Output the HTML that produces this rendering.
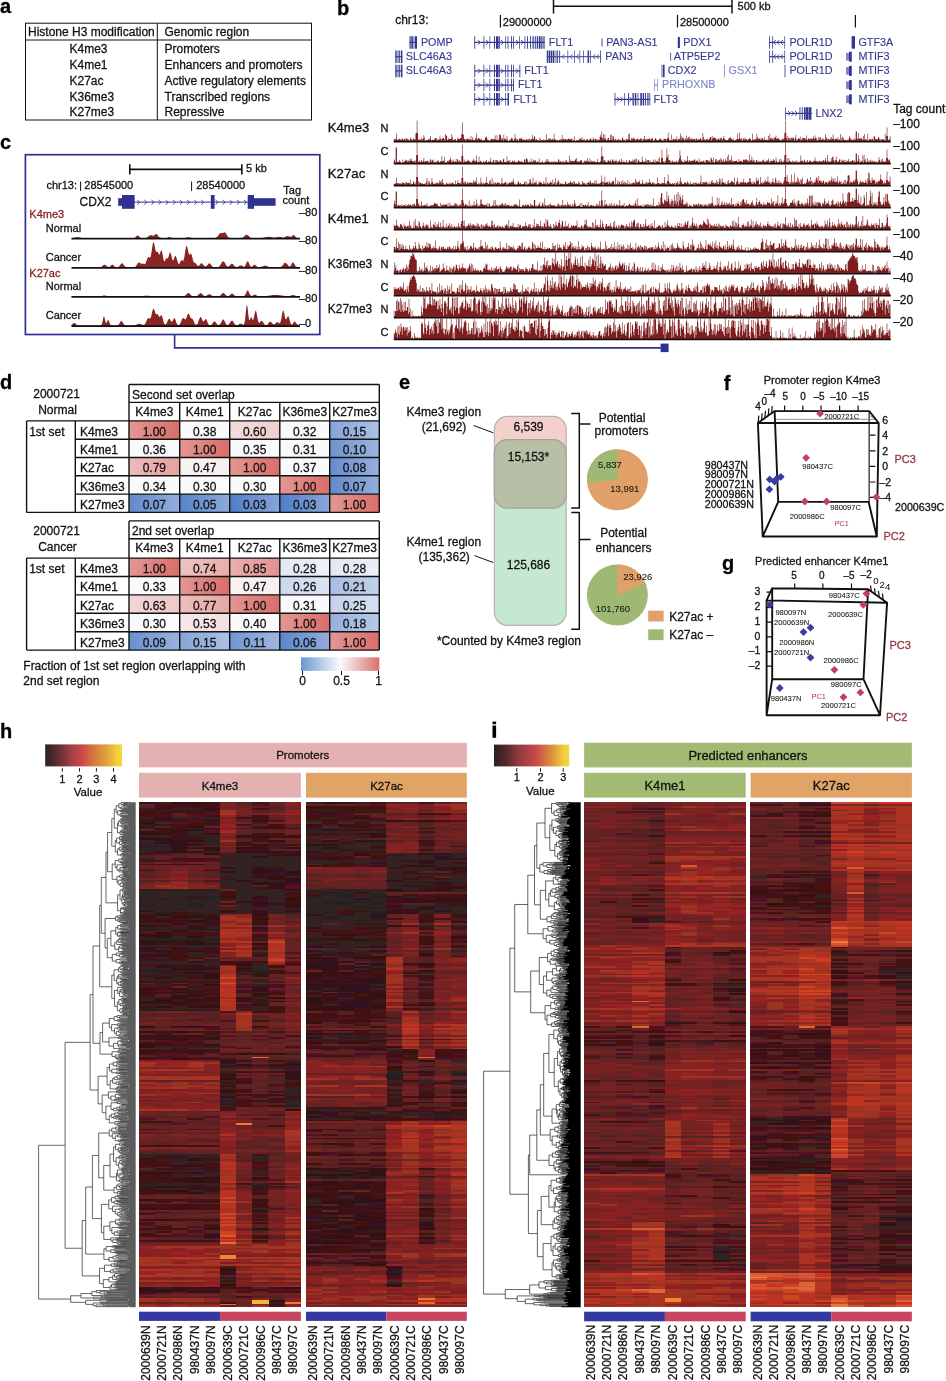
<!DOCTYPE html>
<html><head><meta charset="utf-8"><title>Figure</title>
<style>
html,body{margin:0;padding:0;background:#fff;}
body{width:946px;height:1381px;overflow:hidden;font-family:"Liberation Sans", sans-serif;}
svg{display:block;font-family:"Liberation Sans", sans-serif;}
svg text{font-family:"Liberation Sans", sans-serif;stroke-width:.28px;paint-order:stroke;}
svg{will-change:transform;}
</style></head><body>
<svg width="946" height="1381" viewBox="0 0 946 1381">
<rect width="946" height="1381" fill="#fff"/>
<text x="0" y="12.5" font-size="20" fill="#000" stroke="#000" font-weight="bold">a</text>
<rect x="25.5" y="23.2" width="286" height="96.8" fill="none" stroke="#111" stroke-width="1"/>
<line x1="25.5" y1="40" x2="311.5" y2="40" stroke="#111" stroke-width="1"/>
<line x1="157.3" y1="23.2" x2="157.3" y2="120" stroke="#111" stroke-width="1"/>
<text x="28" y="35.6" font-size="12" fill="#111" stroke="#111">Histone H3 modification</text>
<text x="164.5" y="35.6" font-size="12" fill="#111" stroke="#111">Genomic region</text>
<text x="69.5" y="53.1" font-size="12" fill="#111" stroke="#111">K4me3</text>
<text x="164.5" y="53.1" font-size="12" fill="#111" stroke="#111">Promoters</text>
<text x="69.5" y="68.9" font-size="12" fill="#111" stroke="#111">K4me1</text>
<text x="164.5" y="68.9" font-size="12" fill="#111" stroke="#111">Enhancers and promoters</text>
<text x="69.5" y="84.7" font-size="12" fill="#111" stroke="#111">K27ac</text>
<text x="164.5" y="84.7" font-size="12" fill="#111" stroke="#111">Active regulatory elements</text>
<text x="69.5" y="100.5" font-size="12" fill="#111" stroke="#111">K36me3</text>
<text x="164.5" y="100.5" font-size="12" fill="#111" stroke="#111">Transcribed regions</text>
<text x="69.5" y="116.3" font-size="12" fill="#111" stroke="#111">K27me3</text>
<text x="164.5" y="116.3" font-size="12" fill="#111" stroke="#111">Repressive</text>
<text x="337" y="15.3" font-size="20" fill="#000" stroke="#000" font-weight="bold">b</text>
<text x="395.2" y="23.6" font-size="12" fill="#111" stroke="#111">chr13:</text>
<line x1="553.5" y1="6.3" x2="732" y2="6.3" stroke="#111" stroke-width="1.6"/>
<line x1="553.5" y1="0" x2="553.5" y2="13.5" stroke="#111" stroke-width="1.5"/>
<line x1="732" y1="0" x2="732" y2="13.5" stroke="#111" stroke-width="1.5"/>
<text x="737.6" y="10.2" font-size="11" fill="#111" stroke="#111">500 kb</text>
<line x1="500.4" y1="14.9" x2="500.4" y2="27.4" stroke="#111" stroke-width="1.2"/>
<text x="502.8" y="25.5" font-size="11" fill="#111" stroke="#111">29000000</text>
<line x1="677.5" y1="14.9" x2="677.5" y2="27.4" stroke="#111" stroke-width="1.2"/>
<text x="679.9" y="25.5" font-size="11" fill="#111" stroke="#111">28500000</text>
<line x1="855.4" y1="14.9" x2="855.4" y2="27.4" stroke="#111" stroke-width="1.2"/>
<line x1="409.5" y1="42.4" x2="417" y2="42.4" stroke="#33388e" stroke-width="1.15"/>
<path d="M409.5 36.15h1.2v12.5h-1.2zM411.3 36.15h1.6v12.5h-1.6zM413.6 36.15h.8v12.5h-.8zM415 36.15h2v12.5h-2z" fill="#33388e"/>
<text x="420.9" y="45.7" font-size="10.8" fill="#33388e" stroke="#33388e" style="stroke-width:.12px">POMP</text>
<line x1="395.3" y1="56.7" x2="402.4" y2="56.7" stroke="#33388e" stroke-width="1.15"/>
<path d="M395.3 50.45h1.4v12.5h-1.4zM397.6 50.45h.9v12.5h-.9zM399.2 50.45h.9v12.5h-.9zM400.9 50.45h1.5v12.5h-1.5z" fill="#33388e"/>
<text x="405.8" y="60" font-size="10.8" fill="#33388e" stroke="#33388e" style="stroke-width:.12px">SLC46A3</text>
<line x1="395.3" y1="70.9" x2="402.4" y2="70.9" stroke="#33388e" stroke-width="1.15"/>
<path d="M395.3 64.65h1.4v12.5h-1.4zM397.6 64.65h.9v12.5h-.9zM399.2 64.65h.9v12.5h-.9zM400.9 64.65h1.5v12.5h-1.5z" fill="#33388e"/>
<text x="405.8" y="74.2" font-size="10.8" fill="#33388e" stroke="#33388e" style="stroke-width:.12px">SLC46A3</text>
<line x1="474.5" y1="42.4" x2="544.5" y2="42.4" stroke="#33388e" stroke-width="1.15"/>
<path d="M474.3 36.15h.9v12.5h-.9zM483.5 36.15h.8v12.5h-.8zM489.5 36.15h.7v12.5h-.7zM494 36.15h1v12.5h-1zM496 36.15h2.6v12.5h-2.6zM499.2 36.15h.8v12.5h-.8zM505 36.15h.7v12.5h-.7zM507.5 36.15h.9v12.5h-.9zM511 36.15h.9v12.5h-.9zM513.2 36.15h.8v12.5h-.8zM519 36.15h.7v12.5h-.7zM524.5 36.15h.8v12.5h-.8zM527 36.15h.9v12.5h-.9zM530 36.15h.9v12.5h-.9zM532.5 36.15h1.2v12.5h-1.2zM534.8 36.15h1v12.5h-1zM536.8 36.15h1.4v12.5h-1.4zM539 36.15h1.6v12.5h-1.6zM541.3 36.15h1.2v12.5h-1.2zM543.4 36.15h1.2v12.5h-1.2zM543.6 36.15h.9v12.5h-.9z" fill="#33388e"/>
<path d="M478 40l2.4 2.4l-2.4 2.4M486 40l2.4 2.4l-2.4 2.4M501 40l2.4 2.4l-2.4 2.4M516 40l2.4 2.4l-2.4 2.4M521 40l2.4 2.4l-2.4 2.4" fill="none" stroke="#33388e" stroke-width="0.9"/>
<text x="548.8" y="45.7" font-size="10.8" fill="#33388e" stroke="#33388e" style="stroke-width:.12px">FLT1</text>
<line x1="474.5" y1="70.9" x2="520.3" y2="70.9" stroke="#33388e" stroke-width="1.15"/>
<path d="M474.3 64.65h.9v12.5h-.9zM483.5 64.65h.8v12.5h-.8zM489.5 64.65h.7v12.5h-.7zM494 64.65h1v12.5h-1zM496 64.65h2.6v12.5h-2.6zM499.2 64.65h.8v12.5h-.8zM505 64.65h.7v12.5h-.7zM507.5 64.65h.9v12.5h-.9zM511 64.65h.9v12.5h-.9zM513.2 64.65h.8v12.5h-.8zM519.4 64.65h.9v12.5h-.9z" fill="#33388e"/>
<path d="M478 68.5l2.4 2.4l-2.4 2.4M486 68.5l2.4 2.4l-2.4 2.4M501 68.5l2.4 2.4l-2.4 2.4M516 68.5l2.4 2.4l-2.4 2.4" fill="none" stroke="#33388e" stroke-width="0.9"/>
<text x="524.3" y="74.2" font-size="10.8" fill="#33388e" stroke="#33388e" style="stroke-width:.12px">FLT1</text>
<line x1="474.5" y1="85.1" x2="514" y2="85.1" stroke="#33388e" stroke-width="1.15"/>
<path d="M474.3 78.85h.9v12.5h-.9zM483.5 78.85h.8v12.5h-.8zM489.5 78.85h.7v12.5h-.7zM494 78.85h1v12.5h-1zM496 78.85h2.6v12.5h-2.6zM499.2 78.85h.8v12.5h-.8zM505 78.85h.7v12.5h-.7zM507.5 78.85h.9v12.5h-.9zM511 78.85h.9v12.5h-.9zM513.2 78.85h.8v12.5h-.8zM513.1 78.85h.9v12.5h-.9z" fill="#33388e"/>
<path d="M478 82.7l2.4 2.4l-2.4 2.4M486 82.7l2.4 2.4l-2.4 2.4M501 82.7l2.4 2.4l-2.4 2.4" fill="none" stroke="#33388e" stroke-width="0.9"/>
<text x="518" y="88.4" font-size="10.8" fill="#33388e" stroke="#33388e" style="stroke-width:.12px">FLT1</text>
<line x1="474.5" y1="99.3" x2="509" y2="99.3" stroke="#33388e" stroke-width="1.15"/>
<path d="M474.3 93.05h.9v12.5h-.9zM483.5 93.05h.8v12.5h-.8zM489.5 93.05h.7v12.5h-.7zM494 93.05h1v12.5h-1zM496 93.05h2.6v12.5h-2.6zM499.2 93.05h.8v12.5h-.8zM505 93.05h.7v12.5h-.7zM507.5 93.05h.9v12.5h-.9zM508.1 93.05h.9v12.5h-.9z" fill="#33388e"/>
<path d="M478 96.9l2.4 2.4l-2.4 2.4M486 96.9l2.4 2.4l-2.4 2.4M501 96.9l2.4 2.4l-2.4 2.4" fill="none" stroke="#33388e" stroke-width="0.9"/>
<text x="513.2" y="102.6" font-size="10.8" fill="#33388e" stroke="#33388e" style="stroke-width:.12px">FLT1</text>
<path d="M601.6 38.4h.9v8h-.9z" fill="#33388e"/>
<text x="606.2" y="45.7" font-size="10.8" fill="#33388e" stroke="#33388e" style="stroke-width:.12px">PAN3-AS1</text>
<line x1="546.8" y1="56.7" x2="601" y2="56.7" stroke="#33388e" stroke-width="1.15"/>
<path d="M546.8 50.45h1.4v12.5h-1.4zM548.8 50.45h1.6v12.5h-1.6zM551 50.45h1v12.5h-1zM552.6 50.45h1.4v12.5h-1.4zM554.6 50.45h.8v12.5h-.8zM556.6 50.45h1.2v12.5h-1.2zM559.2 50.45h.9v12.5h-.9zM567.5 50.45h.7v12.5h-.7zM574 50.45h.7v12.5h-.7zM579.5 50.45h.7v12.5h-.7zM583 50.45h.7v12.5h-.7zM587.6 50.45h1.5v12.5h-1.5zM590 50.45h.7v12.5h-.7zM600.2 50.45h.8v12.5h-.8z" fill="#33388e"/>
<path d="M564.4 54.3l-2.4 2.4l2.4 2.4M572.4 54.3l-2.4 2.4l2.4 2.4M578.9 54.3l-2.4 2.4l2.4 2.4M595.4 54.3l-2.4 2.4l2.4 2.4M598.9 54.3l-2.4 2.4l2.4 2.4" fill="none" stroke="#33388e" stroke-width="0.9"/>
<text x="605.3" y="60" font-size="10.8" fill="#33388e" stroke="#33388e" style="stroke-width:.12px">PAN3</text>
<line x1="677.8" y1="42.4" x2="680" y2="42.4" stroke="#33388e" stroke-width="1.15"/>
<path d="M677.8 36.9h.8v11h-.8zM678.6 36.9h1.3v11h-1.3z" fill="#33388e"/>
<text x="683.2" y="45.7" font-size="10.8" fill="#33388e" stroke="#33388e" style="stroke-width:.12px">PDX1</text>
<path d="M670.3 52.7h.8v8h-.8z" fill="#33388e"/>
<text x="673.8" y="60" font-size="10.8" fill="#33388e" stroke="#33388e" style="stroke-width:.12px">ATP5EP2</text>
<path d="M661.6 64.65h.8v12.5h-.8zM663 64.65h1.6v12.5h-1.6z" fill="#33388e"/>
<text x="667.8" y="74.2" font-size="10.8" fill="#33388e" stroke="#33388e" style="stroke-width:.12px">CDX2</text>
<path d="M724 64.65h.8v12.5h-.8z" fill="#7f86c6"/>
<text x="728.6" y="74.2" font-size="10.8" fill="#7f86c6" stroke="#7f86c6" style="stroke-width:.12px">GSX1</text>
<line x1="654.2" y1="85.1" x2="657.8" y2="85.1" stroke="#7f86c6" stroke-width="1.15"/>
<path d="M654.2 78.85h.7v12.5h-.7zM657.2 78.85h.7v12.5h-.7z" fill="#7f86c6"/>
<text x="662" y="88.4" font-size="10.8" fill="#7f86c6" stroke="#7f86c6" style="stroke-width:.12px">PRHOXNB</text>
<line x1="614.6" y1="99.3" x2="650.2" y2="99.3" stroke="#33388e" stroke-width="1.15"/>
<path d="M614.6 93.05h.8v12.5h-.8zM624 93.05h.7v12.5h-.7zM628 93.05h.9v12.5h-.9zM632.5 93.05h1.3v12.5h-1.3zM634.8 93.05h1.5v12.5h-1.5zM637.6 93.05h.8v12.5h-.8zM640.3 93.05h1.6v12.5h-1.6zM642.7 93.05h1.4v12.5h-1.4zM645 93.05h.9v12.5h-.9zM647.3 93.05h1.2v12.5h-1.2zM649.4 93.05h.8v12.5h-.8z" fill="#33388e"/>
<path d="M617 96.9l2.4 2.4l-2.4 2.4M620.5 96.9l2.4 2.4l-2.4 2.4M629.5 96.9l2.4 2.4l-2.4 2.4" fill="none" stroke="#33388e" stroke-width="0.9"/>
<text x="653.6" y="102.6" font-size="10.8" fill="#33388e" stroke="#33388e" style="stroke-width:.12px">FLT3</text>
<line x1="769.2" y1="42.4" x2="785" y2="42.4" stroke="#33388e" stroke-width="1.15"/>
<path d="M769.2 36.15h.8v12.5h-.8zM772.3 36.15h.8v12.5h-.8zM784.4 36.15h.7v12.5h-.7z" fill="#33388e"/>
<path d="M775.9 40l-2.4 2.4l2.4 2.4M779.4 40l-2.4 2.4l2.4 2.4M782.9 40l-2.4 2.4l2.4 2.4" fill="none" stroke="#33388e" stroke-width="0.9"/>
<text x="789.4" y="45.7" font-size="10.8" fill="#33388e" stroke="#33388e" style="stroke-width:.12px">POLR1D</text>
<line x1="769.2" y1="56.7" x2="785" y2="56.7" stroke="#33388e" stroke-width="1.15"/>
<path d="M769.2 50.45h.8v12.5h-.8zM772.3 50.45h.8v12.5h-.8zM784.4 50.45h.7v12.5h-.7z" fill="#33388e"/>
<path d="M775.9 54.3l-2.4 2.4l2.4 2.4M779.4 54.3l-2.4 2.4l2.4 2.4M782.9 54.3l-2.4 2.4l2.4 2.4" fill="none" stroke="#33388e" stroke-width="0.9"/>
<text x="789.4" y="60" font-size="10.8" fill="#33388e" stroke="#33388e" style="stroke-width:.12px">POLR1D</text>
<path d="M784.6 64.65h.8v12.5h-.8z" fill="#33388e"/>
<text x="789.4" y="74.2" font-size="10.8" fill="#33388e" stroke="#33388e" style="stroke-width:.12px">POLR1D</text>
<path d="M851.6 36.15h3.4v12.5h-3.4z" fill="#33388e"/>
<text x="858.4" y="45.7" font-size="10.8" fill="#33388e" stroke="#33388e" style="stroke-width:.12px">GTF3A</text>
<rect x="846" y="52.9" width="3" height="7.6" fill="#7f86c6"/>
<path d="M849 51.7h2.8v10h-2.8z" fill="#33388e"/>
<text x="858.4" y="60" font-size="10.8" fill="#33388e" stroke="#33388e" style="stroke-width:.12px">MTIF3</text>
<rect x="846" y="67.1" width="3" height="7.6" fill="#7f86c6"/>
<path d="M849 65.9h2.8v10h-2.8z" fill="#33388e"/>
<text x="858.4" y="74.2" font-size="10.8" fill="#33388e" stroke="#33388e" style="stroke-width:.12px">MTIF3</text>
<rect x="846" y="81.3" width="3" height="7.6" fill="#7f86c6"/>
<path d="M849 80.1h2.8v10h-2.8z" fill="#33388e"/>
<text x="858.4" y="88.4" font-size="10.8" fill="#33388e" stroke="#33388e" style="stroke-width:.12px">MTIF3</text>
<rect x="846" y="95.5" width="3" height="7.6" fill="#7f86c6"/>
<path d="M849 94.3h2.8v10h-2.8z" fill="#33388e"/>
<text x="858.4" y="102.6" font-size="10.8" fill="#33388e" stroke="#33388e" style="stroke-width:.12px">MTIF3</text>
<line x1="785" y1="113.4" x2="812" y2="113.4" stroke="#33388e" stroke-width="1.15"/>
<path d="M785 107.15h.7v12.5h-.7zM799.5 107.15h.9v12.5h-.9zM801.8 107.15h.9v12.5h-.9zM804 107.15h1.6v12.5h-1.6zM806 107.15h2.4v12.5h-2.4zM808.8 107.15h2.6v12.5h-2.6z" fill="#33388e"/>
<path d="M788 111l2.4 2.4l-2.4 2.4M791.5 111l2.4 2.4l-2.4 2.4M795 111l2.4 2.4l-2.4 2.4" fill="none" stroke="#33388e" stroke-width="0.9"/>
<text x="815.5" y="116.7" font-size="10.8" fill="#33388e" stroke="#33388e" style="stroke-width:.12px">LNX2</text>
<text x="893.2" y="113.3" font-size="12" fill="#111" stroke="#111">Tag count</text>
<path d="M393.8 141.6v-2.5h.62v.5h.62h.62v-1h.62v-5h.62v6.5h.62h.62v-.5h.62v-1h.62v.5h.62v.5h.62h.62v.5h.62v-1.5h.62h.62v1.5h.62v-.5h.62v-.5h.62v1.5h.62v-2.5h.62v.5h.62v1h.62v-.5h.62v.5h.62v.5h.62v.5h.62v-1.5h.62v-1.5h.62v1.5h.62v1.5h.62v-.5h.62v-1.5h.62v.5h.62h.62v1h.62v-6.5h.62v-.5h.62v-12.5h.62v12.5h.62v7h.62v-1h.62v1h.62v-1h.62v1h.62v-2.5h.62v3h.62v-1.5h.62v-.5h.62v-3.5h.62v2.5h.62v3.5h.62v-1h.62h.62h.62h.62v-1h.62v.5h.62h.62v-1h.62v-2.5h.62v4.5h.62v-.5h.62v-.5h.62v.5h.62h.62v-.5h.62v-1.5h.62h.62h.62v1.5h.62v1h.62v-.5h.62v-1h.62v.5h.62v-4h.62v3.5h.62v1.5h.62v-2.5h.62v1h.62v-1h.62h.62v1h.62v1.5h.62v-6.5h.62v1.5h.62v.5h.62v4h.62h.62v-2h.62v1h.62h.62h.62h.62v-5h.62v3h.62v3.5h.62v-1h.62v.5h.62v-1h.62h.62v1h.62v1h.62v-2h.62v-1.5h.62v1.5h.62h.62h.62v-1h.62h.62v-4h.62v-11.5h.62v11.5h.62v1h.62v4h.62h.62v1.5h.62v-2h.62v1h.62v-.5h.62v-.5h.62h.62v1.5h.62v-1h.62v.5h.62v-3.5h.62v4h.62v-.5h.62v-2.5h.62v3h.62v.5h.62v-.5h.62v-1.5h.62h.62v-5h.62v6.5h.62v-1.5h.62v-.5h.62v.5h.62v.5h.62v.5h.62h.62v-1h.62v1.5h.62v.5h.62h.62v-.5h.62h.62v-2.5h.62h.62v-1h.62v2h.62v1.5h.62h.62h.62v1h.62v-1h.62v-.5h.62v-1h.62v1h.62v-.5h.62h.62v.5h.62v-.5h.62v-3.5h.62v4h.62v.5h.62v-5h.62v5h.62h.62v-1h.62v-4.5h.62h.62v1h.62v4.5h.62v-2h.62v.5h.62v2h.62v-6h.62v4.5h.62v-1h.62v1.5h.62v.5h.62v-4h.62v3.5h.62v1.5h.62h.62v-1h.62v.5h.62v-1.5h.62v-.5h.62v-1h.62v1h.62v2.5h.62v-1h.62v-1h.62v-5h.62v4h.62v2.5h.62v-2h.62v1h.62h.62v1.5h.62v-2.5h.62h.62h.62v.5h.62v-1.5h.62v2.5h.62v-1h.62v1h.62v-.5h.62v1h.62v-.5h.62v-1h.62v.5h.62h.62v1h.62v-1.5h.62v-.5h.62v2h.62v-1h.62h.62v-.5h.62v-4h.62v4h.62h.62v-3h.62v1h.62v3h.62v-1h.62v.5h.62v.5h.62h.62v.5h.62v.5h.62v-3.5h.62v1.5h.62v1.5h.62v-.5h.62h.62h.62v-.5h.62v1h.62v-1h.62v1h.62v-1h.62v-5.5h.62v6h.62h.62v-1.5h.62v.5h.62v-.5h.62h.62v1.5h.62v-.5h.62v-1h.62v1h.62v.5h.62v-6.5h.62v5.5h.62v.5h.62h.62v1h.62v-.5h.62h.62v1h.62v-1.5h.62v.5h.62v-1h.62v1.5h.62v-1h.62v-4.5h.62v4.5h.62v-1h.62v1h.62h.62v-.5h.62h.62v1h.62v-.5h.62h.62v-1h.62v.5h.62h.62v.5h.62v-.5h.62h.62v-.5h.62v2.5h.62v-1h.62h.62v-3.5h.62v4h.62v.5h.62v-1h.62v.5h.62v-.5h.62v.5h.62v-1h.62h.62v-1.5h.62v1h.62v1h.62v-3h.62v3h.62v-1h.62v1.5h.62v-1.5h.62v1.5h.62h.62v-1h.62h.62v-.5h.62v1.5h.62v-.5h.62h.62v-1h.62v-1h.62v1.5h.62v1h.62v-.5h.62v-2.5h.62v1.5h.62v1.5h.62v-2h.62v.5h.62h.62v1.5h.62v-.5h.62v-1h.62v1.5h.62v-.5h.62v-3h.62v-2h.62v2.5h.62v-6h.62v6h.62v2h.62v-5.5h.62v4.5h.62v-4h.62v4h.62v1.5h.62v.5h.62v-1h.62v-1.5h.62h.62v2h.62h.62v-5h.62v5h.62v-5.5h.62v5h.62v-3.5h.62v.5h.62v4h.62v-1h.62v-.5h.62v.5h.62v1h.62v-1h.62v.5h.62v-1h.62v1.5h.62v-1h.62h.62v1h.62h.62v-2.5h.62v-.5h.62v2.5h.62h.62h.62v1h.62v-2h.62h.62v1h.62v-1h.62v-4.5h.62v5h.62v-6h.62v6.5h.62v.5h.62v-2.5h.62h.62v1.5h.62v-2h.62v1.5h.62v-.5h.62v1h.62v1h.62v-1.5h.62h.62v-.5h.62v1h.62v.5h.62v-.5h.62v-1h.62v.5h.62v-1h.62v3h.62v-1.5h.62h.62v-.5h.62v-3h.62v4h.62v-1h.62v.5h.62v-1h.62v1h.62v-.5h.62h.62v-1h.62v2h.62v-.5h.62v-1h.62v.5h.62v-1.5h.62v3.5h.62v-1h.62h.62v-1.5h.62v-.5h.62v1.5h.62v.5h.62v.5h.62v-.5h.62v-.5h.62h.62v-1.5h.62v1h.62v1h.62v-.5h.62v1.5h.62v-2h.62v1.5h.62v-1.5h.62v-.5h.62v.5h.62v1.5h.62v-1.5h.62v-1h.62v-5.5h.62v5.5h.62v2h.62v.5h.62v-.5h.62v-5.5h.62v6h.62v-.5h.62v-1.5h.62v1h.62h.62v-.5h.62h.62v1h.62v-3.5h.62v4h.62v-1.5h.62h.62v.5h.62v-1.5h.62v-4.5h.62v6.5h.62v-4h.62v2.5h.62v-1h.62v1h.62v2h.62v-1h.62v-1.5h.62v2h.62v-4.5h.62v3h.62v1h.62v-2.5h.62v-.5h.62v3h.62v-1h.62v1h.62v-1h.62h.62v1.5h.62v-1h.62h.62h.62v1.5h.62v-2.5h.62v1h.62v1h.62v-.5h.62h.62v-.5h.62v.5h.62v-1.5h.62v.5h.62v2h.62v-.5h.62v-7h.62v4h.62v2.5h.62h.62v1h.62v-1.5h.62v.5h.62v-1h.62v1.5h.62h.62v-1h.62v-.5h.62v-1.5h.62h.62v3.5h.62v-4.5h.62v3h.62v-1h.62v-1h.62v1h.62v.5h.62v-.5h.62v2h.62v-1h.62v1h.62v-1.5h.62h.62v1.5h.62v-1h.62v-1.5h.62v.5h.62v2.5h.62v-1.5h.62v-1h.62v-2h.62v3h.62v1h.62v-.5h.62v1h.62v-.5h.62h.62v-.5h.62v-1h.62v-.5h.62v-1h.62v1h.62v1h.62h.62v1h.62v-1.5h.62v2h.62h.62v-.5h.62h.62v-.5h.62v-.5h.62v-5.5h.62v5.5h.62h.62v-6.5h.62v6h.62v.5h.62v-1h.62v2h.62v.5h.62v-2h.62h.62v1h.62v-2h.62v2h.62h.62v-.5h.62v1.5h.62v-1.5h.62v.5h.62v-1.5h.62v1h.62h.62v1.5h.62h.62v-7h.62v6.5h.62v-.5h.62v.5h.62v-1.5h.62v1h.62v-.5h.62v-5h.62v3h.62v2.5h.62v-1h.62h.62h.62v1.5h.62v-2h.62v1.5h.62v-1.5h.62v1h.62v1h.62v-3h.62v3h.62h.62h.62v-.5h.62h.62v1h.62v-4.5h.62v3.5h.62v-5.5h.62v4h.62v1.5h.62v-1.5h.62v1h.62v-1.5h.62v2.5h.62v-1.5h.62v-1h.62h.62v-2h.62v3.5h.62v-1h.62v1h.62v-.5h.62h.62v1.5h.62h.62v.5h.62v-.5h.62v-1.5h.62v.5h.62v.5h.62v-1h.62v-5.5h.62v-12.5h.62v12.5h.62v5.5h.62v-2.5h.62v4.5h.62v-2.5h.62v-.5h.62v2h.62v-1.5h.62v2h.62v-2h.62v-1h.62v2h.62v-1.5h.62v1h.62v2h.62v-2.5h.62v-3h.62v5.5h.62v-1h.62h.62v-1h.62v-.5h.62v1h.62v-2.5h.62v4h.62v-1.5h.62v1h.62v-2.5h.62v.5h.62h.62v.5h.62v-.5h.62v2h.62v-4.5h.62v3.5h.62v1.5h.62v-2h.62h.62v.5h.62v1h.62v-2h.62v.5h.62v.5h.62h.62v-2.5h.62v1.5h.62v1.5h.62v-4h.62v2.5h.62h.62v2.5h.62v-.5h.62v-3h.62v3h.62v-2.5h.62v2h.62v-2.5h.62v2.5h.62h.62v-1h.62h.62v1.5h.62h.62v-.5h.62v-5.5h.62v4.5h.62v-1.5h.62v3.5h.62v-1.5h.62h.62v.5h.62v.5h.62v-1.5h.62v-1.5h.62v2.5h.62v-.5h.62v-4.5h.62v4h.62v1h.62v.5h.62v-1.5h.62v.5h.62v-.5h.62v1h.62v-2h.62v2.5h.62v-1h.62v1h.62v-6h.62v6.5h.62v-3h.62v-1h.62v3.5h.62v-2h.62v1.5h.62v.5h.62h.62h.62v.5h.62v-1h.62v1h.62v-1h.62v-2h.62v-1.5h.62v2.5h.62v1h.62h.62h.62v1h.62v-1h.62v-1.5h.62v2h.62v-.5h.62v-8h.62h.62v7h.62v1h.62v-6.5h.62v5.5h.62h.62h.62v.5h.62v-1.5h.62v2.5h.62v-1h.62v-3h.62v4h.62v-6h.62v5h.62v1h.62v-1h.62v1.5h.62v-7h.62v7h.62v-.5h.62v-1h.62h.62v-.5h.62v1.5h.62v-.5h.62v-1h.62v2h.62v-4h.62v-.5h.62v3.5h.62v-1h.62v.5h.62h.62v.5h.62v-2h.62v-.5h.62v2.5h.62v-.5h.62v1.5h.62v-1h.62v-.5h.62v.5h.62v-.5h.62v1h.62h.62v-6h.62v6.5h.62v-4.5h.62v-8.5h.62v8.5h.62v4h.62h.62v-1h.62v-3h.62V141.6z" fill="#7e1d1d"/>
<line x1="393.8" y1="141.8" x2="890.8" y2="141.8" stroke="#111" stroke-width="1.5"/>
<text x="380.4" y="132.3" font-size="11" fill="#111" stroke="#111">N</text>
<text x="327.8" y="132.3" font-size="12" fill="#111" stroke="#111" textLength="41.5" lengthAdjust="spacingAndGlyphs">K4me3</text>
<text x="893.2" y="127.5" font-size="12" fill="#111" stroke="#111">–100</text>
<path d="M393.8 163.58v-2.5h.62v-1.5h.62v3h.62v-15h.62h.62v14.5h.62h.62v-.5h.62v.5h.62v-2h.62v1.5h.62v1h.62h.62v.5h.62v-3.5h.62v2.5h.62h.62v-1h.62v-1.5h.62v1.5h.62v-1h.62v.5h.62v1.5h.62v-.5h.62v-2h.62v1.5h.62h.62v-2.5h.62v1h.62v1.5h.62h.62v.5h.62h.62v-1h.62v2h.62v-2h.62v-5.5h.62v-12.5h.62v12.5h.62v7h.62v-.5h.62v-1h.62v1.5h.62h.62v-2h.62v1.5h.62v.5h.62v-1h.62v-3h.62v4h.62v-1h.62v.5h.62h.62v-1h.62v.5h.62h.62v1.5h.62h.62v-2h.62v-1.5h.62v3h.62v-2h.62v.5h.62v-1h.62v3h.62v-.5h.62v-1h.62v2h.62v-1.5h.62v.5h.62v-1h.62v-1h.62v1.5h.62v1h.62v-.5h.62v-1h.62v.5h.62v-5.5h.62v5.5h.62v-.5h.62v-.5h.62v-3.5h.62v5.5h.62v-.5h.62v1h.62v-1h.62v-1h.62v-.5h.62v1h.62v-1h.62v-1h.62v-2h.62v2.5h.62v2h.62h.62v-2.5h.62v1.5h.62v.5h.62v.5h.62v-.5h.62v-2.5h.62v3h.62v-3h.62v1.5h.62v1.5h.62v-2h.62v1.5h.62h.62v.5h.62v-6h.62v-11.5h.62v11.5h.62v6.5h.62v-3h.62v2.5h.62v-.5h.62h.62h.62v-.5h.62v-1.5h.62v1h.62v.5h.62v1h.62v-1h.62v2h.62v-1h.62v-1h.62v-.5h.62v-2h.62v3h.62v-1h.62v1h.62v-1h.62v-5h.62v6h.62v1h.62v-.5h.62v-5.5h.62v5.5h.62v-1h.62h.62v1h.62v1h.62v-.5h.62v-1.5h.62v.5h.62v1h.62v-.5h.62v-1h.62v-1h.62v2h.62v.5h.62v-1h.62h.62h.62h.62v-3.5h.62v4.5h.62v-.5h.62h.62v-1.5h.62v-.5h.62v3h.62v-3h.62v2h.62v-2h.62v2h.62v-2h.62v1.5h.62v.5h.62v-.5h.62v-1.5h.62v.5h.62v1h.62h.62v1h.62v-3h.62v-1h.62v3.5h.62h.62h.62h.62v-5.5h.62v4.5h.62v.5h.62v-1h.62v1h.62v-1.5h.62v3h.62v-1h.62h.62v-1.5h.62v.5h.62v1h.62v-1.5h.62v1h.62v1h.62v-1h.62v.5h.62v.5h.62v-1h.62v-1.5h.62v1h.62v.5h.62h.62v.5h.62v-1h.62v1h.62h.62v.5h.62v-3h.62h.62v2.5h.62v-3h.62v-1h.62v1.5h.62v2.5h.62v.5h.62v-1.5h.62v1h.62h.62v-3.5h.62v4h.62v-1.5h.62v1h.62v-2.5h.62v2h.62v-1.5h.62v.5h.62v1h.62v1h.62v-.5h.62v-1h.62v1.5h.62v-4h.62v4h.62h.62v-.5h.62v.5h.62v-1.5h.62v1.5h.62h.62v.5h.62v-1.5h.62h.62v.5h.62v-2.5h.62v2.5h.62v-3h.62v2h.62v.5h.62v.5h.62v.5h.62v-.5h.62v-.5h.62v1h.62v-1h.62v.5h.62v-1h.62v1.5h.62v-1h.62v.5h.62v-.5h.62v1h.62v-.5h.62v-3h.62v1h.62v2h.62v-1h.62v.5h.62v1h.62v-.5h.62v-.5h.62v-.5h.62v1.5h.62h.62v-2h.62v1h.62v-1.5h.62v2h.62h.62v.5h.62v-1h.62v-6h.62v6.5h.62v-2.5h.62v1.5h.62h.62h.62h.62v.5h.62v-.5h.62v-1h.62v-1h.62v-1h.62v3.5h.62h.62v.5h.62v-1h.62v1h.62v-1h.62v-1h.62h.62v1h.62v2h.62v-.5h.62h.62v-2h.62v1h.62v-.5h.62v-.5h.62v1.5h.62v-4h.62v3h.62v.5h.62h.62v-3h.62v3.5h.62v-1.5h.62v1.5h.62v-.5h.62v-.5h.62v.5h.62v-.5h.62v1h.62h.62v.5h.62v-.5h.62v-3h.62v3h.62h.62v.5h.62v-.5h.62v-1h.62v-4.5h.62v-10h.62v10h.62v-.5h.62v5.5h.62v-1h.62v-.5h.62v1.5h.62v.5h.62v.5h.62v-.5h.62v-2h.62v.5h.62v1h.62v-.5h.62v-1.5h.62v1.5h.62v1.5h.62v-2.5h.62v-1h.62v2.5h.62v-1h.62v1.5h.62v-1h.62v-1.5h.62v2h.62v1.5h.62v-2h.62v.5h.62h.62v-2h.62v2.5h.62h.62v-3.5h.62v4h.62v-2h.62v1.5h.62v-.5h.62v.5h.62v.5h.62v-.5h.62v-2h.62v3h.62v-1.5h.62v1h.62v-2h.62v-.5h.62v2h.62v-.5h.62v-.5h.62v1h.62v-2.5h.62v1h.62v1h.62v-2h.62v-.5h.62v3.5h.62v-4h.62v4.5h.62v-2h.62v-1.5h.62v1h.62v1.5h.62h.62h.62h.62v-5.5h.62v4h.62v1.5h.62v-.5h.62h.62v.5h.62v-3.5h.62v2h.62v2h.62v-2.5h.62v.5h.62v-.5h.62v2.5h.62v-2h.62v2h.62v-.5h.62h.62h.62v-2.5h.62v2h.62v1h.62v-3h.62v3h.62v-1h.62v-.5h.62v.5h.62v-2.5h.62v3h.62v-5h.62v5.5h.62h.62v-4.5h.62v-8.5h.62v8.5h.62v4h.62v-1h.62v2h.62v-2.5h.62v1h.62v-4h.62v-9h.62v9h.62v-3h.62v5.5h.62v.5h.62v-.5h.62v2.5h.62h.62v-1.5h.62v-.5h.62v1.5h.62h.62h.62v-.5h.62v.5h.62v-1.5h.62v2h.62h.62v-1h.62v-1h.62v-2h.62v-8h.62v5h.62v5.5h.62v-1.5h.62v2.5h.62v-.5h.62v1h.62v-3h.62v2.5h.62v-1h.62v.5h.62v-1h.62v-4.5h.62v4.5h.62v1.5h.62v-2h.62v1.5h.62v-.5h.62v-.5h.62v1h.62v-.5h.62v-1h.62v1h.62v-1.5h.62h.62v2.5h.62v-1.5h.62v.5h.62v-.5h.62v1h.62v.5h.62v-3.5h.62v4h.62v-1h.62v-.5h.62v.5h.62v.5h.62v-.5h.62v-1h.62v.5h.62v1.5h.62h.62v-2.5h.62h.62v.5h.62v-.5h.62v1.5h.62h.62v-1h.62v2h.62v-5h.62v1h.62v1.5h.62v2h.62v-4.5h.62v5.5h.62v-1h.62v-3h.62v2h.62v-2h.62v3h.62v-1.5h.62v1h.62v-1.5h.62v-.5h.62v3h.62v-4.5h.62v1.5h.62v1h.62v1.5h.62v-3h.62v2.5h.62v.5h.62v-1.5h.62v-2h.62v2.5h.62v.5h.62v-5h.62v-2h.62v7h.62v-1h.62v-1h.62v1h.62v-4.5h.62v6h.62v-1.5h.62v.5h.62v1h.62v-1h.62h.62h.62v-.5h.62v.5h.62v1h.62h.62v-3h.62v2.5h.62v-.5h.62v-.5h.62v.5h.62v1h.62h.62v-2.5h.62v.5h.62v.5h.62v-1h.62h.62v-.5h.62v1h.62v1h.62v-1h.62v1.5h.62v-7h.62v7h.62v-1h.62v-.5h.62v-3.5h.62v5h.62v-2h.62v1h.62h.62v2h.62v-.5h.62v-1.5h.62v-.5h.62v2h.62v-1.5h.62v1.5h.62v-.5h.62h.62h.62h.62v.5h.62v-2h.62v1.5h.62v-2h.62v2h.62h.62v.5h.62v-1.5h.62v1h.62v-1h.62h.62v-2h.62v3h.62v1h.62v-1h.62v-2h.62v1.5h.62h.62h.62v-2h.62v1h.62v1h.62v1.5h.62v-5h.62v3.5h.62v1.5h.62v-.5h.62h.62v-.5h.62v-2.5h.62v3.5h.62v-3.5h.62v2h.62v.5h.62v1h.62v-1h.62v-1h.62v-5.5h.62v-12.5h.62v12.5h.62v6.5h.62v.5h.62v-4h.62v4h.62v-3.5h.62v2.5h.62h.62v1h.62h.62v.5h.62v-2h.62v1h.62h.62v.5h.62v-1h.62v1.5h.62v-2h.62v1h.62v1h.62v-1h.62v1h.62v-.5h.62v-.5h.62v-6h.62v5.5h.62v-.5h.62v.5h.62v1.5h.62v-2h.62v-1h.62v2h.62v.5h.62v.5h.62v-1.5h.62v-1h.62v2h.62h.62v-1.5h.62h.62v.5h.62v1h.62h.62v-.5h.62v.5h.62v-1.5h.62v.5h.62v-3.5h.62v3.5h.62h.62v.5h.62h.62v-.5h.62v1h.62v-1.5h.62v1h.62h.62v-.5h.62v.5h.62h.62v-1.5h.62v.5h.62v1h.62v-1h.62v-2.5h.62v3h.62v1h.62v-7h.62v5.5h.62v1.5h.62h.62v-1h.62v1h.62v-4h.62v3h.62v-4h.62v-.5h.62v4h.62v2h.62v-2.5h.62v.5h.62v-4h.62v4h.62v1.5h.62v-.5h.62h.62v-2h.62h.62v2.5h.62v.5h.62v-3h.62v1.5h.62v-1h.62v1.5h.62v-2h.62v2.5h.62h.62v-2h.62v2h.62v-1h.62v.5h.62v-2.5h.62v2.5h.62h.62v-.5h.62v1.5h.62v-1.5h.62v-1h.62v.5h.62v.5h.62v1.5h.62v-2h.62v1.5h.62v-8.5h.62h.62v8h.62v-.5h.62v-6h.62v4h.62v3.5h.62v-.5h.62v-1.5h.62v1h.62h.62v-6h.62v7h.62v-8h.62v6h.62v-1.5h.62v3h.62h.62v-4h.62v3.5h.62v.5h.62v-2h.62v2h.62v-.5h.62v-2h.62v2h.62v.5h.62v-1.5h.62v.5h.62v1h.62v-1h.62v1.5h.62v-1h.62h.62v1h.62v-.5h.62v-.5h.62v-4.5h.62v3h.62v1h.62v1.5h.62v-3h.62v2.5h.62v-3.5h.62v3h.62v-.5h.62v1h.62v-.5h.62h.62v-3.5h.62v-8.5h.62v8.5h.62v2.5h.62v-.5h.62v-1h.62v2.5h.62V163.58z" fill="#7e1d1d"/>
<line x1="393.8" y1="163.78" x2="890.8" y2="163.78" stroke="#111" stroke-width="1.5"/>
<text x="380.4" y="154.9" font-size="11" fill="#111" stroke="#111">C</text>
<text x="893.2" y="149.6" font-size="12" fill="#111" stroke="#111">–100</text>
<path d="M393.8 185.56v-1.5h.62v-.5h.62v.5h.62v-1.5h.62v-5h.62v6h.62v-.5h.62v.5h.62h.62h.62v.5h.62v-1h.62v.5h.62h.62v-1.5h.62v1h.62h.62v.5h.62v1h.62v-2.5h.62h.62v1.5h.62v-.5h.62v-.5h.62v1h.62v-.5h.62v-3.5h.62v5h.62v-1h.62v.5h.62h.62v-2h.62v-1h.62v3h.62v.5h.62v-2h.62v-5.5h.62v-12.5h.62v12.5h.62v4h.62v3.5h.62v-2h.62h.62v.5h.62v.5h.62v.5h.62v-1h.62v1h.62h.62h.62v-1h.62v1.5h.62v-2.5h.62v-4h.62v7h.62v-4.5h.62v3h.62v-2h.62v2h.62v1h.62v-1.5h.62v-5h.62v4h.62v1.5h.62v.5h.62h.62v-1h.62v.5h.62v.5h.62v-2h.62v1h.62h.62v.5h.62v-3h.62v3h.62v-2h.62v-1h.62v3h.62v-4.5h.62v4h.62v.5h.62v1h.62v.5h.62v-1h.62v-.5h.62v-1h.62v1.5h.62v-1h.62v1h.62v.5h.62v-2h.62v1h.62v.5h.62v-1h.62h.62v-1h.62v2h.62h.62v.5h.62v-4h.62v3.5h.62h.62v-1.5h.62v-2.5h.62v3h.62v.5h.62v-.5h.62v-.5h.62v1.5h.62v-6h.62v-11.5h.62v11.5h.62v4.5h.62v1.5h.62v-2.5h.62h.62v1.5h.62v1h.62v-1h.62v-1h.62v2h.62v-2h.62v1h.62v-.5h.62v.5h.62v-.5h.62v1h.62v-1h.62v-2.5h.62v3h.62v-1.5h.62v-.5h.62v1.5h.62v-5h.62v6.5h.62h.62v-1.5h.62v2h.62v-1h.62h.62v-6h.62v5h.62v1h.62v1h.62v-2h.62v1.5h.62v-.5h.62v-1h.62v.5h.62v-6h.62v6h.62h.62v1h.62v-.5h.62v-2.5h.62v-1h.62v3.5h.62v1h.62v-6.5h.62v6h.62v-.5h.62v-1.5h.62v2.5h.62v-2h.62v.5h.62v1h.62v-1.5h.62h.62h.62v.5h.62h.62v1h.62v.5h.62v-1.5h.62v-5h.62v5.5h.62h.62h.62v-.5h.62v-1h.62h.62v2.5h.62v-2h.62v2h.62v-1h.62h.62v-1h.62h.62v.5h.62v-.5h.62v-1h.62v1h.62v-4h.62v3h.62v2.5h.62v.5h.62v-1h.62v1.5h.62v-1h.62v-.5h.62v-2.5h.62v1h.62v2h.62v-1h.62h.62v1h.62v.5h.62v-.5h.62h.62h.62v-1.5h.62v-1.5h.62v3h.62v-2.5h.62v3.5h.62v-1.5h.62v.5h.62v-.5h.62v-.5h.62v-4h.62v.5h.62v3h.62v1.5h.62v-.5h.62v-6h.62v6h.62h.62v-1.5h.62v1h.62v-2.5h.62v3h.62v1.5h.62v-1h.62v-.5h.62v-2.5h.62v2h.62v-1h.62v.5h.62v.5h.62v1h.62h.62v-2.5h.62v2.5h.62v-1.5h.62v1.5h.62v-7h.62v7.5h.62v-2h.62v.5h.62v1h.62v-.5h.62v-.5h.62v-1.5h.62v1h.62h.62v2h.62v-5h.62v4h.62v.5h.62v-2h.62v-4h.62v7h.62v-2h.62v.5h.62v-2.5h.62v-1h.62v2h.62v2.5h.62v-1.5h.62v1h.62h.62v-1h.62v1h.62h.62h.62v.5h.62v-2.5h.62v-.5h.62v2.5h.62v-.5h.62v.5h.62v-1h.62v.5h.62v-.5h.62v-1h.62v-1h.62v2h.62v.5h.62v-1.5h.62v2h.62v-3h.62v1h.62v2h.62v-.5h.62h.62h.62v.5h.62v-.5h.62v-2h.62v1.5h.62v1h.62v1h.62v-.5h.62v-.5h.62v-3h.62v1.5h.62v1h.62h.62v-.5h.62v1.5h.62v-1h.62v1.5h.62v-2h.62v-.5h.62v-.5h.62v1.5h.62v-3h.62v1h.62v1.5h.62v1h.62v-1h.62v-.5h.62v1h.62h.62v-3h.62v3.5h.62v-3.5h.62v3h.62v.5h.62v-.5h.62h.62v.5h.62v-1h.62h.62v-1.5h.62v-6h.62v6h.62v3.5h.62v-3h.62v.5h.62v-6h.62v6.5h.62v-.5h.62v-.5h.62v.5h.62v-1h.62v2.5h.62v-1.5h.62v-1h.62v2h.62h.62v-1h.62v-1h.62v-.5h.62h.62v2.5h.62v1h.62v-7h.62v7h.62v-.5h.62v-.5h.62v-3h.62v4h.62v-2h.62v-1h.62v2.5h.62v.5h.62v-3h.62v2.5h.62v-4h.62v3h.62v1h.62v-2.5h.62v1h.62v2h.62v-1.5h.62v1h.62v-4h.62v4.5h.62v-.5h.62v-1.5h.62v2h.62v-1h.62h.62v-.5h.62v.5h.62v-1.5h.62v1.5h.62v-.5h.62v-4h.62v4.5h.62v-2.5h.62v1h.62v1h.62v-1h.62h.62v-1.5h.62v3.5h.62v-.5h.62v.5h.62v-1h.62v-3h.62v3.5h.62v.5h.62v-.5h.62v.5h.62v-2h.62v.5h.62v1.5h.62v-1.5h.62v.5h.62v-.5h.62v-3.5h.62v4h.62v-1h.62v2h.62v-.5h.62v-1.5h.62v.5h.62v1h.62h.62h.62v1h.62v-1h.62v.5h.62v-6.5h.62v5.5h.62h.62v.5h.62h.62v.5h.62h.62v-1.5h.62v.5h.62h.62v.5h.62v-6.5h.62v6h.62v1h.62v.5h.62v-2h.62v-1.5h.62v-6.5h.62v6.5h.62v2h.62v1h.62v-1.5h.62v1.5h.62h.62v-1h.62v.5h.62v.5h.62v-.5h.62v-1h.62v2.5h.62v-2h.62v.5h.62v-2.5h.62v2h.62v1.5h.62v-.5h.62v-3h.62v-3.5h.62v5.5h.62v-1.5h.62v2.5h.62h.62h.62v-1.5h.62v.5h.62v-.5h.62h.62v1.5h.62v-2.5h.62v1h.62v1h.62v1h.62v-1h.62v-2h.62v3h.62v-.5h.62v-.5h.62v.5h.62v-1.5h.62h.62v2.5h.62v-2h.62v-.5h.62v1h.62h.62v.5h.62v-1h.62v1h.62v-.5h.62v-1.5h.62v-6.5h.62v8.5h.62h.62v-2h.62h.62v1.5h.62v-1.5h.62v-.5h.62v1.5h.62v-1h.62v.5h.62v2h.62v-.5h.62v-2h.62v2h.62h.62v-1h.62v-2h.62v-1h.62v3h.62h.62v-1h.62v2h.62v-1h.62h.62v-3h.62v4h.62v-2.5h.62v2.5h.62v-2h.62v-3.5h.62v1h.62v5h.62v-1.5h.62v-5h.62v4h.62h.62v1h.62v.5h.62v-1.5h.62v2h.62v.5h.62v-.5h.62v-2.5h.62v-1.5h.62v3h.62v.5h.62v-.5h.62v-1h.62v-1h.62v.5h.62h.62v1.5h.62v-1h.62v-4.5h.62v7h.62h.62v-2h.62v-1.5h.62v-3.5h.62v6.5h.62v-2h.62v2h.62v-1.5h.62h.62v-1h.62v1.5h.62v-.5h.62v-.5h.62v-3h.62v4h.62v-.5h.62v-.5h.62v1.5h.62v-.5h.62v-.5h.62v-.5h.62h.62v-4h.62v4h.62v-3.5h.62v5h.62v-1.5h.62v2h.62v-2.5h.62v2h.62v-2h.62v1.5h.62v1h.62v-6.5h.62v3.5h.62v.5h.62v-3h.62v2h.62v4h.62v-.5h.62v-7h.62v6h.62v-.5h.62v1.5h.62v-2.5h.62v1.5h.62v-2h.62v2h.62v-3.5h.62v2.5h.62v-.5h.62h.62v-5h.62v6h.62h.62v-1h.62v2h.62v.5h.62v-2h.62h.62v-3.5h.62v4h.62h.62v1h.62v-6h.62v2h.62v3.5h.62v.5h.62v-2.5h.62v2h.62v-2.5h.62v3h.62v-1.5h.62v1.5h.62v-1h.62v2h.62v-1h.62v-1h.62v-2h.62v-3.5h.62v-12.5h.62v12.5h.62v4.5h.62v-6.5h.62v6.5h.62v1h.62v-.5h.62v2h.62v-2h.62v1.5h.62v-9h.62v9h.62v-2h.62v.5h.62v1.5h.62v-10h.62v8.5h.62v1h.62v-2h.62v1.5h.62v-5.5h.62v2h.62v4h.62v-1.5h.62v2.5h.62v-4.5h.62h.62v4h.62v-6h.62v6.5h.62h.62v-1h.62v.5h.62h.62v-1h.62v-3h.62v-1h.62v4h.62v-1.5h.62h.62v1.5h.62v-5.5h.62v4h.62v3.5h.62v-3h.62v1h.62v1h.62v-1h.62v-3h.62v2.5h.62v-3.5h.62v-1.5h.62v3.5h.62v2.5h.62v-7h.62v5h.62v-1h.62v1.5h.62v1h.62v-1.5h.62v2h.62v-2h.62v-.5h.62v3.5h.62v-1.5h.62v-.5h.62h.62v.5h.62v1h.62v-2h.62v1h.62v-1.5h.62v-.5h.62v2h.62v-2.5h.62v-3.5h.62v5.5h.62v-3.5h.62v2h.62v1.5h.62v-4h.62v4.5h.62v-1h.62h.62v-5h.62v6h.62v1h.62v-3h.62v1.5h.62h.62v2h.62v-2.5h.62v2.5h.62v-.5h.62v-1.5h.62v-2h.62v4h.62v-4h.62v4h.62v-1.5h.62v-1.5h.62v-5.5h.62h.62v-.5h.62v8.5h.62v-2h.62v1h.62v-.5h.62v1h.62v-1.5h.62v-1h.62h.62v2h.62v-3h.62v-9h.62h.62v9h.62v2h.62v3h.62v-.5h.62v-2h.62v-1.5h.62v2h.62v-.5h.62v.5h.62v-1.5h.62v1.5h.62h.62v.5h.62v-1.5h.62v-1.5h.62v3h.62v.5h.62v-5h.62v-6h.62v8h.62v-7h.62v9h.62v-2.5h.62v3h.62v-5.5h.62v3h.62v-.5h.62v.5h.62v-1h.62v4.5h.62v-2.5h.62h.62v2h.62v-1.5h.62v-1.5h.62v1h.62v-.5h.62v-2h.62v-4.5h.62v5.5h.62v-.5h.62v1.5h.62v2.5h.62h.62v-2h.62v2h.62v-.5h.62v-3h.62v-8.5h.62v8.5h.62v2h.62v-1h.62v.5h.62v-5h.62V185.56z" fill="#7e1d1d"/>
<line x1="393.8" y1="185.76" x2="890.8" y2="185.76" stroke="#111" stroke-width="1.5"/>
<text x="380.4" y="177.5" font-size="11" fill="#111" stroke="#111">N</text>
<text x="327.8" y="177.5" font-size="12" fill="#111" stroke="#111" textLength="37.5" lengthAdjust="spacingAndGlyphs">K27ac</text>
<text x="893.2" y="171.7" font-size="12" fill="#111" stroke="#111">–100</text>
<path d="M393.8 207.54v-4h.62v-3h.62v4h.62v-13h.62h.62v15h.62v-1.5h.62h.62v.5h.62h.62v-.5h.62v1.5h.62v-2h.62v1h.62v.5h.62v-1h.62v.5h.62v-.5h.62v1h.62v-2h.62v2h.62v-.5h.62v-.5h.62v-1h.62v1.5h.62v-.5h.62v-.5h.62v1h.62v-.5h.62v1.5h.62v-2.5h.62v1.5h.62v-2h.62v.5h.62v1.5h.62v.5h.62v-7h.62v-12.5h.62v12.5h.62v5.5h.62v-1.5h.62v3h.62v.5h.62v-1.5h.62v-4h.62v5h.62v-.5h.62v-.5h.62v1h.62v-1h.62v-.5h.62v1h.62h.62v-2.5h.62v3h.62v-.5h.62v1.5h.62v-1h.62v-.5h.62h.62h.62v-.5h.62v.5h.62v-1h.62v.5h.62v-2.5h.62v.5h.62v1h.62h.62v-.5h.62v1h.62v1.5h.62h.62h.62v1h.62v-4h.62v2.5h.62h.62v-.5h.62v-1h.62v1.5h.62v-.5h.62v-.5h.62h.62v-.5h.62v1h.62v1h.62v-3h.62v3.5h.62v-.5h.62v-3.5h.62v3h.62h.62h.62v.5h.62v-.5h.62v-.5h.62v.5h.62v-2.5h.62v.5h.62v2h.62v-2h.62v2h.62v-1h.62v2h.62v-1.5h.62v.5h.62v-1.5h.62v1.5h.62v-5.5h.62v-11.5h.62v11.5h.62v2.5h.62v3h.62h.62v-1.5h.62h.62v1.5h.62v-.5h.62v1h.62h.62v-5.5h.62v5.5h.62h.62v-1.5h.62v2h.62v-1.5h.62v1h.62v-1h.62v-3.5h.62v4h.62h.62v-1h.62v-5h.62v4h.62v3h.62v-.5h.62v-1.5h.62v1.5h.62v-6.5h.62v5h.62v-5h.62v4.5h.62h.62v1h.62h.62h.62v.5h.62v-1h.62v.5h.62v-2h.62v3.5h.62h.62v-3h.62v.5h.62v2h.62v1h.62v-1h.62h.62v-1h.62v.5h.62v-5h.62v5.5h.62v-6h.62v5.5h.62v-1h.62v1.5h.62v-1h.62v1.5h.62v-1h.62v-1h.62v1h.62v-.5h.62v-.5h.62v-1.5h.62v.5h.62v2h.62v-1h.62h.62v1.5h.62v-3h.62v2.5h.62v-1h.62v.5h.62v.5h.62v-.5h.62h.62v1.5h.62v-.5h.62h.62v-1h.62v1.5h.62v-.5h.62v-1h.62v-1h.62v1.5h.62v-1.5h.62v1h.62v-.5h.62v1h.62v.5h.62v.5h.62v-7h.62v6h.62v1.5h.62h.62v-.5h.62v-1.5h.62v.5h.62v-1h.62v1.5h.62v-.5h.62v-1h.62h.62v1.5h.62v-1h.62v-1h.62v1h.62v1h.62v.5h.62v-3h.62v1h.62v1h.62v-.5h.62v1h.62v-.5h.62v-5.5h.62h.62v5.5h.62v1.5h.62v-2h.62v1h.62h.62v-1.5h.62h.62v-2.5h.62v4h.62v.5h.62v-1h.62v-2h.62v-1h.62v3h.62v1h.62v-8h.62v6.5h.62h.62v1.5h.62v-.5h.62v-1h.62h.62v1.5h.62v-2.5h.62v-.5h.62v2h.62v-.5h.62v.5h.62h.62v-.5h.62v.5h.62h.62v1h.62v-1h.62v1h.62v-.5h.62v-2h.62v-.5h.62v2.5h.62v-1h.62v1.5h.62v-1.5h.62h.62v.5h.62v-5.5h.62v6h.62v-1.5h.62v1h.62v-1h.62v.5h.62v1.5h.62v-1.5h.62v-3h.62v3h.62v-1h.62v1.5h.62v.5h.62v-2h.62v2.5h.62v-.5h.62v-2h.62v2.5h.62v-2h.62v-4h.62v2.5h.62v2.5h.62v1h.62v-.5h.62h.62v-.5h.62v.5h.62v-1h.62v-2h.62v4h.62v-.5h.62v-3.5h.62v3.5h.62v-1.5h.62h.62v1h.62v-1h.62v-.5h.62v1.5h.62v-.5h.62v-.5h.62v-3h.62v4.5h.62h.62v-1.5h.62v.5h.62v-.5h.62h.62v1h.62v-.5h.62h.62v.5h.62v.5h.62v-1h.62v-2h.62v2.5h.62v-1.5h.62v1.5h.62v-1.5h.62v-3.5h.62v5.5h.62v-1h.62v-5h.62v-10h.62v10h.62v6h.62v-1h.62h.62v-5.5h.62v5h.62v-.5h.62v-1h.62v2h.62v.5h.62v-.5h.62v-2h.62v2.5h.62v-1.5h.62v1.5h.62v-3h.62v3h.62v-1.5h.62v1.5h.62v-2.5h.62v2h.62v.5h.62v-.5h.62v-1.5h.62v1h.62v.5h.62v.5h.62v-1h.62v-5h.62v6h.62v-1.5h.62v1.5h.62v-.5h.62v-.5h.62v.5h.62v-2.5h.62v4h.62v-1h.62h.62v-1h.62v1h.62h.62v-1h.62v-.5h.62v-1h.62v1.5h.62v.5h.62h.62v-.5h.62v1h.62v-.5h.62v-2h.62v2.5h.62v-2.5h.62v-3h.62v5h.62v.5h.62v-7.5h.62v7h.62h.62v.5h.62v-.5h.62h.62h.62h.62v1h.62v.5h.62v-3h.62v2h.62v-1h.62h.62v-1h.62v2h.62v-2h.62v.5h.62v1h.62v-.5h.62v1.5h.62v-2.5h.62v2h.62v-1.5h.62v1.5h.62v-7.5h.62v7.5h.62h.62v.5h.62v-.5h.62v-.5h.62h.62v-.5h.62v1.5h.62v-4.5h.62v2.5h.62v.5h.62v-7.5h.62v-4.5h.62v.5h.62v8.5h.62v2h.62v-.5h.62v-4h.62v.5h.62v1.5h.62h.62v-10h.62v10h.62v-3h.62v-3h.62v8.5h.62v-3h.62v4.5h.62v-3h.62v-3.5h.62v1.5h.62v5.5h.62v-5h.62v-6h.62v8.5h.62v-3h.62v4h.62v-10.5h.62v8h.62v-10h.62v13.5h.62v-5h.62v-6h.62v2.5h.62v6h.62v-3.5h.62v-4.5h.62v4.5h.62v5.5h.62v-1h.62v1h.62v-1h.62v-2.5h.62v3h.62v-1.5h.62v3.5h.62h.62v-2h.62v1h.62h.62v1h.62v-1h.62v.5h.62v1h.62v-3h.62v1h.62v-.5h.62v1h.62v-1.5h.62v.5h.62v1h.62v-1h.62v-1.5h.62v3h.62v-1.5h.62v-.5h.62h.62v1.5h.62h.62v-1h.62v2h.62v-2h.62v1h.62v-1h.62h.62v1.5h.62v-1.5h.62v2h.62v-2h.62v-1.5h.62v2h.62v-1.5h.62v1h.62v-1.5h.62v-6.5h.62v6.5h.62v2h.62v1.5h.62v-1h.62v-.5h.62v-.5h.62v1.5h.62v-8.5h.62v7.5h.62v-1h.62v-6h.62v8h.62v-1h.62v.5h.62v-2.5h.62v-2h.62v4h.62v-.5h.62h.62v-2.5h.62v2.5h.62v1h.62v-3h.62v2.5h.62v-1.5h.62v1h.62v-1h.62v-1h.62v3h.62v-1h.62v-6.5h.62v7h.62v-.5h.62v-.5h.62h.62v2.5h.62v-.5h.62v-2h.62v2h.62v-3h.62v1h.62v-2.5h.62v2.5h.62v1.5h.62v.5h.62v-3.5h.62v-1h.62v3.5h.62v-5h.62v-1h.62v.5h.62v2.5h.62v2.5h.62v-1.5h.62v-3h.62v5h.62v-1.5h.62h.62v.5h.62v1.5h.62v-1.5h.62v1h.62v-2.5h.62h.62v-2h.62v5h.62v-1.5h.62v1.5h.62v.5h.62v-1h.62v-2.5h.62v-4.5h.62v6h.62v1h.62v-3h.62v-1.5h.62v1.5h.62v2.5h.62v-1h.62v.5h.62v1.5h.62v-.5h.62v-2.5h.62v2.5h.62v-1.5h.62v1.5h.62v-.5h.62h.62v-2.5h.62v.5h.62v.5h.62h.62v-.5h.62v2.5h.62v-.5h.62v-6h.62v5h.62v-2h.62h.62v3.5h.62v1h.62v-2h.62v-2.5h.62v2.5h.62v-1h.62v-7.5h.62v10h.62h.62v-2.5h.62v2.5h.62v-1.5h.62v-1.5h.62v-5h.62v6.5h.62v-.5h.62v-1h.62v-3.5h.62v-12.5h.62v12.5h.62v4h.62v1.5h.62v2h.62v-.5h.62v-.5h.62v-.5h.62v-2h.62v-.5h.62v.5h.62v-1h.62v-2h.62v4h.62v-5h.62v3.5h.62v3h.62v-2.5h.62v3.5h.62v-5.5h.62v3.5h.62v-4h.62h.62v3.5h.62h.62v1.5h.62v-2h.62v-1h.62v1.5h.62v.5h.62v1.5h.62v-2.5h.62v1.5h.62v-2.5h.62v2h.62v-1.5h.62v-4.5h.62v7h.62v-2.5h.62v-7.5h.62v.5h.62v10.5h.62v-11h.62v9h.62v-9h.62v7h.62v3h.62v-1h.62v-3h.62v3.5h.62v-2.5h.62v3.5h.62v-3.5h.62v-.5h.62v1.5h.62v-1.5h.62v1.5h.62h.62v2h.62v1h.62v-4h.62v1h.62v.5h.62v-5.5h.62v2.5h.62v4h.62v-1h.62v-1.5h.62v.5h.62v1h.62v-3.5h.62v4h.62v1.5h.62v-.5h.62v-4.5h.62v4h.62v-5.5h.62v1h.62v3.5h.62v1h.62v-.5h.62h.62v-2h.62v1h.62v2h.62v-4.5h.62v2.5h.62v3h.62v-4h.62v-1.5h.62v2.5h.62v1h.62v-2h.62v-9h.62v7h.62v3h.62v-1h.62v-1.5h.62v4.5h.62v-3.5h.62v-8.5h.62v8.5h.62v-10h.62v.5h.62v.5h.62v9h.62v-.5h.62v-.5h.62v-3.5h.62v4h.62h.62v-3h.62v1.5h.62h.62v-11.5h.62h.62v11.5h.62v3h.62v-8.5h.62v7.5h.62v2h.62v.5h.62v-8h.62v9h.62v-1.5h.62v1h.62v-2h.62v-8h.62v3h.62v7.5h.62v.5h.62v-14h.62v12.5h.62v1h.62v-.5h.62v.5h.62v-5h.62v-10h.62v6h.62v7.5h.62v-11h.62v12.5h.62v-.5h.62v-3h.62v1.5h.62v1h.62v-2h.62v2.5h.62v-3h.62v3.5h.62v-8.5h.62v-5.5h.62h.62v9.5h.62v2h.62v2h.62v-.5h.62h.62v-2h.62v-5.5h.62v8h.62v-3.5h.62v-7.5h.62v8h.62v-8.5h.62v1h.62v8h.62v-2h.62v4h.62v-.5h.62V207.54z" fill="#7e1d1d"/>
<line x1="393.8" y1="207.74" x2="890.8" y2="207.74" stroke="#111" stroke-width="1.5"/>
<text x="380.4" y="200.1" font-size="11" fill="#111" stroke="#111">C</text>
<text x="893.2" y="193.8" font-size="12" fill="#111" stroke="#111">–100</text>
<path d="M393.8 229.52v-5h.62v1.5h.62h.62v-.5h.62v-6h.62v5.5h.62v1h.62v.5h.62v1h.62v-.5h.62v-3h.62v.5h.62h.62v2.5h.62v-1h.62v3h.62v-5.5h.62v3h.62v-1h.62v1h.62v1h.62v-1.5h.62h.62v-.5h.62v2h.62v-6.5h.62v5.5h.62v-1.5h.62v2.5h.62v1h.62v-.5h.62v-.5h.62v-6h.62v6.5h.62v-9h.62v6.5h.62h.62v2h.62v-1.5h.62v1.5h.62v-6.5h.62v1.5h.62v3.5h.62v1h.62v.5h.62v1h.62v-3h.62v-3h.62v3.5h.62v1h.62v.5h.62v-2.5h.62v.5h.62v-1.5h.62v1.5h.62h.62v2.5h.62v.5h.62v-1h.62v-7h.62v6h.62v1h.62v.5h.62v-4h.62v1h.62v.5h.62v-3.5h.62v5h.62v-1.5h.62v1.5h.62v-3h.62v2.5h.62v-5h.62v5.5h.62v.5h.62v-5h.62v5h.62v-1h.62v1h.62v-7.5h.62v6h.62v1.5h.62h.62h.62v-4h.62v4h.62h.62v-2h.62h.62v-2.5h.62v4.5h.62v-1.5h.62v1.5h.62v-3.5h.62v2.5h.62v1.5h.62v-1h.62v-1.5h.62v1.5h.62v.5h.62v-1h.62v.5h.62v1h.62v-2h.62v-3h.62v4h.62v-.5h.62v1.5h.62v-4h.62v-3h.62v-12.5h.62v12.5h.62v5h.62v-5.5h.62v5.5h.62v2h.62v-2h.62v1h.62v-1h.62v-.5h.62v-2h.62v2.5h.62v-1.5h.62v-1.5h.62v4.5h.62v-2.5h.62v1h.62v-2h.62v.5h.62v1h.62h.62v.5h.62v1.5h.62v-2.5h.62v-2h.62v3.5h.62v-2.5h.62v3h.62v-1h.62v2.5h.62v-3h.62v-1.5h.62v4.5h.62v-3h.62v-.5h.62v2h.62v-.5h.62v-2.5h.62v2h.62v-1.5h.62v-1.5h.62v3h.62v1h.62v-1.5h.62v.5h.62v1h.62h.62v-6h.62v4.5h.62v-5h.62v7h.62v-2.5h.62v-1.5h.62v4h.62v-.5h.62h.62v-.5h.62v-1.5h.62v3h.62v-2.5h.62v1h.62h.62h.62v1.5h.62v-2h.62v.5h.62v1h.62h.62v.5h.62v-3h.62v1h.62v-1h.62v-1h.62v2h.62v1.5h.62v-7.5h.62v8h.62v-2h.62h.62v1h.62v-2h.62v1.5h.62v-3.5h.62v4h.62h.62h.62v.5h.62h.62v-.5h.62h.62v-3h.62v4h.62v-2h.62v-1.5h.62v.5h.62v3h.62v-.5h.62v-1.5h.62v1h.62v-1h.62h.62v.5h.62v-4.5h.62v4h.62h.62v1.5h.62v-1h.62v-2h.62v-.5h.62v3h.62v-2.5h.62v3h.62v.5h.62h.62v-3h.62v2h.62v-8h.62v8h.62v.5h.62v-1.5h.62v-2.5h.62v.5h.62v2.5h.62v-2.5h.62v2.5h.62v-.5h.62v-5.5h.62v5.5h.62v1.5h.62v-1.5h.62v.5h.62v1h.62v-5h.62v1.5h.62v3h.62v-8h.62v8h.62v-5.5h.62v-2h.62v6h.62v2h.62v-1h.62v-2.5h.62v2h.62v1.5h.62v1h.62v-.5h.62v-4h.62v3.5h.62v-2h.62v1h.62v-5h.62v3.5h.62v.5h.62v1.5h.62v-4.5h.62v.5h.62v-3h.62v8h.62v-3.5h.62v2h.62v-6h.62v1h.62v6h.62v-1.5h.62v.5h.62v-5.5h.62v6h.62v-.5h.62v-1h.62v1h.62v-3h.62v4.5h.62v-.5h.62v-.5h.62v1.5h.62v-3.5h.62v1h.62v.5h.62v-1.5h.62v1h.62v.5h.62v-.5h.62v-.5h.62h.62v-5h.62v7h.62h.62v-.5h.62v.5h.62v-1h.62v2h.62v-3h.62h.62v2h.62v1h.62v-2.5h.62v-1.5h.62v-4.5h.62v4.5h.62v-5h.62v6h.62v1h.62v1h.62v-1h.62v1h.62v-1.5h.62v1h.62h.62v1h.62v-6h.62v6h.62v-5h.62v5.5h.62v-2h.62v-7h.62v7h.62v-1.5h.62h.62v2h.62h.62v.5h.62v-2.5h.62v-5.5h.62v8h.62v-.5h.62v-6h.62v3h.62v3h.62v1.5h.62h.62v-2.5h.62v-2h.62h.62v3h.62v-1h.62h.62v1h.62v-2h.62v-2h.62v4h.62v-.5h.62v2h.62v-2h.62v-4.5h.62v5h.62v-6h.62v7h.62v-1h.62v-1.5h.62v2h.62v1h.62v-3.5h.62v1h.62v2.5h.62v-1.5h.62v-2h.62v-.5h.62v1h.62v-.5h.62v.5h.62v.5h.62v2.5h.62v-2.5h.62v1.5h.62v-3.5h.62v1.5h.62v1.5h.62v-.5h.62v.5h.62v-4h.62v5h.62v-2h.62v-4.5h.62v5.5h.62v-4h.62v-2h.62v-.5h.62v-1h.62v7h.62v1h.62v-3.5h.62v2.5h.62v-4h.62v.5h.62v4h.62v1.5h.62v-4h.62v-.5h.62v3h.62v-.5h.62v.5h.62v-3h.62v3.5h.62v-1h.62v-2h.62v-5.5h.62v7.5h.62h.62v-.5h.62v-.5h.62v-1h.62v3h.62v.5h.62v-3.5h.62v2h.62v-3.5h.62v3h.62v2h.62v-1h.62v-6.5h.62v7.5h.62v.5h.62v-1h.62v-1h.62v1h.62v-1.5h.62v-.5h.62v-.5h.62v1h.62v1h.62v1.5h.62v-2h.62v-1.5h.62v2.5h.62v.5h.62v-.5h.62v-5.5h.62v5h.62h.62v-2.5h.62v-4h.62v5h.62v.5h.62v.5h.62v.5h.62v.5h.62v-1h.62v-1h.62v1.5h.62v.5h.62h.62v.5h.62v-3h.62v1.5h.62v1h.62v.5h.62v-5h.62v3h.62h.62v-3h.62v4h.62h.62v-3.5h.62v4h.62v-1h.62v.5h.62v-2h.62v1.5h.62v-3.5h.62v-1.5h.62v3h.62v.5h.62v-3h.62v-1.5h.62v7.5h.62h.62v-2h.62v-.5h.62v2h.62v-3h.62v-7h.62v5h.62v3.5h.62v-1h.62v-1.5h.62v2.5h.62v1h.62v-3.5h.62v2h.62v3h.62v-1h.62v-2.5h.62h.62v-.5h.62v-.5h.62v1.5h.62v.5h.62v-2h.62v-3.5h.62v2h.62v-.5h.62v1.5h.62v.5h.62v1h.62v-6.5h.62v6.5h.62v-5.5h.62v4h.62v4.5h.62v-4.5h.62v2.5h.62v-.5h.62v-.5h.62v2h.62v-1.5h.62v1h.62v-2.5h.62v2h.62v.5h.62v-3h.62v3.5h.62v-1h.62v-2.5h.62v4.5h.62v-3.5h.62v2h.62v-1h.62v1h.62v-.5h.62v.5h.62v-1h.62v2h.62v-.5h.62v1h.62v-3.5h.62v1h.62v.5h.62v.5h.62v.5h.62v-.5h.62v1.5h.62v-2h.62v-1h.62v1.5h.62h.62v-5.5h.62v5.5h.62v-6h.62v5.5h.62v1.5h.62v-5.5h.62v1h.62v4.5h.62v-2h.62v-8.5h.62v7h.62v3.5h.62v-.5h.62v.5h.62v.5h.62v-3h.62v.5h.62v-2h.62v1.5h.62v1.5h.62v.5h.62v-2h.62v1.5h.62h.62v-5h.62v5h.62v-5h.62v5.5h.62v-2.5h.62v1.5h.62v-6.5h.62v6h.62v2.5h.62v-7h.62v6h.62h.62v-2h.62v-1.5h.62v-2.5h.62v5h.62v-1.5h.62v-.5h.62v2.5h.62v-1.5h.62v1.5h.62v-4h.62v5h.62v-1.5h.62v2h.62v-2h.62v-1.5h.62v2h.62v-1h.62h.62v1h.62h.62v-2.5h.62v-2.5h.62v4h.62v-1.5h.62v2h.62h.62h.62v.5h.62h.62v1h.62v-1.5h.62v-1.5h.62v3h.62v-4h.62v4h.62h.62v-2.5h.62v-3.5h.62v4.5h.62v.5h.62v-1h.62v-2h.62v4h.62v1h.62v-5h.62v4h.62v-4h.62v1h.62h.62v-7h.62v7h.62v2h.62v-1.5h.62v1.5h.62v-3.5h.62v4h.62v-.5h.62v-4h.62v5h.62h.62v-2h.62v-1h.62v3h.62v-1h.62v-8.5h.62v8h.62v-6h.62h.62v7h.62v-1h.62v1.5h.62v-3.5h.62v4.5h.62v-5.5h.62v3.5h.62h.62h.62v.5h.62v-2.5h.62v-1.5h.62v2h.62v2.5h.62v-2h.62h.62v-1h.62v.5h.62v-1.5h.62v3h.62v-1h.62v3h.62v-2h.62v-6.5h.62v4.5h.62v1h.62v-1h.62h.62v3.5h.62v-5h.62v1h.62v1.5h.62v-4h.62v2.5h.62v1h.62v1.5h.62v.5h.62v-1h.62v1.5h.62v-1h.62v-1h.62v1h.62h.62v1.5h.62v-1.5h.62v-6h.62v4h.62v-.5h.62v2.5h.62v-6h.62v7h.62v-2h.62v-7h.62v4h.62v5h.62h.62v-1.5h.62v-4h.62v3.5h.62v.5h.62v-2.5h.62v2h.62h.62v2h.62v-.5h.62v-2.5h.62v2h.62v-7h.62v5h.62v-1.5h.62v3.5h.62v-2.5h.62v-2.5h.62v3.5h.62v-.5h.62v2.5h.62v-2h.62v-1h.62v3h.62v.5h.62v-6h.62v.5h.62v5h.62v-2.5h.62v3h.62v-2.5h.62v-1.5h.62v2.5h.62v1.5h.62v-3.5h.62v1h.62v2h.62v-2.5h.62v2h.62v-2h.62v-8h.62v-.5h.62v8.5h.62v3h.62v-6h.62v4.5h.62v1.5h.62v-2h.62v.5h.62v-5h.62v6h.62v-11h.62v10h.62v-1.5h.62v1.5h.62h.62v-.5h.62v-1h.62v-5.5h.62v2.5h.62v3.5h.62v1.5h.62v-1h.62h.62v1.5h.62v-3.5h.62v1.5h.62v.5h.62v-.5h.62v-1.5h.62v3h.62v2h.62v-5.5h.62v2h.62v-1.5h.62v4.5h.62v-3h.62v.5h.62v-7h.62v9h.62h.62v-.5h.62v-4h.62h.62v4.5h.62v-2h.62v1.5h.62v-1.5h.62v1h.62v-3h.62v-9h.62v3h.62v8.5h.62v.5h.62v.5h.62v-1.5h.62V229.52z" fill="#7e1d1d"/>
<line x1="393.8" y1="229.72" x2="890.8" y2="229.72" stroke="#111" stroke-width="1.5"/>
<text x="380.4" y="222.7" font-size="11" fill="#111" stroke="#111">N</text>
<text x="327.8" y="222.7" font-size="12" fill="#111" stroke="#111" textLength="40.8" lengthAdjust="spacingAndGlyphs">K4me1</text>
<text x="893.2" y="215.9" font-size="12" fill="#111" stroke="#111">–100</text>
<path d="M393.8 251.5v-4.5h.62h.62v2h.62v-2.5h.62v-8h.62v9.5h.62h.62v-6h.62v8h.62v-6h.62v5h.62v-5h.62v3.5h.62v1.5h.62v-4.5h.62v1.5h.62v3h.62v.5h.62v-.5h.62v-3.5h.62v4h.62v-1h.62v.5h.62v.5h.62v.5h.62v-5h.62v3h.62v2h.62v-.5h.62v-.5h.62v-.5h.62v-2.5h.62v2h.62v.5h.62v-6.5h.62v4h.62v2.5h.62h.62v1h.62v-.5h.62v-6.5h.62v2.5h.62v3.5h.62v-.5h.62v1.5h.62v1h.62v-5.5h.62v4h.62v-1.5h.62v.5h.62v-1.5h.62v-1h.62v2h.62v-5.5h.62v5h.62v1h.62v-4.5h.62h.62v3.5h.62v-3h.62v5h.62v-1h.62h.62v-2h.62v3h.62v-1.5h.62v.5h.62v-7.5h.62v8h.62h.62v1.5h.62v-2.5h.62v2h.62v-3.5h.62v2.5h.62v2h.62v-3h.62v-1h.62v2.5h.62v-2h.62h.62v2h.62v-.5h.62h.62v.5h.62v.5h.62v-2h.62v-1h.62v2.5h.62v-2.5h.62v.5h.62v1.5h.62v1h.62v-1h.62v-.5h.62v2h.62v-4h.62v3.5h.62v-.5h.62v-3h.62v3h.62h.62v-3h.62v-5h.62v6.5h.62v1h.62v2h.62v-6.5h.62v1h.62v-2h.62v-12.5h.62v12.5h.62v-2h.62v5.5h.62v2h.62v-1.5h.62v3h.62v-.5h.62v-3.5h.62v4.5h.62v-1h.62v-1h.62v.5h.62v-3.5h.62v1h.62h.62v1.5h.62v1h.62v-6.5h.62v5h.62v3h.62v-3.5h.62v1h.62v1h.62v.5h.62v-1h.62v-1h.62v2.5h.62v-3h.62v-.5h.62v-6.5h.62v6h.62v-.5h.62v1h.62v2h.62v-.5h.62v1.5h.62v-7.5h.62v6.5h.62v-2.5h.62v3.5h.62v-5h.62v5h.62v-1.5h.62v1h.62h.62v-2h.62v2.5h.62v-3.5h.62v1.5h.62v2h.62v-1h.62v2h.62v-3h.62v-.5h.62v1.5h.62v.5h.62h.62v-1h.62h.62v1.5h.62v-8h.62v6h.62v3h.62v-1h.62v-2h.62v1h.62v-1.5h.62v1.5h.62v.5h.62v-.5h.62v-5.5h.62v6.5h.62h.62v-4.5h.62v4h.62v-3h.62v2.5h.62v-2h.62v.5h.62v.5h.62h.62v1.5h.62v-3.5h.62v3h.62v1h.62v1h.62v-1.5h.62v1h.62v-2h.62v-2h.62v2.5h.62v-3h.62v.5h.62v.5h.62v2.5h.62v-6h.62v-.5h.62v6.5h.62v.5h.62v-2h.62v-1h.62v3.5h.62v-.5h.62v-1h.62v1h.62v-1.5h.62v-1.5h.62v1.5h.62v-1.5h.62v3.5h.62v-1.5h.62v.5h.62v-7.5h.62v2h.62v5h.62v-4.5h.62v5.5h.62v-4h.62v3h.62v-.5h.62h.62v-2.5h.62v2h.62h.62v.5h.62v-5.5h.62v5.5h.62v.5h.62v-7h.62v7.5h.62h.62v.5h.62v-2.5h.62v2.5h.62v-.5h.62h.62v-1.5h.62v1h.62v.5h.62v-1h.62h.62v1h.62v.5h.62v-.5h.62h.62v-6h.62v3h.62v3h.62v-3h.62v-1h.62v5.5h.62h.62v-1.5h.62v-5.5h.62v4.5h.62v-.5h.62v-3h.62v3.5h.62v-1h.62v1.5h.62v1h.62h.62v-5h.62v2.5h.62v-.5h.62v-4.5h.62v7h.62h.62h.62v-3.5h.62v1.5h.62v-1.5h.62h.62v-4.5h.62v2.5h.62v5.5h.62v-6h.62v4.5h.62v-1h.62v2h.62h.62v-2.5h.62v2.5h.62v1h.62v-3h.62v2.5h.62v-8h.62v8.5h.62v-2.5h.62v2.5h.62v-.5h.62v-.5h.62v-3.5h.62v2h.62v.5h.62v-1.5h.62v4h.62v.5h.62v-2.5h.62h.62v1.5h.62v-4h.62v1.5h.62v3h.62v-3h.62v1.5h.62v1.5h.62v-7.5h.62v3.5h.62v1.5h.62v-1h.62v2h.62v-1h.62v1h.62v-2h.62v2h.62v1.5h.62v-1h.62v-2.5h.62v2h.62v1h.62v-2h.62v-6h.62v8h.62h.62h.62v-.5h.62h.62v-.5h.62v1.5h.62v-9h.62v8.5h.62v-4h.62v3.5h.62h.62v-1h.62h.62v1h.62v-2h.62v2.5h.62v-5.5h.62v5h.62v-2h.62v1h.62v-5.5h.62v6.5h.62h.62v-2.5h.62v3h.62v-1h.62v-6h.62v7h.62v-4.5h.62v4h.62v.5h.62v-5h.62v2.5h.62v-.5h.62v3.5h.62v-5.5h.62v2h.62v3.5h.62v-1.5h.62v.5h.62v-.5h.62v.5h.62v-4.5h.62v5h.62v-4h.62v4h.62v-6.5h.62v5h.62h.62v1.5h.62v-2.5h.62v1.5h.62v1.5h.62v-1h.62v-.5h.62v-5.5h.62v7.5h.62v-3.5h.62v1.5h.62v-3h.62v1.5h.62v1.5h.62v-3.5h.62v5h.62v-3.5h.62v1h.62v-.5h.62v2h.62v-.5h.62v-3h.62v.5h.62v4h.62v-3.5h.62v2h.62v1h.62v-1h.62v-.5h.62v-.5h.62h.62v1.5h.62v-2h.62v1h.62v-1h.62v3h.62v-3h.62v2h.62h.62v-4h.62v3.5h.62v-1.5h.62v1.5h.62v-6h.62v3.5h.62v2h.62v1h.62v.5h.62v-4h.62v3h.62h.62v-7h.62v8.5h.62v1h.62v-6.5h.62v4.5h.62v.5h.62v-1.5h.62v-1h.62v1h.62h.62v2.5h.62v-4.5h.62v4.5h.62v-6h.62v4.5h.62v-5.5h.62v5h.62v-2h.62v2h.62v-.5h.62v1.5h.62v-1.5h.62h.62v-5h.62v2.5h.62v2h.62h.62v1h.62h.62v-.5h.62v1.5h.62h.62v-8h.62v4h.62v4h.62v-2h.62v1h.62v1h.62v-1h.62v-1.5h.62h.62v-4h.62v6h.62h.62v-4.5h.62v6h.62v-5.5h.62v-5.5h.62v7h.62v-2h.62v1.5h.62v4.5h.62v-.5h.62v.5h.62v-2h.62h.62v-1h.62v-3.5h.62v4h.62v2h.62v-8.5h.62v6.5h.62v-4h.62v5h.62v-2.5h.62v1.5h.62v1h.62h.62v-2.5h.62v-6.5h.62v9.5h.62v-.5h.62v-4.5h.62v-1h.62v2h.62v-.5h.62v-1.5h.62v3h.62v-.5h.62v2h.62v-6.5h.62v7h.62v.5h.62v-5.5h.62v3.5h.62v-6.5h.62v7.5h.62v-3h.62v3.5h.62v1h.62v-3h.62v-4.5h.62v4.5h.62v1h.62h.62v1h.62h.62v-2.5h.62v.5h.62v3h.62v-5h.62v4.5h.62v1h.62v-3h.62v-6h.62v8h.62v-2.5h.62v-2h.62v3.5h.62v-.5h.62v-2h.62v-1h.62v4.5h.62v-9.5h.62v7h.62v2.5h.62v.5h.62v1h.62v-1h.62v-2h.62v-.5h.62v2.5h.62v-4h.62v2.5h.62v2h.62v-1h.62v-3.5h.62v4.5h.62v-1h.62v1h.62h.62v-.5h.62v1h.62v-3h.62v3.5h.62v-1.5h.62v1.5h.62v-4h.62v3h.62v.5h.62v-.5h.62v-2h.62v2h.62v-1h.62v1h.62v-1.5h.62h.62v1h.62v-2.5h.62v1.5h.62h.62h.62v.5h.62h.62v-.5h.62v1.5h.62h.62v-1.5h.62v-5.5h.62v-1h.62v-3.5h.62v3h.62v7.5h.62v.5h.62h.62v-6.5h.62v5.5h.62v-9h.62v5.5h.62v3h.62v-2h.62v-1h.62v5h.62v-9h.62v4h.62h.62v1h.62v-2h.62v-1h.62h.62v6h.62h.62v-.5h.62v-.5h.62v.5h.62v-1h.62h.62v-4h.62h.62v4h.62v1h.62v-9.5h.62v7h.62v.5h.62v-3.5h.62v5.5h.62v-3.5h.62v-5.5h.62v2h.62v4.5h.62v1.5h.62h.62v.5h.62v-.5h.62h.62v1.5h.62v1.5h.62v-4h.62v1h.62v1h.62v-.5h.62h.62v-2h.62v-7h.62v10.5h.62v-4.5h.62v2h.62v2h.62v-4.5h.62v3.5h.62v2h.62v-4.5h.62v2.5h.62v-3.5h.62v4h.62v-1h.62v-1.5h.62h.62v4h.62v.5h.62v-3h.62v-1h.62v2.5h.62v-6.5h.62v5h.62v2h.62v-1h.62h.62v-1.5h.62v-4.5h.62v5h.62v-2.5h.62v1.5h.62v1h.62v1h.62v-3.5h.62v3h.62v-5.5h.62v6h.62v-.5h.62v.5h.62v-3.5h.62v-5.5h.62v8h.62v-2h.62v1.5h.62v1.5h.62v-.5h.62v.5h.62v-5h.62v5h.62v-3.5h.62v-6.5h.62h.62v9.5h.62v1h.62v-10h.62v10.5h.62v-3h.62v2h.62v.5h.62v-.5h.62v-3.5h.62v1h.62v-2.5h.62v2h.62v-7.5h.62v5h.62v3.5h.62v-4h.62v4h.62v-1h.62v2h.62v-.5h.62v1.5h.62v-5h.62v-1h.62v6h.62v-3h.62v2.5h.62v1h.62v-3h.62v2.5h.62v1h.62v-3h.62v-2.5h.62v.5h.62v2.5h.62v-2.5h.62v3.5h.62v1h.62v-4h.62v1h.62v3.5h.62v-4.5h.62v-.5h.62v3.5h.62v-5h.62v3.5h.62v3h.62v-5h.62v-6h.62h.62v8h.62v1h.62v-2.5h.62v3h.62v-1h.62v-8h.62v7h.62v2h.62v-8.5h.62v11h.62v-.5h.62v-3h.62v-.5h.62v-2h.62v3.5h.62v-5.5h.62v7.5h.62v-2.5h.62v-2.5h.62v1.5h.62v-.5h.62v1h.62v1.5h.62v-2.5h.62v2h.62v-1h.62v3.5h.62v-3h.62v-8.5h.62v2.5h.62v6h.62v1h.62v-5h.62v1.5h.62v-.5h.62v3h.62v-1h.62v1h.62v3h.62v-3h.62v-1.5h.62v2.5h.62v1h.62v-2.5h.62v.5h.62v.5h.62v-1h.62v-1.5h.62v-9h.62v9h.62v4h.62v-.5h.62v-2.5h.62v3h.62V251.5z" fill="#7e1d1d"/>
<line x1="393.8" y1="251.7" x2="890.8" y2="251.7" stroke="#111" stroke-width="1.5"/>
<text x="380.4" y="245.3" font-size="11" fill="#111" stroke="#111">C</text>
<text x="893.2" y="238" font-size="12" fill="#111" stroke="#111">–100</text>
<path d="M393.8 273.48v-3h.62v-8h.62v5.5h.62v-2.5h.62v5.5h.62v-.5h.62v-1h.62v1.5h.62v1.5h.62v-2.5h.62v-1h.62v1.5h.62v1.5h.62v-2h.62v-1h.62v-1.5h.62v1.5h.62v2.5h.62v-2.5h.62v-1h.62v-3.5h.62v6.5h.62v-4.5h.62v3h.62v-5h.62v-4h.62v-1.5h.62v-3h.62v-.5h.62v1h.62v-4h.62v2h.62v-1h.62v3.5h.62v2h.62v.5h.62v.5h.62v10.5h.62v2h.62v-1.5h.62h.62v-4h.62v4.5h.62v-2h.62v.5h.62v-2h.62v3.5h.62h.62v-1.5h.62v-7.5h.62v8h.62v-3h.62v.5h.62v-2h.62v3h.62v2.5h.62v-.5h.62v-1h.62v2.5h.62v-7h.62v5.5h.62v.5h.62v-5h.62v4h.62v-1.5h.62v-1h.62v2.5h.62v-2.5h.62v.5h.62v-3.5h.62v4h.62v-2h.62v1h.62v-3.5h.62v7.5h.62v-1h.62v-.5h.62v-1.5h.62v1h.62v-6.5h.62v4.5h.62h.62v2.5h.62v1h.62v-1.5h.62v-4.5h.62v4.5h.62v.5h.62h.62v-4h.62v5.5h.62v-3.5h.62v-.5h.62v4.5h.62v-3h.62v-1.5h.62v-2h.62v5.5h.62v-4.5h.62v3h.62v-5.5h.62v.5h.62v3h.62v1h.62v1.5h.62v-6h.62v3.5h.62v1.5h.62v-2h.62h.62v-4h.62v5h.62v-1h.62v1h.62v-.5h.62h.62v1.5h.62v2.5h.62v-2.5h.62v-2h.62v1h.62v-3h.62v-2h.62v3h.62v5h.62v-8h.62v8h.62v-7h.62v4h.62v2.5h.62v-1h.62v-1.5h.62v2.5h.62v-.5h.62v-1h.62v1.5h.62v-1h.62v.5h.62v1.5h.62v-2h.62h.62v1.5h.62h.62h.62v-3h.62h.62v-1.5h.62v2h.62v-5.5h.62v1.5h.62v-1h.62v6h.62v-.5h.62v1.5h.62v-2h.62v1.5h.62h.62v-3.5h.62v4h.62v-1.5h.62v1.5h.62v-3h.62v2.5h.62v-3h.62v1.5h.62v-3h.62v3.5h.62h.62v-.5h.62v-1h.62v4.5h.62v-6.5h.62v2h.62v1.5h.62h.62v2.5h.62v-.5h.62v.5h.62v-.5h.62v-2h.62h.62v-3.5h.62v1.5h.62v1h.62v-1.5h.62v2.5h.62v-1h.62v-1h.62v-1h.62h.62v4.5h.62v-1h.62v-2h.62v-1.5h.62v1.5h.62v1h.62v-.5h.62v1h.62v.5h.62v-4h.62v-2h.62v8h.62v-4h.62v3h.62v-2h.62v1h.62v-1h.62h.62v2h.62v-2h.62v2.5h.62v-1h.62v-2h.62v-1.5h.62v2.5h.62v-.5h.62v2h.62v.5h.62v-3h.62v1.5h.62v1h.62v-3h.62h.62v-3.5h.62v-.5h.62v5.5h.62v-1h.62v1.5h.62v-.5h.62v1h.62v-1h.62v-8h.62v9h.62v1h.62v-1.5h.62v.5h.62v.5h.62v-5.5h.62v5.5h.62v-1h.62v-4.5h.62v-1.5h.62v1h.62v-7.5h.62v9.5h.62v-2h.62v-3.5h.62v7h.62v-8.5h.62v5.5h.62v1h.62v-1.5h.62v.5h.62v-.5h.62v4.5h.62v-11.5h.62v5h.62v1h.62v-5h.62v7h.62v-13.5h.62v11h.62v1h.62v-4h.62v1.5h.62v4.5h.62v1.5h.62v-4h.62v4.5h.62v-3.5h.62v-6h.62v7.5h.62v4h.62v-3.5h.62v-1.5h.62v-13h.62v18.5h.62v-11h.62v-4h.62v4h.62v6h.62v-7.5h.62v-6h.62v6h.62v11h.62v-17h.62v10.5h.62v2.5h.62v3h.62v-4h.62v-2h.62v2.5h.62v-8.5h.62v3h.62v5.5h.62v.5h.62v-7h.62v8.5h.62v-4h.62v3.5h.62v-1h.62v-8.5h.62v9h.62h.62v-10.5h.62v10.5h.62v.5h.62v1h.62v-5h.62v8h.62v-5.5h.62v1h.62v.5h.62v-.5h.62v-6h.62v6.5h.62v-10h.62v11h.62v-1.5h.62v-2h.62v-5.5h.62v1h.62v1h.62v5.5h.62v-13.5h.62v9h.62v8.5h.62v-14.5h.62v10.5h.62v2h.62v-13.5h.62v13.5h.62v-4.5h.62v-7h.62v12h.62v-8h.62v3.5h.62v-1h.62v3.5h.62v-1h.62h.62v-1.5h.62v6h.62h.62v-.5h.62v1h.62v-3h.62h.62v-1h.62v-3h.62v7.5h.62v-3h.62v-1.5h.62v4h.62v-2.5h.62v2h.62v-2.5h.62v-1.5h.62v-1h.62v5h.62v-1.5h.62v-2.5h.62v2h.62v-4.5h.62v-2h.62v3h.62v1.5h.62h.62v-3h.62v1h.62v5h.62v-6.5h.62v3h.62v5h.62v.5h.62v-6h.62v5.5h.62v.5h.62v-4.5h.62v-3.5h.62v7h.62v1.5h.62v-2h.62h.62v1.5h.62v-4.5h.62v4.5h.62v-9h.62v2h.62v8h.62v-3h.62v2h.62v-3.5h.62v-1h.62v4h.62v-2h.62v3h.62v-4.5h.62v4.5h.62h.62v-1h.62v-3.5h.62v5h.62v-1h.62v-1h.62v-2h.62v2.5h.62v.5h.62h.62v-1.5h.62v-1.5h.62v4h.62v-2h.62v1h.62v-1h.62h.62v-7h.62v6h.62v1.5h.62v-8h.62v7h.62h.62v-5h.62v6h.62v.5h.62v-1h.62v-4.5h.62v5.5h.62h.62v-3.5h.62v4h.62v-4.5h.62v3h.62v-5.5h.62v4.5h.62v.5h.62v.5h.62v1h.62v-1h.62v.5h.62v2h.62v-2.5h.62v-.5h.62v2.5h.62v-1.5h.62v1.5h.62v-3h.62v2.5h.62v-6.5h.62v5.5h.62v-2.5h.62v-3h.62v6.5h.62v-2h.62v-2h.62v3.5h.62v-5.5h.62v5.5h.62v-4.5h.62v4h.62v-.5h.62v-7h.62v4.5h.62v.5h.62v2.5h.62v-5h.62v4.5h.62v-.5h.62v2.5h.62v.5h.62v-.5h.62v-2h.62v-4.5h.62v6h.62v-.5h.62v-.5h.62v-.5h.62v-.5h.62v.5h.62v-1h.62v-1h.62v4h.62v-2.5h.62v-.5h.62v1.5h.62v-2h.62v3.5h.62v-6h.62v4h.62v2h.62v-3.5h.62v3h.62v-1.5h.62v-4h.62v4.5h.62v-2.5h.62v3h.62v-3.5h.62v-4.5h.62v3h.62v1.5h.62v-2.5h.62v3h.62v-6.5h.62v8.5h.62h.62v-2h.62v1.5h.62v-2h.62v-4.5h.62v3h.62v3.5h.62v.5h.62v-.5h.62v.5h.62v-1h.62v-3h.62v2h.62v1h.62v-.5h.62v-3h.62v4.5h.62v-8h.62v10h.62v-2h.62v-3h.62v-5.5h.62v5.5h.62v2h.62v2h.62v-1h.62v-1h.62v-3h.62v2.5h.62v-2.5h.62v1h.62v3h.62v1h.62v-5.5h.62v-4h.62v8.5h.62v-1h.62v-1h.62v3h.62v-6.5h.62v-1.5h.62v7h.62v1h.62v-1h.62v-2h.62v-6.5h.62v6h.62v2h.62v1h.62v-2.5h.62v1.5h.62v-8h.62v7h.62v-1h.62v-2.5h.62v6h.62v-1h.62v1h.62v-1h.62v.5h.62v-1.5h.62v-4.5h.62v4.5h.62v-.5h.62v-5h.62v1.5h.62v-1h.62v5.5h.62v-2h.62v-3.5h.62v7h.62v-8.5h.62v6h.62v1h.62v-1h.62v.5h.62v2.5h.62v-5.5h.62v2h.62v-2h.62v2h.62v.5h.62v-1.5h.62h.62h.62v3.5h.62v-1h.62v-6h.62v-1.5h.62v3.5h.62v3.5h.62v-8h.62v5.5h.62h.62v.5h.62v-3.5h.62v-2.5h.62v7h.62h.62v-2h.62v-7h.62v2h.62v5.5h.62v-7h.62v2.5h.62v3.5h.62v-12h.62v14h.62v-8h.62v9h.62v-2h.62v1h.62v-6h.62v4.5h.62v1h.62v-8h.62v10h.62v-2.5h.62v-8h.62v-1.5h.62v8h.62v-2h.62v5h.62v-6h.62v6.5h.62h.62v-8h.62v.5h.62v5h.62v1h.62v2.5h.62v-7h.62v6.5h.62v-1.5h.62v2.5h.62v-1h.62h.62v-5h.62v5h.62v-5h.62v4h.62v2h.62v-6h.62v-2.5h.62v1.5h.62v2h.62v2h.62h.62v-4h.62v-4h.62v8.5h.62h.62v-.5h.62v1.5h.62v-5.5h.62v1h.62v.5h.62v1h.62v-1.5h.62v-.5h.62v3.5h.62v-7h.62v-.5h.62v8.5h.62v-9h.62v6h.62v-5.5h.62v5.5h.62v3h.62v-2h.62v2h.62v-4.5h.62v4.5h.62v-3h.62v-.5h.62v5.5h.62v-1.5h.62h.62v-.5h.62v3h.62v-1.5h.62v-5.5h.62v3.5h.62v1h.62v-6.5h.62v9.5h.62v-2h.62v-4.5h.62v2.5h.62v2.5h.62v1.5h.62v-2.5h.62v1h.62v-1h.62v-4.5h.62h.62v4h.62h.62v-5.5h.62v2h.62v4h.62v-5h.62v2h.62v2h.62h.62v2h.62v-5h.62v5.5h.62v-2h.62v1h.62v-5.5h.62v7h.62v-6h.62v3h.62v-1.5h.62v4h.62v-2.5h.62h.62v2h.62v-.5h.62h.62v1.5h.62v-1.5h.62v-5h.62v-.5h.62v5.5h.62v1.5h.62v-9.5h.62v-.5h.62v-1.5h.62v-.5h.62v-2h.62v1h.62v-2h.62v-1.5h.62v-2h.62v3h.62v.5h.62v.5h.62v1h.62v2h.62v-2.5h.62v.5h.62v5h.62v7.5h.62v1h.62h.62v-1.5h.62v2.5h.62v-1.5h.62v-5.5h.62v5.5h.62v-1h.62h.62h.62v-5.5h.62v6.5h.62v.5h.62v.5h.62v-.5h.62v-.5h.62v.5h.62v-.5h.62h.62h.62v1h.62h.62v-7h.62v.5h.62v7.5h.62v-1.5h.62v-1h.62v2.5h.62v-2.5h.62v1h.62v-5h.62h.62v3.5h.62v-2.5h.62v3h.62v-.5h.62v1.5h.62v-4h.62v3h.62v-2h.62v.5h.62v-2h.62v-1.5h.62v5.5h.62v-2h.62v-7h.62v7h.62v-1h.62v5h.62v-1.5h.62v-2.5h.62V273.48z" fill="#7e1d1d"/>
<line x1="393.8" y1="273.68" x2="890.8" y2="273.68" stroke="#111" stroke-width="1.5"/>
<text x="380.4" y="267.9" font-size="11" fill="#111" stroke="#111">N</text>
<text x="327.8" y="267.9" font-size="12" fill="#111" stroke="#111" textLength="44.4" lengthAdjust="spacingAndGlyphs">K36me3</text>
<text x="893.2" y="260.1" font-size="12" fill="#111" stroke="#111">–40</text>
<path d="M393.8 295.46v-8.5h.62v2.5h.62v-.5h.62v-1.5h.62v2h.62v-1h.62v.5h.62v-1h.62v-1h.62v3h.62v-4h.62v2.5h.62v-1.5h.62v2h.62v-1.5h.62v-5h.62v8h.62v.5h.62v-1h.62v-1h.62v3.5h.62v-6.5h.62v3.5h.62v2.5h.62v-6.5h.62v-3.5h.62v-2h.62v-2.5h.62v2h.62v-3h.62h.62v-2h.62v1.5h.62v.5h.62v1h.62v2.5h.62v3h.62v8.5h.62v-2.5h.62v1.5h.62v-1h.62v2.5h.62v-6.5h.62v6.5h.62v-1h.62v1h.62v-4h.62v.5h.62v3.5h.62v-2h.62v1.5h.62v.5h.62v-5h.62v3.5h.62v.5h.62v-.5h.62v2h.62v-5.5h.62v3.5h.62v-.5h.62v3.5h.62v-10.5h.62v7.5h.62v.5h.62v1h.62h.62v-1h.62v1h.62h.62v2h.62v-7h.62v5.5h.62h.62v-9h.62v9h.62v-2h.62h.62v-5h.62v4.5h.62v-.5h.62v4h.62v-2h.62v-3.5h.62v1h.62v5h.62v-3h.62v-5.5h.62v7.5h.62v-3.5h.62h.62v-3h.62v7.5h.62v-1h.62v-9.5h.62v7.5h.62v1h.62v-.5h.62h.62v.5h.62v1.5h.62h.62v-2h.62v-3.5h.62v-.5h.62v4.5h.62h.62v-7.5h.62v9h.62v-8.5h.62v4.5h.62v-9h.62v9h.62v2h.62h.62v-1h.62v-7.5h.62v2h.62v8.5h.62v-3h.62v-4.5h.62v3.5h.62v3h.62v-3h.62h.62v-3.5h.62v6h.62v-1.5h.62v1h.62v-1h.62h.62v-.5h.62v2.5h.62v-.5h.62v-6.5h.62v5.5h.62v-.5h.62v1h.62v.5h.62h.62v-2h.62v-2h.62v3h.62v-.5h.62v2.5h.62v-4.5h.62v3h.62v-2h.62v-4h.62v7h.62v-4h.62v1h.62v3h.62v-2h.62v-2h.62v3h.62v-1.5h.62v2.5h.62v-8.5h.62v.5h.62v3h.62v3h.62v2h.62v-4.5h.62v6h.62v-6h.62v1h.62v4.5h.62v-4.5h.62v2.5h.62v-2.5h.62v-.5h.62v3.5h.62h.62h.62h.62v-1h.62v3h.62v-7h.62v6h.62v-6h.62v2.5h.62v2.5h.62v1.5h.62v-2.5h.62h.62v2h.62v-1h.62v-1h.62v-3.5h.62v4h.62v-2.5h.62v3h.62v-3h.62v-5.5h.62v.5h.62v5.5h.62v-4.5h.62v5h.62v-1h.62h.62v3h.62v.5h.62h.62h.62v-.5h.62v-1.5h.62v3.5h.62v-9h.62v7.5h.62v-1.5h.62v.5h.62h.62v-3h.62v.5h.62v2h.62h.62v-4h.62v5h.62v1.5h.62v-.5h.62v-2h.62v-.5h.62v-2h.62v3.5h.62v-1h.62v-2h.62v-6.5h.62v10h.62v-1h.62v-3.5h.62v3.5h.62h.62v3h.62v-5.5h.62v3h.62h.62v-1h.62v-1.5h.62v-1.5h.62v4h.62h.62v-4.5h.62v-4h.62v1h.62v-7.5h.62v15h.62v-2h.62v-14.5h.62v5h.62v10h.62v-5h.62v6h.62v-11h.62v7.5h.62v-2.5h.62v-8.5h.62v11.5h.62v-1h.62v-5.5h.62v2h.62v-2.5h.62v8h.62v-3h.62v4h.62v-4h.62v-3h.62v-9h.62v13h.62v2.5h.62v-15.5h.62v2.5h.62v7h.62v3.5h.62v-4.5h.62v-8.5h.62v10h.62v5.5h.62v-6h.62v-5h.62v7h.62v1.5h.62v-4.5h.62v-2h.62v-2h.62v-2.5h.62v-2h.62v12h.62v-10h.62v-2h.62v13.5h.62v-12h.62v10h.62v-.5h.62v1.5h.62v-7h.62v-5.5h.62v14h.62v-9.5h.62v3.5h.62v-1.5h.62v1h.62v7.5h.62v-5h.62v3.5h.62v-1h.62v-.5h.62v.5h.62h.62h.62v-2.5h.62v4h.62v-3.5h.62v-2.5h.62v4h.62v1.5h.62v2.5h.62v-7.5h.62v4.5h.62v-4h.62v3h.62v-2.5h.62v-6.5h.62v6.5h.62v-2.5h.62v4.5h.62v-6.5h.62v11.5h.62v-4.5h.62h.62v2h.62v-5h.62v1h.62v-3h.62v8.5h.62v-6.5h.62v-1h.62v-4.5h.62v9h.62v4.5h.62v-4.5h.62v1h.62v1.5h.62v1.5h.62v-4.5h.62v-2h.62v2.5h.62v-4h.62v7.5h.62v-8.5h.62v8h.62v-.5h.62v3h.62v-2h.62v-1h.62v3h.62v-5.5h.62v3.5h.62v1.5h.62v-12h.62v8.5h.62v-1h.62v-1.5h.62v3h.62h.62v-2h.62v-5h.62v8.5h.62v-2h.62v3.5h.62v-3h.62v1h.62v-2h.62v1h.62v-2.5h.62v3.5h.62v.5h.62v-2h.62v2h.62v-1.5h.62v3h.62v-3.5h.62v3h.62v-5h.62v5.5h.62v-1h.62v.5h.62h.62h.62v-.5h.62v.5h.62v-1.5h.62v3h.62v-3h.62v1.5h.62v-1h.62v-1h.62v1h.62v-2h.62v4h.62v1h.62v-8.5h.62v5.5h.62v-6h.62v7.5h.62v1.5h.62v-.5h.62v-8.5h.62v7.5h.62v-2h.62v1.5h.62v-1h.62v-.5h.62v4h.62v-5h.62v-1h.62v-1h.62v6h.62v-1h.62v-5.5h.62v5.5h.62v1.5h.62v-4.5h.62v-1.5h.62v1.5h.62v1h.62v1.5h.62v-3h.62v2h.62v-7.5h.62v9.5h.62v.5h.62v-1.5h.62v1.5h.62v-.5h.62v-1h.62v1h.62v-1.5h.62v-7.5h.62v4.5h.62v3.5h.62v-2h.62v-6h.62v9.5h.62v-5h.62v-5.5h.62v6.5h.62v1.5h.62v1.5h.62v1h.62h.62v-2h.62v-1h.62v1.5h.62v-2.5h.62v2.5h.62v-1h.62v-5h.62v-2h.62v4h.62v3h.62v-1h.62v3h.62v-2h.62v-1h.62v-6.5h.62v6.5h.62v-1.5h.62v5h.62v1h.62v-3h.62v-1.5h.62v-3.5h.62v4h.62v1.5h.62v-3.5h.62v-3.5h.62v3.5h.62v.5h.62v1.5h.62v1.5h.62v-.5h.62v1h.62v-1h.62v-2.5h.62v2h.62v-3h.62v3h.62v-5h.62v6.5h.62v-9.5h.62v4h.62v5.5h.62v1h.62v-1h.62v-1.5h.62v-.5h.62h.62v3h.62v-6.5h.62v6h.62v-7h.62v2h.62v4.5h.62v-6.5h.62v.5h.62v-3h.62v1.5h.62v1h.62v1.5h.62v-2.5h.62v10h.62v-5.5h.62v2.5h.62v-1.5h.62h.62v2h.62v-1.5h.62v-4h.62v.5h.62v.5h.62h.62v-.5h.62v3h.62v1h.62v-.5h.62v-5.5h.62v4.5h.62v2h.62v-1.5h.62v-.5h.62v4h.62v-.5h.62v-5.5h.62v2h.62v2h.62v-6h.62v1.5h.62v4.5h.62v-.5h.62v-3.5h.62v4.5h.62v-6.5h.62v4h.62v-2h.62v-2h.62v-1h.62v2h.62v.5h.62v-2.5h.62v6.5h.62v-.5h.62v-2h.62v-1h.62v.5h.62v-2h.62v4.5h.62v1h.62v1.5h.62v-4h.62v2.5h.62v-4.5h.62v-.5h.62v.5h.62v6h.62v-1.5h.62v1.5h.62v-5h.62v2.5h.62v-2.5h.62v2.5h.62v-5h.62v1h.62v5h.62v-3.5h.62v2h.62v-5.5h.62v5h.62v-7.5h.62v6h.62h.62v-5.5h.62v6h.62v1.5h.62v.5h.62v-3h.62v2h.62v-3.5h.62v-1.5h.62v6.5h.62v2h.62v-3h.62v-4h.62v1.5h.62v.5h.62v-8h.62v6h.62v-3.5h.62v9h.62v-1.5h.62v-.5h.62v-2h.62v-6h.62v2.5h.62v5.5h.62v-13h.62h.62v13.5h.62v-9.5h.62v3h.62h.62v-5h.62v4.5h.62v.5h.62v5.5h.62v-9.5h.62v8.5h.62v-11h.62v9h.62v-7h.62v10h.62v-4h.62v.5h.62v2h.62v-6.5h.62v9.5h.62v-10h.62v-1h.62v10h.62v-5.5h.62v4h.62v.5h.62v-6h.62v6h.62v-3h.62v1h.62v3h.62v1h.62v-.5h.62v-1.5h.62v1h.62h.62v-1h.62v-4.5h.62v3.5h.62v1.5h.62v-3.5h.62v2.5h.62v4h.62v-4h.62v-4.5h.62v3.5h.62v3h.62v-12.5h.62v8.5h.62h.62v-11.5h.62v13h.62v2h.62v-15h.62v5.5h.62v3h.62v-.5h.62v5.5h.62v.5h.62v-2.5h.62v-3.5h.62v2.5h.62v2.5h.62v.5h.62v-2h.62v-11.5h.62v4.5h.62v5h.62v-9.5h.62v5h.62v-5h.62v11h.62v-7.5h.62v7h.62v5h.62v2.5h.62v-8.5h.62v8.5h.62v-5h.62v3h.62v1.5h.62v-3.5h.62v-2.5h.62v1.5h.62v1.5h.62v2.5h.62v-.5h.62v.5h.62v-2h.62v1.5h.62v-3.5h.62v1h.62v.5h.62v4h.62v-3h.62v2h.62v-.5h.62v-3.5h.62v2h.62h.62v-5.5h.62v8h.62v-2h.62v1h.62v-8.5h.62v3.5h.62v3h.62v3h.62v-6h.62v-4.5h.62v2.5h.62v8.5h.62v-7.5h.62v2.5h.62v2.5h.62v2h.62v-2.5h.62v-6h.62v4.5h.62v-4h.62v7h.62v-6.5h.62v2h.62v5.5h.62v-5h.62v2.5h.62v2h.62v-13h.62v.5h.62v4h.62v-3h.62v.5h.62v-1h.62v-2.5h.62v-2h.62v.5h.62v-1h.62v3h.62v.5h.62h.62v2h.62v3.5h.62v.5h.62v1h.62v5.5h.62v2.5h.62v-.5h.62v-1h.62v.5h.62v.5h.62v-2.5h.62v1.5h.62v-1.5h.62v-2h.62v5h.62v-2.5h.62v-3h.62v1.5h.62v1h.62v-4h.62v5.5h.62v-.5h.62v-.5h.62v.5h.62h.62v-3h.62v3h.62v-1.5h.62h.62v-4.5h.62v4h.62v4.5h.62v-2h.62v-2h.62v3.5h.62v-.5h.62v-3.5h.62v2h.62v-5.5h.62v4h.62v-2h.62v.5h.62v4.5h.62v-6h.62v5h.62v1.5h.62v-1.5h.62h.62v-4.5h.62v2h.62v-6h.62v7h.62v-3h.62v3.5h.62v1.5h.62v1.5h.62V295.46z" fill="#7e1d1d"/>
<line x1="393.8" y1="295.66" x2="890.8" y2="295.66" stroke="#111" stroke-width="1.5"/>
<text x="380.4" y="290.5" font-size="11" fill="#111" stroke="#111">C</text>
<text x="893.2" y="282.2" font-size="12" fill="#111" stroke="#111">–40</text>
<path d="M393.8 317.44v-7h.62v5.5h.62v-5h.62v.5h.62v-10.5h.62v-1.5h.62v11.5h.62v-9h.62v-.5h.62v8h.62v-11.5h.62v14h.62v-11.5h.62v4h.62v6h.62v1.5h.62v-10h.62v8.5h.62v-9h.62v9.5h.62v-.5h.62v-3.5h.62h.62v7h.62v-15h.62v13h.62v-3.5h.62v8h.62h.62v-6h.62v6h.62v-1h.62v.5h.62v.5h.62h.62v-1h.62v.5h.62v.5h.62h.62v-1h.62v.5h.62v.5h.62v-.5h.62h.62v-9.5h.62v5.5h.62v3h.62v-18.5h.62v11.5h.62v-9.5h.62v-2h.62v12.5h.62v-.5h.62v-2h.62v-3h.62v1h.62h.62v-8h.62v7.5h.62v-7.5h.62v8h.62v1.5h.62v-9.5h.62v8.5h.62v-6h.62h.62v6.5h.62v-4h.62v-1.5h.62v2h.62v7.5h.62v-9h.62v8.5h.62v-3.5h.62v-7h.62v10h.62v3.5h.62v-8h.62v-7.5h.62v11.5h.62v7.5h.62v-14.5h.62v2.5h.62v-2.5h.62v2h.62v11.5h.62v-8h.62v-10h.62v.5h.62v12h.62v2h.62v-2.5h.62v-2h.62v6.5h.62v-16.5h.62v1.5h.62v17h.62v-8h.62v-9.5h.62v13h.62v-13h.62v10h.62v-10.5h.62v11h.62v5.5h.62h.62v-7h.62v1h.62v-2h.62v-3h.62v.5h.62v-2.5h.62v8h.62h.62v-2h.62v-10h.62v4h.62v9.5h.62v-7.5h.62v1.5h.62v3.5h.62h.62v-3.5h.62v3.5h.62v-8.5h.62v12.5h.62h.62v-1.5h.62v-10.5h.62v-2h.62v-1h.62v1.5h.62v13h.62v-7h.62v9.5h.62v-10h.62v-3h.62v1h.62v-2.5h.62v13h.62v3h.62v-13.5h.62v10.5h.62v-15.5h.62v5h.62v-5h.62v6.5h.62v2.5h.62v-9h.62v9.5h.62v7.5h.62v-9.5h.62v4h.62v5.5h.62v-16.5h.62v14h.62v-3.5h.62v2h.62v-11.5h.62v10.5h.62v-12h.62v3.5h.62v-2.5h.62h.62v15h.62v-3.5h.62h.62v5h.62v-13.5h.62v9.5h.62v-3h.62v-.5h.62v2.5h.62v-5.5h.62v10.5h.62v-17.5h.62v14.5h.62v-5h.62v3h.62h.62v-10.5h.62v-1h.62v7h.62v3h.62h.62v-9.5h.62v13.5h.62v-8h.62v2h.62v1.5h.62v6h.62v-15.5h.62v11h.62v-3.5h.62v3h.62v3h.62v-10.5h.62v2.5h.62v10.5h.62v-1h.62v-3h.62v1.5h.62v-13.5h.62v2.5h.62v7h.62v-7.5h.62v-1.5h.62v14.5h.62v-11h.62v-5h.62h.62v7h.62h.62v-3h.62v-3.5h.62v18.5h.62v-7.5h.62v-5h.62h.62v10h.62v-13h.62v7.5h.62v2h.62v-8h.62v4.5h.62v-8.5h.62v13.5h.62v-3h.62v1h.62v-3.5h.62v-.5h.62v-2h.62v9h.62v-11h.62v12h.62v-2h.62v-6.5h.62v5h.62v-4h.62v5.5h.62v.5h.62v-15h.62v18h.62v-12.5h.62v10h.62h.62v-5.5h.62v-5.5h.62v-2h.62v-2.5h.62v9h.62v5.5h.62v-5h.62v10h.62v-5.5h.62v-5.5h.62v3h.62v6.5h.62v-2.5h.62v3h.62v-4.5h.62v4.5h.62v-8h.62v2.5h.62v-5h.62v3h.62v3h.62v-1.5h.62v5h.62v-2h.62v-2h.62v1.5h.62v-6h.62v9.5h.62v1h.62v-3h.62v-.5h.62v3h.62v1h.62v-4.5h.62v.5h.62v3.5h.62v-5h.62v-3h.62v-2h.62v1.5h.62v-2h.62v10.5h.62v-9h.62v2h.62v4h.62v-4h.62v4.5h.62v-6.5h.62v6h.62v-7.5h.62v-.5h.62v9.5h.62v-9h.62v1h.62v-.5h.62v1.5h.62v6h.62v-5.5h.62v1.5h.62v3h.62v3h.62v-1.5h.62v3h.62v-5h.62v-4.5h.62v7.5h.62v1h.62v-9h.62v5h.62v4.5h.62v-11h.62v9h.62v-.5h.62v-1h.62v2h.62v-7h.62v-.5h.62v4h.62v-5h.62v4.5h.62v3h.62v-1.5h.62v-1.5h.62v-1.5h.62v-1h.62h.62v4.5h.62v-6h.62v6h.62h.62v-6h.62v6.5h.62v1.5h.62v-1h.62v-2h.62v-12.5h.62v10.5h.62v-1h.62v-7.5h.62v1h.62v11h.62v-13.5h.62v1.5h.62h.62v-1h.62v6.5h.62v-3h.62v4h.62v4h.62v-2.5h.62v-2.5h.62v3.5h.62v-12h.62v1.5h.62v12h.62v1h.62v-1.5h.62v-4.5h.62v6h.62v-7.5h.62v8.5h.62v-17.5h.62v8.5h.62v1h.62v4h.62v2.5h.62v-1.5h.62v-9.5h.62v-.5h.62v10h.62v-5h.62v-9.5h.62v14.5h.62v-8.5h.62v7h.62v-13h.62v10h.62v7h.62h.62v-13h.62v2h.62v4.5h.62v-2h.62v6.5h.62v-5h.62v-1.5h.62v8.5h.62v-10h.62v-.5h.62v8.5h.62v-10.5h.62v15h.62v-9h.62v-10.5h.62v9h.62v8.5h.62v-10h.62v8.5h.62v-6h.62v4h.62v3.5h.62v-13.5h.62h.62v10h.62v-14h.62v1h.62v12h.62v-3.5h.62v4.5h.62v-1h.62v-8h.62v2h.62v1h.62v-2h.62v-6h.62v15.5h.62v-10h.62v12h.62v-3h.62v2h.62v-16.5h.62v18h.62v-14.5h.62v10.5h.62v-2h.62v2.5h.62v4.5h.62v-1.5h.62v-13h.62v5h.62v-6h.62v11h.62v-14.5h.62h.62v14h.62v-1h.62v-10.5h.62v-2.5h.62v1h.62v7.5h.62v-2h.62v-6.5h.62v11.5h.62v-7.5h.62v10.5h.62v-4.5h.62v9h.62v-19h.62v3h.62v5h.62v-2h.62v5h.62v-7.5h.62v4h.62v2h.62v8h.62v-13h.62v-3.5h.62v18.5h.62v-18h.62v12h.62v-2.5h.62v6.5h.62v2.5h.62v-9h.62v-9h.62v12h.62v3.5h.62v-9.5h.62v5.5h.62v-9h.62v8.5h.62v-.5h.62v-12.5h.62v15h.62v1h.62v-.5h.62v-9h.62v8h.62v-9h.62v2h.62v8.5h.62v-12h.62v8.5h.62v2h.62v5h.62v-2h.62v-4h.62v-8h.62v10.5h.62v-2.5h.62v-6.5h.62v-2.5h.62v12h.62v-5h.62v5h.62v-9.5h.62v1.5h.62v-7h.62v8.5h.62v1.5h.62v-6.5h.62v15h.62v-4.5h.62v-3h.62v-12.5h.62v14.5h.62v-1h.62v4.5h.62v-2.5h.62v-8.5h.62v1h.62v-8h.62v5.5h.62v6.5h.62v2.5h.62v4.5h.62v-4h.62v-4h.62v1.5h.62v-1h.62v.5h.62v-6h.62v10h.62v-5.5h.62v-10.5h.62v14h.62v.5h.62v-12.5h.62h.62v11.5h.62v4.5h.62v-4.5h.62v-13h.62v13.5h.62v-14h.62v11h.62v7.5h.62v-18.5h.62v17.5h.62v-14h.62v16h.62v-10.5h.62v11h.62v-12.5h.62v2.5h.62v-3.5h.62v11h.62v-9h.62v-2h.62v7h.62v-10.5h.62v3.5h.62v3.5h.62v9h.62v-16h.62v-2.5h.62v3h.62v12h.62v-7.5h.62v9.5h.62v-9h.62v-1h.62v-7h.62v12h.62v.5h.62v-5.5h.62v-4.5h.62v12h.62v-4.5h.62v-5h.62v-1h.62v10h.62v-14h.62v2h.62v11h.62v-13.5h.62v1h.62v.5h.62v5h.62v-5.5h.62v10.5h.62v-7.5h.62v-2.5h.62v14h.62v-13h.62v.5h.62v1h.62v-4h.62v12h.62v-7.5h.62v-4h.62v9.5h.62h.62v-3h.62v3h.62v-4.5h.62v-3.5h.62v13h.62v-8h.62v3.5h.62v-3.5h.62v-6.5h.62v8.5h.62v11h.62h.62v-8h.62v7h.62v1h.62h.62h.62h.62v-5h.62v4h.62v.5h.62v-.5h.62v-7h.62v8h.62h.62v-1.5h.62v-3.5h.62v4.5h.62v.5h.62v-1.5h.62v.5h.62v.5h.62v-7.5h.62v8h.62v-1h.62v1.5h.62v-1.5h.62h.62h.62v.5h.62v.5h.62v-1.5h.62v1h.62h.62v-.5h.62v.5h.62v-1h.62v1h.62v-1.5h.62v2h.62v-2.5h.62v2.5h.62v-1.5h.62h.62v1h.62v-3h.62v-4.5h.62v6.5h.62v1h.62v-1.5h.62v2.5h.62v-2h.62v1h.62h.62v1h.62v-1.5h.62v1.5h.62v-.5h.62h.62h.62h.62v-1h.62v.5h.62v-3.5h.62v3h.62v.5h.62v-9h.62v3.5h.62v4.5h.62v2h.62v-5h.62v-7h.62v7h.62v1.5h.62v-17h.62v6h.62v9.5h.62v3.5h.62v-4.5h.62v-9h.62v-5.5h.62h.62v17.5h.62v-12h.62v7.5h.62v2.5h.62v1h.62v-1h.62v2.5h.62v-17.5h.62v10h.62v-3.5h.62v13h.62v-13.5h.62v8.5h.62v-1.5h.62v.5h.62v-7h.62v5h.62v3h.62v3h.62v-1h.62v-9h.62v-7h.62v-.5h.62v18h.62v-16h.62v11h.62v-8h.62v6.5h.62v-12h.62v17h.62v-4h.62v-13h.62v12h.62v3h.62v2h.62v-6.5h.62v-10.5h.62v10.5h.62v10h.62v-.5h.62h.62v-2h.62h.62v.5h.62v1.5h.62v.5h.62v-1.5h.62v1.5h.62v-1h.62v-1h.62v1.5h.62v-1.5h.62v1.5h.62h.62h.62v-.5h.62v.5h.62v-2h.62v2h.62v.5h.62v-1h.62h.62v-5h.62v4h.62v-14.5h.62v12h.62v-4h.62v-9.5h.62v11.5h.62v-1h.62v2h.62v-1h.62v-13h.62v13.5h.62v-14.5h.62v11.5h.62v-5h.62v-6.5h.62v12h.62v-11.5h.62v6h.62v7h.62v-9h.62v12h.62v3h.62v-3h.62v-13h.62v-1h.62v8.5h.62v-11h.62h.62v7h.62v3.5h.62v-6.5h.62v2.5h.62v-2.5h.62v9.5h.62v-9.5h.62v-2h.62v1.5h.62v14.5h.62v-8h.62v-1.5h.62v-4.5h.62v8h.62v-8h.62v12.5h.62v-8h.62v-1h.62V317.44z" fill="#7e1d1d"/>
<line x1="393.8" y1="317.64" x2="890.8" y2="317.64" stroke="#111" stroke-width="1.5"/>
<text x="380.4" y="313.1" font-size="11" fill="#111" stroke="#111">N</text>
<text x="327.8" y="313.1" font-size="12" fill="#111" stroke="#111" textLength="44.4" lengthAdjust="spacingAndGlyphs">K27me3</text>
<text x="893.2" y="304.3" font-size="12" fill="#111" stroke="#111">–20</text>
<path d="M393.8 339.42v-6.5h.62v1.5h.62v-5h.62v2h.62v1.5h.62v4.5h.62v-11h.62v7h.62v-8h.62v9.5h.62v-3.5h.62v-8h.62v3.5h.62v8h.62v-6.5h.62v-1.5h.62v-.5h.62v4.5h.62v-3.5h.62v2.5h.62v-2.5h.62v8h.62v-8.5h.62v6h.62v-3h.62v2h.62v-6h.62v5h.62v7.5h.62v-.5h.62v-1.5h.62v2h.62h.62v-5.5h.62v3.5h.62v1.5h.62v-.5h.62v.5h.62v-.5h.62h.62v1h.62v-1h.62h.62v1h.62v-14.5h.62v-2h.62v2h.62v8.5h.62v2h.62v-15.5h.62v9h.62v-4h.62v10h.62v-3.5h.62v-5h.62v-.5h.62v-4h.62v14h.62v-6h.62v-.5h.62v-2h.62v7h.62v-3h.62v-7h.62v10.5h.62v-13h.62v2h.62v-4.5h.62v7.5h.62v-6h.62v13.5h.62v-15h.62v14.5h.62v-11h.62v1.5h.62v-5h.62h.62v11h.62v-11h.62v9.5h.62v5h.62v1.5h.62v-5.5h.62h.62v5h.62v-15.5h.62v13h.62v-2h.62v5h.62v-2h.62v-3h.62v-2.5h.62v-8.5h.62v6.5h.62v-1h.62v14h.62v-5.5h.62v6.5h.62v-11h.62v-2h.62v-1h.62v-6.5h.62v9.5h.62v1h.62v-10.5h.62h.62v13h.62v-3h.62v-1.5h.62v-8.5h.62v15h.62v-5h.62v-2h.62v-5.5h.62v1.5h.62v-2.5h.62v2h.62v8.5h.62v1h.62v3.5h.62v-12h.62v7h.62v4h.62h.62v-3.5h.62v-2.5h.62h.62v6.5h.62v-12.5h.62v-3.5h.62v16h.62v-.5h.62v-13h.62v7.5h.62v3.5h.62v-4.5h.62v9.5h.62v-9h.62v5.5h.62v-.5h.62v-2h.62v-5h.62v2.5h.62v4h.62v4.5h.62v-13.5h.62v13.5h.62v-5h.62v-13.5h.62v16h.62v-3h.62v-10h.62v14.5h.62v-3.5h.62v-11.5h.62v12.5h.62v-15h.62v4.5h.62v.5h.62v2.5h.62v10h.62v-14.5h.62h.62v3h.62v-5h.62v1.5h.62v4.5h.62v-1h.62v-6h.62v17h.62v-3h.62v-2.5h.62v-9h.62v10h.62v6h.62v-9.5h.62v3h.62v3h.62v-4.5h.62v-3.5h.62v2.5h.62v-6h.62v16h.62v-2h.62v-.5h.62v-11.5h.62v-2h.62v12h.62v-6h.62v-5h.62v4h.62v-8.5h.62v11h.62v-.5h.62v2.5h.62v-5h.62v4.5h.62v-3.5h.62v-7.5h.62v9.5h.62v-7.5h.62v-3.5h.62v18h.62v-6h.62v-1h.62v1.5h.62h.62v6h.62v-10.5h.62v12h.62v-13h.62v1.5h.62v4h.62v.5h.62v.5h.62h.62v.5h.62v-1.5h.62v-11.5h.62v14h.62v-9.5h.62v-.5h.62v-.5h.62h.62v4h.62v.5h.62v-6.5h.62v-.5h.62v13h.62v-13.5h.62v15h.62v-6h.62v-3.5h.62v-7h.62v.5h.62v18.5h.62v-6.5h.62v-8h.62v-4.5h.62v7.5h.62h.62v3h.62h.62v7h.62v-7h.62v5.5h.62v-.5h.62v4h.62v-10h.62v-6h.62v-3.5h.62v2h.62v18.5h.62v-4h.62v-2.5h.62v-2.5h.62v5h.62v-3.5h.62v-1.5h.62v4h.62v1h.62v-3h.62v5h.62v-3.5h.62v1.5h.62v-2h.62v-2.5h.62v2.5h.62v3.5h.62v.5h.62v-6h.62h.62v6.5h.62v-6.5h.62v7.5h.62v-1.5h.62v-2h.62v.5h.62v-3.5h.62v.5h.62v4.5h.62h.62v-3h.62h.62v1.5h.62v.5h.62v-3h.62v1h.62v-2.5h.62v5h.62v1h.62v-2.5h.62v-1h.62v3h.62v-1.5h.62v-3.5h.62h.62v-1.5h.62v6h.62v-5.5h.62v7h.62v-3.5h.62v-2.5h.62v-2h.62v6.5h.62v2h.62v-7.5h.62v.5h.62v1.5h.62v-2h.62v-1h.62v4.5h.62v-3h.62v2h.62v1.5h.62v-1.5h.62v-2h.62v5.5h.62v-1h.62v-1h.62v2.5h.62v-5.5h.62v3h.62v1h.62v2.5h.62v-3h.62h.62v1.5h.62v1.5h.62v-3.5h.62v-2.5h.62v-1.5h.62h.62v5h.62v-2h.62v1.5h.62v2.5h.62v-2h.62v-3h.62v-5.5h.62v9h.62v-10h.62v6h.62v-5h.62v-4h.62v2.5h.62v10h.62v-11.5h.62v3h.62v-2.5h.62v3h.62v6h.62v-3h.62v1h.62v-9.5h.62v-4h.62v13.5h.62v-7h.62v6h.62v6.5h.62v-6.5h.62v-4h.62v2.5h.62v-5h.62h.62v3h.62v4.5h.62v2.5h.62v-12h.62v11.5h.62v-.5h.62v-3h.62v-6h.62v10h.62v1.5h.62v-4h.62v-8.5h.62v-.5h.62v-1h.62v17h.62v-2h.62v-15h.62v11.5h.62v3h.62v-10.5h.62v-2h.62v8h.62v3.5h.62v-6.5h.62v-7.5h.62h.62v2.5h.62v-2.5h.62v7.5h.62v6h.62v-9h.62v-.5h.62v5h.62v8h.62v-13h.62v12.5h.62v-2h.62v-13.5h.62v8.5h.62v-9h.62v6h.62v6.5h.62v-6h.62v-6h.62h.62v-4h.62v19h.62v-11h.62v-8h.62v17h.62v-1.5h.62v1.5h.62v-9.5h.62v-6.5h.62v15h.62v-16h.62h.62v1h.62v10h.62v4.5h.62v-1.5h.62v-14h.62v6h.62v-4h.62v2.5h.62v3.5h.62v.5h.62v-2.5h.62v-6h.62v16h.62v-16h.62v5h.62v15h.62v-18.5h.62v13.5h.62v-2.5h.62v-2h.62v3.5h.62v-.5h.62v-13.5h.62v1.5h.62v6.5h.62v-.5h.62v12h.62v-18.5h.62v2.5h.62v15h.62v-18.5h.62v7h.62v8h.62v-3h.62v4h.62v1.5h.62v-16h.62v-1.5h.62v1h.62v9h.62v7.5h.62v-12.5h.62v4h.62v2h.62v-4.5h.62v2h.62v6h.62v5h.62v-3h.62v-13.5h.62v-2h.62v13.5h.62v-10h.62v10h.62v-5.5h.62v7.5h.62v-.5h.62v-9h.62v8h.62v-8h.62v4.5h.62v3h.62v-2h.62v7h.62v-11.5h.62v8.5h.62v-8.5h.62v-8h.62v3.5h.62v6h.62v2h.62v2h.62v-13.5h.62v13.5h.62v-5h.62v3h.62v2.5h.62v-4h.62v-6.5h.62v-2.5h.62v13h.62h.62v-7h.62v10.5h.62v-1.5h.62v1h.62v-17h.62v12.5h.62v-12.5h.62v5h.62v5.5h.62v6h.62v-4h.62v-1.5h.62v4.5h.62v-10h.62v.5h.62v11h.62v-2.5h.62v-2.5h.62v-5.5h.62v6.5h.62v-1h.62v-7h.62v1h.62v4.5h.62v-5h.62v7h.62v.5h.62v2.5h.62v-7.5h.62v9.5h.62v-17.5h.62v9.5h.62v-.5h.62v6.5h.62v-7.5h.62v-6.5h.62v13h.62v-6h.62v11h.62v-9.5h.62v-7.5h.62v5.5h.62v-6.5h.62v1h.62v-1.5h.62v8.5h.62v-7h.62v12.5h.62v2h.62v1h.62v-5.5h.62v-4h.62v-6h.62v16h.62v-5.5h.62v-12h.62v5.5h.62v-2.5h.62v13h.62v-17h.62v12.5h.62v1.5h.62v-8.5h.62v5h.62v-4h.62v12h.62v-12.5h.62h.62v-5.5h.62v17h.62v-4h.62v6.5h.62v-12h.62v-6.5h.62v8h.62v4.5h.62v-12.5h.62v15h.62v3h.62v-16.5h.62v16.5h.62v-13.5h.62v-6h.62v4.5h.62v-3.5h.62v6h.62v10.5h.62v-6h.62v-9h.62v-.5h.62v4.5h.62v-1.5h.62v10.5h.62v-9h.62v2.5h.62v4.5h.62v-13h.62v6h.62v-6h.62v-.5h.62v2h.62v11.5h.62v-13.5h.62v17.5h.62v-.5h.62v-8.5h.62v11.5h.62v-1.5h.62v2h.62v-2h.62v1.5h.62v.5h.62v-8h.62v7.5h.62v-1.5h.62v2h.62v-1h.62h.62v-.5h.62v-7.5h.62v6.5h.62v1.5h.62v.5h.62v-6h.62v5.5h.62v-1h.62v1.5h.62v-.5h.62v-.5h.62v.5h.62v.5h.62h.62v-1h.62v-9h.62v10h.62v-4.5h.62v5h.62v-.5h.62v-11h.62v10h.62v-1h.62v-3.5h.62v3.5h.62v1h.62v-2h.62v2.5h.62v.5h.62h.62v.5h.62v-.5h.62h.62v-4h.62v4.5h.62v-1h.62v.5h.62v-.5h.62v.5h.62v-2h.62v1h.62v1h.62v-7.5h.62v7h.62v1h.62v-1.5h.62v1.5h.62v-2.5h.62v1.5h.62v-1.5h.62v1h.62v.5h.62v1h.62v-1h.62h.62v1h.62v-6.5h.62v2h.62v3h.62v-15h.62v8h.62v-11h.62v12.5h.62v-11h.62v-2.5h.62v9h.62v3.5h.62v-3h.62v2h.62v-7.5h.62v.5h.62v14h.62v-18.5h.62v14.5h.62v-12h.62v-1.5h.62v-1h.62h.62v2h.62v6h.62v.5h.62v-3.5h.62v6h.62v-11h.62v11.5h.62v-11.5h.62v9.5h.62v1h.62v-10.5h.62v13h.62v-4h.62v-1h.62v11h.62v-13.5h.62v1.5h.62v-7h.62v4h.62h.62v11h.62v3h.62v-9.5h.62v-7h.62v13.5h.62v-8.5h.62v8.5h.62v-11.5h.62v13.5h.62v-17h.62v18.5h.62v1.5h.62v-2h.62v2h.62h.62h.62v-1.5h.62v.5h.62v1.5h.62v-2h.62v1h.62v-.5h.62v-8h.62v7.5h.62v1.5h.62v-.5h.62v-1h.62v2h.62v-1.5h.62v-1.5h.62v1h.62v-.5h.62v-6.5h.62v8.5h.62v-3h.62v-10h.62v8h.62v-5h.62v1.5h.62v2.5h.62v4.5h.62v.5h.62v-8.5h.62v.5h.62v5.5h.62v-5.5h.62v5h.62v1h.62v-1.5h.62v2h.62v-11h.62v1.5h.62v6h.62v-2.5h.62v-1h.62v.5h.62v1h.62v-6.5h.62v13.5h.62v-2.5h.62v3.5h.62v-1.5h.62v-8h.62v-1h.62v10h.62v-11.5h.62v7h.62v-2h.62v-5h.62v3.5h.62v5.5h.62v-.5h.62v-2h.62v2h.62v-2h.62v-9.5h.62v9.5h.62v-2.5h.62v5.5h.62v-7h.62v1.5h.62V339.42z" fill="#7e1d1d"/>
<line x1="393.8" y1="339.62" x2="890.8" y2="339.62" stroke="#111" stroke-width="1.5"/>
<text x="380.4" y="335.7" font-size="11" fill="#111" stroke="#111">C</text>
<text x="893.2" y="326.4" font-size="12" fill="#111" stroke="#111">–20</text>
<text x="0" y="149.3" font-size="20" fill="#000" stroke="#000" font-weight="bold">c</text>
<rect x="25.4" y="154.7" width="294.4" height="179.8" fill="none" stroke="#2e3192" stroke-width="1.7"/>
<path d="M174.6 334.5V347.9H661" fill="none" stroke="#2e3192" stroke-width="1.6"/>
<rect x="660.6" y="343.6" width="8" height="8.5" fill="#2e3192"/>
<line x1="129.8" y1="169.4" x2="241.8" y2="169.4" stroke="#111" stroke-width="1.6"/>
<line x1="129.8" y1="164.2" x2="129.8" y2="174.6" stroke="#111" stroke-width="1.6"/>
<line x1="241.8" y1="164.2" x2="241.8" y2="174.6" stroke="#111" stroke-width="1.6"/>
<text x="246" y="172.1" font-size="11" fill="#111" stroke="#111">5 kb</text>
<text x="46.4" y="189.4" font-size="11" fill="#111" stroke="#111">chr13:</text>
<line x1="80.6" y1="181.5" x2="80.6" y2="191" stroke="#111" stroke-width="1"/>
<text x="84.3" y="189.4" font-size="11" fill="#111" stroke="#111">28545000</text>
<line x1="191.6" y1="181.5" x2="191.6" y2="191" stroke="#111" stroke-width="1"/>
<text x="196.2" y="189.4" font-size="11" fill="#111" stroke="#111">28540000</text>
<text x="79.5" y="206.2" font-size="12" fill="#111" stroke="#111">CDX2</text>
<rect x="118.2" y="198.2" width="4" height="7.6" fill="#2e3192"/>
<rect x="122" y="195" width="12.6" height="13.8" fill="#2e3192"/>
<line x1="133" y1="202.1" x2="248" y2="202.1" stroke="#2e3192" stroke-width="1"/>
<path d="M137.2 200l2.6 2.3l-2.6 2.3M144.32 200l2.6 2.3l-2.6 2.3M151.44 200l2.6 2.3l-2.6 2.3M158.56 200l2.6 2.3l-2.6 2.3M165.68 200l2.6 2.3l-2.6 2.3M172.8 200l2.6 2.3l-2.6 2.3M179.92 200l2.6 2.3l-2.6 2.3M187.04 200l2.6 2.3l-2.6 2.3M194.16 200l2.6 2.3l-2.6 2.3M201.28 200l2.6 2.3l-2.6 2.3M215.52 200l2.6 2.3l-2.6 2.3M222.64 200l2.6 2.3l-2.6 2.3M229.76 200l2.6 2.3l-2.6 2.3M236.88 200l2.6 2.3l-2.6 2.3M244 200l2.6 2.3l-2.6 2.3" fill="none" stroke="#2e3192" stroke-width="0.85"/>
<rect x="210.8" y="195" width="3.8" height="13.8" fill="#2e3192"/>
<rect x="247.7" y="195" width="6.3" height="13.8" fill="#2e3192"/>
<rect x="253.8" y="198.2" width="21.8" height="7.6" fill="#2e3192"/>
<text x="283.3" y="193.9" font-size="11" fill="#111" stroke="#111">Tag</text>
<text x="282.4" y="204.4" font-size="11" fill="#111" stroke="#111">count</text>
<text x="299" y="215.8" font-size="11" fill="#111" stroke="#111">–80</text>
<text x="299" y="244.2" font-size="11" fill="#111" stroke="#111">–80</text>
<text x="299" y="274" font-size="11" fill="#111" stroke="#111">–80</text>
<text x="299" y="302.4" font-size="11" fill="#111" stroke="#111">–80</text>
<text x="299" y="326.9" font-size="11" fill="#111" stroke="#111">–0</text>
<text x="29.3" y="218.4" font-size="11" fill="#8a2323" stroke="#8a2323">K4me3</text>
<text x="29.3" y="276.8" font-size="11" fill="#8a2323" stroke="#8a2323">K27ac</text>
<text x="45.7" y="231.8" font-size="11" fill="#111" stroke="#111">Normal</text>
<text x="45.7" y="260.8" font-size="11" fill="#111" stroke="#111">Cancer</text>
<text x="45.7" y="289.7" font-size="11" fill="#111" stroke="#111">Normal</text>
<text x="45.7" y="318.6" font-size="11" fill="#111" stroke="#111">Cancer</text>
<path d="M71.5 238.5L71.5 238.14L72.3 238L73.1 237.96L73.9 237.75L74.7 237.55L75.5 237.52L76.3 237.35L77.1 236.99L77.9 237.18L78.7 237.31L79.5 237.26L80.3 237.63L81.1 237.7L81.9 237.95L82.7 237.98L83.5 238.18L84.3 238.04L85.1 237.98L85.9 238.09L86.7 238.02L87.5 238.05L88.3 238.24L89.1 238.02L89.9 238.07L90.7 238.16L91.5 238.25L92.3 237.98L93.1 238.11L93.9 238.03L94.7 237.98L95.5 238.03L96.3 237.97L97.1 238.13L97.9 238L98.7 238.12L99.5 237.96L100.3 237.98L101.1 238.23L101.9 238.22L102.7 238.19L103.5 237.95L104.3 238.12L105.1 238.06L105.9 238.16L106.7 238.1L107.5 238.14L108.3 238.15L109.1 238.07L109.9 238.07L110.7 237.97L111.5 238.04L112.3 237.96L113.1 237.99L113.9 237.94L114.7 238.05L115.5 238.21L116.3 237.98L117.1 237.95L117.9 237.97L118.7 238.08L119.5 238.03L120.3 238.19L121.1 237.99L121.9 238.08L122.7 238.17L123.5 238.24L124.3 237.99L125.1 237.94L125.9 238.23L126.7 238L127.5 238.13L128.3 238.21L129.1 238.17L129.9 238.01L130.7 237.98L131.5 238.25L132.3 238.06L133.1 238.23L133.9 237.95L134.7 237.86L135.5 237.18L136.3 236.33L137.1 235.67L137.9 235.24L138.7 235.95L139.5 236.9L140.3 237.47L141.1 238.05L141.9 238.15L142.7 238.12L143.5 238.06L144.3 238.19L145.1 238.17L145.9 237.79L146.7 237.71L147.5 237.05L148.3 236.43L149.1 235.88L149.9 235.28L150.7 235.02L151.5 235.15L152.3 235.54L153.1 235.79L153.9 235.56L154.7 234.8L155.5 234.22L156.3 234L157.1 234.39L157.9 235.56L158.7 236.63L159.5 237.22L160.3 237.81L161.1 238L161.9 238.23L162.7 238.12L163.5 238.07L164.3 238.25L165.1 238.04L165.9 237.98L166.7 238L167.5 237.53L168.3 237.26L169.1 237.03L169.9 237.25L170.7 237.45L171.5 237.74L172.3 238.15L173.1 238.21L173.9 238.04L174.7 237.95L175.5 238.18L176.3 238.11L177.1 238.07L177.9 238.16L178.7 238.14L179.5 238.16L180.3 238.14L181.1 238.07L181.9 238.16L182.7 238.13L183.5 237.99L184.3 238.18L185.1 237.9L185.9 237.65L186.7 237.51L187.5 237.29L188.3 236.99L189.1 237.26L189.9 237.52L190.7 237.71L191.5 237.84L192.3 238.15L193.1 238.13L193.9 238.15L194.7 237.99L195.5 238.12L196.3 237.99L197.1 238.21L197.9 238.15L198.7 238.05L199.5 237.98L200.3 238.12L201.1 238.19L201.9 238.22L202.7 238.09L203.5 238.2L204.3 238L205.1 237.99L205.9 238.2L206.7 238.17L207.5 238L208.3 238.05L209.1 238L209.9 238.15L210.7 238.22L211.5 238.17L212.3 238L213.1 238.17L213.9 238.12L214.7 238.04L215.5 237.88L216.3 237.53L217.1 236.73L217.9 236.03L218.7 234.96L219.5 233.66L220.3 233.1L221.1 232.99L221.9 233.31L222.7 233.08L223.5 232.64L224.3 232.38L225.1 232.28L225.9 233.16L226.7 234.68L227.5 236.18L228.3 237.28L229.1 237.82L229.9 238.09L230.7 238.21L231.5 238.07L232.3 238.17L233.1 238L233.9 238.25L234.7 237.97L235.5 238.04L236.3 237.96L237.1 237.97L237.9 237.97L238.7 238.07L239.5 238.25L240.3 237.99L241.1 238.12L241.9 237.93L242.7 237.51L243.5 237.03L244.3 236.34L245.1 235.38L245.9 234.87L246.7 234.77L247.5 235.11L248.3 235.6L249.1 236.51L249.9 237.1L250.7 237.7L251.5 238.01L252.3 238.02L253.1 237.98L253.9 238.2L254.7 238L255.5 237.96L256.3 238L257.1 237.99L257.9 238.24L258.7 238.03L259.5 237.94L260.3 238.16L261.1 238.04L261.9 237.96L262.7 237.76L263.5 237.65L264.3 237.47L265.1 237.19L265.9 237.25L266.7 237.07L267.5 236.93L268.3 236.87L269.1 236.9L269.9 236.69L270.7 236.86L271.5 237.27L272.3 237.31L273.1 237.52L273.9 237.62L274.7 237.62L275.5 237.44L276.3 237.28L277.1 237.12L277.9 236.96L278.7 236.79L279.5 236.88L280.3 236.9L281.1 237.08L281.9 237.42L282.7 237.65L283.5 237.61L284.3 237.36L285.1 236.96L285.9 236.52L286.7 236.3L287.5 235.98L288.3 236.08L289.1 236.38L289.9 236.71L290.7 236.82L291.5 236.49L292.3 235.89L293.1 235.08L293.9 235.04L294.7 235.77L295.5 236.68L296.3 237.43L297.1 238.04L297.9 238.08L298.7 238.12L299.5 237.98L300 238.5Z" fill="#8a2323"/>
<line x1="71.5" y1="238.7" x2="300" y2="238.7" stroke="#111" stroke-width="1.7"/>
<path d="M71.5 267.7L71.5 267.38L72.3 267.43L73.1 267.33L73.9 267.41L74.7 267.44L75.5 267.33L76.3 267.17L77.1 267.2L77.9 267.22L78.7 267.39L79.5 267.29L80.3 267.37L81.1 267.4L81.9 267.43L82.7 267.39L83.5 267.16L84.3 267.19L85.1 267.2L85.9 267.2L86.7 267.4L87.5 267.36L88.3 267.26L89.1 267.23L89.9 267.19L90.7 267.18L91.5 267.43L92.3 267.27L93.1 267.25L93.9 267.3L94.7 267.4L95.5 267.31L96.3 267.43L97.1 267.16L97.9 267.18L98.7 267.28L99.5 267.33L100.3 267.05L101.1 266.93L101.9 266.39L102.7 265.73L103.5 265.11L104.3 264.67L105.1 264.65L105.9 265.24L106.7 266.06L107.5 266.64L108.3 266.84L109.1 267.11L109.9 266.73L110.7 265.79L111.5 265.05L112.3 264.58L113.1 264.97L113.9 265.86L114.7 266.44L115.5 267.15L116.3 267.25L117.1 267.31L117.9 267.02L118.7 266.75L119.5 265.98L120.3 264.8L121.1 263.89L121.9 263.24L122.7 263.36L123.5 264.51L124.3 265.63L125.1 266.48L125.9 266.84L126.7 267.14L127.5 267.35L128.3 267.35L129.1 267.4L129.9 267.31L130.7 267.45L131.5 267.24L132.3 267.17L133.1 267.13L133.9 267.14L134.7 266.86L135.5 266.68L136.3 265.7L137.1 264.24L137.9 263.08L138.7 262.56L139.5 262.58L140.3 263.35L141.1 263.74L141.9 263.82L142.7 263.62L143.5 263.74L144.3 264.31L145.1 264.11L145.9 262.54L146.7 260.32L147.5 258.07L148.3 256.99L149.1 257.33L149.9 257.66L150.7 256.47L151.5 252.35L152.3 246.74L153.1 242.36L153.9 242.5L154.7 246.12L155.5 250.18L156.3 251.91L157.1 251.76L157.9 252.09L158.7 253.98L159.5 254.7L160.3 252.6L161.1 250.23L161.9 250.61L162.7 255.05L163.5 259.55L164.3 261.52L165.1 260.76L165.9 258.77L166.7 258.22L167.5 258.48L168.3 257.52L169.1 254.85L169.9 252.25L170.7 252.92L171.5 256.2L172.3 259.6L173.1 260.55L173.9 259.07L174.7 256.75L175.5 255.86L176.3 257.17L177.1 259.96L177.9 262.51L178.7 264.14L179.5 263.71L180.3 261.74L181.1 260.42L181.9 260.22L182.7 261.09L183.5 260.39L184.3 257.3L185.1 252.02L185.9 247.2L186.7 245.55L187.5 247.87L188.3 251.95L189.1 254.56L189.9 254.57L190.7 253.47L191.5 254.33L192.3 257.32L193.1 260.73L193.9 262.61L194.7 262.85L195.5 263.11L196.3 263.94L197.1 265.16L197.9 266.1L198.7 265.87L199.5 265.12L200.3 264.35L201.1 263.25L201.9 263.15L202.7 263.91L203.5 265.18L204.3 265.87L205.1 266.64L205.9 266.33L206.7 265.82L207.5 265.01L208.3 263.93L209.1 263.22L209.9 263.47L210.7 264.31L211.5 265.36L212.3 266.48L213.1 267.09L213.9 267.04L214.7 267.42L215.5 267.17L216.3 267.4L217.1 267.13L217.9 267.01L218.7 266.67L219.5 266.14L220.3 265.01L221.1 263.87L221.9 262.32L222.7 261.47L223.5 261.14L224.3 261.91L225.1 263.31L225.9 264.7L226.7 265.98L227.5 266.63L228.3 266.58L229.1 266.23L229.9 265.29L230.7 264.38L231.5 263.81L232.3 263.7L233.1 264.22L233.9 265.3L234.7 266.37L235.5 266.7L236.3 266.94L237.1 267.13L237.9 266.7L238.7 266.26L239.5 265.59L240.3 265.38L241.1 265.42L241.9 265.72L242.7 266.1L243.5 266.78L244.3 266.76L245.1 265.86L245.9 264.19L246.7 262.36L247.5 261.26L248.3 261.68L249.1 263.51L249.9 265.59L250.7 266.43L251.5 266.94L252.3 266.57L253.1 265.62L253.9 264.93L254.7 264.5L255.5 265.15L256.3 265.79L257.1 266.76L257.9 267.18L258.7 267.21L259.5 267.25L260.3 267.08L261.1 266.78L261.9 266.57L262.7 266.46L263.5 266.02L264.3 265.69L265.1 265.61L265.9 265.64L266.7 265.97L267.5 266.45L268.3 266.73L269.1 266.81L269.9 267.15L270.7 267.12L271.5 267.11L272.3 267.25L273.1 267.24L273.9 267.26L274.7 267.36L275.5 267.17L276.3 267.31L277.1 267.17L277.9 267.36L278.7 267.16L279.5 267.13L280.3 267.04L281.1 266.76L281.9 266.25L282.7 265.14L283.5 264.16L284.3 263.07L285.1 262.71L285.9 262.89L286.7 263.65L287.5 264.53L288.3 265.76L289.1 266.19L289.9 266.43L290.7 265.66L291.5 264.29L292.3 262.71L293.1 262.37L293.9 263.16L294.7 264.62L295.5 266.26L296.3 266.87L297.1 267.26L297.9 267.35L298.7 267.45L299.5 267.45L300 267.7Z" fill="#8a2323"/>
<line x1="71.5" y1="267.9" x2="300" y2="267.9" stroke="#111" stroke-width="1.7"/>
<path d="M71.5 296.7L71.5 296.26L72.3 296.22L73.1 296.21L73.9 296.16L74.7 296.22L75.5 296.16L76.3 296.45L77.1 296.31L77.9 296.16L78.7 296.25L79.5 296.17L80.3 296.42L81.1 296.31L81.9 296.38L82.7 296.29L83.5 296.28L84.3 296.46L85.1 296.39L85.9 296.37L86.7 296.17L87.5 296.21L88.3 296.41L89.1 296.2L89.9 296.42L90.7 296.26L91.5 296.42L92.3 296.46L93.1 296.18L93.9 296.39L94.7 296.39L95.5 296.15L96.3 296.18L97.1 296.37L97.9 296.15L98.7 296.29L99.5 296.24L100.3 296.38L101.1 296.11L101.9 296.07L102.7 295.73L103.5 295.43L104.3 295.38L105.1 295.38L105.9 295.71L106.7 296.04L107.5 296.29L108.3 296.32L109.1 296.26L109.9 296.46L110.7 296.24L111.5 296.35L112.3 296.36L113.1 296.2L113.9 296.31L114.7 296.36L115.5 296.31L116.3 296.23L117.1 296.44L117.9 296.15L118.7 296.45L119.5 296.22L120.3 296.19L121.1 296.45L121.9 296.21L122.7 296.34L123.5 296.27L124.3 296.46L125.1 296.45L125.9 296.4L126.7 296.15L127.5 296.4L128.3 296.22L129.1 296.16L129.9 296.16L130.7 296.35L131.5 296.35L132.3 296.29L133.1 296.21L133.9 296.43L134.7 296.22L135.5 296.2L136.3 296.18L137.1 296.44L137.9 296.15L138.7 296.41L139.5 296.31L140.3 296.19L141.1 296.04L141.9 296.16L142.7 295.88L143.5 295.89L144.3 295.85L145.1 295.76L145.9 295.74L146.7 295.76L147.5 295.77L148.3 295.68L149.1 295.69L149.9 296.07L150.7 296.21L151.5 295.99L152.3 296.2L153.1 296.28L153.9 296.36L154.7 296.26L155.5 296.19L156.3 296.31L157.1 296.32L157.9 296.44L158.7 296.17L159.5 296.45L160.3 296.3L161.1 296.19L161.9 296.42L162.7 296.23L163.5 296.16L164.3 296.26L165.1 296.21L165.9 296.43L166.7 296.32L167.5 296.41L168.3 296.19L169.1 296.37L169.9 296.31L170.7 296.14L171.5 296.19L172.3 296.15L173.1 296.31L173.9 296.3L174.7 296.23L175.5 296.31L176.3 296.37L177.1 296.33L177.9 296.41L178.7 296.34L179.5 296.14L180.3 296.15L181.1 296.26L181.9 296.3L182.7 296.33L183.5 296.36L184.3 296.14L185.1 295.61L185.9 294.92L186.7 294.18L187.5 293.2L188.3 292.83L189.1 293.15L189.9 293.97L190.7 294.85L191.5 295.68L192.3 295.97L193.1 296.29L193.9 296.28L194.7 296.2L195.5 296.19L196.3 296.19L197.1 295.68L197.9 295.19L198.7 294.35L199.5 293.64L200.3 292.94L201.1 293.16L201.9 293.73L202.7 294.72L203.5 295.37L204.3 295.88L205.1 295.97L205.9 296L206.7 295.56L207.5 295.01L208.3 294.46L209.1 294.33L209.9 294.29L210.7 294.72L211.5 295.34L212.3 295.69L213.1 295.97L213.9 296.23L214.7 296.27L215.5 296.4L216.3 296.19L217.1 296.15L217.9 296.28L218.7 296.12L219.5 295.88L220.3 295.4L221.1 294.8L221.9 293.68L222.7 293.04L223.5 292.9L224.3 293.52L225.1 294.35L225.9 295.15L226.7 295.76L227.5 295.95L228.3 296.1L229.1 295.68L229.9 294.96L230.7 294.16L231.5 293.77L232.3 293.59L233.1 294.08L233.9 295L234.7 295.53L235.5 296.04L236.3 296.32L237.1 296.38L237.9 296.35L238.7 296.4L239.5 296.4L240.3 296.45L241.1 296.31L241.9 296.34L242.7 296.25L243.5 296.17L244.3 295.95L245.1 294.85L245.9 293.49L246.7 291.4L247.5 290.31L248.3 290.82L249.1 292.73L249.9 294.35L250.7 295.62L251.5 296.1L252.3 295.75L253.1 295.44L253.9 294.79L254.7 294.66L255.5 294.86L256.3 295.28L257.1 295.79L257.9 296.18L258.7 296.15L259.5 296.22L260.3 296.3L261.1 296.35L261.9 296.18L262.7 296.16L263.5 295.99L264.3 295.94L265.1 296L265.9 296.01L266.7 295.75L267.5 295.94L268.3 295.8L269.1 295.55L269.9 295.42L270.7 295.46L271.5 295.2L272.3 295.02L273.1 295.1L273.9 295.02L274.7 295.05L275.5 295.01L276.3 294.81L277.1 295.03L277.9 294.91L278.7 295L279.5 295.19L280.3 295.41L281.1 295.29L281.9 295.55L282.7 295.69L283.5 295.83L284.3 295.71L285.1 295.95L285.9 296.09L286.7 296.09L287.5 296.25L288.3 296.1L289.1 296.11L289.9 296.02L290.7 295.59L291.5 295.22L292.3 295.18L293.1 294.92L293.9 295.18L294.7 295.32L295.5 295.72L296.3 296.15L297.1 296.29L297.9 296.38L298.7 296.14L299.5 296.36L300 296.7Z" fill="#8a2323"/>
<line x1="71.5" y1="296.9" x2="300" y2="296.9" stroke="#111" stroke-width="1.7"/>
<path d="M71.5 325.9L71.5 324.98L72.3 324.34L73.1 323.57L73.9 322.97L74.7 323.06L75.5 323.53L76.3 324.46L77.1 325L77.9 325.42L78.7 325.39L79.5 325.57L80.3 325.4L81.1 325.43L81.9 325.53L82.7 325.49L83.5 325.44L84.3 325.6L85.1 325.48L85.9 325.4L86.7 325.58L87.5 325.4L88.3 325.44L89.1 325.39L89.9 325.55L90.7 325.63L91.5 325.4L92.3 325.4L93.1 325.52L93.9 325.63L94.7 325.6L95.5 325.46L96.3 325.57L97.1 325.36L97.9 325.47L98.7 325.6L99.5 325.45L100.3 325.53L101.1 325.17L101.9 324.1L102.7 320.99L103.5 316.83L104.3 316.51L105.1 320.25L105.9 322.93L106.7 322.7L107.5 320.55L108.3 319.78L109.1 321.51L109.9 323.67L110.7 325.13L111.5 325.29L112.3 325.48L113.1 325.62L113.9 325.45L114.7 325.56L115.5 325.6L116.3 325.49L117.1 325.55L117.9 325.32L118.7 324.52L119.5 323.38L120.3 322.06L121.1 320.76L121.9 321.21L122.7 322.41L123.5 323.73L124.3 324.83L125.1 325.38L125.9 325.5L126.7 325.53L127.5 325.62L128.3 325.34L129.1 325.64L129.9 325.52L130.7 325.42L131.5 325.53L132.3 325.33L133.1 325.54L133.9 325.25L134.7 325.18L135.5 325.06L136.3 324.72L137.1 324.53L137.9 324.07L138.7 323.81L139.5 323.8L140.3 323.91L141.1 324.09L141.9 324.52L142.7 324.92L143.5 324.84L144.3 324.78L145.1 323.93L145.9 322.33L146.7 320.53L147.5 318.79L148.3 317.97L149.1 318.14L149.9 318.72L150.7 318.02L151.5 315.26L152.3 311.34L153.1 308.81L153.9 308.71L154.7 310.88L155.5 313.46L156.3 314.43L157.1 314.02L157.9 314.34L158.7 315.97L159.5 316.97L160.3 316.35L161.1 315L161.9 315.65L162.7 318.22L163.5 321.39L164.3 323.65L165.1 324.62L165.9 324.19L166.7 323.05L167.5 321.24L168.3 319.52L169.1 318.63L169.9 319.1L170.7 320.67L171.5 321.86L172.3 321.53L173.1 320.11L173.9 318.46L174.7 318.08L175.5 320.03L176.3 322.26L177.1 324.2L177.9 324.86L178.7 324.99L179.5 324.75L180.3 323.57L181.1 321.54L181.9 319.62L182.7 318.23L183.5 317.89L184.3 318.68L185.1 319.5L185.9 318.99L186.7 317.14L187.5 314.69L188.3 313.6L189.1 314.26L189.9 316.29L190.7 318.08L191.5 318.4L192.3 318.7L193.1 319.68L193.9 321.45L194.7 323.45L195.5 324.48L196.3 324.81L197.1 324.2L197.9 322.96L198.7 320.59L199.5 318.59L200.3 317.09L201.1 317.27L201.9 318.89L202.7 320.71L203.5 321.61L204.3 320.78L205.1 319.37L205.9 319.13L206.7 320.05L207.5 322.14L208.3 324.06L209.1 324.89L209.9 325.27L210.7 325.17L211.5 324.51L212.3 323.82L213.1 322.47L213.9 321.53L214.7 321.53L215.5 321.9L216.3 323.23L217.1 324.02L217.9 324.9L218.7 324.91L219.5 324.83L220.3 323.86L221.1 322.75L221.9 321.08L222.7 319.58L223.5 319.44L224.3 320.44L225.1 322.22L225.9 323.7L226.7 324.64L227.5 325.14L228.3 324.68L229.1 324.05L229.9 322.8L230.7 321.51L231.5 320.64L232.3 320.66L233.1 321.34L233.9 322.9L234.7 324.01L235.5 324.84L236.3 325.19L237.1 325.32L237.9 325.04L238.7 324.42L239.5 324.03L240.3 323.51L241.1 323.64L241.9 323.98L242.7 324.55L243.5 324.67L244.3 323.72L245.1 319.56L245.9 311.58L246.7 304.96L247.5 306.56L248.3 314.4L249.1 319.97L249.9 319.89L250.7 317.53L251.5 317.17L252.3 319.24L253.1 320.24L253.9 317.82L254.7 313.27L255.5 310.4L256.3 311.62L257.1 315.98L257.9 320.14L258.7 322.55L259.5 322.67L260.3 321.74L261.1 320.89L261.9 320.73L262.7 321.66L263.5 322.83L264.3 323.91L265.1 324.93L265.9 325.07L266.7 325L267.5 324.52L268.3 323.56L269.1 322.23L269.9 321.68L270.7 321.47L271.5 322.39L272.3 323.35L273.1 324.32L273.9 324.48L274.7 324.11L275.5 323.54L276.3 322.59L277.1 322L277.9 322.36L278.7 322.94L279.5 323.33L280.3 322.59L281.1 320.04L281.9 315.27L282.7 311.31L283.5 310.6L284.3 313.46L285.1 317.9L285.9 319.56L286.7 318.6L287.5 316.55L288.3 316L289.1 317.94L289.9 321.12L290.7 323.5L291.5 324.63L292.3 324.23L293.1 323.22L293.9 321.96L294.7 321.53L295.5 321.94L296.3 323.3L297.1 324.33L297.9 325.04L298.7 325.24L299.5 325.41L300 325.9Z" fill="#8a2323"/>
<line x1="71.5" y1="326.1" x2="300" y2="326.1" stroke="#111" stroke-width="1.7"/>
<text x="0" y="388.8" font-size="20" fill="#000" stroke="#000" font-weight="bold">d</text>
<defs><linearGradient id="gwl"><stop offset="0" stop-color="#fff" stop-opacity=".28"/><stop offset="1" stop-color="#fff" stop-opacity="0"/></linearGradient><linearGradient id="gwr"><stop offset="0" stop-color="#fff" stop-opacity="0"/><stop offset="1" stop-color="#fff" stop-opacity=".32"/></linearGradient></defs>
<rect x="129" y="420.9" width="50.7" height="18.3" fill="#d96e6a"/>
<rect x="129" y="420.9" width="50.7" height="18.3" fill="url(#gwl)"/>
<rect x="179.7" y="420.9" width="50" height="18.3" fill="#fafafc"/>
<rect x="229.7" y="420.9" width="50.1" height="18.3" fill="#f0cfcf"/>
<rect x="229.7" y="420.9" width="50.1" height="18.3" fill="url(#gwl)"/>
<rect x="279.8" y="420.9" width="49.9" height="18.3" fill="#fafafc"/>
<rect x="329.7" y="420.9" width="49.6" height="18.3" fill="#85a4d8"/>
<rect x="329.7" y="420.9" width="49.6" height="18.3" fill="url(#gwr)"/>
<rect x="129" y="439.2" width="50.7" height="18.3" fill="#fafafc"/>
<rect x="179.7" y="439.2" width="50" height="18.3" fill="#d96e6a"/>
<rect x="179.7" y="439.2" width="50" height="18.3" fill="url(#gwl)"/>
<rect x="229.7" y="439.2" width="50.1" height="18.3" fill="#fafafc"/>
<rect x="279.8" y="439.2" width="49.9" height="18.3" fill="#fafafc"/>
<rect x="329.7" y="439.2" width="49.6" height="18.3" fill="#6e93d1"/>
<rect x="329.7" y="439.2" width="49.6" height="18.3" fill="url(#gwr)"/>
<rect x="129" y="457.5" width="50.7" height="18.3" fill="#e5a19f"/>
<rect x="129" y="457.5" width="50.7" height="18.3" fill="url(#gwl)"/>
<rect x="179.7" y="457.5" width="50" height="18.3" fill="#f7eeef"/>
<rect x="179.7" y="457.5" width="50" height="18.3" fill="url(#gwl)"/>
<rect x="229.7" y="457.5" width="50.1" height="18.3" fill="#d96e6a"/>
<rect x="229.7" y="457.5" width="50.1" height="18.3" fill="url(#gwl)"/>
<rect x="279.8" y="457.5" width="49.9" height="18.3" fill="#fafafc"/>
<rect x="329.7" y="457.5" width="49.6" height="18.3" fill="#658cce"/>
<rect x="329.7" y="457.5" width="49.6" height="18.3" fill="url(#gwr)"/>
<rect x="129" y="475.8" width="50.7" height="18.3" fill="#fafafc"/>
<rect x="179.7" y="475.8" width="50" height="18.3" fill="#fafafc"/>
<rect x="179.7" y="475.8" width="50" height="18.3" fill="url(#gwr)"/>
<rect x="229.7" y="475.8" width="50.1" height="18.3" fill="#fafafc"/>
<rect x="229.7" y="475.8" width="50.1" height="18.3" fill="url(#gwr)"/>
<rect x="279.8" y="475.8" width="49.9" height="18.3" fill="#d96e6a"/>
<rect x="279.8" y="475.8" width="49.9" height="18.3" fill="url(#gwl)"/>
<rect x="329.7" y="475.8" width="49.6" height="18.3" fill="#6189cd"/>
<rect x="329.7" y="475.8" width="49.6" height="18.3" fill="url(#gwr)"/>
<rect x="129" y="494.1" width="50.7" height="18.3" fill="#6189cd"/>
<rect x="129" y="494.1" width="50.7" height="18.3" fill="url(#gwr)"/>
<rect x="179.7" y="494.1" width="50" height="18.3" fill="#5883ca"/>
<rect x="179.7" y="494.1" width="50" height="18.3" fill="url(#gwr)"/>
<rect x="229.7" y="494.1" width="50.1" height="18.3" fill="#507dc8"/>
<rect x="229.7" y="494.1" width="50.1" height="18.3" fill="url(#gwr)"/>
<rect x="279.8" y="494.1" width="49.9" height="18.3" fill="#507dc8"/>
<rect x="279.8" y="494.1" width="49.9" height="18.3" fill="url(#gwr)"/>
<rect x="329.7" y="494.1" width="49.6" height="18.3" fill="#d96e6a"/>
<rect x="329.7" y="494.1" width="49.6" height="18.3" fill="url(#gwl)"/>
<path d="M129 384.5V512.4M179.7 402.4V512.4M229.7 402.4V512.4M279.8 402.4V512.4M329.7 402.4V512.4M379.3 384.5V512.4M129 384.5H379.3M129 402.4H379.3M26.6 420.9H379.3M75.3 439.2H379.3M75.3 457.5H379.3M75.3 475.8H379.3M75.3 494.1H379.3M26.6 512.4H379.3M26.6 420.9V512.4M75.3 420.9V512.4" fill="none" stroke="#111" stroke-width="1.4"/>
<text x="132" y="398.5" font-size="12" fill="#111" stroke="#111">Second set overlap</text>
<text x="154.35" y="415.7" font-size="12" text-anchor="middle" fill="#111" stroke="#111">K4me3</text>
<text x="204.7" y="415.7" font-size="12" text-anchor="middle" fill="#111" stroke="#111">K4me1</text>
<text x="254.75" y="415.7" font-size="12" text-anchor="middle" fill="#111" stroke="#111">K27ac</text>
<text x="304.75" y="415.7" font-size="12" text-anchor="middle" fill="#111" stroke="#111">K36me3</text>
<text x="354.5" y="415.7" font-size="12" text-anchor="middle" fill="#111" stroke="#111">K27me3</text>
<text x="29.2" y="435.7" font-size="12" fill="#111" stroke="#111">1st set</text>
<text x="80" y="435.7" font-size="12" fill="#111" stroke="#111">K4me3</text>
<text x="154.35" y="435.7" font-size="12" text-anchor="middle" fill="#111" stroke="#111">1.00</text>
<text x="204.7" y="435.7" font-size="12" text-anchor="middle" fill="#111" stroke="#111">0.38</text>
<text x="254.75" y="435.7" font-size="12" text-anchor="middle" fill="#111" stroke="#111">0.60</text>
<text x="304.75" y="435.7" font-size="12" text-anchor="middle" fill="#111" stroke="#111">0.32</text>
<text x="354.5" y="435.7" font-size="12" text-anchor="middle" fill="#111" stroke="#111">0.15</text>
<text x="80" y="454" font-size="12" fill="#111" stroke="#111">K4me1</text>
<text x="154.35" y="454" font-size="12" text-anchor="middle" fill="#111" stroke="#111">0.36</text>
<text x="204.7" y="454" font-size="12" text-anchor="middle" fill="#111" stroke="#111">1.00</text>
<text x="254.75" y="454" font-size="12" text-anchor="middle" fill="#111" stroke="#111">0.35</text>
<text x="304.75" y="454" font-size="12" text-anchor="middle" fill="#111" stroke="#111">0.31</text>
<text x="354.5" y="454" font-size="12" text-anchor="middle" fill="#111" stroke="#111">0.10</text>
<text x="80" y="472.3" font-size="12" fill="#111" stroke="#111">K27ac</text>
<text x="154.35" y="472.3" font-size="12" text-anchor="middle" fill="#111" stroke="#111">0.79</text>
<text x="204.7" y="472.3" font-size="12" text-anchor="middle" fill="#111" stroke="#111">0.47</text>
<text x="254.75" y="472.3" font-size="12" text-anchor="middle" fill="#111" stroke="#111">1.00</text>
<text x="304.75" y="472.3" font-size="12" text-anchor="middle" fill="#111" stroke="#111">0.37</text>
<text x="354.5" y="472.3" font-size="12" text-anchor="middle" fill="#111" stroke="#111">0.08</text>
<text x="80" y="490.6" font-size="12" fill="#111" stroke="#111">K36me3</text>
<text x="154.35" y="490.6" font-size="12" text-anchor="middle" fill="#111" stroke="#111">0.34</text>
<text x="204.7" y="490.6" font-size="12" text-anchor="middle" fill="#111" stroke="#111">0.30</text>
<text x="254.75" y="490.6" font-size="12" text-anchor="middle" fill="#111" stroke="#111">0.30</text>
<text x="304.75" y="490.6" font-size="12" text-anchor="middle" fill="#111" stroke="#111">1.00</text>
<text x="354.5" y="490.6" font-size="12" text-anchor="middle" fill="#111" stroke="#111">0.07</text>
<text x="80" y="508.9" font-size="12" fill="#111" stroke="#111">K27me3</text>
<text x="154.35" y="508.9" font-size="12" text-anchor="middle" fill="#111" stroke="#111">0.07</text>
<text x="204.7" y="508.9" font-size="12" text-anchor="middle" fill="#111" stroke="#111">0.05</text>
<text x="254.75" y="508.9" font-size="12" text-anchor="middle" fill="#111" stroke="#111">0.03</text>
<text x="304.75" y="508.9" font-size="12" text-anchor="middle" fill="#111" stroke="#111">0.03</text>
<text x="354.5" y="508.9" font-size="12" text-anchor="middle" fill="#111" stroke="#111">1.00</text>
<text x="56.6" y="398.1" font-size="12" text-anchor="middle" fill="#111" stroke="#111">2000721</text>
<text x="57.5" y="414.1" font-size="12" text-anchor="middle" fill="#111" stroke="#111">Normal</text>
<rect x="129" y="558.1" width="50.7" height="18.4" fill="#d96e6a"/>
<rect x="129" y="558.1" width="50.7" height="18.4" fill="url(#gwl)"/>
<rect x="179.7" y="558.1" width="50" height="18.4" fill="#e8adab"/>
<rect x="179.7" y="558.1" width="50" height="18.4" fill="url(#gwl)"/>
<rect x="229.7" y="558.1" width="50.1" height="18.4" fill="#e29290"/>
<rect x="229.7" y="558.1" width="50.1" height="18.4" fill="url(#gwl)"/>
<rect x="279.8" y="558.1" width="49.9" height="18.4" fill="#e2e8f5"/>
<rect x="279.8" y="558.1" width="49.9" height="18.4" fill="url(#gwr)"/>
<rect x="329.7" y="558.1" width="49.6" height="18.4" fill="#e2e8f5"/>
<rect x="329.7" y="558.1" width="49.6" height="18.4" fill="url(#gwr)"/>
<rect x="129" y="576.5" width="50.7" height="18.4" fill="#fafafc"/>
<rect x="179.7" y="576.5" width="50" height="18.4" fill="#d96e6a"/>
<rect x="179.7" y="576.5" width="50" height="18.4" fill="url(#gwl)"/>
<rect x="229.7" y="576.5" width="50.1" height="18.4" fill="#f7eeef"/>
<rect x="229.7" y="576.5" width="50.1" height="18.4" fill="url(#gwl)"/>
<rect x="279.8" y="576.5" width="49.9" height="18.4" fill="#ccd8ee"/>
<rect x="279.8" y="576.5" width="49.9" height="18.4" fill="url(#gwr)"/>
<rect x="329.7" y="576.5" width="49.6" height="18.4" fill="#a6bde2"/>
<rect x="329.7" y="576.5" width="49.6" height="18.4" fill="url(#gwr)"/>
<rect x="129" y="594.9" width="50.7" height="18.4" fill="#eec7c7"/>
<rect x="129" y="594.9" width="50.7" height="18.4" fill="url(#gwl)"/>
<rect x="179.7" y="594.9" width="50" height="18.4" fill="#e6a6a4"/>
<rect x="179.7" y="594.9" width="50" height="18.4" fill="url(#gwl)"/>
<rect x="229.7" y="594.9" width="50.1" height="18.4" fill="#d96e6a"/>
<rect x="229.7" y="594.9" width="50.1" height="18.4" fill="url(#gwl)"/>
<rect x="279.8" y="594.9" width="49.9" height="18.4" fill="#fafafc"/>
<rect x="329.7" y="594.9" width="49.6" height="18.4" fill="#c3d1eb"/>
<rect x="329.7" y="594.9" width="49.6" height="18.4" fill="url(#gwr)"/>
<rect x="129" y="613.3" width="50.7" height="18.4" fill="#fafafc"/>
<rect x="129" y="613.3" width="50.7" height="18.4" fill="url(#gwr)"/>
<rect x="179.7" y="613.3" width="50" height="18.4" fill="#f4dfe0"/>
<rect x="179.7" y="613.3" width="50" height="18.4" fill="url(#gwl)"/>
<rect x="229.7" y="613.3" width="50.1" height="18.4" fill="#fafafc"/>
<rect x="279.8" y="613.3" width="49.9" height="18.4" fill="#d96e6a"/>
<rect x="279.8" y="613.3" width="49.9" height="18.4" fill="url(#gwl)"/>
<rect x="329.7" y="613.3" width="49.6" height="18.4" fill="#95b0dd"/>
<rect x="329.7" y="613.3" width="49.6" height="18.4" fill="url(#gwr)"/>
<rect x="129" y="631.7" width="50.7" height="18.4" fill="#6990cf"/>
<rect x="129" y="631.7" width="50.7" height="18.4" fill="url(#gwr)"/>
<rect x="179.7" y="631.7" width="50" height="18.4" fill="#85a4d8"/>
<rect x="179.7" y="631.7" width="50" height="18.4" fill="url(#gwr)"/>
<rect x="229.7" y="631.7" width="50.1" height="18.4" fill="#7296d2"/>
<rect x="229.7" y="631.7" width="50.1" height="18.4" fill="url(#gwr)"/>
<rect x="279.8" y="631.7" width="49.9" height="18.4" fill="#5d86cb"/>
<rect x="279.8" y="631.7" width="49.9" height="18.4" fill="url(#gwr)"/>
<rect x="329.7" y="631.7" width="49.6" height="18.4" fill="#d96e6a"/>
<rect x="329.7" y="631.7" width="49.6" height="18.4" fill="url(#gwl)"/>
<path d="M129 520.9V650.1M179.7 538.8V650.1M229.7 538.8V650.1M279.8 538.8V650.1M329.7 538.8V650.1M379.3 520.9V650.1M129 520.9H379.3M129 538.8H379.3M26.6 558.1H379.3M75.3 576.5H379.3M75.3 594.9H379.3M75.3 613.3H379.3M75.3 631.7H379.3M26.6 650.1H379.3M26.6 558.1V650.1M75.3 558.1V650.1" fill="none" stroke="#111" stroke-width="1.4"/>
<text x="132" y="534.9" font-size="12" fill="#111" stroke="#111">2nd set overlap</text>
<text x="154.35" y="552.1" font-size="12" text-anchor="middle" fill="#111" stroke="#111">K4me3</text>
<text x="204.7" y="552.1" font-size="12" text-anchor="middle" fill="#111" stroke="#111">K4me1</text>
<text x="254.75" y="552.1" font-size="12" text-anchor="middle" fill="#111" stroke="#111">K27ac</text>
<text x="304.75" y="552.1" font-size="12" text-anchor="middle" fill="#111" stroke="#111">K36me3</text>
<text x="354.5" y="552.1" font-size="12" text-anchor="middle" fill="#111" stroke="#111">K27me3</text>
<text x="29.2" y="572.9" font-size="12" fill="#111" stroke="#111">1st set</text>
<text x="80" y="572.9" font-size="12" fill="#111" stroke="#111">K4me3</text>
<text x="154.35" y="572.9" font-size="12" text-anchor="middle" fill="#111" stroke="#111">1.00</text>
<text x="204.7" y="572.9" font-size="12" text-anchor="middle" fill="#111" stroke="#111">0.74</text>
<text x="254.75" y="572.9" font-size="12" text-anchor="middle" fill="#111" stroke="#111">0.85</text>
<text x="304.75" y="572.9" font-size="12" text-anchor="middle" fill="#111" stroke="#111">0.28</text>
<text x="354.5" y="572.9" font-size="12" text-anchor="middle" fill="#111" stroke="#111">0.28</text>
<text x="80" y="591.3" font-size="12" fill="#111" stroke="#111">K4me1</text>
<text x="154.35" y="591.3" font-size="12" text-anchor="middle" fill="#111" stroke="#111">0.33</text>
<text x="204.7" y="591.3" font-size="12" text-anchor="middle" fill="#111" stroke="#111">1.00</text>
<text x="254.75" y="591.3" font-size="12" text-anchor="middle" fill="#111" stroke="#111">0.47</text>
<text x="304.75" y="591.3" font-size="12" text-anchor="middle" fill="#111" stroke="#111">0.26</text>
<text x="354.5" y="591.3" font-size="12" text-anchor="middle" fill="#111" stroke="#111">0.21</text>
<text x="80" y="609.7" font-size="12" fill="#111" stroke="#111">K27ac</text>
<text x="154.35" y="609.7" font-size="12" text-anchor="middle" fill="#111" stroke="#111">0.63</text>
<text x="204.7" y="609.7" font-size="12" text-anchor="middle" fill="#111" stroke="#111">0.77</text>
<text x="254.75" y="609.7" font-size="12" text-anchor="middle" fill="#111" stroke="#111">1.00</text>
<text x="304.75" y="609.7" font-size="12" text-anchor="middle" fill="#111" stroke="#111">0.31</text>
<text x="354.5" y="609.7" font-size="12" text-anchor="middle" fill="#111" stroke="#111">0.25</text>
<text x="80" y="628.1" font-size="12" fill="#111" stroke="#111">K36me3</text>
<text x="154.35" y="628.1" font-size="12" text-anchor="middle" fill="#111" stroke="#111">0.30</text>
<text x="204.7" y="628.1" font-size="12" text-anchor="middle" fill="#111" stroke="#111">0.53</text>
<text x="254.75" y="628.1" font-size="12" text-anchor="middle" fill="#111" stroke="#111">0.40</text>
<text x="304.75" y="628.1" font-size="12" text-anchor="middle" fill="#111" stroke="#111">1.00</text>
<text x="354.5" y="628.1" font-size="12" text-anchor="middle" fill="#111" stroke="#111">0.18</text>
<text x="80" y="646.5" font-size="12" fill="#111" stroke="#111">K27me3</text>
<text x="154.35" y="646.5" font-size="12" text-anchor="middle" fill="#111" stroke="#111">0.09</text>
<text x="204.7" y="646.5" font-size="12" text-anchor="middle" fill="#111" stroke="#111">0.15</text>
<text x="254.75" y="646.5" font-size="12" text-anchor="middle" fill="#111" stroke="#111">0.11</text>
<text x="304.75" y="646.5" font-size="12" text-anchor="middle" fill="#111" stroke="#111">0.06</text>
<text x="354.5" y="646.5" font-size="12" text-anchor="middle" fill="#111" stroke="#111">1.00</text>
<text x="56.6" y="534.5" font-size="12" text-anchor="middle" fill="#111" stroke="#111">2000721</text>
<text x="57.5" y="550.5" font-size="12" text-anchor="middle" fill="#111" stroke="#111">Cancer</text>
<text x="23.3" y="669.9" font-size="12" fill="#111" stroke="#111">Fraction of 1st set region overlapping with</text>
<text x="23.3" y="684.6" font-size="12" fill="#111" stroke="#111">2nd set region</text>
<defs><linearGradient id="gd"><stop offset="0" stop-color="#6b96d3"/><stop offset=".5" stop-color="#fbfbfd"/><stop offset="1" stop-color="#d9706c"/></linearGradient></defs>
<rect x="301" y="657.3" width="78.3" height="13.6" fill="url(#gd)"/>
<line x1="302.5" y1="671" x2="302.5" y2="675" stroke="#111" stroke-width="1"/>
<text x="302.5" y="685" font-size="12" text-anchor="middle" fill="#111" stroke="#111">0</text>
<line x1="341.5" y1="671" x2="341.5" y2="675" stroke="#111" stroke-width="1"/>
<text x="341.5" y="685" font-size="12" text-anchor="middle" fill="#111" stroke="#111">0.5</text>
<line x1="378.5" y1="671" x2="378.5" y2="675" stroke="#111" stroke-width="1"/>
<text x="378.5" y="685" font-size="12" text-anchor="middle" fill="#111" stroke="#111">1</text>
<text x="399" y="388.9" font-size="20" fill="#000" stroke="#000" font-weight="bold">e</text>
<text x="406.4" y="415.8" font-size="12" fill="#111" stroke="#111">K4me3 region</text>
<text x="444" y="430.5" font-size="12" text-anchor="middle" fill="#111" stroke="#111">(21,692)</text>
<line x1="473.6" y1="425.5" x2="493.4" y2="432.8" stroke="#111" stroke-width="1"/>
<text x="406.4" y="546.2" font-size="12" fill="#111" stroke="#111">K4me1 region</text>
<text x="444.2" y="561" font-size="12" text-anchor="middle" fill="#111" stroke="#111">(135,362)</text>
<line x1="474.5" y1="555.6" x2="493.4" y2="562.6" stroke="#111" stroke-width="1"/>
<rect x="494.4" y="416.4" width="71.8" height="91.8" rx="13" fill="#f3d0cb" stroke="#b3b3b3" stroke-width="1.2"/>
<rect x="494.4" y="439.7" width="71.8" height="185.6" rx="13" fill="#c6e7d0" stroke="#b3b3b3" stroke-width="1.2"/>
<path d="M494.4 452.7a13 13 0 0 1 13-13h45.8a13 13 0 0 1 13 13v42.5a13 13 0 0 1 -13 13h-45.8a13 13 0 0 1 -13-13z" fill="#b7c0a6" stroke="#a3a39b" stroke-width="1.2"/>
<text x="528.5" y="431.2" font-size="12" text-anchor="middle" fill="#111" stroke="#111">6,539</text>
<text x="528.5" y="461" font-size="12" text-anchor="middle" fill="#111" stroke="#111">15,153*</text>
<text x="528.5" y="568.8" font-size="12" text-anchor="middle" fill="#111" stroke="#111">125,686</text>
<path d="M571.2 413.6H579.3V508H571.2M579.3 424H590.5" fill="none" stroke="#111" stroke-width="1.5"/>
<path d="M571.2 512.6H579.3V629.2H571.2M579.3 539.6H590.5" fill="none" stroke="#111" stroke-width="1.5"/>
<text x="622" y="422.4" font-size="12" text-anchor="middle" fill="#111" stroke="#111">Potential</text>
<text x="621.5" y="434.6" font-size="12" text-anchor="middle" fill="#111" stroke="#111">promoters</text>
<text x="623.5" y="537.1" font-size="12" text-anchor="middle" fill="#111" stroke="#111">Potential</text>
<text x="623.5" y="551.8" font-size="12" text-anchor="middle" fill="#111" stroke="#111">enhancers</text>
<circle cx="617.4" cy="479.7" r="30.5" fill="#e1a068"/>
<path d="M617.4 479.7L587.07 482.89A30.5 30.5 0 0 1 617.4 449.2Z" fill="#9fb873"/>
<text x="598" y="468.4" font-size="9.5" fill="#111" stroke="#111" style="stroke-width:.06px">5,837</text>
<text x="610.2" y="492.1" font-size="9.5" fill="#111" stroke="#111" style="stroke-width:.06px">13,991</text>
<circle cx="617.4" cy="595" r="30.5" fill="#9fb873"/>
<path d="M617.4 595L617.4 564.5A30.5 30.5 0 0 1 645.26 582.59Z" fill="#e1a068"/>
<text x="623.3" y="580.2" font-size="9.5" fill="#111" stroke="#111" style="stroke-width:.06px">23,926</text>
<text x="595.8" y="612.2" font-size="9.5" fill="#111" stroke="#111" style="stroke-width:.06px">101,760</text>
<rect x="648.2" y="610.7" width="15.4" height="10.8" fill="#e1a068"/>
<rect x="648.2" y="629.3" width="15.4" height="10.8" fill="#9fb873"/>
<text x="669.2" y="620.6" font-size="12" fill="#111" stroke="#111">K27ac +</text>
<text x="669.2" y="638.8" font-size="12" fill="#111" stroke="#111">K27ac –</text>
<text x="436.9" y="645.1" font-size="12" fill="#111" stroke="#111">*Counted by K4me3 region</text>
<text x="723.8" y="389.6" font-size="20" fill="#000" stroke="#000" font-weight="bold">f</text>
<text x="763.7" y="383.7" font-size="11" fill="#111" stroke="#111">Promoter region K4me3</text>
<text x="785.3" y="399.9" font-size="10" text-anchor="middle" fill="#111" stroke="#111">5</text>
<text x="803.1" y="399.9" font-size="10" text-anchor="middle" fill="#111" stroke="#111">0</text>
<text x="819" y="399.9" font-size="10" text-anchor="middle" fill="#111" stroke="#111">–5</text>
<text x="838.6" y="399.9" font-size="10" text-anchor="middle" fill="#111" stroke="#111">–10</text>
<text x="860.7" y="399.9" font-size="10" text-anchor="middle" fill="#111" stroke="#111">–15</text>
<text x="755.3" y="409.8" font-size="10" fill="#111" stroke="#111">4</text>
<text x="761.6" y="404.6" font-size="10" fill="#111" stroke="#111">0</text>
<text x="764.4" y="397.3" font-size="10" fill="#111" stroke="#111">–4</text>
<path d="M784.6 405.5V411.1M802.8 405.5V411.1M821 405.5V411.1M839.6 405.5V411.1M858.1 405.5V411.1M758.2 422.8l.6 -7.2M761.55 420.4l.6 -7.2M764.9 418l.6 -7.2M768.25 415.6l.6 -7.2M771.6 413.2l.6 -7.2M869.2 435.2H875.4M869.2 450.8H875.4M869.2 466.4H875.4M869.2 482H875.4M869.2 497.3H875.4" fill="none" stroke="#111" stroke-width="1.2"/>
<path d="M869.2 411.1V501.9" fill="none" stroke="#555" stroke-width="1.6"/>
<path d="M774.8 419.3H869.2M869.2 415.5L876.5 419.6H869.2" fill="none" stroke="#777" stroke-width="0.8"/>
<path d="M774.6 411.1H869.2L878.7 423H757.9L774.6 411.1L778.2 501.9H868.6L876.8 536.5H762.7L778.2 501.9M757.9 423L762.7 536.5M878.7 423L876.8 536.5" fill="none" stroke="#111" stroke-width="1.9" stroke-linejoin="round"/>
<text x="882.2" y="423.6" font-size="10.5" fill="#111" stroke="#111">6</text>
<text x="882.2" y="439.2" font-size="10.5" fill="#111" stroke="#111">4</text>
<text x="882.2" y="454.8" font-size="10.5" fill="#111" stroke="#111">2</text>
<text x="882.2" y="470.4" font-size="10.5" fill="#111" stroke="#111">0</text>
<text x="879.4" y="486" font-size="10.5" fill="#111" stroke="#111">–2</text>
<text x="879.4" y="501.1" font-size="10.5" fill="#111" stroke="#111">–4</text>
<text x="894.5" y="462.6" font-size="11" fill="#913840" stroke="#913840">PC3</text>
<text x="883.4" y="539.8" font-size="11" fill="#913840" stroke="#913840">PC2</text>
<text x="834.8" y="526.3" font-size="7.2" fill="#b0445a" stroke="#b0445a" style="stroke-width:.06px">PC1</text>
<text x="895" y="510.7" font-size="10.7" fill="#111" stroke="#111">2000639C</text>
<text x="704.7" y="468.6" font-size="10.7" fill="#111" stroke="#111">980437N</text>
<text x="704.7" y="478.4" font-size="10.7" fill="#111" stroke="#111">980097N</text>
<text x="704.7" y="488.1" font-size="10.7" fill="#111" stroke="#111">2000721N</text>
<text x="704.7" y="497.8" font-size="10.7" fill="#111" stroke="#111">2000986N</text>
<text x="704.7" y="507.6" font-size="10.7" fill="#111" stroke="#111">2000639N</text>
<path d="M816.2 413.6L820.1 409.7L824 413.6L820.1 417.5Z" fill="#c2405c"/>
<path d="M802.2 457.8L806.1 453.9L810 457.8L806.1 461.7Z" fill="#c2405c"/>
<path d="M800.9 501.5L804.8 497.6L808.7 501.5L804.8 505.4Z" fill="#c2405c"/>
<path d="M822.7 501.5L826.6 497.6L830.5 501.5L826.6 505.4Z" fill="#c2405c"/>
<path d="M872.4 497.1L876.3 493.2L880.2 497.1L876.3 501Z" fill="#c2405c"/>
<path d="M765.8 479.4L769.7 475.5L773.6 479.4L769.7 483.3Z" fill="#393d9f"/>
<path d="M770.7 481.6L774.6 477.7L778.5 481.6L774.6 485.5Z" fill="#393d9f"/>
<path d="M776.9 476.8L780.8 472.9L784.7 476.8L780.8 480.7Z" fill="#393d9f"/>
<path d="M772.6 479L776.5 475.1L780.4 479L776.5 482.9Z" fill="#393d9f"/>
<path d="M765.5 489.3L769.4 485.4L773.3 489.3L769.4 493.2Z" fill="#393d9f"/>
<text x="824.2" y="419.2" font-size="7.6" fill="#111" stroke="#111" style="stroke-width:.06px">2000721C</text>
<text x="802.2" y="468.6" font-size="7.6" fill="#111" stroke="#111" style="stroke-width:.06px">980437C</text>
<text x="789.7" y="519" font-size="7.6" fill="#111" stroke="#111" style="stroke-width:.06px">2000986C</text>
<text x="830.2" y="509.9" font-size="7.6" fill="#111" stroke="#111" style="stroke-width:.06px">980097C</text>
<text x="722" y="569.8" font-size="20" fill="#000" stroke="#000" font-weight="bold">g</text>
<text x="755.1" y="565.4" font-size="11" fill="#111" stroke="#111">Predicted enhancer K4me1</text>
<text x="794" y="579.4" font-size="10" text-anchor="middle" fill="#111" stroke="#111">5</text>
<text x="821.8" y="579.4" font-size="10" text-anchor="middle" fill="#111" stroke="#111">0</text>
<text x="849" y="579.4" font-size="10" text-anchor="middle" fill="#111" stroke="#111">–5</text>
<text x="860.6" y="578" font-size="10" fill="#111" stroke="#111">–2</text>
<text x="873.2" y="584" font-size="9.5" fill="#111" stroke="#111" style="stroke-width:.06px">0</text>
<text x="879.6" y="588.2" font-size="9.5" fill="#111" stroke="#111" style="stroke-width:.06px">2</text>
<text x="885" y="589.9" font-size="9.5" fill="#111" stroke="#111" style="stroke-width:.06px">4</text>
<path d="M794.7 583.4V588.6M822.9 583.4V588.6M851.5 583.4V588.6M871.3 591.4l-.8 -5.8M875.26 594.05l-.8 -5.8M879.22 596.7l-.8 -5.8M883.18 599.35l-.8 -5.8M766.6 592.2H772.2M766.6 607.4H772.2M766.6 622.1H772.2M766.6 636.8H772.2M766.6 651.6H772.2M766.6 666.2H772.2" fill="none" stroke="#111" stroke-width="1.2"/>
<path d="M772.2 588.2L868.1 589.3L887.1 602.8L766.6 600.4L772.2 588.2V679.2H863.5L880 715.2H766.6L772.2 679.2M766.6 600.4V715.2M887.1 602.8L880 715.2M868.1 589.3L863.5 679.2" fill="none" stroke="#111" stroke-width="1.9" stroke-linejoin="round"/>
<text x="760.4" y="595.3" font-size="10.5" text-anchor="end" fill="#111" stroke="#111">3</text>
<text x="760.4" y="610.1" font-size="10.5" text-anchor="end" fill="#111" stroke="#111">2</text>
<text x="760.4" y="625.2" font-size="10.5" text-anchor="end" fill="#111" stroke="#111">1</text>
<text x="760.4" y="639.5" font-size="10.5" text-anchor="end" fill="#111" stroke="#111">0</text>
<text x="760.4" y="654.3" font-size="10.5" text-anchor="end" fill="#111" stroke="#111">–1</text>
<text x="760.4" y="668.9" font-size="10.5" text-anchor="end" fill="#111" stroke="#111">–2</text>
<text x="889.4" y="649.1" font-size="11" fill="#913840" stroke="#913840">PC3</text>
<text x="886" y="721.4" font-size="11" fill="#913840" stroke="#913840">PC2</text>
<text x="811.4" y="698.5" font-size="7.5" fill="#b0445a" stroke="#b0445a" style="stroke-width:.06px">PC1</text>
<path d="M765.8 604.8L769.7 600.9L773.6 604.8L769.7 608.7Z" fill="#393d9f"/>
<path d="M799.6 632.1L803.5 628.2L807.4 632.1L803.5 636Z" fill="#393d9f"/>
<path d="M806.6 627.7L810.5 623.8L814.4 627.7L810.5 631.6Z" fill="#393d9f"/>
<path d="M806.6 657.6L810.5 653.7L814.4 657.6L810.5 661.5Z" fill="#393d9f"/>
<path d="M775.9 688L779.8 684.1L783.7 688L779.8 691.9Z" fill="#393d9f"/>
<path d="M862.5 593.6L866.4 589.7L870.3 593.6L866.4 597.5Z" fill="#c2405c"/>
<path d="M859.4 604.8L863.3 600.9L867.2 604.8L863.3 608.7Z" fill="#c2405c"/>
<path d="M830.5 669.8L834.4 665.9L838.3 669.8L834.4 673.7Z" fill="#c2405c"/>
<path d="M856.5 692.4L860.4 688.5L864.3 692.4L860.4 696.3Z" fill="#c2405c"/>
<path d="M839.6 697.1L843.5 693.2L847.4 697.1L843.5 701Z" fill="#c2405c"/>
<text x="775.4" y="614.8" font-size="7.6" fill="#111" stroke="#111" style="stroke-width:.06px">980097N</text>
<text x="774.1" y="625.2" font-size="7.6" fill="#111" stroke="#111" style="stroke-width:.06px">2000639N</text>
<text x="779.3" y="645.2" font-size="7.6" fill="#111" stroke="#111" style="stroke-width:.06px">2000986N</text>
<text x="774.1" y="654.8" font-size="7.6" fill="#111" stroke="#111" style="stroke-width:.06px">2000721N</text>
<text x="770.7" y="701.1" font-size="7.6" fill="#111" stroke="#111" style="stroke-width:.06px">980437N</text>
<text x="828.8" y="597.6" font-size="7.6" fill="#111" stroke="#111" style="stroke-width:.06px">980437C</text>
<text x="828" y="616.6" font-size="7.6" fill="#111" stroke="#111" style="stroke-width:.06px">2000639C</text>
<text x="823.6" y="663.4" font-size="7.6" fill="#111" stroke="#111" style="stroke-width:.06px">2000986C</text>
<text x="830.8" y="686.8" font-size="7.6" fill="#111" stroke="#111" style="stroke-width:.06px">980097C</text>
<text x="821" y="707.6" font-size="7.6" fill="#111" stroke="#111" style="stroke-width:.06px">2000721C</text>
<defs><linearGradient id="gh"><stop offset="0" stop-color="#2a2222"/><stop offset=".2" stop-color="#6a3035"/><stop offset=".32" stop-color="#9a3f45"/><stop offset=".47" stop-color="#c9474a"/><stop offset=".66" stop-color="#d6803e"/><stop offset=".82" stop-color="#e4a83c"/><stop offset=".94" stop-color="#f2d23a"/><stop offset="1" stop-color="#f4d83c"/></linearGradient></defs>
<text x="0" y="738" font-size="20" fill="#000" stroke="#000" font-weight="bold">h</text>
<rect x="45.2" y="744.4" width="76.8" height="22" fill="url(#gh)"/>
<text x="62.3" y="783.3" font-size="11" text-anchor="middle" fill="#111" stroke="#111">1</text>
<text x="79.5" y="783.3" font-size="11" text-anchor="middle" fill="#111" stroke="#111">2</text>
<text x="96.4" y="783.3" font-size="11" text-anchor="middle" fill="#111" stroke="#111">3</text>
<text x="113.5" y="783.3" font-size="11" text-anchor="middle" fill="#111" stroke="#111">4</text>
<path d="M62.3 768.2V771.6M79.5 768.2V771.6M96.4 768.2V771.6M113.5 768.2V771.6" stroke="#111" stroke-width="1"/>
<text x="88" y="795.5" font-size="11.5" text-anchor="middle" fill="#111" stroke="#111">Value</text>
<rect x="139" y="742.8" width="327.8" height="24.6" fill="#e3b1b0"/>
<text x="302.7" y="759.3" font-size="11.5" text-anchor="middle" fill="#111" stroke="#111">Promoters</text>
<rect x="139" y="772.8" width="161.9" height="24.8" fill="#e3b1b0"/>
<text x="220" y="789.8" font-size="11.5" text-anchor="middle" fill="#111" stroke="#111">K4me3</text>
<rect x="306" y="772.8" width="160.8" height="24.8" fill="#e0a466"/>
<text x="386.5" y="789.8" font-size="11.5" text-anchor="middle" fill="#111" stroke="#111">K27ac</text>
<g transform="translate(147.09 802.3) scale(16.19 1.8032)" stroke-width="1.02" fill="none" shape-rendering="crispEdges">
<path d="M4.5 0V280" stroke="#822" stroke-width="10"/>
<path d="M0 0v1M0 24v1M0 60v1M0 63v1M0 78v1M0 81v1M0 84v1M0 105v1M0 111v1M0 129v1M0 214v1M0 271v1M1 3v1M1 8v1M1 21v2M1 24v1M1 27v1M1 82v1M1 84v2M1 111v1M1 129v1M1 208v1M1 271v1M2 9v1M2 16v1M2 18v2M2 21v1M2 24v1M2 26v1M2 67v1M2 71v1M2 77v1M2 81v1M2 90v1M2 196v1M2 225v1M2 269v1M3 15v1M3 19v1M3 23v1M3 88v1M3 91v1M3 113v1M3 115v1M3 124v1M3 205v1M3 212v1M3 214v1M4 3v1M4 9v1M4 63v1M4 65v1M4 67v1M4 78v1M4 92v1M4 131v1M4 214v1M4 269v1M5 144v1M5 151v1M5 163v1M5 261v1M5 263v1M6 19v1M6 43v1M6 55v1M6 90v1M6 143v1M7 14v1M7 18v1M7 27v1M7 36v1M7 41v1M7 52v2M7 55v1M7 57v1M7 60v2M7 67v1M7 69v1M7 102v1M8 14v1M8 27v1M8 37v2M8 40v1M8 46v1M8 56v1M8 146v1M8 162v1M9 28v2M9 40v1M9 43v1M9 48v1M9 60v1M9 145v1M9 149v1M9 153v1" stroke="#312"/>
<path d="M0 1v1M0 35v2M0 44v1M0 116v1M0 119v2M0 123v1M0 126v1M0 154v1M0 165v1M0 171v1M0 173v1M0 179v2M0 182v1M0 187v3M0 193v1M0 218v2M0 222v1M0 226v1M0 230v1M0 241v2M0 244v1M0 277v1M1 30v1M1 35v1M1 37v2M1 40v2M1 120v4M1 125v2M1 151v1M1 171v3M1 175v2M1 179v2M1 185v1M1 187v2M1 192v1M1 218v2M1 222v1M1 226v1M1 229v1M1 232v2M1 239v1M1 244v1M1 274v1M1 277v1M2 35v1M2 100v1M2 102v1M2 119v1M2 122v2M2 125v2M2 154v1M2 171v2M2 175v2M2 180v1M2 182v2M2 187v3M2 192v2M2 218v2M2 222v1M2 226v1M2 229v1M2 233v3M2 238v1M2 242v1M2 244v1M2 272v1M2 274v1M2 277v1M3 29v2M3 35v1M3 37v2M3 41v1M3 116v1M3 118v2M3 122v2M3 125v1M3 128v1M3 151v1M3 154v1M3 171v3M3 176v1M3 178v3M3 183v1M3 186v1M3 188v1M3 193v2M3 218v1M3 226v1M3 232v1M3 244v1M3 272v1M3 274v1M4 13v1M4 30v1M4 33v1M4 35v2M4 39v1M4 44v2M4 116v1M4 122v1M4 126v1M4 140v1M4 154v1M4 173v1M4 175v2M4 179v2M4 186v1M4 192v3M4 219v1M4 222v1M4 226v1M4 228v2M4 242v1M4 244v1M4 272v1M4 277v1M5 14v1M5 19v1M5 23v1M5 25v1M5 27v1M5 48v1M5 55v1M5 57v1M5 118v3M5 122v3M5 130v1M5 133v2M5 136v1M5 138v1M5 141v1M5 175v1M5 272v1M5 275v2M6 1v2M6 7v1M6 13v1M6 15v2M6 86v2M6 128v1M6 130v1M6 132v2M6 140v2M6 150v1M6 152v1M6 157v1M6 161v1M6 170v2M6 175v1M6 179v1M6 181v1M6 189v2M6 194v2M6 197v1M6 199v1M6 204v1M6 206v1M6 208v1M6 214v1M6 236v1M6 264v1M6 275v1M6 277v2M7 4v1M7 72v1M7 77v1M7 100v1M7 120v1M7 122v2M7 130v1M7 133v4M7 138v1M7 140v1M7 144v1M7 150v4M7 155v1M7 157v1M7 159v1M7 161v1M7 169v4M7 176v3M7 180v2M7 183v1M7 185v5M7 194v1M7 210v1M7 232v1M7 239v1M7 244v1M7 266v1M7 273v1M8 0v2M8 4v2M8 7v2M8 16v1M8 20v1M8 64v1M8 67v1M8 75v1M8 95v2M8 98v1M8 100v1M8 103v1M8 107v1M8 111v2M8 117v1M8 119v1M8 124v1M8 126v1M8 129v1M8 132v1M8 135v1M8 137v2M8 140v1M8 150v1M8 161v1M8 169v1M8 174v1M8 176v3M8 180v2M8 186v1M8 188v1M8 190v1M8 196v1M8 199v1M8 201v1M8 204v3M8 208v1M8 212v1M8 220v1M8 227v1M8 231v1M8 236v2M8 264v1M8 272v2M9 15v1M9 17v1M9 20v1M9 24v1M9 64v2M9 67v1M9 69v2M9 77v3M9 81v2M9 84v1M9 93v1M9 96v1M9 103v3M9 113v4M9 121v1M9 130v2M9 134v1M9 140v2M9 196v1M9 198v1M9 225v1M9 273v2" stroke="#622"/>
<path d="M0 2v1M0 15v1M0 29v2M0 33v1M0 38v1M0 40v2M0 43v1M0 100v1M0 117v2M0 121v1M0 125v1M0 128v1M0 132v1M0 136v1M0 140v1M0 174v1M0 176v1M0 178v1M0 183v1M0 194v1M0 203v1M0 221v1M0 227v1M0 232v1M0 235v1M0 238v1M0 274v1M1 11v1M1 13v1M1 29v1M1 31v1M1 43v1M1 107v1M1 117v2M1 124v1M1 136v1M1 154v1M1 174v1M1 178v1M1 183v1M1 189v1M1 193v2M1 202v1M1 217v1M1 228v1M1 230v1M1 234v1M1 237v1M1 241v2M1 272v1M2 6v2M2 28v3M2 33v1M2 117v2M2 120v2M2 128v1M2 174v1M2 177v1M2 181v1M2 194v1M2 217v1M2 221v1M2 227v2M2 230v1M2 232v1M2 237v1M2 241v1M3 24v1M3 26v1M3 28v1M3 40v1M3 43v1M3 87v1M3 117v1M3 121v1M3 136v1M3 140v1M3 174v1M3 177v1M3 187v1M3 207v1M3 217v1M3 219v1M3 222v1M3 227v2M3 230v1M3 233v2M3 236v1M3 239v1M3 241v2M4 24v1M4 29v1M4 34v1M4 38v1M4 40v2M4 86v1M4 117v5M4 132v2M4 136v1M4 139v1M4 171v1M4 177v2M4 183v1M4 187v2M4 217v2M4 230v1M4 233v1M4 237v2M4 274v1M5 59v1M5 86v1M5 125v1M5 131v2M5 140v1M5 148v1M5 262v1M5 270v2M5 273v2M5 279v1M6 0v1M6 9v2M6 17v1M6 20v2M6 24v1M6 96v2M6 99v2M6 103v1M6 106v2M6 111v1M6 127v1M6 129v1M6 131v1M6 135v1M6 138v1M6 142v1M6 144v1M6 156v1M6 158v1M6 163v1M6 173v1M6 188v1M6 191v1M6 196v1M6 198v1M6 209v1M6 213v1M7 2v1M7 5v1M7 12v1M7 15v2M7 22v1M7 46v1M7 68v1M7 82v1M7 86v2M7 97v1M7 118v2M7 125v1M7 127v1M7 132v1M7 142v2M7 147v1M7 154v1M7 156v1M7 158v1M7 160v1M7 164v1M7 166v2M7 173v1M7 179v1M7 190v2M7 207v1M7 218v2M7 234v2M7 238v1M7 269v1M7 271v1M7 274v1M8 2v2M8 9v1M8 15v1M8 26v1M8 92v1M8 97v1M8 109v1M8 120v2M8 125v1M8 128v1M8 131v1M8 133v1M8 136v1M8 141v2M8 144v1M8 148v1M8 152v4M8 158v2M8 163v1M8 167v1M8 171v2M8 175v1M8 187v1M8 191v2M8 194v2M8 198v1M8 202v1M8 214v1M8 224v1M8 240v2M8 274v2M9 12v2M9 21v2M9 26v1M9 62v2M9 66v1M9 71v1M9 75v2M9 101v1M9 108v1M9 110v1M9 127v1M9 132v1M9 136v1M9 138v1M9 142v1M9 169v1M9 211v1M9 213v1" stroke="#522"/>
<path d="M0 3v1M0 8v1M0 14v1M0 18v1M0 21v3M0 25v3M0 31v1M0 49v5M0 55v2M0 58v2M0 61v1M0 67v1M0 69v1M0 71v1M0 75v1M0 79v1M0 83v1M0 88v2M0 92v1M0 94v2M0 97v2M0 101v1M0 108v2M0 112v1M0 195v2M0 204v1M0 212v1M1 0v1M1 18v2M1 23v1M1 25v2M1 49v4M1 54v7M1 63v1M1 67v1M1 69v1M1 71v1M1 79v1M1 81v1M1 86v1M1 88v2M1 92v1M1 95v1M1 98v1M1 101v1M1 112v1M1 114v1M1 135v1M1 195v1M1 198v1M1 204v1M1 211v2M1 214v1M1 269v1M2 3v1M2 8v1M2 49v10M2 60v1M2 69v1M2 74v2M2 79v1M2 88v2M2 95v1M2 97v2M2 106v1M2 110v1M2 113v2M2 135v1M2 195v1M2 197v1M2 199v2M2 204v1M2 206v1M2 211v2M2 214v1M3 3v1M3 8v1M3 14v1M3 16v3M3 22v1M3 49v3M3 54v2M3 58v3M3 64v1M3 67v1M3 71v1M3 79v2M3 83v3M3 89v1M3 95v1M3 98v1M3 101v1M3 103v1M3 108v1M3 114v1M3 135v1M3 195v2M3 199v1M3 204v1M3 206v1M3 211v1M3 215v1M4 8v1M4 18v1M4 20v4M4 27v1M4 49v3M4 53v1M4 55v7M4 69v1M4 71v1M4 74v2M4 77v1M4 79v1M4 84v1M4 88v3M4 93v1M4 98v1M4 105v1M4 111v1M4 114v1M4 129v1M4 135v1M4 195v2M4 199v1M4 206v1M4 211v2M4 216v1M5 28v2M5 31v5M5 37v1M5 39v3M5 43v5M5 54v1M5 145v1M5 147v1M5 149v1M5 154v1M5 156v1M5 158v1M5 162v1M5 164v1M5 166v1M5 168v1M5 257v1M5 264v1M5 266v1M6 14v1M6 28v15M6 44v11M6 56v6M6 94v1M6 114v1M6 147v1M7 28v2M7 31v5M7 42v2M7 48v4M7 59v1M7 75v1M7 83v1M7 89v4M7 98v2M7 101v1M7 105v1M7 108v1M7 113v2M7 196v3M7 204v1M7 206v1M7 211v1M7 225v1M7 227v1M7 237v1M8 23v1M8 25v1M8 30v6M8 39v1M8 43v1M8 48v8M8 57v2M8 60v2M8 147v1M8 277v1M9 30v8M9 41v1M9 49v1M9 59v1M9 61v1M9 139v1M9 143v1M9 146v1M9 154v1M9 158v3M9 162v1M9 165v3" stroke="#322"/>
<path d="M0 4v4M0 9v2M0 13v1M0 62v1M0 64v3M0 74v1M0 82v1M0 86v2M0 90v1M0 96v1M0 99v1M0 104v1M0 106v2M0 113v1M0 115v1M0 130v2M0 133v1M0 139v1M0 141v2M0 177v1M0 181v1M0 198v4M0 206v5M0 213v1M0 215v2M0 223v1M0 228v1M0 231v1M0 236v1M0 239v2M1 1v2M1 5v2M1 10v1M1 15v2M1 34v1M1 64v1M1 66v1M1 68v1M1 70v1M1 78v1M1 80v1M1 83v1M1 87v1M1 99v1M1 103v1M1 108v1M1 115v1M1 127v1M1 130v1M1 133v2M1 138v1M1 141v1M1 177v1M1 190v1M1 196v2M1 199v3M1 203v1M1 206v1M1 209v2M1 216v1M1 221v1M1 223v1M1 225v1M1 227v1M1 235v2M1 238v1M1 240v1M1 243v1M2 1v1M2 4v2M2 10v1M2 12v3M2 17v1M2 20v1M2 31v1M2 59v1M2 61v2M2 64v1M2 66v1M2 70v1M2 72v2M2 78v1M2 80v1M2 82v3M2 86v2M2 91v1M2 94v1M2 96v1M2 99v1M2 101v1M2 109v1M2 112v1M2 124v1M2 129v2M2 132v1M2 134v1M2 137v2M2 141v1M2 190v1M2 203v1M2 205v1M2 208v1M2 210v1M2 213v1M2 216v1M2 220v1M2 223v2M2 231v1M2 236v1M2 243v1M3 1v2M3 4v2M3 9v1M3 11v2M3 20v1M3 25v1M3 31v1M3 34v1M3 52v1M3 62v1M3 68v1M3 72v2M3 86v1M3 96v2M3 99v1M3 102v1M3 104v3M3 110v3M3 127v1M3 131v1M3 133v1M3 137v1M3 139v1M3 142v1M3 175v1M3 181v1M3 190v1M3 200v1M3 213v1M3 223v3M3 231v1M3 237v1M3 243v1M3 269v2M4 0v2M4 4v1M4 7v1M4 10v2M4 31v1M4 62v1M4 66v1M4 73v1M4 80v1M4 82v2M4 91v1M4 94v1M4 99v1M4 103v1M4 106v1M4 109v1M4 112v1M4 115v1M4 127v2M4 137v1M4 142v1M4 190v1M4 197v2M4 200v1M4 202v2M4 209v1M4 213v1M4 215v1M4 220v2M4 223v1M4 225v1M4 231v1M4 235v1M4 243v1M4 270v1M5 49v3M5 53v1M5 56v1M5 88v2M5 142v1M5 150v1M5 152v1M5 155v1M5 157v1M5 159v1M5 167v1M5 169v1M5 258v1M5 260v1M5 265v1M5 268v2M5 277v1M6 8v1M6 22v2M6 88v1M6 91v1M6 93v1M6 105v1M6 109v1M6 115v1M6 146v1M6 149v1M6 154v2M6 159v2M6 162v1M6 165v2M6 168v1M6 211v1M6 269v1M6 274v1M7 3v1M7 8v2M7 13v1M7 17v1M7 20v2M7 26v1M7 40v1M7 47v1M7 63v1M7 65v2M7 70v1M7 73v2M7 76v1M7 80v2M7 84v1M7 88v1M7 96v1M7 107v1M7 109v1M7 111v1M7 116v1M7 121v1M7 124v1M7 146v1M7 162v1M7 165v1M7 195v1M7 199v2M7 202v2M7 209v1M7 212v1M7 214v1M7 216v2M7 222v3M7 229v1M7 231v1M7 233v1M7 240v2M7 243v1M7 270v1M8 12v2M8 17v2M8 28v1M8 36v1M8 44v1M8 59v1M8 90v2M8 93v2M8 106v1M8 113v4M8 143v1M8 145v1M8 149v1M8 151v1M8 164v3M8 168v1M8 179v1M8 211v1M8 269v1M8 278v1M9 14v1M9 18v1M9 23v1M9 27v1M9 45v1M9 50v3M9 55v1M9 58v1M9 89v1M9 129v1M9 144v1M9 155v3M9 163v1M9 271v1" stroke="#411"/>
<path d="M0 11v1M0 16v2M0 20v1M0 68v1M0 70v1M0 73v1M0 77v1M0 80v1M0 85v1M0 103v1M0 110v1M0 124v1M0 127v1M0 134v2M0 138v1M0 197v1M0 205v1M0 220v1M0 225v1M0 269v2M1 9v1M1 14v1M1 17v1M1 20v1M1 62v1M1 65v1M1 72v3M1 77v1M1 90v2M1 97v1M1 105v1M1 109v2M1 113v1M1 131v1M1 205v1M1 213v1M1 215v1M1 231v1M1 270v1M2 0v1M2 15v1M2 22v2M2 25v1M2 27v1M2 63v1M2 65v1M2 85v1M2 92v1M2 103v1M2 105v1M2 107v2M2 111v1M2 115v1M2 127v1M2 131v1M2 142v1M2 201v1M2 209v1M2 215v1M2 270v1M3 0v1M3 13v1M3 21v1M3 27v1M3 63v1M3 65v2M3 69v2M3 74v1M3 77v2M3 82v1M3 90v1M3 92v1M3 94v1M3 107v1M3 109v1M3 129v1M3 138v1M3 197v2M3 201v1M3 208v3M3 216v1M3 271v1M4 14v1M4 17v1M4 25v2M4 28v1M4 64v1M4 70v1M4 85v1M4 95v3M4 101v1M4 108v1M4 110v1M4 113v1M4 130v1M4 134v1M4 208v1M4 210v1M4 236v1M4 240v1M4 271v1M5 36v1M5 38v1M5 52v1M5 60v1M5 143v1M5 146v1M5 153v1M5 160v1M5 259v1M5 267v1M6 18v1M6 25v1M6 27v1M6 89v1M6 92v1M6 108v1M6 110v1M6 139v1M6 145v1M7 10v1M7 19v1M7 23v1M7 25v1M7 30v1M7 37v3M7 44v2M7 56v1M7 62v1M7 64v1M7 78v1M7 95v1M7 103v2M7 106v1M7 112v1M7 139v1M7 208v1M7 220v1M7 226v1M7 236v1M8 19v1M8 21v1M8 29v1M8 41v2M8 45v1M8 47v1M8 108v1M8 110v1M8 139v1M8 276v1M9 19v1M9 25v1M9 38v2M9 42v1M9 44v1M9 53v2M9 56v2M9 150v3M9 170v1M9 269v1" stroke="#311"/>
<path d="M0 12v1M0 19v1M0 48v1M0 54v1M0 57v1M0 76v1M0 93v1M0 114v1M0 211v1M1 12v1M1 48v1M1 53v1M1 61v1M1 75v2M1 93v1M2 48v1M2 76v1M2 93v1M3 48v1M3 53v1M3 56v2M3 61v1M3 75v2M3 93v1M4 12v1M4 19v1M4 48v1M4 52v1M4 54v1M4 76v1M4 204v1M5 61v1M5 165v1M7 93v2M7 110v1M7 213v1M9 147v1M9 164v1M9 168v1" stroke="#222"/>
<path d="M0 28v1M0 32v1M0 137v1M0 190v1M0 224v1M0 233v1M0 243v1M1 7v1M1 32v1M1 94v1M1 96v1M1 100v1M1 102v1M1 128v1M1 137v1M1 207v1M1 220v1M1 224v1M2 2v1M2 34v1M2 104v1M2 136v1M2 198v1M2 202v1M3 6v1M3 32v1M3 81v1M3 130v1M3 134v1M3 203v1M3 220v2M4 2v1M4 5v1M4 68v1M4 72v1M4 81v1M4 87v1M4 104v1M4 124v1M4 138v1M4 141v1M4 201v1M4 207v1M4 224v1M4 234v1M4 239v1M4 241v1M5 42v1M5 139v1M5 170v1M6 12v1M6 26v1M6 95v1M6 102v1M6 104v1M6 112v2M6 136v1M6 153v1M6 167v1M6 271v1M7 0v1M7 7v1M7 24v1M7 54v1M7 85v1M7 163v1M7 215v1M7 221v1M8 101v2M8 105v1M8 127v1M8 130v1M8 156v1M8 160v1M8 213v1M8 271v1M8 279v1M9 135v1M9 161v1" stroke="#412"/>
<path d="M0 34v1M0 37v1M0 72v1M0 91v1M0 102v1M0 175v1M0 202v1M0 217v1M0 234v1M0 237v1M0 272v1M1 4v1M1 28v1M1 104v1M1 106v1M1 132v1M1 139v2M1 142v1M1 181v1M2 11v1M2 32v1M2 68v1M2 133v1M2 139v2M2 178v1M2 207v1M2 239v2M2 271v1M3 7v1M3 10v1M3 100v1M3 120v1M3 132v1M3 141v1M3 202v1M3 235v1M3 238v1M3 240v1M4 6v1M4 15v2M4 32v1M4 37v1M4 43v1M4 100v1M4 102v1M4 107v1M4 125v1M4 174v1M4 181v1M4 205v1M4 227v1M4 232v1M5 30v1M5 58v1M5 116v1M5 121v1M5 127v1M5 129v1M5 135v1M5 161v1M6 98v1M6 101v1M6 151v1M6 164v1M6 270v1M7 1v1M7 11v1M7 58v1M7 71v1M7 79v1M7 115v1M7 129v1M7 131v1M7 145v1M7 149v1M7 168v1M7 175v1M7 201v1M7 205v1M7 228v1M7 230v1M8 10v1M8 22v1M8 24v1M8 99v1M8 104v1M8 157v1M8 173v1M8 209v1M8 225v1M8 270v1M9 46v2M9 83v1M9 86v1M9 88v1M9 90v1M9 94v1M9 148v1M9 270v1" stroke="#512"/>
<path d="M0 39v1M0 42v1M0 45v2M0 122v1M0 151v1M0 159v1M0 163v1M0 167v1M0 172v1M0 185v2M0 229v1M0 245v1M0 266v1M0 273v1M1 33v1M1 36v1M1 39v1M1 116v1M1 119v1M1 147v1M1 159v1M1 163v1M1 165v1M1 167v2M1 182v1M1 184v1M1 186v1M1 245v1M1 257v1M1 266v1M1 273v1M2 36v2M2 40v1M2 43v1M2 116v1M2 147v1M2 151v1M2 159v1M2 164v2M2 173v1M2 179v1M2 185v2M2 245v1M2 263v2M2 266v1M2 273v1M3 33v1M3 36v1M3 39v1M3 42v1M3 44v1M3 126v1M3 149v1M3 159v1M3 164v2M3 167v1M3 182v1M3 184v2M3 189v1M3 191v2M3 229v1M3 245v1M3 263v1M3 266v1M3 273v1M3 277v2M4 42v1M4 47v1M4 123v1M4 143v1M4 149v1M4 151v1M4 159v1M4 162v1M4 165v2M4 172v1M4 182v1M4 184v2M4 189v1M4 245v1M4 273v1M5 0v1M5 2v2M5 8v1M5 18v1M5 22v1M5 26v1M5 81v1M5 87v1M5 117v1M5 126v1M5 128v1M5 137v1M5 171v1M5 178v2M5 191v1M5 255v1M6 3v4M6 11v1M6 134v1M6 137v1M6 148v1M6 169v1M6 172v1M6 174v1M6 176v2M6 180v1M6 183v3M6 187v1M6 192v2M6 201v3M6 205v1M6 207v1M6 212v1M6 215v1M6 220v1M6 223v3M6 227v1M6 229v3M6 237v1M6 240v1M6 251v1M6 257v1M6 261v1M6 266v3M6 272v2M6 276v1M6 279v1M7 6v1M7 117v1M7 126v1M7 128v1M7 137v1M7 148v1M7 174v1M7 182v1M7 192v2M7 242v1M7 251v1M7 255v1M7 267v1M7 272v1M8 11v1M8 62v2M8 65v2M8 69v1M8 71v1M8 118v1M8 122v2M8 134v1M8 170v1M8 182v2M8 185v1M8 189v1M8 193v1M8 197v1M8 200v1M8 203v1M8 207v1M8 210v1M8 215v5M8 221v3M8 226v1M8 229v2M8 232v2M8 242v1M8 251v1M8 266v1M9 2v2M9 7v2M9 10v1M9 16v1M9 72v3M9 80v1M9 85v1M9 87v1M9 91v2M9 95v1M9 98v2M9 102v1M9 106v1M9 109v1M9 112v1M9 118v1M9 120v1M9 124v2M9 128v1M9 133v1M9 137v1M9 175v1M9 194v2M9 197v1M9 199v1M9 204v1M9 206v1M9 208v1M9 214v1M9 217v1M9 223v1M9 227v1M9 236v2M9 241v1M9 251v1M9 264v1M9 266v1M9 272v1" stroke="#722"/>
<path d="M0 47v1M0 143v1M0 147v1M0 150v1M0 156v1M0 160v2M0 164v1M0 168v1M0 184v1M0 191v2M0 248v4M0 257v2M0 263v2M0 267v1M1 42v1M1 44v2M1 143v1M1 145v1M1 149v2M1 160v1M1 164v1M1 166v1M1 169v1M1 191v1M1 248v4M1 263v2M1 278v1M2 38v2M2 41v2M2 143v1M2 149v2M2 161v3M2 167v3M2 184v1M2 191v1M2 247v2M2 251v1M2 255v1M2 257v1M2 267v2M3 45v3M3 143v1M3 156v1M3 160v1M3 162v2M3 168v2M3 249v2M3 257v1M3 264v1M3 267v1M4 46v1M4 145v4M4 150v1M4 160v1M4 163v2M4 167v3M4 191v1M4 248v2M4 251v1M4 253v1M4 257v2M4 260v1M4 263v2M4 266v1M4 268v1M4 278v1M5 1v1M5 9v3M5 17v1M5 20v1M5 24v1M5 69v1M5 78v2M5 83v2M5 90v1M5 172v2M5 177v1M5 180v3M5 185v1M5 188v3M5 192v3M5 250v1M5 253v1M6 67v1M6 75v1M6 182v1M6 186v1M6 200v1M6 210v1M6 216v4M6 222v1M6 226v1M6 233v1M6 241v1M6 243v1M6 245v1M6 247v1M6 250v1M6 253v1M6 255v1M6 258v2M6 262v2M6 265v1M7 184v1M7 250v1M7 253v1M7 257v1M7 261v1M7 263v2M7 275v1M7 278v1M8 6v1M8 70v1M8 73v2M8 184v1M8 228v1M8 234v2M8 238v2M8 243v3M8 248v1M8 250v1M8 255v1M8 257v1M8 261v1M8 263v1M8 267v1M9 0v2M9 5v1M9 9v1M9 11v1M9 68v1M9 100v1M9 107v1M9 111v1M9 117v1M9 119v1M9 122v2M9 126v1M9 172v2M9 176v1M9 178v2M9 181v1M9 191v1M9 200v3M9 205v1M9 209v1M9 212v1M9 216v1M9 218v5M9 224v1M9 226v1M9 228v2M9 231v1M9 233v1M9 240v1M9 243v1M9 250v1M9 257v1M9 267v1M9 275v2M9 278v2" stroke="#822"/>
<path d="M0 144v1M0 152v1M0 170v1M0 252v1M0 254v1M0 256v1M0 259v1M0 275v1M0 279v1M1 148v1M1 152v2M1 170v1M1 246v1M1 252v1M1 256v1M1 259v1M1 261v2M1 265v1M2 148v1M2 153v1M2 158v1M2 170v1M2 246v1M2 256v1M2 279v1M3 144v3M3 152v2M3 246v2M3 256v1M3 259v1M4 152v2M4 246v1M4 254v3M4 259v1M4 262v1M5 4v1M5 6v1M5 63v2M5 68v1M5 70v2M5 73v2M5 77v1M5 80v1M5 82v1M5 91v2M5 98v1M5 102v1M5 105v1M5 110v1M5 113v2M5 184v1M5 195v1M5 197v1M5 199v1M5 201v2M5 205v1M5 208v2M5 212v1M5 220v1M5 222v1M5 225v3M5 231v1M5 237v1M5 241v1M5 254v1M5 256v1M6 65v1M6 68v1M6 70v1M6 72v2M6 79v1M6 82v1M6 84v2M6 119v1M6 121v3M6 126v1M6 242v1M6 252v1M6 256v1M7 246v1M7 249v1M7 252v1M7 254v1M7 256v1M7 258v1M8 76v1M8 78v2M8 81v1M8 84v2M8 88v1M8 246v2M8 252v1M8 254v1M8 260v1M9 182v3M9 210v1M9 230v1M9 232v1M9 239v1M9 242v1M9 246v1M9 249v1M9 254v1M9 260v1M9 262v1" stroke="#a32"/>
<path d="M0 145v2M0 148v1M0 153v1M0 155v1M0 158v1M0 162v1M0 253v1M0 255v1M0 265v1M0 276v1M1 46v1M1 146v1M1 156v1M1 158v1M1 247v1M1 253v3M1 275v1M2 44v1M2 47v1M2 146v1M2 152v1M2 155v3M2 253v1M2 259v3M2 265v1M2 275v2M3 148v1M3 157v1M3 161v1M3 166v1M3 253v1M3 255v1M3 260v2M3 265v1M3 275v2M3 279v1M4 144v1M4 155v1M4 158v1M4 161v1M4 170v1M4 250v1M4 261v1M4 279v1M5 5v1M5 16v1M5 21v1M5 65v1M5 67v1M5 76v1M5 93v2M5 108v1M5 186v1M5 196v1M5 204v1M5 206v1M5 213v1M5 245v3M5 249v1M6 64v1M6 66v1M6 71v1M6 74v1M6 83v1M6 118v1M6 120v1M6 124v2M6 221v1M6 228v1M6 232v1M6 234v1M6 244v1M6 246v1M6 248v1M6 260v1M7 245v1M7 248v1M7 260v1M7 262v1M7 265v1M7 279v1M8 68v1M8 72v1M8 83v1M8 256v1M8 258v2M8 262v1M9 185v3M9 189v1M9 193v1M9 234v2M9 238v1M9 244v2M9 247v1M9 253v1M9 259v1M9 263v1M9 265v1M9 268v1" stroke="#932"/>
<path d="M0 149v1M0 157v1M0 166v1M0 169v1M0 246v2M0 260v2M0 268v1M0 278v1M1 47v1M1 144v1M1 155v1M1 157v1M1 161v2M1 258v1M1 260v1M1 267v2M1 276v1M1 279v1M2 45v2M2 144v2M2 160v1M2 166v1M2 249v2M2 254v1M2 258v1M2 278v1M3 147v1M3 150v1M3 155v1M3 158v1M3 170v1M3 248v1M3 251v1M3 254v1M3 258v1M3 268v1M4 156v2M4 247v1M4 265v1M4 267v1M4 275v2M5 7v1M5 12v2M5 15v1M5 62v1M5 66v1M5 75v1M5 85v1M5 174v1M5 176v1M5 183v1M5 187v1M5 198v1M5 211v1M5 214v1M5 248v1M6 62v2M6 69v1M6 76v1M6 78v1M6 81v1M6 116v1M6 235v1M6 238v2M6 249v1M6 254v1M7 247v1M7 259v1M7 268v1M8 89v1M8 249v1M8 253v1M8 265v1M8 268v1M9 4v1M9 6v1M9 97v1M9 171v1M9 174v1M9 177v1M9 180v1M9 188v1M9 190v1M9 192v1M9 203v1M9 207v1M9 215v1M9 248v1M9 255v1M9 258v1M9 261v1" stroke="#922"/>
<path d="M0 262v1M2 252v1M2 262v1M3 252v1M3 262v1M4 252v1M5 72v1M5 95v2M5 99v1M5 101v1M5 103v2M5 106v2M5 109v1M5 111v2M5 115v1M5 200v1M5 203v1M5 207v1M5 210v1M5 215v4M5 223v2M5 229v1M5 233v1M5 235v2M5 243v1M6 77v1M6 80v1M6 117v1M8 80v1M8 82v1M8 86v1M9 252v1M9 256v1" stroke="#b32"/>
<path d="M5 97v1M5 219v1M5 221v1M5 230v1M5 234v1M5 238v2M5 242v1M8 77v1M8 87v1" stroke="#c42"/>
<path d="M5 100v1" stroke="#c53"/>
<path d="M5 228v1M5 232v1" stroke="#c43"/>
<path d="M5 240v1" stroke="#d53"/>
<path d="M5 244v1M5 278v1M7 141v1" stroke="#e63"/>
<path d="M5 251v2" stroke="#e83"/>
<path d="M6 178v1M9 277v1" stroke="#e73"/>
<path d="M7 276v2" stroke="#eb3"/>
</g>
<g transform="translate(314.04 802.3) scale(16.08 1.8032)" stroke-width="1.02" fill="none" shape-rendering="crispEdges">
<path d="M4.5 0V280" stroke="#822" stroke-width="10"/>
<path d="M0 0v1M0 4v1M0 10v1M0 15v2M0 18v1M0 21v2M0 24v3M0 28v1M0 32v2M0 48v1M0 50v1M0 53v6M0 60v2M0 63v6M0 70v1M0 73v2M0 78v1M0 83v1M0 104v1M0 107v1M0 129v1M0 131v1M0 170v1M0 173v1M0 175v1M0 204v2M0 207v2M0 220v2M0 223v1M0 231v1M1 4v1M1 8v1M1 12v1M1 14v1M1 16v1M1 18v1M1 22v1M1 24v1M1 26v2M1 32v2M1 48v2M1 51v4M1 57v4M1 62v1M1 65v2M1 68v3M1 74v1M1 77v1M1 79v1M1 82v1M1 103v1M1 112v1M1 129v1M1 131v1M1 133v1M1 170v2M1 175v1M1 205v1M1 229v1M1 233v1M1 242v1M2 10v1M2 14v1M2 16v1M2 18v1M2 21v1M2 23v3M2 27v2M2 32v1M2 49v2M2 53v2M2 57v3M2 63v2M2 66v1M2 68v3M2 77v4M2 82v1M2 86v1M2 105v1M2 108v1M2 129v1M2 131v1M2 170v1M2 173v1M2 175v1M2 203v1M2 205v1M2 208v1M2 219v1M2 235v1M3 0v1M3 4v1M3 10v1M3 14v1M3 16v1M3 18v1M3 22v2M3 25v2M3 32v2M3 48v1M3 51v2M3 54v1M3 56v1M3 59v1M3 61v4M3 66v1M3 68v1M3 74v2M3 78v2M3 82v2M3 87v1M3 92v1M3 131v1M3 170v2M3 173v1M3 204v1M3 222v2M3 246v2M4 4v1M4 10v1M4 14v1M4 16v1M4 22v2M4 26v1M4 28v1M4 32v1M4 48v3M4 53v1M4 55v1M4 57v1M4 59v2M4 66v1M4 68v1M4 70v1M4 74v1M4 77v2M4 83v1M4 88v1M4 91v1M4 101v1M4 103v1M4 110v1M4 115v1M4 129v1M4 131v1M4 133v1M4 170v2M4 208v1M4 217v1M4 222v1M4 237v1M4 247v1M5 28v1M5 30v6M5 37v2M5 40v3M5 44v4M5 131v1M5 137v1M5 149v1M5 154v2M5 160v2M5 163v1M5 166v1M5 173v1M5 266v1M6 28v4M6 33v2M6 36v2M6 40v2M6 43v1M6 45v1M6 47v2M6 52v1M6 57v2M6 140v1M6 172v2M7 24v1M7 29v3M7 34v1M7 36v2M7 40v1M7 42v2M7 45v1M7 57v1M7 60v2M7 68v1M7 82v1M7 94v1M7 103v1M7 114v1M7 154v2M7 159v1M7 172v1M7 217v1M7 219v1M7 223v1M7 227v1M7 231v2M8 29v1M8 32v4M8 40v1M8 43v1M8 49v1M8 58v2M8 61v1M9 28v3M9 32v1M9 34v2M9 40v4M9 45v1M9 48v2M9 58v4M9 64v1M9 68v1M9 82v1M9 143v1M9 149v1M9 155v1" stroke="#322"/>
<path d="M0 1v1M0 39v1M0 41v2M0 44v2M0 47v1M0 93v1M0 116v1M0 123v1M0 125v1M0 142v1M0 150v1M0 167v2M0 179v2M0 183v1M0 185v1M0 187v2M0 190v2M0 197v1M0 199v1M0 209v1M0 250v1M0 252v1M0 267v1M1 39v3M1 44v3M1 105v1M1 134v1M1 138v1M1 142v2M1 150v1M1 155v1M1 165v1M1 167v2M1 180v1M1 182v2M1 185v1M1 188v1M1 193v1M1 196v2M1 199v1M1 202v1M1 226v1M1 250v1M1 253v1M1 261v1M2 1v1M2 41v1M2 43v5M2 89v1M2 138v1M2 142v1M2 150v1M2 178v3M2 183v1M2 185v1M2 196v2M2 252v1M2 257v1M2 260v2M2 268v1M3 37v1M3 39v1M3 43v2M3 46v2M3 90v1M3 125v1M3 142v1M3 150v1M3 155v2M3 166v2M3 179v2M3 183v1M3 185v1M3 187v3M3 191v1M3 193v1M3 196v2M3 199v1M3 209v1M3 215v1M3 250v1M3 252v1M3 260v1M4 7v1M4 39v3M4 43v5M4 122v1M4 125v1M4 141v2M4 145v1M4 150v2M4 163v1M4 168v1M4 179v1M4 183v1M4 188v1M4 190v1M4 193v1M4 196v2M4 199v1M4 209v1M4 250v1M4 257v1M4 260v2M4 267v1M5 7v1M5 11v1M5 14v3M5 18v1M5 50v1M5 62v2M5 67v1M5 69v3M5 73v4M5 78v2M5 82v1M5 85v1M5 124v2M5 127v2M5 132v2M5 170v1M5 198v1M5 203v1M5 207v1M5 217v1M5 227v1M5 231v1M5 244v1M5 255v1M5 277v1M6 6v2M6 11v2M6 14v1M6 16v1M6 19v1M6 21v1M6 50v1M6 64v1M6 75v1M6 82v1M6 86v3M6 91v1M6 95v1M6 97v1M6 99v4M6 106v2M6 113v1M6 115v1M6 144v1M6 146v1M6 150v1M6 153v1M6 156v2M6 159v1M6 161v1M6 164v2M6 168v1M6 217v1M6 223v1M6 227v1M6 231v1M6 257v1M6 260v1M6 266v1M7 8v1M7 71v1M7 81v1M7 92v1M7 110v1M7 118v3M7 122v1M7 129v1M7 136v1M7 152v1M7 198v1M7 204v2M7 209v5M7 216v1M7 224v1M7 254v2M8 7v1M8 11v1M8 13v4M8 18v2M8 22v3M8 27v1M8 50v1M8 70v1M8 77v1M8 82v1M8 89v2M8 93v2M8 97v1M8 103v1M8 111v2M8 117v1M8 120v1M8 143v2M8 146v1M8 148v1M8 151v1M8 156v1M8 158v1M8 162v1M8 203v1M8 217v3M8 226v1M8 229v1M8 231v1M8 235v2M8 239v1M8 241v1M8 244v1M8 254v1M8 257v1M8 260v1M9 6v1M9 12v1M9 15v1M9 19v1M9 21v1M9 25v1M9 50v1M9 67v1M9 93v1M9 111v1M9 131v1M9 145v1M9 152v2M9 169v1M9 231v2M9 236v1M9 254v1M9 260v1" stroke="#622"/>
<path d="M0 2v1M0 23v1M0 69v1M0 75v1M0 84v1M0 86v1M0 91v1M0 95v2M0 101v1M0 103v1M0 108v4M0 114v2M0 122v1M0 128v1M0 130v1M0 133v1M0 136v1M0 171v2M0 203v1M0 206v1M0 212v1M0 217v2M0 224v1M0 227v1M0 235v1M0 244v1M0 247v1M1 0v1M1 21v1M1 23v1M1 25v1M1 31v1M1 73v1M1 75v1M1 80v1M1 89v2M1 92v1M1 99v1M1 101v1M1 108v1M1 113v3M1 136v1M1 189v1M1 206v1M1 210v2M1 214v1M1 221v2M1 228v1M1 230v1M1 234v2M1 237v2M1 240v2M1 244v1M1 246v1M2 73v1M2 75v1M2 94v2M2 102v2M2 113v2M2 126v1M2 133v1M2 171v1M2 186v1M2 195v1M2 206v1M2 212v1M2 216v1M2 221v3M2 227v1M2 230v1M2 238v1M2 240v1M2 244v1M3 8v1M3 13v1M3 21v1M3 28v2M3 76v1M3 80v1M3 86v1M3 93v1M3 98v1M3 105v1M3 108v1M3 115v1M3 121v1M3 133v1M3 174v2M3 205v1M3 211v1M3 213v1M3 219v1M3 221v1M3 229v1M3 231v1M3 235v2M3 248v1M4 17v2M4 21v1M4 24v1M4 63v1M4 69v1M4 80v1M4 82v1M4 85v2M4 89v1M4 92v1M4 95v1M4 98v1M4 100v1M4 106v2M4 112v2M4 132v1M4 136v1M4 203v2M4 206v1M4 220v1M4 228v1M4 230v1M4 236v1M4 239v2M4 242v1M4 245v1M4 248v1M4 256v1M5 10v1M5 48v1M5 61v1M5 68v1M5 135v1M5 147v1M5 156v1M5 258v1M5 267v1M6 35v1M6 39v1M6 53v1M6 59v1M6 138v1M7 10v1M7 32v1M7 35v1M7 44v1M7 54v1M7 58v1M7 70v1M7 84v1M7 89v2M7 93v1M7 112v1M7 143v1M7 149v1M7 151v1M7 163v1M7 166v1M7 225v1M7 234v1M7 236v1M7 241v1M8 39v1M8 45v1M8 48v1M8 53v1M8 172v1M9 36v1M9 47v1M9 54v1M9 74v1M9 160v1M9 163v1" stroke="#311"/>
<path d="M0 3v1M0 5v1M0 7v3M0 13v1M0 17v1M0 29v3M0 35v1M0 51v1M0 71v1M0 76v1M0 87v1M0 92v1M0 94v1M0 98v1M0 106v1M0 113v1M0 117v5M0 126v1M0 132v1M0 135v1M0 169v1M0 176v1M0 182v1M0 194v2M0 200v1M0 210v1M0 213v2M0 216v1M0 222v1M0 225v2M0 228v1M0 233v2M0 238v1M0 240v2M0 248v1M0 251v1M0 255v1M1 2v2M1 5v1M1 7v1M1 9v3M1 17v1M1 28v1M1 30v1M1 34v2M1 63v1M1 71v2M1 76v1M1 84v1M1 93v1M1 95v1M1 98v1M1 107v1M1 110v2M1 117v1M1 119v1M1 121v1M1 126v1M1 128v1M1 132v1M1 135v1M1 140v1M1 169v1M1 176v1M1 181v1M1 184v1M1 186v1M1 204v1M1 212v2M1 215v3M1 219v2M1 231v1M1 239v1M1 247v3M1 255v1M2 2v2M2 5v1M2 8v2M2 13v1M2 15v1M2 22v1M2 26v1M2 30v2M2 33v3M2 60v2M2 71v2M2 74v1M2 76v1M2 84v2M2 91v1M2 96v1M2 98v1M2 100v1M2 110v1M2 118v1M2 120v3M2 136v1M2 140v1M2 169v1M2 174v1M2 176v1M2 189v1M2 200v1M2 204v1M2 210v2M2 213v1M2 225v1M2 228v1M2 232v1M2 234v1M2 239v1M2 242v2M2 246v4M3 2v2M3 5v1M3 7v1M3 11v2M3 15v1M3 17v1M3 19v1M3 50v1M3 60v1M3 67v1M3 69v1M3 72v2M3 84v2M3 94v1M3 97v1M3 100v1M3 106v2M3 114v1M3 116v5M3 123v1M3 126v3M3 132v1M3 135v1M3 169v1M3 172v1M3 195v1M3 200v1M3 203v1M3 206v1M3 210v1M3 216v2M3 224v2M3 227v1M3 233v2M3 238v1M3 241v1M3 243v1M3 253v1M3 256v1M4 0v1M4 2v2M4 5v1M4 9v1M4 12v1M4 15v1M4 19v1M4 25v1M4 27v1M4 29v3M4 67v1M4 71v3M4 75v2M4 87v1M4 93v2M4 96v1M4 104v1M4 109v1M4 111v1M4 114v1M4 117v3M4 124v1M4 126v1M4 128v1M4 137v1M4 169v1M4 175v1M4 181v1M4 186v1M4 189v1M4 195v1M4 198v1M4 210v1M4 212v5M4 218v2M4 224v1M4 227v1M4 229v1M4 231v1M4 238v1M4 244v1M4 246v1M4 251v2M4 255v1M5 36v1M5 53v1M5 55v1M5 58v2M5 64v1M5 129v1M5 138v2M5 143v1M5 148v1M5 153v1M5 159v1M5 162v1M5 164v2M5 167v2M5 171v2M5 174v3M5 263v1M5 268v1M6 10v1M6 32v1M6 38v1M6 42v1M6 44v1M6 51v1M6 60v1M6 89v1M6 94v1M6 112v1M6 114v1M6 137v1M6 139v1M6 141v2M6 154v1M6 166v2M6 171v1M6 175v2M7 0v1M7 6v1M7 14v1M7 21v2M7 26v1M7 41v1M7 46v1M7 49v1M7 52v2M7 62v3M7 66v1M7 69v1M7 74v5M7 80v1M7 91v1M7 97v1M7 105v1M7 107v2M7 111v1M7 131v1M7 160v3M7 169v1M7 171v1M7 175v1M7 203v1M7 222v1M7 226v1M7 228v2M7 235v1M7 239v1M7 244v1M8 6v1M8 10v1M8 42v1M8 46v1M8 51v2M8 137v3M8 155v1M8 171v1M9 24v1M9 33v1M9 38v2M9 44v1M9 46v1M9 51v2M9 55v2M9 62v2M9 69v1M9 75v1M9 77v1M9 79v2M9 85v1M9 137v2M9 140v2M9 159v1M9 161v1M9 166v3M9 170v3M9 175v1" stroke="#411"/>
<path d="M0 6v1M0 85v1M0 100v1M0 127v1M0 140v1M0 181v1M0 186v1M0 229v1M1 29v1M1 97v1M1 174v1M1 194v1M2 6v2M2 109v1M2 130v1M2 132v1M2 135v1M2 181v2M2 198v1M2 254v2M3 27v1M3 34v1M3 96v1M3 130v1M3 137v1M3 139v1M3 232v1M3 249v1M3 251v1M4 121v1M4 135v1M4 194v1M4 226v1M5 39v1M5 141v1M5 262v1M6 96v1M6 149v1M6 163v1M6 170v1M7 16v1M7 23v1M7 51v1M7 83v1M7 96v1M7 98v1M7 101v1M7 106v1M7 115v1M7 146v1M7 150v1M7 156v1M7 218v1M8 56v1M8 64v1M8 141v1M8 163v1M8 174v1M9 156v1" stroke="#412"/>
<path d="M0 11v1M0 19v1M0 34v1M0 40v1M0 43v1M0 46v1M0 81v1M0 137v1M0 141v1M0 163v1M0 178v1M0 198v1M0 201v2M0 237v1M0 245v1M0 253v1M0 261v1M1 1v1M1 13v1M1 20v1M1 47v1M1 67v1M1 81v1M1 85v1M1 122v3M1 127v1M1 130v1M1 139v1M1 141v1M1 163v1M1 178v1M1 187v1M1 190v2M1 198v1M1 200v2M1 209v1M1 223v1M1 254v1M1 256v1M1 260v1M2 11v1M2 19v1M2 40v1M2 87v1M2 93v1M2 116v2M2 123v1M2 127v1M2 134v1M2 137v1M2 139v1M2 141v1M2 163v1M2 184v1M2 187v2M2 191v1M2 193v1M2 199v1M2 201v1M2 209v1M2 215v1M2 229v1M2 231v1M2 250v1M2 253v1M2 256v1M3 1v1M3 6v1M3 20v1M3 24v1M3 30v1M3 40v2M3 81v1M3 88v1M3 124v1M3 134v1M3 138v1M3 141v1M3 176v1M3 178v1M3 181v2M3 184v1M3 190v1M3 194v1M3 198v1M3 201v1M3 240v1M3 254v1M4 6v1M4 11v1M4 20v1M4 81v1M4 84v1M4 120v1M4 123v1M4 127v1M4 138v1M4 140v1M4 172v1M4 178v1M4 180v1M4 182v1M4 184v2M4 191v1M4 200v1M4 202v1M4 243v1M4 249v1M4 253v1M5 0v1M5 6v1M5 21v1M5 51v1M5 66v1M5 77v1M5 80v1M5 84v1M5 116v3M5 120v3M5 126v1M5 136v1M5 145v1M5 158v1M5 169v1M5 265v1M6 0v1M6 56v1M6 93v1M6 105v1M6 108v1M6 111v1M6 143v1M6 147v1M6 151v1M6 155v1M6 169v1M6 174v1M6 207v1M7 4v1M7 7v1M7 11v3M7 15v1M7 17v2M7 20v1M7 25v1M7 27v1M7 38v1M7 56v1M7 67v1M7 73v1M7 79v1M7 86v3M7 95v1M7 99v1M7 102v1M7 109v1M7 113v1M7 117v1M7 133v1M7 135v1M7 144v2M7 147v2M7 153v1M7 165v1M7 167v2M7 176v1M7 208v1M7 214v1M7 220v2M7 230v1M7 237v2M7 240v1M7 260v1M8 0v1M8 21v1M8 26v1M8 38v1M8 41v1M8 68v1M8 114v1M8 147v1M8 149v2M8 154v1M8 159v3M8 167v2M8 170v1M8 207v1M8 223v1M8 225v1M8 227v1M8 232v1M8 243v1M9 14v1M9 22v2M9 26v2M9 71v2M9 78v1M9 81v1M9 83v2M9 90v1M9 94v1M9 114v1M9 144v1M9 146v3M9 157v2M9 162v1M9 164v2M9 176v1" stroke="#522"/>
<path d="M0 12v1M0 14v1M0 27v1M0 62v1M0 79v2M0 82v1M0 88v3M0 97v1M0 99v1M0 102v1M0 105v1M0 112v1M0 174v1M0 211v1M0 219v1M0 230v1M0 232v1M0 236v1M0 239v1M0 242v2M0 246v1M0 249v1M1 6v1M1 15v1M1 78v1M1 86v3M1 91v1M1 94v1M1 96v1M1 100v1M1 102v1M1 104v1M1 106v1M1 109v1M1 118v1M1 172v2M1 203v1M1 208v1M1 218v1M1 224v2M1 227v1M1 232v1M1 243v1M2 0v1M2 4v1M2 12v1M2 62v1M2 83v1M2 88v1M2 90v1M2 92v1M2 97v1M2 99v1M2 101v1M2 104v1M2 106v2M2 111v2M2 115v1M2 128v1M2 214v1M2 217v1M2 220v1M2 224v1M2 226v1M2 233v1M2 236v2M2 241v1M3 53v1M3 70v1M3 89v1M3 91v1M3 95v1M3 99v1M3 101v4M3 109v5M3 136v1M3 186v1M3 208v1M3 212v1M3 214v1M3 218v1M3 220v1M3 226v1M3 228v1M3 230v1M3 237v1M3 239v1M3 242v1M3 244v1M3 255v1M4 33v1M4 35v1M4 62v1M4 79v1M4 90v1M4 97v1M4 99v1M4 102v1M4 105v1M4 108v1M4 174v1M4 176v1M4 205v1M4 211v1M4 221v1M4 223v1M4 225v1M4 232v4M4 241v1M5 29v1M5 43v1M5 49v1M5 52v1M5 54v1M5 57v1M5 60v1M5 140v1M5 146v1M5 257v1M5 259v1M5 261v1M6 46v1M6 54v2M6 61v1M7 28v1M7 33v1M7 39v1M7 48v1M7 55v1M7 65v1M7 207v1M7 233v1M8 28v1M8 30v2M8 36v2M8 44v1M8 47v1M8 54v2M8 60v1M8 140v1M8 175v1M9 31v1M9 37v1M9 53v1M9 66v1M9 154v1" stroke="#312"/>
<path d="M0 20v1M0 72v1M0 124v1M0 134v1M0 139v1M0 184v1M0 189v1M0 215v1M0 254v1M0 256v1M1 19v1M1 116v1M1 120v1M1 137v1M1 195v1M1 236v1M1 245v1M1 251v2M2 17v1M2 20v1M2 29v1M2 67v1M2 81v1M2 119v1M2 124v1M2 172v1M2 190v1M2 194v1M2 202v1M2 218v1M2 245v1M2 251v1M3 9v1M3 31v1M3 35v1M3 71v1M3 122v1M3 140v1M3 202v1M3 245v1M4 1v1M4 8v1M4 13v1M4 34v1M4 116v1M4 130v1M4 134v1M4 139v1M4 201v1M4 254v1M5 56v1M5 119v1M5 142v1M5 144v1M5 157v1M5 264v1M6 68v1M6 90v1M6 103v1M7 19v1M7 72v1M7 85v1M7 100v1M7 104v1M7 157v2M7 164v1M7 170v1M7 174v1M7 242v2M8 131v1M8 142v1M8 166v1M8 169v1M8 176v1M9 10v1M9 65v1M9 70v1M9 73v1M9 76v1M9 139v1M9 142v1M9 174v1" stroke="#512"/>
<path d="M0 36v1M0 143v3M0 147v3M0 151v2M0 154v1M0 158v1M0 164v1M0 192v1M0 259v1M0 262v5M0 273v1M0 275v1M0 279v1M1 144v1M1 147v3M1 159v1M1 259v1M1 262v2M1 270v1M1 272v1M1 277v1M2 37v1M2 42v1M2 147v3M2 153v1M2 157v1M2 159v1M2 263v4M2 269v5M2 275v1M2 278v1M3 143v3M3 147v3M3 151v1M3 164v2M3 262v1M3 265v2M3 268v1M3 270v1M3 272v1M3 278v1M4 38v1M4 147v1M4 149v1M4 152v1M4 164v2M4 258v1M4 263v1M4 268v2M4 272v2M4 276v2M4 279v1M5 2v1M5 4v2M5 17v1M5 23v5M5 72v1M5 90v1M5 94v1M5 101v1M5 103v1M5 105v1M5 108v1M5 112v1M5 123v1M5 134v1M5 177v2M5 181v3M5 185v2M5 189v1M5 196v1M5 199v1M5 204v1M5 210v5M5 219v1M5 222v1M5 225v2M5 228v1M5 234v1M5 237v2M5 241v2M5 247v3M5 251v1M5 269v1M5 271v1M5 274v2M6 1v2M6 5v1M6 13v1M6 22v2M6 25v1M6 27v1M6 71v1M6 76v1M6 83v1M6 117v1M6 129v1M6 186v1M6 194v1M6 203v1M6 206v1M6 210v1M6 213v2M6 218v2M6 221v2M6 225v2M6 228v1M6 236v2M6 242v2M6 245v3M6 253v1M6 256v1M6 259v1M6 261v2M6 268v3M6 273v1M6 275v1M7 124v2M7 127v1M7 130v1M7 134v1M7 137v3M7 178v1M7 181v3M7 186v2M7 189v1M7 191v1M7 194v4M7 199v1M7 201v2M7 247v1M7 249v3M7 256v2M7 259v1M7 261v1M7 270v1M7 272v1M8 2v2M8 8v2M8 62v1M8 69v1M8 71v1M8 73v1M8 78v1M8 87v2M8 92v1M8 98v1M8 104v1M8 109v1M8 116v1M8 121v1M8 124v1M8 126v1M8 136v1M8 153v1M8 178v1M8 185v2M8 189v1M8 194v1M8 201v1M8 204v1M8 210v1M8 212v2M8 215v2M8 224v1M8 230v1M8 240v1M8 245v2M8 252v2M8 256v1M8 258v2M8 261v1M8 263v1M8 267v2M8 270v1M8 272v1M8 277v1M9 7v2M9 86v1M9 88v1M9 91v2M9 97v2M9 100v3M9 107v1M9 113v1M9 117v2M9 121v2M9 135v1M9 198v1M9 203v1M9 208v1M9 219v1M9 225v2M9 228v2M9 234v2M9 238v2M9 241v1M9 243v1M9 245v2M9 253v1M9 256v1M9 258v1M9 261v2M9 267v1M9 269v2M9 272v1" stroke="#822"/>
<path d="M0 37v2M0 138v1M0 155v2M0 159v3M0 165v2M0 177v1M0 193v1M0 196v1M0 257v2M0 260v1M0 268v1M0 277v1M1 36v3M1 42v2M1 125v1M1 151v1M1 154v1M1 156v1M1 158v1M1 160v2M1 164v1M1 166v1M1 177v1M1 179v1M1 192v1M1 257v2M1 267v2M1 279v1M2 36v1M2 38v2M2 125v1M2 143v3M2 151v1M2 154v3M2 158v1M2 160v2M2 164v5M2 177v1M2 192v1M2 258v2M2 267v1M2 277v1M2 279v1M3 36v1M3 38v1M3 42v1M3 45v1M3 154v1M3 158v4M3 163v1M3 168v1M3 177v1M3 192v1M3 257v2M3 261v1M3 263v1M3 267v1M3 277v1M3 279v1M4 36v2M4 42v1M4 143v2M4 148v1M4 154v3M4 158v4M4 166v2M4 177v1M4 187v1M4 192v1M4 259v1M5 3v1M5 8v2M5 12v2M5 19v2M5 22v1M5 65v1M5 81v1M5 83v1M5 111v1M5 114v1M5 130v1M5 194v2M5 200v2M5 208v1M5 218v1M5 223v1M5 229v1M5 232v2M5 235v2M5 239v1M5 243v1M5 245v2M5 252v1M5 254v1M5 270v1M5 272v1M5 279v1M6 4v1M6 8v1M6 15v1M6 17v2M6 20v1M6 24v1M6 26v1M6 62v2M6 65v2M6 69v2M6 73v2M6 77v4M6 84v2M6 92v1M6 98v1M6 104v1M6 109v2M6 131v1M6 145v1M6 148v1M6 152v1M6 158v1M6 160v1M6 162v1M6 198v1M6 208v1M6 229v1M6 232v4M6 239v1M6 241v1M6 244v1M6 248v2M6 254v2M6 258v1M6 263v1M6 267v1M6 272v1M6 277v1M6 279v1M7 1v3M7 5v1M7 9v1M7 50v1M7 116v1M7 121v1M7 126v1M7 128v1M7 132v1M7 140v1M7 142v1M7 190v1M7 206v1M7 215v1M7 245v2M7 248v1M7 252v2M7 258v1M7 266v2M7 279v1M8 4v1M8 12v1M8 17v1M8 20v1M8 25v1M8 63v1M8 65v2M8 74v3M8 79v2M8 83v4M8 91v1M8 95v2M8 99v4M8 105v4M8 113v1M8 115v1M8 118v2M8 129v1M8 133v1M8 135v1M8 145v1M8 152v1M8 157v1M8 164v2M8 198v1M8 206v1M8 208v1M8 211v1M8 214v1M8 220v3M8 228v1M8 233v2M8 237v2M8 242v1M8 248v2M8 255v1M8 262v1M8 266v1M8 269v1M8 274v1M8 279v1M9 0v1M9 4v1M9 11v1M9 13v1M9 16v3M9 20v1M9 89v1M9 95v2M9 99v1M9 103v4M9 112v1M9 115v1M9 120v1M9 129v1M9 207v1M9 217v2M9 223v1M9 227v1M9 233v1M9 244v1M9 248v2M9 252v1M9 255v1M9 257v1M9 271v1M9 277v1M9 279v1" stroke="#722"/>
<path d="M0 49v1M0 52v1M0 59v1M0 77v1M1 50v1M1 55v2M1 61v1M1 64v1M1 83v1M1 207v1M2 48v1M2 51v2M2 55v2M2 65v1M2 207v1M3 49v1M3 55v1M3 57v2M3 65v1M3 77v1M3 129v1M3 207v1M4 51v2M4 54v1M4 56v1M4 58v1M4 61v1M4 64v2M4 173v1M4 207v1M5 150v3M5 260v1M6 49v1M7 47v1M7 59v1M7 173v1M8 57v1M8 173v1M9 57v1M9 150v2M9 173v1" stroke="#222"/>
<path d="M0 146v1M0 269v1M0 271v1M0 274v1M0 278v1M1 145v1M1 152v1M1 266v1M1 273v2M1 276v1M2 152v1M2 262v1M2 276v1M3 259v1M3 269v1M3 271v1M3 273v1M4 162v1M4 262v1M4 264v1M4 266v1M4 270v1M4 278v1M5 1v1M5 93v1M5 107v1M5 115v1M5 184v1M5 187v2M5 190v2M5 197v1M5 202v1M5 206v1M5 209v1M5 215v1M5 221v1M5 224v1M5 230v1M5 253v1M5 256v1M6 3v1M6 9v1M6 81v1M6 118v1M6 135v1M6 182v1M6 201v1M6 209v1M6 211v1M6 216v1M6 220v1M6 230v1M6 238v1M6 252v1M6 264v1M6 271v1M6 274v1M7 123v1M7 177v1M7 184v2M7 188v1M7 193v1M7 200v1M7 263v2M7 269v1M7 271v1M8 5v1M8 72v1M8 110v1M8 122v1M8 128v1M8 132v1M8 177v1M8 181v1M8 196v2M8 199v1M8 205v1M8 209v1M9 5v1M9 9v1M9 87v1M9 108v1M9 110v1M9 119v1M9 126v1M9 133v1M9 189v1M9 204v1M9 215v1M9 221v2M9 237v1M9 259v1M9 263v1M9 268v1M9 274v1" stroke="#922"/>
<path d="M0 153v1M0 162v1M1 157v1M3 153v1M3 157v1M3 162v1M4 146v1M4 157v1M5 86v3M5 98v1M5 102v1M5 109v2M5 113v1M5 179v1M5 216v1M5 278v1M6 116v1M6 119v1M6 122v1M6 124v1M6 126v1M6 128v1M6 132v1M6 136v1M6 177v1M6 183v2M6 188v1M6 190v4M6 251v1M6 276v1M6 278v1M7 273v1M7 278v1M8 123v1M8 180v1M8 184v1M8 187v2M8 192v1M8 202v1M8 275v1M8 278v1M9 125v1M9 128v1M9 130v1M9 134v1M9 177v1M9 181v1M9 183v2M9 186v1M9 190v2M9 195v3M9 199v1M9 202v1M9 205v2M9 210v1M9 250v2M9 276v1M9 278v1" stroke="#a32"/>
<path d="M0 157v1M0 270v1M0 272v1M0 276v1M1 146v1M1 153v1M1 162v1M1 264v2M1 269v1M1 271v1M1 275v1M1 278v1M2 146v1M2 162v1M2 274v1M3 146v1M3 152v1M3 264v1M3 274v3M4 153v1M4 265v1M4 271v1M4 274v2M5 89v1M5 91v1M5 95v3M5 99v2M5 104v1M5 106v1M5 180v1M5 192v2M5 205v1M5 220v1M5 240v1M5 250v1M5 273v1M5 276v1M6 67v1M6 72v1M6 120v2M6 133v1M6 178v1M6 180v2M6 189v1M6 195v3M6 199v2M6 202v1M6 204v2M6 212v1M6 215v1M6 224v1M6 240v1M6 250v1M6 265v1M7 180v1M7 192v1M7 262v1M7 268v1M7 274v1M8 1v1M8 67v1M8 81v1M8 127v1M8 130v1M8 134v1M8 182v2M8 190v1M8 193v1M8 195v1M8 200v1M8 247v1M8 250v2M8 264v2M8 271v1M8 273v1M9 1v3M9 109v1M9 116v1M9 124v1M9 127v1M9 132v1M9 136v1M9 178v1M9 182v1M9 185v1M9 194v1M9 200v2M9 209v1M9 211v1M9 213v2M9 216v1M9 220v1M9 224v1M9 230v1M9 240v1M9 242v1M9 247v1M9 264v3M9 273v1" stroke="#932"/>
<path d="M5 92v1M6 123v1M6 127v1M6 130v1M6 134v1M6 179v1M6 185v1M6 187v1M7 179v1M7 265v1M7 276v1M8 125v1M8 191v1M8 276v1M9 123v1M9 179v2M9 187v2M9 192v2M9 212v1M9 275v1" stroke="#b32"/>
<path d="M6 125v1" stroke="#c32"/>
<path d="M7 141v1" stroke="#d63"/>
<path d="M7 275v1" stroke="#e73"/>
<path d="M7 277v1" stroke="#e63"/>
<path d="M8 179v1" stroke="#c42"/>
</g>
<rect x="139" y="1311.7" width="80.95" height="9.2" fill="#33399f"/>
<rect x="219.95" y="1311.7" width="80.95" height="9.2" fill="#c7455f"/>
<text transform="translate(149.5 1325.4) rotate(-90)" text-anchor="end" font-size="12" fill="#111" stroke="#111">2000639N</text>
<text transform="translate(165.94 1325.4) rotate(-90)" text-anchor="end" font-size="12" fill="#111" stroke="#111">2000721N</text>
<text transform="translate(182.38 1325.4) rotate(-90)" text-anchor="end" font-size="12" fill="#111" stroke="#111">2000986N</text>
<text transform="translate(198.82 1325.4) rotate(-90)" text-anchor="end" font-size="12" fill="#111" stroke="#111">980437N</text>
<text transform="translate(215.26 1325.4) rotate(-90)" text-anchor="end" font-size="12" fill="#111" stroke="#111">980097N</text>
<text transform="translate(231.7 1325.4) rotate(-90)" text-anchor="end" font-size="12" fill="#111" stroke="#111">2000639C</text>
<text transform="translate(248.14 1325.4) rotate(-90)" text-anchor="end" font-size="12" fill="#111" stroke="#111">2000721C</text>
<text transform="translate(264.58 1325.4) rotate(-90)" text-anchor="end" font-size="12" fill="#111" stroke="#111">2000986C</text>
<text transform="translate(281.02 1325.4) rotate(-90)" text-anchor="end" font-size="12" fill="#111" stroke="#111">980437C</text>
<text transform="translate(297.46 1325.4) rotate(-90)" text-anchor="end" font-size="12" fill="#111" stroke="#111">980097C</text>
<rect x="306" y="1311.7" width="80.4" height="9.2" fill="#33399f"/>
<rect x="386.4" y="1311.7" width="80.4" height="9.2" fill="#c7455f"/>
<text transform="translate(317.1 1325.4) rotate(-90)" text-anchor="end" font-size="12" fill="#111" stroke="#111">2000639N</text>
<text transform="translate(333.43 1325.4) rotate(-90)" text-anchor="end" font-size="12" fill="#111" stroke="#111">2000721N</text>
<text transform="translate(349.76 1325.4) rotate(-90)" text-anchor="end" font-size="12" fill="#111" stroke="#111">2000986N</text>
<text transform="translate(366.09 1325.4) rotate(-90)" text-anchor="end" font-size="12" fill="#111" stroke="#111">980437N</text>
<text transform="translate(382.42 1325.4) rotate(-90)" text-anchor="end" font-size="12" fill="#111" stroke="#111">980097N</text>
<text transform="translate(398.75 1325.4) rotate(-90)" text-anchor="end" font-size="12" fill="#111" stroke="#111">2000639C</text>
<text transform="translate(415.08 1325.4) rotate(-90)" text-anchor="end" font-size="12" fill="#111" stroke="#111">2000721C</text>
<text transform="translate(431.41 1325.4) rotate(-90)" text-anchor="end" font-size="12" fill="#111" stroke="#111">2000986C</text>
<text transform="translate(447.74 1325.4) rotate(-90)" text-anchor="end" font-size="12" fill="#111" stroke="#111">980437C</text>
<text transform="translate(464.07 1325.4) rotate(-90)" text-anchor="end" font-size="12" fill="#111" stroke="#111">980097C</text>
<path d="M128.33 803.06H124.49V803.73H128.55M124.49 803.4H123.45V804.53H130.07M129.01 805.25H123.98V806.03H128.49M123.45 803.96H123.06V805.64H123.98M130.56 802.44H121.17V804.8H123.06M128.58 807.88H123.79V808.63H128.62M123.79 808.25H122.28V809.38H129.15M128.63 806.93H120.88V808.82H122.28M121.17 803.62H118.89V807.87H120.88M129.18 811.37H121.84V812.24H128.78M129.47 810.78H120.91V811.81H121.84M128.57 810.15H120.21V811.3H120.91M129.28 813.17H121.04V814.11H127.92M130.52 815.3H122.44V816.06H129.67M122.44 815.68H120.88V816.65H128.5M121.04 813.64H120.12V816.17H120.88M120.21 810.72H117.69V814.91H120.12M118.89 805.75H116.09V812.81H117.69M128.36 817.46H122.76V818.36H128.41M122.76 817.91H121.88V819.2H129.08M128.6 819.95H122.63V820.66H130.16M121.88 818.56H121.14V820.31H122.63M129.77 821.18H121.51V822.07H129.8M129.24 823.12H122.69V823.99H130.23M121.51 821.63H120.95V823.55H122.69M121.14 819.43H120.04V822.59H120.95M129.23 827.05H124.72V827.71H128.45M128.6 826.39H124.44V827.38H124.72M124.44 826.88H123.59V828.52H128.43M130.31 825.73H122.11V827.7H123.59M128.19 824.94H121.16V826.72H122.11M120.04 821.01H118.33V825.83H121.16M130.26 829.24H123.85V829.98H129.28M123.85 829.61H122.28V830.9H128.85M129.05 832.42H123.14V833.11H128.4M129.38 831.65H121.74V832.76H123.14M122.28 830.25H121.02V832.21H121.74M129.04 834.53H123.72V835.36H130.16M130.1 833.84H122.12V834.95H123.72M121.02 831.23H120.13V834.39H122.12M118.33 823.42H117.43V832.81H120.13M116.09 809.28H114.26V828.12H117.43M130.5 836.73H122.01V837.56H129.54M130.3 836.14H120.81V837.14H122.01M128.4 838.5H121.84V839.41H129.96M121.84 838.95H120.44V840.08H130.37M120.81 836.64H119.56V839.51H120.44M129.03 841.38H122.78V842.27H127.89M129.99 840.57H121.93V841.82H122.78M127.87 843.29H123.96V844.16H128.76M129.46 842.77H122.51V843.73H123.96M129.64 845.01H123.2V845.71H128.41M123.2 845.36H122.76V846.4H130.47M122.51 843.25H121.67V845.88H122.76M121.93 841.2H119.48V844.56H121.67M119.56 838.08H116.53V842.88H119.48M129.1 846.84H122.96V847.54H128.93M128.62 849.07H123.54V850.02H128.24M129.86 848.29H121.99V849.55H123.54M130.63 850.78H123.36V851.5H128.18M123.36 851.14H122.59V852.27H128.07M121.99 848.92H121.09V851.7H122.59M122.96 847.19H119.35V850.31H121.09M130.24 853.22H123.12V853.96H128.98M123.12 853.59H121.82V854.65H129.24M128.58 855.52H122.88V856.45H129.87M121.82 854.12H120.78V855.99H122.88M119.35 848.75H117.48V855.05H120.78M116.53 840.48H115.23V851.9H117.48M114.26 818.7H111.8V846.19H115.23M129.62 857.56H122.65V858.67H130.46M128.79 859.45H122.77V860.11H127.64M122.65 858.11H121.27V859.78H122.77M130.26 861.8H122.69V862.58H130.49M122.69 862.19H121.39V863.45H128.11M128.25 861.09H120.53V862.82H121.39M121.27 858.95H118.82V861.95H120.53M127.55 864.32H121.88V865.34H129.2M130.29 866.14H124.66V866.81H127.73M124.66 866.48H123.52V867.23H129.92M128.85 868.2H124.26V869.08H127.84M129.31 867.52H123.44V868.64H124.26M123.52 866.85H122.31V868.08H123.44M129.63 869.93H122.18V870.74H128.4M122.31 867.47H120.29V870.34H122.18M128.64 872.11H123.57V872.79H128.54M130.1 871.42H122.56V872.45H123.57M120.29 868.9H119.03V871.93H122.56M121.88 864.83H117.01V870.42H119.03M118.82 860.45H115.2V867.62H117.01M129.27 874.7H124.51V875.39H128.62M128.24 873.98H124.01V875.04H124.51M127.83 873.4H123.53V874.51H124.01M129.45 875.87H123.28V876.52H128.76M123.53 873.96H121.91V876.19H123.28M121.91 875.08H119.8V877.58H127.95M128.71 879.42H122.87V880.31H129M129.41 878.55H121.96V879.87H122.87M121.96 879.21H121.28V881.11H129.72M129.41 883.37H124.81V884.07H129.27M129.87 882.79H124.33V883.72H124.81M124.33 883.25H123.49V884.79H129.02M128.15 882.08H122.24V884.02H123.49M128.72 886.57H123.58V887.57H127.84M129.61 885.62H122.49V887.07H123.58M122.24 883.05H120.13V886.35H122.49M121.28 880.16H118.15V884.7H120.13M119.8 876.33H116.91V882.43H118.15M115.2 864.04H112.2V879.38H116.91M111.8 832.44H107.6V871.71H112.2M128.84 888.33H123.57V889.21H129.17M127.93 891.09H124.61V891.87H129.14M124.61 891.48H124.02V892.4H127.73M128.83 890.13H122.75V891.94H124.02M123.57 888.77H122.22V891.03H122.75M130.07 893.33H124.82V894.19H130.03M127.87 894.6H124.82V895.27H129.38M128.12 897.07H125.2V897.84H128.58M129.05 896.15H124.96V897.45H125.2M124.82 894.93H124.26V896.8H124.96M130.61 898.57H125.37V899.29H128.35M129.21 900.11H124.86V901.32H128.72M125.37 898.93H124.43V900.71H124.86M124.26 895.87H123.3V899.82H124.43M124.82 893.76H122.6V897.85H123.3M127.75 902.23H124.72V902.89H130.56M128.87 903.79H124.53V904.98H129.37M124.53 904.39H124.24V906.18H130.34M124.72 902.56H123.1V905.28H124.24M122.6 895.8H121.96V903.92H123.1M122.22 889.9H120.03V899.86H121.96M127.56 909.71H125.1V910.46H130.11M129.89 909.16H124.15V910.08H125.1M128.74 908.43H122.98V909.62H124.15M130.31 907.36H121.33V909.03H122.98M127.78 911.46H124.02V912.27H127.85M124.02 911.87H123V913.1H129.53M130.54 913.86H123.19V914.54H127.94M123 912.48H121.14V914.2H123.19M121.33 908.2H120.48V913.34H121.14M120.03 894.88H117.6V910.77H120.48M107.6 852.08H106V902.83H117.6M127.89 915.35H120.23V916.07H130.35M128.17 916.82H121.14V917.6H129.45M121.14 917.21H119.2V918.33H127.81M120.23 915.71H117.44V917.77H119.2M129.83 920.03H120.3V920.8H128.33M129.36 921.89H120.5V922.61H130.26M120.3 920.42H119.45V922.25H120.5M129.06 919.23H117.74V921.33H119.45M117.44 916.74H115.49V920.28H117.74M128.94 922.97H123.73V923.67H127.97M123.73 923.32H122.81V924.43H130.63M122.81 923.87H121.3V925.26H129.52M129.66 926.12H122.61V926.92H128.91M121.3 924.57H120.49V926.52H122.61M130.13 927.96H120.68V928.77H128.42M129.73 929.47H122.06V930.3H127.77M120.68 928.36H119.99V929.88H122.06M120.49 925.55H117.77V929.12H119.99M127.7 931.44H120.87V932.24H129.76M128.97 933.29H122.35V933.95H127.82M130.46 932.89H121.21V933.62H122.35M129.99 932.57H120.49V933.26H121.21M120.87 931.84H118.63V932.91H120.49M130.28 935.49H122.09V936.29H129.74M128.16 934.63H120.85V935.89H122.09M120.85 935.26H119.01V936.99H127.72M118.63 932.38H117.49V936.12H119.01M117.77 927.33H115.74V934.25H117.49M128.44 937.87H121.06V938.76H130.29M128.56 939.49H121.01V940.2H129.36M121.06 938.31H119.43V939.85H121.01M128.41 940.99H122.26V941.96H128.11M122.26 941.48H120.14V942.81H130.5M119.43 939.08H118.21V942.14H120.14M128.53 943.55H122.6V944.45H129.67M122.6 944H121.31V945H129.99M118.21 940.61H116.79V944.5H121.31M128.71 945.44H122.48V946.27H129.53M129.38 947.11H122.2V947.97H129.89M128.84 948.67H122.93V949.43H128.96M122.2 947.54H121.64V949.05H122.93M122.48 945.85H119.69V948.29H121.64M128.97 950.59H123.03V951.49H129.45M123.03 951.04H121.95V952.05H129.4M119.69 947.07H118.66V951.54H121.95M116.79 942.56H114.74V949.31H118.66M115.74 930.79H110.87V945.93H114.74M128.73 952.68H120.87V953.5H129.93M128.53 955.16H123.61V955.86H128.29M123.61 955.51H123.17V956.68H129.65M123.17 956.1H121.79V957.72H129.92M128.79 954.37H119.41V956.91H121.79M120.87 953.09H116.35V955.64H119.41M128.84 958.92H119.66V960.05H127.83M128.04 961.09H122.7V961.89H128.84M122.7 961.49H121.17V962.47H128.89M128.51 963.67H122.48V964.44H130.2M129.02 963.1H120.52V964.05H122.48M121.17 961.98H119.57V963.58H120.52M119.66 959.49H116.2V962.78H119.57M116.35 954.37H112.27V961.13H116.2M110.87 938.36H107.31V957.75H112.27M115.49 918.51H105.1V948.06H107.31M106 877.45H101.3V933.28H105.1M128.22 966.9H123.93V967.6H128.4M130.12 966.23H123.09V967.25H123.93M130.48 965.51H121.37V966.74H123.09M127.89 968.36H122.84V969.1H127.7M128.05 969.62H123.16V970.36H128.9M122.84 968.73H121.86V969.99H123.16M121.37 966.13H120.06V969.36H121.86M129.45 971.84H123.71V972.56H130.17M123.71 972.2H122.35V973.31H128.06M130.41 971.07H120.76V972.75H122.35M120.06 967.74H118.59V971.91H120.76M128.47 975.47H123.54V976.26H128.57M129.58 974.59H122.24V975.86H123.54M129.45 974.03H120.89V975.23H122.24M120.89 974.63H118.57V976.97H129.43M129.5 979.46H122.95V980.12H129.93M127.6 978.89H121.24V979.79H122.95M128.15 978.03H120.56V979.34H121.24M118.57 975.8H117.79V978.69H120.56M129.67 981.28H121.99V981.96H127.51M129.8 980.77H121.38V981.62H121.99M129.03 982.75H122.66V983.52H130.14M121.38 981.2H120.58V983.13H122.66M128.18 984.45H120.16V985.52H130.15M120.58 982.17H118.12V984.98H120.16M117.79 977.24H116.74V983.57H118.12M118.59 969.83H114.12V980.41H116.74M127.75 987.6H122.43V988.45H128.09M129.44 986.58H121.77V988.03H122.43M130.38 990.09H124.02V990.96H128.07M128.78 992.7H124.66V993.39H130.31M130.47 991.96H124.26V993.05H124.66M127.64 994.13H123.66V994.9H129.09M124.26 992.5H122.99V994.51H123.66M124.02 990.53H122V993.51H122.99M129.56 989.26H120.34V992.02H122M129.63 995.88H122.34V996.92H128.01M120.34 990.64H119.61V996.4H122.34M121.77 987.31H117.67V993.52H119.61M129.55 997.99H122.53V998.72H129.2M130.62 999.24H123.86V999.89H129.14M123.86 999.56H123.46V1000.34H129.88M128.52 1000.99H123.36V1001.69H129.93M123.46 999.95H121.97V1001.34H123.36M122.53 998.36H121.17V1000.65H121.97M127.5 1002.44H123.1V1003.2H127.88M123.1 1002.82H122.06V1004.06H127.97M127.83 1005.27H122.29V1006.28H129.26M122.06 1003.44H120.35V1005.77H122.29M121.17 999.5H118.88V1004.61H120.35M128.47 1007.1H123.55V1007.93H128.97M123.55 1007.51H123.03V1008.76H130.36M123.03 1008.14H122.58V1009.48H130.36M129.74 1011.87H123.91V1012.53H127.58M129.46 1011.19H123.1V1012.2H123.91M128.47 1010.26H122.44V1011.7H123.1M127.77 1013.39H123.67V1014.08H130.3M123.67 1013.74H123.24V1014.65H129.32M122.44 1010.98H121.96V1014.2H123.24M122.58 1008.81H119.94V1012.59H121.96M118.88 1002.05H117.3V1010.7H119.94M117.67 990.41H114.49V1006.38H117.3M114.12 975.12H111.8V998.39H114.49M101.3 905.37H99.7V986.76H111.8M128.59 1017.92H120.73V1018.72H128.04M129.12 1016.74H119.48V1018.32H120.73M130.59 1015.55H117.1V1017.53H119.48M128.8 1022.26H122.08V1023H128.38M128.66 1021.42H120.62V1022.63H122.08M130.37 1020.52H118.83V1022.02H120.62M129.38 1019.61H117.48V1021.27H118.83M117.1 1016.54H114.14V1020.44H117.48M129.38 1024.5H120.74V1025.34H127.83M120.74 1024.92H119.01V1026.04H129.88M128.45 1023.79H117.32V1025.48H119.01M128.5 1026.81H118.93V1027.7H129.7M128.75 1028.59H119.92V1029.55H128.93M118.93 1027.25H117.32V1029.07H119.92M127.62 1031.76H120.49V1032.79H129.39M127.83 1030.58H118.62V1032.28H120.49M127.71 1033.82H120.32V1035.11H128.39M120.32 1034.47H118.94V1036.32H129.47M118.62 1031.43H116.39V1035.39H118.94M117.32 1028.16H114.55V1033.41H116.39M117.32 1024.63H111.57V1030.79H114.55M114.14 1018.49H109.23V1027.71H111.57M129.33 1038.01H120.44V1038.75H128.45M129.14 1037.2H118.04V1038.38H120.44M130.53 1039.55H121.52V1040.66H127.88M130.04 1041.48H121.47V1042.31H129.18M121.52 1040.11H120.07V1041.9H121.47M130.28 1043.1H123.63V1043.75H129.64M123.63 1043.42H122.56V1044.5H128.34M129.36 1045.08H121.99V1045.81H127.97M122.56 1043.96H120.75V1045.44H121.99M120.75 1044.7H118.62V1046.93H128.14M120.07 1041H117.7V1045.82H118.62M129.05 1048.18H119.31V1049.13H128.92M117.7 1043.41H113.58V1048.65H119.31M118.04 1037.79H108.95V1046.03H113.58M109.23 1023.1H102.58V1041.91H108.95M130.58 1050.29H122.58V1051.27H128.06M122.58 1050.78H120.93V1052.23H128.12M129.71 1049.72H119.11V1051.51H120.93M119.11 1050.61H118.08V1052.85H129.8M129.04 1054.18H121.26V1055.1H130.04M128.64 1053.47H120.44V1054.64H121.26M120.44 1054.06H119.67V1055.93H127.67M128.34 1056.64H118.75V1057.46H130.2M130.22 1059.21H122.61V1059.87H127.89M129.34 1058.7H120.52V1059.54H122.61M120.52 1059.12H119.24V1060.58H128.58M128.96 1058.2H117.42V1059.85H119.24M118.75 1057.05H116.4V1059.03H117.42M119.67 1054.99H115.34V1058.04H116.4M118.08 1051.73H112.02V1056.52H115.34M102.58 1032.51H100V1054.12H112.02M99.7 946.06H93V1043.31H100M129.09 1062.29H120.78V1063.07H128.34M130.02 1061.86H119.49V1062.68H120.78M119.49 1062.27H117.96V1064.02H128.01M127.91 1061.3H116.7V1063.14H117.96M129.07 1065.56H120.7V1066.34H128.12M120.7 1065.95H119.34V1067.3H128.89M129.1 1064.84H116.4V1066.63H119.34M116.7 1062.22H113.22V1065.73H116.4M128.07 1068H119.25V1068.76H130.36M129.95 1069.99H119.81V1070.68H130.59M128.8 1069.56H118.07V1070.34H119.81M119.25 1068.38H116.46V1069.95H118.07M130.62 1071.73H119.58V1072.49H130.41M130.41 1073.15H118.25V1073.81H128.11M119.58 1072.11H116.22V1073.48H118.25M116.46 1069.16H111.78V1072.8H116.22M113.22 1063.98H109.52V1070.98H111.78M128.21 1074.5H121.78V1075.35H127.77M128.73 1076.3H121.48V1077.11H128.07M121.78 1074.93H120.12V1076.71H121.48M127.74 1077.8H119.47V1078.65H130.48M120.12 1075.82H116.99V1078.22H119.47M116.99 1077.02H114.27V1079.69H129.52M130.18 1081.45H122.87V1082.1H128.27M128.54 1080.67H121.14V1081.78H122.87M121.14 1081.22H118.78V1082.93H128.46M128.57 1084.3H120.47V1085.15H130.24M129.74 1083.77H118.84V1084.73H120.47M118.78 1082.08H116V1084.25H118.84M114.27 1078.36H112.64V1083.16H116M128.13 1086.46H121.38V1087.14H127.94M121.38 1086.8H120.49V1087.7H129.85M120.49 1087.25H119.7V1088.25H130.07M128.57 1085.95H118.43V1087.75H119.7M118.43 1086.85H117.36V1089H128.45M117.36 1087.93H116.05V1089.98H128.71M112.64 1080.76H110.14V1088.95H116.05M109.52 1067.48H107.09V1084.86H110.14M130.63 1090.78H117.44V1091.56H129.93M117.44 1091.17H116.45V1092.66H129.42M128.81 1095.02H122.71V1095.67H128.27M122.71 1095.34H121.01V1096.57H129.48M127.99 1094.43H120V1095.96H121.01M129.96 1093.63H118.78V1095.19H120M127.73 1097.39H118.38V1098.2H127.73M118.78 1094.41H115.26V1097.8H118.38M130.08 1098.96H115.66V1099.84H129.52M115.66 1099.4H114.49V1100.94H128.58M115.26 1096.11H110.98V1100.17H114.49M116.45 1091.92H108.41V1098.14H110.98M128.58 1103.83H121.98V1104.51H129.46M130.57 1102.93H119.74V1104.17H121.98M127.64 1101.89H117.04V1103.55H119.74M130.04 1105.17H122.84V1106.01H128.11M122.84 1105.59H121.38V1107.16H129.51M121.38 1106.38H119.57V1108.14H128.45M130.58 1108.94H119.3V1109.75H129.99M119.57 1107.26H116.7V1109.34H119.3M130.19 1110.42H118.77V1111.11H129.72M116.7 1108.3H113.62V1110.76H118.77M117.04 1102.72H111.02V1109.53H113.62M127.74 1112.94H121.26V1113.76H129.5M121.26 1113.35H119.42V1114.43H129.75M127.58 1112.02H117.99V1113.89H119.42M117.99 1112.96H114.75V1115.23H128.67M127.66 1116.11H117.7V1116.86H130.47M129.93 1119.12H121.09V1119.93H128.85M129.65 1118.38H118.86V1119.53H121.09M127.61 1117.73H115.29V1118.95H118.86M117.7 1116.49H113.53V1118.34H115.29M114.75 1114.09H111.34V1117.41H113.53M129.66 1120.7H120.49V1121.5H129.54M120.49 1121.1H117.74V1121.99H130.45M129.94 1122.72H119.46V1123.74H130.3M130.46 1124.85H118.22V1125.73H129.77M119.46 1123.23H117.1V1125.29H118.22M117.74 1121.55H114.97V1124.26H117.1M111.34 1115.75H109.25V1122.9H114.97M111.02 1106.13H105.9V1119.33H109.25M108.41 1095.03H102.17V1112.73H105.9M107.09 1076.17H98.1V1103.88H102.17M93 994.69H90.1V1090.02H98.1M130.31 1126.64H118.79V1127.49H127.77M128.21 1128.1H119.3V1129.06H127.82M119.3 1128.58H118.34V1129.85H129.34M118.79 1127.06H115.67V1129.21H118.34M129.79 1131.32H119.86V1131.98H129.25M129.82 1130.65H117.93V1131.65H119.86M117.93 1131.15H114.17V1132.77H129.35M115.67 1128.14H111.86V1131.96H114.17M129.06 1133.39H118.83V1134.18H128.25M129.27 1134.7H121.15V1135.35H128.73M129.63 1136.62H122.35V1137.3H129.84M122.35 1136.96H121.66V1138.2H129.68M130.34 1136.11H120.38V1137.58H121.66M121.15 1135.03H117.45V1136.85H120.38M128.33 1139H121.5V1139.8H127.66M121.5 1139.4H120.47V1140.46H127.52M128.31 1140.98H119.73V1141.99H129.46M120.47 1139.93H118.37V1141.48H119.73M117.45 1135.94H115.19V1140.71H118.37M118.83 1133.78H112.27V1138.32H115.19M111.86 1130.05H109.18V1136.05H112.27M128.07 1144.54H123.71V1145.29H128.88M128.06 1144H122.87V1144.92H123.71M122.87 1144.46H121.37V1146.14H129.74M128.23 1143.2H119.54V1145.3H121.37M128.58 1147.02H121.63V1147.74H128.26M121.63 1147.38H120.36V1148.49H128.15M128.41 1150.5H121.61V1151.23H127.77M128.97 1149.58H120.48V1150.87H121.61M130.63 1152.82H121.26V1153.69H130.03M128.1 1152.04H120.25V1153.26H121.26M120.48 1150.23H119.26V1152.65H120.25M120.36 1147.93H118.24V1151.44H119.26M119.54 1144.25H115.56V1149.69H118.24M128.9 1154.47H123.08V1155.15H127.94M123.08 1154.81H121.23V1156.08H128.6M129.26 1156.89H121.39V1157.66H129.69M121.23 1155.44H119.77V1157.27H121.39M119.77 1156.36H118.97V1158.78H127.85M127.97 1160.69H123.04V1161.58H128.19M128.97 1159.77H121.6V1161.13H123.04M129.41 1163.28H123.43V1164.33H129.83M129.3 1165.14H124.27V1165.84H128.14M124.27 1165.49H123.86V1166.65H130.42M123.43 1163.8H122.35V1166.07H123.86M130.62 1162.36H121.8V1164.94H122.35M121.6 1160.45H119.83V1163.65H121.8M128.31 1167.67H122.31V1168.61H128.93M119.83 1162.05H118.71V1168.14H122.31M118.97 1157.57H116.14V1165.1H118.71M115.56 1146.97H113.5V1161.33H116.14M129.98 1169.81H122.71V1170.6H127.94M122.71 1170.21H122.13V1171.57H128.55M130.61 1169.21H121.49V1170.89H122.13M129.83 1173.4H123.18V1174.1H128.02M129.58 1172.5H122.13V1173.75H123.18M122.13 1173.12H120.08V1174.88H129.46M128.92 1175.74H123.91V1176.41H130.16M123.91 1176.08H123.25V1177.3H128.72M123.25 1176.69H122.45V1178.16H129.79M122.45 1177.43H120.49V1178.84H130.03M120.08 1174H119.07V1178.13H120.49M121.49 1170.05H117.41V1176.07H119.07M129.41 1179.46H121.69V1180.22H128.89M127.98 1182.02H121.6V1183H130.21M128.31 1181.1H120.91V1182.51H121.6M121.69 1179.84H119.44V1181.8H120.91M117.41 1173.06H116.48V1180.82H119.44M113.5 1154.15H109.97V1176.94H116.48M130.57 1185.76H122.57V1186.54H128.63M128.28 1184.92H121.54V1186.15H122.57M129.33 1188.1H122.38V1188.81H129.29M128.71 1187.29H120.87V1188.45H122.38M121.54 1185.54H119.63V1187.87H120.87M129.96 1183.95H117.99V1186.7H119.63M130.16 1189.33H120.86V1190.11H130.15M117.99 1185.32H116.35V1189.72H120.86M128.39 1190.81H121.24V1191.5H128.55M121.24 1191.15H119.21V1192.17H128.89M128.55 1192.75H120.67V1193.42H129.41M130.07 1194.25H121.74V1194.9H129.48M120.67 1193.09H120.01V1194.58H121.74M119.21 1191.66H117.44V1193.83H120.01M116.35 1187.52H113.98V1192.75H117.44M109.97 1165.54H103.74V1190.13H113.98M109.18 1133.05H98.7V1177.84H103.74M128.68 1197.04H120.66V1197.89H129.51M129.17 1196.17H118.6V1197.47H120.66M130.25 1195.35H117.21V1196.82H118.6M130.3 1198.83H121.06V1199.56H130.31M129.85 1198.53H119.24V1199.2H121.06M117.21 1196.09H115.03V1198.87H119.24M128.59 1201.15H119.54V1201.86H128.81M128.71 1200.5H116.2V1201.51H119.54M128.39 1202.92H121.32V1203.67H130.23M130.08 1202.4H119.3V1203.3H121.32M119.3 1202.85H117V1204.53H129.82M116.2 1201H114.17V1203.69H117M115.03 1197.48H111.58V1202.35H114.17M130.51 1205.62H119.91V1206.57H129.88M129.2 1207.32H122.97V1208.2H128.33M122.97 1207.76H121.12V1208.86H130.01M129.5 1209.58H121.37V1210.61H128.3M121.12 1208.31H119.26V1210.1H121.37M127.99 1211.74H119.88V1212.97H130.11M127.88 1213.95H121.18V1214.96H128.05M129.96 1215.97H120.25V1216.95H128.36M121.18 1214.45H119.03V1216.46H120.25M119.88 1212.35H117.6V1215.46H119.03M119.26 1209.2H115.3V1213.91H117.6M119.91 1206.1H112.59V1211.55H115.3M111.58 1199.91H108.72V1208.83H112.59M129.46 1218.8H122.64V1219.81H129.67M129.13 1217.92H120.78V1219.3H122.64M120.78 1218.61H119.16V1220.9H130.28M127.73 1222H122.17V1222.78H128.67M122.17 1222.39H120.28V1223.47H128.87M129.95 1224.92H120.01V1225.75H127.94M129.7 1224.29H118.87V1225.33H120.01M120.28 1222.93H117.16V1224.81H118.87M119.16 1219.75H115.5V1223.87H117.16M129.5 1228.11H121.69V1228.83H130.6M129.52 1227.6H119.67V1228.47H121.69M128.82 1226.85H118.33V1228.04H119.67M127.76 1229.82H121.71V1230.71H128.4M121.71 1230.27H119.96V1231.58H128.8M128.35 1232.62H119.29V1233.42H130.44M119.96 1230.92H117.02V1233.02H119.29M130.36 1234.29H120.33V1235.06H127.63M130.55 1235.49H119.38V1236.27H127.58M120.33 1234.68H118.47V1235.88H119.38M117.02 1231.97H114.17V1235.28H118.47M118.33 1227.44H111.89V1233.62H114.17M115.5 1221.81H109.89V1230.53H111.89M129.46 1237.41H119.04V1238.19H127.62M129.75 1238.56H116.88V1239.42H128.03M116.88 1238.99H115.8V1240.39H128.01M130.32 1241.58H120.54V1242.32H129.51M129.5 1240.9H118.89V1241.95H120.54M127.76 1243.59H121.55V1244.24H129.26M121.55 1243.91H120.55V1244.8H130.25M130.46 1242.92H117.95V1244.36H120.55M118.89 1241.42H117.08V1243.64H117.95M115.8 1239.69H112.81V1242.53H117.08M119.04 1237.8H110.89V1241.11H112.81M109.89 1226.17H103.79V1239.46H110.89M108.72 1204.37H101.4V1232.82H103.79M98.7 1155.44H92.4V1218.59H101.4M128.66 1245.64H113.33V1246.43H129.16M129.85 1246.76H115.25V1247.48H129.74M113.33 1246.04H111.91V1247.12H115.25M128.93 1248.38H115.63V1249.22H130.45M130.55 1250.27H116.58V1251.3H127.54M115.63 1248.8H114.07V1250.79H116.58M130.58 1252.85H117.57V1253.55H128.89M129.97 1252.36H115.65V1253.2H117.57M128.26 1251.93H114.36V1252.78H115.65M114.07 1249.79H110.67V1252.35H114.36M111.91 1246.58H106.06V1251.07H110.67M129.72 1254.65H117.06V1255.69H129.79M128.47 1256.73H118.45V1257.84H129.6M117.06 1255.17H115.8V1257.28H118.45M115.8 1256.23H112.89V1258.88H127.83M127.67 1259.87H119.28V1260.53H130.15M119.28 1260.2H117.1V1261.06H127.5M117.1 1260.63H114V1261.68H127.78M112.89 1257.55H108.96V1261.16H114M106.06 1248.83H103.9V1259.36H108.96M92.4 1187.02H85.7V1254.09H103.9M130.37 1262.32H119.98V1263H129.74M119.98 1262.66H117.27V1263.76H127.76M117.27 1263.21H114.34V1264.65H128.13M127.77 1265.52H116.14V1266.24H130.12M116.14 1265.88H114.25V1266.81H128.25M114.34 1263.93H111.32V1266.34H114.25M129.82 1267.28H120.52V1268.02H128.84M120.52 1267.65H119.09V1268.88H127.85M119.09 1268.27H116.27V1269.88H128.3M129.2 1270.92H118.18V1271.73H130.36M116.27 1269.07H112.88V1271.32H118.18M112.88 1270.2H110.42V1272.76H128.84M111.32 1265.14H104.5V1271.48H110.42M128.47 1274.52H119.94V1275.2H128.44M119.94 1274.86H119.25V1275.72H128.62M129.04 1276.39H121.03V1277.06H130.26M119.25 1275.29H118.04V1276.73H121.03M127.58 1277.73H119.74V1278.4H129.55M118.04 1276.01H116.41V1278.07H119.74M127.9 1273.78H114.52V1277.04H116.41M130.33 1279.66H118.63V1280.35H130.39M129.44 1278.9H116.55V1280H118.63M114.52 1275.41H112.69V1279.45H116.55M129.64 1280.98H117.12V1281.65H129.46M117.12 1281.31H115.45V1282.44H129.98M112.69 1277.43H108.87V1281.87H115.45M127.62 1283.41H116.07V1284.11H128.57M129.36 1284.55H115.43V1285.35H129.88M116.07 1283.76H112.95V1284.95H115.43M127.71 1286.47H115.87V1287.29H128.32M115.87 1286.88H114.36V1287.8H130.21M112.95 1284.36H111.48V1287.34H114.36M130.3 1288.57H118.32V1289.25H130.09M118.32 1288.91H115.6V1289.69H127.54M111.48 1285.85H110.04V1289.3H115.6M108.87 1279.65H103.3V1287.57H110.04M104.5 1268.31H99.5V1283.61H103.3M85.7 1220.55H82.2V1275.96H99.5M90.1 1042.35H65.1V1248.26H82.2M128.6 1293.02H108.66V1293.88H129.39M128.72 1292.41H106.68V1293.45H108.66M106.68 1292.93H104.38V1294.62H128.67M128.88 1291.64H100.1V1293.78H104.38M130.42 1290.54H96.3V1292.71H100.1M96.3 1291.62H91.76V1295.52H130.11M130.25 1297.32H104.89V1298.01H128.18M128.93 1296.67H101.05V1297.66H104.89M101.05 1297.16H93.56V1298.78H130M91.76 1293.57H80.9V1297.97H93.56M128.11 1299.28H108.48V1299.94H127.9M130.29 1300.59H106.46V1301.39H130.32M108.48 1299.61H99.9V1300.99H106.46M128.49 1302.49H100.23V1303.42H127.98M128.4 1305.22H106.9V1306.07H130.36M130.56 1304.22H102.94V1305.65H106.9M102.94 1304.93H96.05V1306.66H128.16M100.23 1302.96H93.28V1305.8H96.05M99.9 1300.3H85.7V1304.38H93.28M80.9 1295.77H70.7V1302.34H85.7M65.1 1145.31H38.6V1299.06H70.7" fill="none" stroke="#333" stroke-width="0.75"/>
<path d="M135.7 802.3H129.8H128.79v.9H128.85v.9H127.37v.9H127.7v.9H127.33v.9H127.42v.9H127.68v.9H126.69v.9H126.87v.9H126.2v.9H126.31v.9H125.66v.9H126.66v.9H127.85v.9H127.8v.9H125.21v.9H127.5v.9H125.08v.9H125.03v.9H128.27v.9H124.05v.9H128.58v.9H123.35v.9H128.82v.9H127.88v.9H127.74v.9H128.9v.9H127.58v.9H128.79v.9H126.92v.9H127.17v.9H126.51v.9H129v.9H127.75v.9H126.82v.9H126.73v.9H128.06v.9H125.8v.9H125.76v.9H127.3v.9H128v.9H125.83v.9H126.6v.9H125.6v.9H126.07v.9H126.37v.9H128.97v.9H127.68v.9H125.79v.9H124.61v.9H125.73v.9H124.29v.9H125v.9H123.52v.9H124.26v.9H125.83v.9H129.26v.9H129.32v.9H127.3v.9H127v.9H126.94v.9H128.61v.9H126.64v.9H128.3v.9H125.57v.9H125.93v.9H125.4v.9H125.6v.9H126.13v.9H124.29v.9H123.64v.9H126.57v.9H125.25v.9H128.07v.9H128.35v.9H128.17v.9H127.25v.9H128.35v.9H128.45v.9H127.24v.9H128.09v.9H126.56v.9H127.75v.9H126.19v.9H127.38v.9H125.96v.9H126.12v.9H126.02v.9H127.68v.9H127.88v.9H128.93v.9H127.64v.9H125.52v.9H128.43v.9H127.09v.9H125.48v.9H127.47v.9H126.32v.9H126.82v.9H124.54v.9H127.54v.9H123.08v.9H124.46v.9H128.24v.9H128.2v.9H127.4v.9H127.34v.9H127.29v.9H129.29v.9H127.41v.9H126.62v.9H127.05v.9H127.21v.9H126.75v.9H128.14v.9H126.29v.9H126.01v.9H128.61v.9H126.5v.9H126.11v.9H126.86v.9H125.57v.9H124.72v.9H124.6v.9H126.68v.9H127.54v.9H124.29v.9H125v.9H124.06v.9H123.77v.9H126.29v.9H124.59v.9H125.96v.9H128.05v.9H128.7v.9H128.09v.9H127.82v.9H128.48v.9H128.57v.9H127.7v.9H128.94v.9H127.43v.9H126.39v.9H126.46v.9H128.91v.9H126.17v.9H126.29v.9H126.17v.9H129.07v.9H125.77v.9H127.69v.9H125.37v.9H126.91v.9H126.62v.9H127.55v.9H124.61v.9H127.1v.9H124.3v.9H125.47v.9H127.41v.9H124.65v.9H125.05v.9H128.7v.9H123.6v.9H126.16v.9H127.96v.9H127.71v.9H128.06v.9H128.44v.9H127.25v.9H126.84v.9H126.3v.9H126.6v.9H126.09v.9H125.32v.9H127.35v.9H127.26v.9H125.39v.9H123.99v.9H127.86v.9H128.3v.9H127.76v.9H128.96v.9H128.1v.9H129.05v.9H127.02v.9H126.6v.9H127.05v.9H126.75v.9H127.56v.9H126.39v.9H128.64v.9H127.28v.9H127.25v.9H125.66v.9H127.88v.9H127.9v.9H128.33v.9H125.13v.9H126.86v.9H124.67v.9H126.69v.9H124.57v.9H127.21v.9H124.07v.9H123.7v.9H123.85v.9H124.39v.9H123.5v.9H123.28v.9H122.95v.9H127.86v.9H127.72v.9H128.27v.9H128.63v.9H126.85v.9H127.49v.9H127.17v.9H126.16v.9H126.94v.9H127.61v.9H125.97v.9H126.25v.9H127.13v.9H125.33v.9H124.45v.9H126.88v.9H124.27v.9H124.26v.9H125v.9H126.77v.9H128.69v.9H128.66v.9H127.54v.9H128.44v.9H128.95v.9H127.07v.9H126.66v.9H127.97v.9H127.58v.9H127.09v.9H126.47v.9H129.36v.9H126.43v.9H127.69v.9H125.42v.9H126.76v.9H125.05v.9H126.4v.9H125.56v.9H128.75v.9H127.28v.9H126.66v.9H126.19v.9H127.26v.9H125.72v.9H127.88v.9H124.81v.9H123.12v.9H123.34v.9H127.72v.9H127.85v.9H127.84v.9H128.01v.9H128.99v.9H126.96v.9H126.79v.9H126.78v.9H126.86v.9H126.44v.9H125.98v.9H125.77v.9H126.06v.9H129.23v.9H125.3v.9H126.18v.9H126.45v.9H126.41v.9H127.02v.9H128.78v.9H125.31v.9H125.17v.9H128.02v.9H123.8v.9H123.69v.9H123.65v.9H124.82v.9H125.47v.9H128.52v.9H127.55v.9H127.39v.9H127.22v.9H127.69v.9H127.56v.9H127.03v.9H127.9v.9H128.19v.9H125.88v.9H127.64v.9H127.53v.9H126.59v.9H128.38v.9H126.19v.9H127.72v.9H124.89v.9H128.2v.9H124.6v.9H126.68v.9H124.28v.9H124.05v.9H123.32v.9H126.94v.9H128.99v.9H128.47v.9H129.6v.9H128.03v.9H129.04v.9H127.72v.9H126.97v.9H127.08v.9H127.21v.9H128.79v.9H126.33v.9H127.61v.9H126.13v.9H128.31v.9H127.59v.9H125.72v.9H126.06v.9H127.87v.9H126.69v.9H126.31v.9H127.35v.9H127.45v.9H128.31v.9H126.02v.9H126.29v.9H126.5v.9H125.84v.9H126.35v.9H126.07v.9H124.44v.9H127.38v.9H127.82v.9H125.42v.9H126.2v.9H125.09v.9H123.34v.9H127.9v.9H127.65v.9H128.65v.9H128.31v.9H128.91v.9H128.29v.9H128.29v.9H128.28v.9H127.93v.9H126.52v.9H127.27v.9H126.32v.9H127.03v.9H126.38v.9H126.45v.9H126.54v.9H125.59v.9H126.31v.9H126.49v.9H127.5v.9H128.24v.9H126.46v.9H126.46v.9H127.86v.9H124.41v.9H129.05v.9H125.94v.9H126.84v.9H125.91v.9H124.1v.9H123.54v.9H125.68v.9H124.18v.9H123.37v.9H126.06v.9H128.42v.9H127.68v.9H128.4v.9H127.18v.9H128.51v.9H127.15v.9H127.08v.9H129.13v.9H127.59v.9H126.06v.9H127.07v.9H128.72v.9H126.54v.9H126.14v.9H126.24v.9H126.28v.9H124.34v.9H125v.9H125.75v.9H125.59v.9H124.08v.9H126.51v.9H124.96v.9H129.17v.9H128.93v.9H129.25v.9H127.68v.9H127.34v.9H127.43v.9H127.38v.9H129.22v.9H127.75v.9H127.38v.9H127.64v.9H127.86v.9H127.33v.9H127.79v.9H128.64v.9H126.38v.9H129.07v.9H126.6v.9H126.62v.9H125.14v.9H125.31v.9H126.07v.9H129.36v.9H124.88v.9H124.7v.9H124.89v.9H123.52v.9H125.26v.9H125.62v.9H124.83v.9H127.55v.9H129.04v.9H127.93v.9H127.88v.9H127.62v.9H128.59v.9H127.27v.9H126.71v.9H126.47v.9H126.7v.9H128.33v.9H126.37v.9H128.08v.9H125.59v.9H129v.9H129.2v.9H126.76v.9H128.41v.9H124.77v.9H124.65v.9H126.99v.9H124.49v.9H126.32v.9H124.32v.9H127.6v.9H123.58v.9H125.4v.9H126.51v.9H125.16v.9H129.39v.9H128.1v.9H127.61v.9H126.61v.9H127.22v.9H127.52v.9H127.6v.9H129.12v.9H124.98v.9H125.28v.9H126.83v.9H124.47v.9H124.4v.9H124.31v.9H127.84v.9H127.58v.9H127.61v.9H128.62v.9H127.83v.9H127.27v.9H126.52v.9H127.26v.9H127.18v.9H128.76v.9H128.74v.9H127.52v.9H126v.9H127.57v.9H125.43v.9H125.6v.9H126.88v.9H125.71v.9H124.44v.9H128.72v.9H124.82v.9H124.16v.9H123.2v.9H125.81v.9H127.91v.9H128.55v.9H127.64v.9H127.52v.9H127.06v.9H127.87v.9H128.75v.9H127.39v.9H126.9v.9H126.26v.9H126.42v.9H126.8v.9H125.88v.9H125.73v.9H126.21v.9H127.31v.9H129.31v.9H125.87v.9H129.19v.9H126.55v.9H124.17v.9H126.83v.9H124.8v.9H124.49v.9H126.17v.9H124.72v.9H123.46v.9H123.92v.9H127.71v.9H127.89v.9H128.54v.9H127.28v.9H127.11v.9H126.73v.9H126.59v.9H126.45v.9H127.31v.9H126.13v.9H125.9v.9H125.54v.9H127.51v.9H124.67v.9H125.7v.9H124.43v.9H125.58v.9H124.4v.9H124.87v.9H126.25v.9H125.03v.9H128.69v.9H127.63v.9H127.74v.9H127.52v.9H127.82v.9H127.38v.9H127.38v.9H127.75v.9H129.65v.9H135.7Z" fill="#5c5c5c"/>
<rect x="492.5" y="725.5" width="3.6" height="12.3" fill="#000"/>
<rect x="492.5" y="721.6" width="3.6" height="2.6" fill="#000"/>
<defs><linearGradient id="gi"><stop offset="0" stop-color="#2a2020"/><stop offset=".18" stop-color="#5a2a2e"/><stop offset=".32" stop-color="#8e3a40"/><stop offset=".55" stop-color="#c9474a"/><stop offset=".75" stop-color="#d98a3e"/><stop offset=".92" stop-color="#f0cc3a"/><stop offset="1" stop-color="#f4d83c"/></linearGradient></defs>
<rect x="494" y="744.6" width="75.2" height="21.8" fill="url(#gi)"/>
<text x="516.8" y="781" font-size="11" text-anchor="middle" fill="#111" stroke="#111">1</text>
<text x="540.5" y="781" font-size="11" text-anchor="middle" fill="#111" stroke="#111">2</text>
<text x="563.2" y="781" font-size="11" text-anchor="middle" fill="#111" stroke="#111">3</text>
<path d="M516.8 768.2V771.6M540.5 768.2V771.6M563.2 768.2V771.6" stroke="#111" stroke-width="1"/>
<text x="540.3" y="794.7" font-size="11.5" text-anchor="middle" fill="#111" stroke="#111">Value</text>
<rect x="584.1" y="742.8" width="327.8" height="24.6" fill="#a3ba72"/>
<text x="748" y="760" font-size="13" text-anchor="middle" fill="#111" stroke="#111">Predicted enhancers</text>
<rect x="584.1" y="772.8" width="161.6" height="24.8" fill="#a3ba72"/>
<text x="665" y="790.2" font-size="13" text-anchor="middle" fill="#111" stroke="#111">K4me1</text>
<rect x="750.6" y="772.8" width="161.3" height="24.8" fill="#e0a466"/>
<text x="831.3" y="790.2" font-size="13" text-anchor="middle" fill="#111" stroke="#111">K27ac</text>
<g transform="translate(592.18 802.3) scale(16.16 1.8032)" stroke-width="1.02" fill="none" shape-rendering="crispEdges">
<path d="M4.5 0V280" stroke="#822" stroke-width="10"/>
<path d="M0 0v1M0 3v2M0 6v1M0 8v2M0 11v3M0 22v2M0 26v2M0 30v1M0 32v2M0 36v1M0 39v1M0 41v2M0 48v1M0 52v1M0 58v1M0 76v1M0 84v1M0 87v1M0 98v1M0 101v1M0 104v1M0 109v1M0 112v1M0 115v1M0 119v1M0 123v1M0 138v1M0 145v1M0 147v3M0 151v1M0 153v1M0 158v2M0 161v1M0 165v1M0 167v1M0 171v1M0 175v1M0 178v1M0 180v1M0 182v1M0 190v1M0 192v1M0 207v1M0 210v1M0 212v1M0 216v5M0 225v3M0 229v1M0 234v1M0 237v3M0 242v2M0 246v1M0 248v1M0 252v2M0 255v1M0 257v1M0 259v1M0 267v1M1 1v1M1 6v3M1 10v3M1 22v3M1 26v2M1 30v2M1 33v1M1 35v1M1 39v1M1 49v2M1 52v1M1 58v1M1 61v1M1 64v2M1 67v2M1 71v1M1 73v3M1 97v1M1 101v1M1 104v1M1 107v2M1 119v1M1 122v1M1 131v1M1 138v1M1 144v2M1 147v3M1 151v1M1 155v5M1 162v1M1 165v1M1 178v1M1 180v1M1 186v1M1 190v1M1 196v1M1 208v4M1 216v1M1 218v1M1 220v1M1 222v1M1 225v2M1 232v2M1 235v1M1 238v1M1 240v4M1 248v1M1 257v1M1 259v1M2 1v2M2 4v1M2 7v3M2 11v1M2 13v1M2 23v1M2 26v1M2 29v3M2 34v1M2 37v1M2 39v1M2 41v3M2 45v1M2 52v1M2 64v1M2 67v1M2 74v1M2 77v2M2 82v1M2 84v1M2 98v2M2 101v1M2 107v1M2 109v1M2 116v1M2 122v2M2 131v1M2 138v1M2 146v1M2 148v1M2 151v1M2 159v1M2 167v1M2 180v1M2 182v1M2 186v1M2 197v1M2 208v3M2 216v1M2 219v3M2 234v2M2 237v1M2 242v1M2 248v1M2 250v2M2 257v2M3 0v1M3 4v1M3 8v1M3 13v1M3 22v3M3 26v1M3 30v2M3 37v1M3 39v1M3 43v3M3 50v1M3 56v1M3 71v2M3 74v2M3 78v1M3 84v1M3 98v1M3 136v1M3 138v1M3 143v1M3 147v1M3 149v4M3 162v1M3 165v1M3 180v2M3 186v1M3 190v1M3 196v1M3 207v3M3 216v1M3 218v3M3 225v1M3 231v1M3 254v1M3 258v2M4 31v1M4 35v1M4 42v1M4 45v1M4 61v1M4 71v1M4 73v2M4 76v1M4 78v1M4 84v1M4 111v1M4 116v1M4 122v1M4 146v2M4 153v1M4 158v1M4 161v1M4 180v1M4 186v1M4 190v1M4 197v1M4 208v2M4 211v1M4 218v1M4 221v2M4 225v1M4 227v2M4 230v1M4 256v1M4 258v1M5 0v1M5 5v1M5 7v3M5 11v2M5 18v1M5 25v3M5 29v1M5 33v2M5 51v1M5 53v1M5 55v1M5 59v1M5 62v3M5 93v2M5 96v1M5 102v1M5 105v2M5 128v1M5 131v1M5 136v3M5 140v1M5 142v1M5 144v1M5 154v1M5 157v2M5 162v1M5 164v2M5 167v1M5 173v1M5 175v1M5 185v1M5 198v1M5 217v1M5 223v2M5 226v6M5 242v1M6 0v2M6 3v1M6 5v1M6 7v2M6 10v2M6 14v1M6 18v2M6 23v1M6 25v1M6 28v1M6 47v1M6 53v1M6 62v2M6 65v1M6 74v1M6 82v1M6 86v1M6 88v1M6 90v1M6 94v1M6 97v1M6 99v1M6 102v1M6 104v2M6 107v1M6 110v2M6 113v1M6 118v1M6 131v1M6 136v2M6 139v1M6 141v2M6 154v2M6 157v2M6 163v2M6 168v1M6 170v1M6 172v1M6 177v4M6 184v1M6 197v3M6 202v1M6 204v1M6 211v2M6 214v4M6 220v2M6 223v1M6 226v3M6 230v2M6 236v2M6 247v1M6 249v1M6 255v1M7 1v1M7 3v1M7 6v1M7 8v2M7 11v2M7 18v2M7 25v1M7 29v1M7 32v1M7 49v1M7 51v1M7 54v2M7 64v2M7 67v1M7 69v3M7 74v2M7 77v1M7 86v1M7 88v1M7 90v1M7 93v1M7 96v1M7 99v1M7 102v1M7 104v1M7 108v1M7 111v1M7 118v1M7 120v2M7 123v1M7 128v1M7 130v2M7 136v1M7 138v2M7 141v1M7 146v1M7 154v2M7 157v2M7 162v1M7 164v1M7 167v2M7 171v2M7 175v1M7 177v1M7 179v2M7 183v1M7 188v2M7 191v1M7 197v1M7 205v1M7 211v2M7 214v3M7 220v2M7 223v2M7 227v1M7 230v1M7 233v1M7 237v1M7 244v2M7 247v1M7 249v1M7 255v1M7 258v1M7 260v1M8 0v1M8 3v1M8 7v1M8 9v4M8 14v1M8 18v2M8 23v1M8 25v2M8 28v2M8 34v1M8 49v1M8 51v1M8 66v2M8 71v4M8 76v1M8 85v1M8 90v1M8 93v2M8 117v1M8 124v1M8 126v1M8 131v1M8 136v2M8 139v1M8 141v2M8 144v2M8 149v1M8 158v1M8 160v1M8 162v1M8 165v1M8 167v1M8 171v1M8 175v1M8 198v1M8 200v1M8 226v3M8 236v1M8 257v1M9 0v2M9 4v1M9 7v1M9 9v3M9 18v1M9 21v1M9 27v3M9 33v3M9 38v1M9 55v1M9 58v1M9 63v1M9 67v1M9 71v5M9 90v2M9 114v1M9 128v1M9 130v2M9 137v1M9 144v1M9 146v1M9 149v1M9 151v1M9 156v3M9 160v1M9 163v2M9 171v3M9 175v1M9 177v2M9 180v2M9 187v2M9 195v1M9 198v2M9 202v1M9 212v1M9 223v1M9 229v1M9 233v1M9 236v1M9 264v1M9 267v1" stroke="#722"/>
<path d="M0 1v1M0 5v1M0 7v1M0 14v7M0 25v1M0 29v1M0 38v1M0 40v1M0 43v1M0 46v2M0 49v1M0 54v3M0 59v3M0 65v2M0 68v2M0 73v2M0 77v2M0 108v1M0 116v1M0 122v1M0 125v2M0 128v1M0 131v1M0 136v2M0 139v1M0 144v1M0 150v1M0 152v1M0 156v2M0 162v1M0 164v1M0 168v3M0 176v1M0 179v1M0 181v1M0 184v2M0 187v3M0 195v1M0 197v1M0 209v1M0 232v2M0 235v1M0 240v1M0 250v2M0 258v1M1 3v3M1 9v1M1 14v4M1 20v2M1 25v1M1 29v1M1 32v1M1 34v1M1 36v1M1 38v1M1 46v1M1 56v2M1 59v2M1 62v1M1 66v1M1 69v1M1 72v1M1 76v3M1 84v1M1 98v1M1 126v1M1 128v1M1 136v2M1 139v1M1 142v2M1 150v1M1 152v2M1 164v1M1 166v1M1 170v2M1 176v1M1 181v3M1 188v2M1 192v2M1 195v1M1 197v1M1 202v1M1 237v1M1 246v1M1 250v2M1 254v1M1 256v1M2 3v1M2 6v1M2 10v1M2 12v1M2 15v2M2 19v2M2 22v1M2 24v2M2 27v1M2 32v2M2 36v1M2 46v2M2 49v1M2 54v1M2 58v1M2 60v2M2 66v1M2 68v1M2 71v3M2 75v2M2 128v1M2 135v1M2 143v2M2 147v1M2 149v2M2 153v1M2 155v1M2 157v2M2 164v1M2 166v1M2 170v1M2 175v2M2 178v1M2 181v1M2 183v3M2 187v1M2 189v2M2 192v2M2 195v1M2 198v1M2 202v1M2 205v1M2 218v1M2 230v1M2 232v1M2 240v1M2 254v1M2 256v1M3 1v1M3 6v2M3 11v2M3 14v1M3 20v1M3 27v2M3 32v5M3 47v1M3 49v1M3 52v1M3 58v1M3 61v1M3 68v1M3 73v1M3 76v2M3 125v2M3 128v1M3 131v1M3 139v1M3 145v1M3 148v1M3 153v1M3 155v5M3 164v1M3 166v1M3 169v1M3 171v1M3 175v2M3 178v2M3 182v2M3 185v1M3 187v1M3 192v1M3 195v1M3 197v1M3 210v2M3 228v1M3 232v1M4 0v3M4 4v1M4 7v1M4 13v2M4 19v1M4 22v1M4 24v1M4 26v2M4 29v2M4 34v1M4 36v2M4 43v1M4 47v1M4 50v1M4 52v1M4 56v1M4 58v1M4 69v1M4 72v1M4 77v1M4 128v1M4 138v1M4 144v2M4 148v5M4 162v1M4 164v2M4 178v1M4 181v4M4 188v1M4 192v2M4 195v1M4 198v1M4 205v1M4 210v1M4 219v2M5 1v1M5 3v1M5 10v1M5 14v1M5 16v2M5 23v1M5 65v1M5 85v2M5 89v2M5 95v1M5 99v1M5 103v2M5 107v2M5 110v4M5 116v2M5 119v2M5 125v1M5 130v1M5 133v1M5 139v1M5 141v1M5 156v1M5 163v1M5 168v1M5 170v1M5 172v1M5 197v1M5 199v2M5 202v1M5 204v1M5 211v2M5 214v3M5 219v3M5 233v1M5 237v1M5 241v1M5 243v1M5 245v1M5 247v1M5 249v1M5 255v1M5 257v1M5 260v1M6 12v1M6 16v2M6 64v1M6 66v1M6 80v2M6 83v3M6 87v1M6 89v1M6 92v2M6 96v1M6 98v1M6 103v1M6 106v1M6 108v1M6 112v1M6 115v2M6 119v1M6 121v1M6 123v3M6 130v1M6 134v2M6 156v1M6 166v1M6 171v1M6 181v1M6 183v1M6 188v2M6 195v1M6 205v1M6 208v1M6 222v1M6 225v1M6 232v2M6 241v2M6 244v2M6 257v1M6 260v1M7 7v1M7 10v1M7 16v2M7 23v1M7 63v1M7 76v1M7 80v3M7 84v2M7 87v1M7 92v1M7 95v1M7 98v1M7 103v1M7 105v2M7 109v1M7 112v1M7 115v2M7 124v2M7 135v1M7 137v1M7 156v1M7 163v1M7 166v1M7 170v1M7 181v1M7 193v1M7 195v1M7 198v3M7 202v1M7 209v2M7 218v2M7 225v1M7 231v2M7 234v1M7 238v2M7 241v2M7 250v2M7 253v1M7 257v1M8 1v1M8 4v2M8 16v2M8 81v2M8 88v2M8 96v1M8 99v1M8 105v1M8 111v1M8 113v1M8 118v2M8 121v1M8 123v1M8 125v1M8 130v1M8 133v3M8 154v4M8 163v1M8 172v1M8 185v1M8 197v1M8 199v1M8 202v4M8 211v2M8 214v1M8 216v3M8 220v2M8 223v3M8 230v2M8 233v1M8 237v1M8 245v1M8 255v1M8 260v1M9 3v1M9 8v1M9 16v2M9 23v1M9 51v1M9 53v1M9 66v1M9 76v1M9 85v1M9 94v1M9 96v2M9 107v1M9 110v2M9 117v4M9 124v2M9 135v2M9 139v1M9 141v1M9 154v2M9 166v1M9 168v1M9 170v1M9 179v1M9 183v1M9 185v1M9 189v1M9 201v1M9 204v2M9 208v1M9 214v2M9 217v2M9 221v1M9 228v1M9 230v2M9 241v1M9 245v1M9 252v1M9 255v1M9 260v1" stroke="#622"/>
<path d="M0 2v1M0 24v1M0 31v1M0 34v2M0 37v1M0 44v2M0 50v1M0 64v1M0 70v2M0 75v1M0 79v2M0 82v2M0 86v1M0 88v1M0 90v1M0 92v4M0 97v1M0 99v2M0 103v1M0 106v1M0 110v2M0 113v1M0 118v1M0 120v1M0 143v1M0 146v1M0 186v1M0 196v1M0 208v1M0 211v1M0 213v1M0 215v1M0 221v1M0 223v2M0 228v1M0 230v1M0 244v2M0 247v1M0 249v1M0 260v1M0 269v1M0 272v1M0 274v1M1 0v1M1 2v1M1 13v1M1 19v1M1 37v1M1 41v4M1 70v1M1 82v1M1 87v4M1 92v1M1 95v1M1 99v1M1 109v1M1 111v1M1 113v1M1 115v3M1 120v1M1 123v1M1 146v1M1 161v1M1 167v1M1 175v1M1 207v1M1 212v2M1 217v1M1 219v1M1 221v1M1 224v1M1 228v3M1 234v1M1 239v1M1 245v1M1 247v1M1 249v1M1 252v2M1 255v1M1 260v1M1 267v1M1 269v1M1 274v1M2 0v1M2 35v1M2 50v1M2 70v1M2 80v1M2 87v2M2 90v1M2 92v1M2 95v1M2 97v1M2 102v1M2 104v1M2 106v1M2 108v1M2 111v1M2 115v1M2 117v1M2 119v2M2 145v1M2 161v1M2 165v1M2 196v1M2 207v1M2 211v3M2 217v1M2 222v8M2 231v1M2 233v1M2 238v2M2 241v1M2 243v1M2 246v2M2 249v1M2 252v2M2 259v2M3 41v2M3 67v1M3 70v1M3 79v1M3 86v2M3 99v1M3 101v1M3 109v1M3 112v1M3 116v1M3 119v1M3 122v1M3 146v1M3 161v1M3 212v2M3 215v1M3 217v1M3 221v4M3 226v2M3 229v2M3 238v1M3 240v1M3 248v1M3 256v1M3 267v1M4 41v1M4 44v1M4 68v1M4 70v1M4 75v1M4 79v1M4 87v1M4 90v1M4 98v1M4 101v1M4 104v1M4 108v1M4 113v1M4 119v1M4 123v1M4 167v1M4 175v1M4 196v1M4 207v1M4 212v2M4 215v3M4 223v2M4 226v1M4 229v1M4 231v1M4 254v1M4 259v1M5 2v1M5 4v1M5 15v1M5 19v3M5 28v1M5 35v4M5 40v1M5 46v4M5 58v1M5 60v2M5 71v2M5 74v1M5 76v1M5 91v1M5 126v1M5 143v1M5 145v3M5 149v5M5 155v1M5 159v3M5 169v1M5 174v1M5 193v1M5 236v1M5 252v1M5 262v1M5 268v2M5 278v1M6 4v1M6 6v1M6 9v1M6 20v2M6 26v1M6 29v1M6 33v2M6 37v1M6 46v1M6 48v2M6 51v1M6 54v2M6 67v1M6 71v1M6 75v3M6 91v1M6 114v1M6 117v1M6 120v1M6 126v1M6 128v1M6 138v1M6 140v1M6 144v4M6 149v1M6 160v3M6 165v1M6 167v1M6 174v3M6 182v1M6 186v2M6 191v1M6 194v1M6 200v1M6 224v1M6 252v1M6 262v1M6 264v1M6 267v1M6 269v1M6 278v1M7 0v1M7 4v2M7 13v2M7 20v3M7 26v1M7 28v1M7 33v3M7 40v1M7 43v1M7 46v1M7 48v1M7 52v2M7 56v1M7 60v1M7 62v1M7 68v1M7 72v2M7 89v1M7 91v1M7 94v1M7 97v1M7 107v1M7 110v1M7 113v2M7 117v1M7 126v1M7 140v1M7 142v1M7 144v2M7 147v1M7 149v3M7 153v1M7 159v2M7 165v1M7 169v1M7 173v2M7 178v1M7 182v1M7 184v1M7 186v2M7 196v1M7 217v1M7 226v1M7 228v1M7 252v1M7 262v1M7 267v3M7 272v1M8 2v1M8 8v1M8 13v1M8 20v2M8 27v1M8 32v2M8 35v1M8 38v1M8 40v1M8 47v2M8 53v1M8 55v1M8 58v1M8 60v4M8 65v1M8 69v1M8 75v1M8 77v1M8 91v1M8 114v1M8 120v1M8 128v1M8 138v1M8 140v1M8 146v3M8 150v2M8 153v1M8 159v1M8 161v1M8 173v1M8 177v1M8 183v1M8 189v1M8 191v1M8 193v1M8 195v1M8 229v1M8 263v2M8 267v2M8 272v1M9 5v1M9 12v1M9 14v1M9 19v2M9 25v1M9 31v2M9 37v1M9 39v2M9 46v4M9 54v1M9 56v1M9 59v1M9 62v1M9 64v2M9 68v3M9 77v1M9 126v1M9 138v1M9 140v1M9 142v1M9 145v1M9 147v1M9 150v1M9 159v1M9 161v2M9 167v1M9 174v1M9 176v1M9 182v1M9 184v1M9 192v1M9 194v1M9 196v1M9 200v1M9 224v1M9 226v1M9 262v1M9 268v2M9 272v3M9 278v2" stroke="#822"/>
<path d="M0 10v1M0 21v1M0 28v1M0 51v1M0 53v1M0 57v1M0 62v2M0 72v1M0 135v1M0 142v1M0 155v1M0 160v1M0 163v1M0 172v1M0 174v1M0 177v1M0 183v1M0 193v1M0 198v1M0 200v1M0 202v1M0 205v1M0 241v1M0 256v1M1 18v1M1 28v1M1 40v1M1 47v2M1 51v1M1 53v2M1 63v1M1 124v2M1 133v1M1 135v1M1 140v2M1 154v1M1 160v1M1 163v1M1 168v2M1 172v3M1 179v1M1 184v2M1 187v1M1 191v1M1 198v1M1 201v1M1 203v1M1 258v1M2 14v1M2 18v1M2 21v1M2 28v1M2 38v1M2 40v1M2 48v1M2 51v1M2 53v1M2 55v3M2 59v1M2 62v1M2 65v1M2 69v1M2 125v1M2 127v1M2 136v1M2 140v1M2 142v1M2 152v1M2 162v1M2 168v1M2 171v1M2 174v1M2 179v1M2 191v1M2 203v1M3 2v1M3 9v2M3 15v5M3 21v1M3 25v1M3 29v1M3 38v1M3 46v1M3 48v1M3 54v1M3 59v2M3 62v1M3 129v2M3 132v1M3 134v2M3 137v1M3 140v3M3 144v1M3 160v1M3 168v1M3 170v1M3 172v1M3 174v1M3 184v1M3 188v2M3 191v1M3 193v1M3 202v2M3 205v1M4 6v1M4 8v2M4 11v2M4 16v2M4 20v2M4 23v1M4 25v1M4 32v1M4 38v3M4 49v1M4 51v1M4 54v1M4 57v1M4 60v1M4 62v1M4 131v1M4 135v3M4 139v1M4 143v1M4 155v3M4 163v1M4 170v2M4 173v2M4 176v2M4 179v1M4 185v1M4 187v1M4 189v1M4 194v1M4 202v1M4 232v1M5 81v2M5 92v1M5 97v1M5 109v1M5 115v1M5 118v1M5 121v1M5 124v1M5 134v2M5 166v1M5 171v1M5 201v1M5 203v1M5 205v1M5 209v2M5 213v1M5 225v1M5 232v1M5 234v2M5 244v1M5 250v1M5 253v1M5 256v1M5 258v2M6 95v1M6 109v1M6 127v1M6 129v1M6 133v1M6 185v1M6 193v1M6 201v1M6 206v2M6 209v2M6 213v1M6 219v1M6 234v1M6 238v2M6 243v1M6 250v2M6 253v1M6 258v2M7 66v1M7 83v1M7 100v2M7 119v1M7 122v1M7 129v1M7 134v1M7 185v1M7 201v1M7 203v2M7 208v1M7 213v1M7 222v1M7 235v1M7 243v1M7 248v1M7 256v1M7 259v1M8 80v1M8 86v2M8 92v1M8 95v1M8 97v2M8 102v1M8 106v2M8 110v1M8 115v2M8 127v1M8 129v1M8 164v1M8 166v1M8 168v1M8 170v1M8 201v1M8 208v1M8 210v1M8 215v1M8 222v1M8 232v1M8 238v1M8 241v1M8 259v1M9 80v2M9 84v1M9 86v1M9 88v1M9 93v1M9 95v1M9 99v1M9 102v1M9 105v1M9 108v1M9 112v2M9 121v1M9 133v2M9 197v1M9 203v1M9 206v2M9 209v1M9 211v1M9 216v1M9 219v2M9 225v1M9 227v1M9 232v1M9 234v1M9 237v3M9 242v1M9 247v1M9 250v1M9 257v1" stroke="#522"/>
<path d="M0 67v1M0 89v1M0 102v1M0 107v1M0 117v1M0 231v1M0 264v1M0 266v1M0 278v1M1 45v1M1 80v2M1 83v1M1 94v1M1 102v2M1 106v1M1 112v1M1 121v1M1 215v1M1 227v1M1 231v1M1 244v1M1 266v1M2 44v1M2 79v1M2 83v1M2 86v1M2 89v1M2 91v1M2 103v1M2 110v1M2 112v2M2 118v1M2 215v1M2 244v1M2 255v1M2 267v1M2 278v1M3 82v1M3 89v1M3 92v1M3 95v1M3 97v1M3 107v2M3 111v1M3 117v1M3 120v1M3 167v1M3 239v1M3 251v1M3 269v1M3 272v1M3 274v1M4 67v1M4 80v3M4 86v1M4 94v2M4 97v1M4 109v1M4 115v1M4 118v1M4 120v2M5 13v1M5 43v2M5 52v1M5 56v2M5 67v1M5 69v1M5 73v1M5 75v1M5 77v2M5 114v1M5 176v1M5 264v1M5 267v1M6 24v1M6 27v1M6 32v1M6 56v1M6 59v1M6 68v1M6 70v1M6 150v2M6 153v1M6 159v1M6 173v1M6 190v1M6 196v1M6 261v1M6 268v1M6 277v1M6 279v1M7 2v1M7 36v4M7 44v1M7 47v1M7 57v3M7 78v1M7 161v1M7 192v1M7 194v1M7 264v1M7 277v2M8 6v1M8 15v1M8 24v1M8 39v1M8 43v1M8 54v1M8 56v2M8 70v1M8 143v1M8 169v1M8 174v1M8 176v1M8 179v2M8 262v1M8 276v1M8 278v2M9 2v1M9 13v1M9 15v1M9 22v1M9 26v1M9 36v1M9 43v1M9 57v1M9 60v2M9 153v1M9 165v1M9 169v1M9 186v1M9 191v1M9 263v1M9 266v1M9 275v2" stroke="#922"/>
<path d="M0 81v1M0 85v1M0 96v1M0 105v1M0 114v1M0 121v1M0 214v1M0 222v1M0 262v2M0 265v1M0 279v1M1 79v1M1 86v1M1 96v1M1 100v1M1 105v1M1 110v1M1 118v1M1 206v1M1 223v1M1 263v2M1 268v1M1 277v3M2 85v1M2 93v2M2 100v1M2 114v1M2 121v1M2 206v1M2 245v1M2 263v3M2 269v1M2 274v1M3 80v2M3 88v1M3 104v1M3 113v1M3 115v1M3 123v1M3 233v1M3 235v1M3 237v1M3 241v3M3 246v1M3 253v1M3 257v1M3 260v1M3 277v2M4 92v1M4 99v2M4 102v1M4 214v1M4 235v1M4 238v1M4 240v1M4 246v1M4 255v1M4 257v1M4 267v1M4 272v1M4 278v1M5 6v1M5 22v1M5 24v1M5 32v1M5 39v1M5 50v1M5 54v1M5 148v1M5 180v2M5 183v1M5 188v2M5 261v1M5 263v1M5 266v1M5 271v1M5 279v1M6 2v1M6 13v1M6 15v1M6 22v1M6 31v1M6 38v3M6 43v2M6 52v1M6 57v2M6 61v1M6 69v1M6 72v2M6 143v1M6 148v1M6 152v1M6 192v1M6 263v1M6 265v2M6 270v1M6 272v3M6 276v1M7 15v1M7 24v1M7 27v1M7 30v1M7 61v1M7 143v1M7 152v1M7 176v1M7 190v1M7 229v1M7 236v1M7 263v1M7 276v1M7 279v1M8 22v1M8 31v1M8 36v2M8 41v1M8 44v1M8 46v1M8 52v1M8 59v1M8 64v1M8 68v1M8 152v1M8 178v1M8 181v2M8 186v3M8 266v1M8 271v1M8 273v2M8 277v1M9 6v1M9 44v2M9 50v1M9 52v1M9 78v1M9 143v1M9 148v1M9 152v1M9 190v1M9 265v1M9 271v1M9 277v1" stroke="#932"/>
<path d="M0 91v1M0 206v1M0 236v1M0 261v1M0 268v1M0 271v1M0 273v1M0 276v1M1 85v1M1 91v1M1 93v1M1 114v1M1 214v1M1 265v1M1 272v1M1 275v2M2 81v1M2 96v1M2 105v1M2 214v1M2 262v1M2 266v1M2 268v1M2 272v1M2 275v2M2 279v1M3 83v1M3 85v1M3 90v2M3 93v1M3 100v1M3 102v2M3 106v1M3 118v1M3 121v1M3 206v1M3 214v1M3 234v1M3 245v1M3 249v2M3 252v1M3 255v1M3 263v4M3 268v1M3 275v2M3 279v1M4 83v1M4 85v1M4 88v2M4 91v1M4 93v1M4 96v1M4 103v1M4 105v1M4 107v1M4 110v1M4 112v1M4 114v1M4 117v1M4 206v1M4 233v2M4 239v1M4 242v4M4 247v5M4 260v1M4 265v2M4 269v1M4 274v4M5 30v2M5 41v1M5 45v1M5 68v1M5 70v1M5 177v3M5 182v1M5 184v1M5 186v1M5 190v3M5 194v2M5 265v1M5 270v1M5 272v3M5 277v1M6 30v1M6 36v1M6 41v1M6 60v1M6 78v2M6 169v1M6 229v1M6 271v1M6 275v1M7 31v1M7 42v1M7 45v1M7 50v1M7 79v1M7 148v1M7 261v1M7 265v2M7 270v2M7 274v2M8 30v1M8 42v1M8 45v1M8 78v2M8 184v1M8 194v1M8 196v1M8 261v1M8 265v1M8 269v2M8 275v1M9 24v1M9 30v1M9 41v2M9 79v1M9 261v1M9 270v1" stroke="#a32"/>
<path d="M0 124v1M0 130v1M0 132v1M0 134v1M0 141v1M0 154v1M0 191v1M0 199v1M0 254v1M1 55v1M1 127v1M1 130v1M1 177v1M1 199v1M1 205v1M2 63v1M2 124v1M2 129v1M2 132v3M2 141v1M2 154v1M2 177v1M2 188v1M2 194v1M2 199v3M3 51v1M3 53v1M3 57v1M3 65v1M3 200v2M4 33v1M4 48v1M4 53v1M4 63v1M4 127v1M4 130v1M4 132v1M4 141v1M4 160v1M4 191v1M4 199v1M5 88v1M5 100v2M5 127v1M5 132v1M5 206v2M5 222v1M5 254v1M6 100v2M6 122v1M6 203v1M6 218v1M6 248v1M6 254v1M6 256v1M7 127v1M7 240v1M7 254v1M8 84v1M8 100v1M8 103v1M8 108v2M8 122v1M8 209v1M8 213v1M8 219v1M8 235v1M9 82v2M9 100v1M9 132v1M9 210v1M9 246v1M9 251v1M9 253v1" stroke="#411"/>
<path d="M0 127v1M0 173v1M0 194v1M0 203v1M1 132v1M1 194v1M2 126v1M2 130v1M2 137v1M2 139v1M2 204v1M3 40v1M3 63v1M3 69v1M3 127v1M3 154v1M3 163v1M4 3v1M4 10v1M4 126v1M4 140v1M4 142v1M4 168v2M4 204v1M5 80v1M5 83v2M5 87v1M5 98v1M5 251v1M6 246v1M7 206v1M8 244v1M9 256v1" stroke="#412"/>
<path d="M0 129v1M0 133v1M0 140v1M0 166v1M0 204v1M1 129v1M1 200v1M1 204v1M2 5v1M2 17v1M2 156v1M2 160v1M2 163v1M2 169v1M2 172v2M3 3v1M3 5v1M3 55v1M3 133v1M3 173v1M3 177v1M3 194v1M3 198v1M3 204v1M4 5v1M4 15v1M4 28v1M4 46v1M4 59v1M4 124v2M4 159v1M4 166v1M4 172v1M4 200v1M4 203v1M5 66v1M5 123v1M5 129v1M5 208v1M5 218v1M5 238v2M5 248v1M6 132v1M6 235v1M7 133v1M7 207v1M7 246v1M8 104v1M8 112v1M8 206v2M8 239v1M8 242v2M8 256v1M9 87v1M9 89v1M9 92v1M9 115v1M9 123v1M9 127v1M9 193v1M9 213v1M9 222v1M9 243v2M9 249v1M9 258v2" stroke="#512"/>
<path d="M0 201v1M4 55v1M4 64v3M5 240v1M7 132v1M8 101v1M8 240v1M8 246v3M8 250v4M9 101v1M9 109v1M9 240v1M9 248v1M9 254v1" stroke="#322"/>
<path d="M0 270v1M0 275v1M0 277v1M1 236v1M1 261v2M1 270v2M1 273v1M2 236v1M2 261v1M2 271v1M2 273v1M2 277v1M3 94v1M3 96v1M3 105v1M3 114v1M3 244v1M3 247v1M3 262v1M3 273v1M4 106v1M4 237v1M4 241v1M4 252v2M4 262v3M4 268v1M4 273v1M4 279v1M5 42v1M5 79v1M5 187v1M5 196v1M6 42v1M6 45v1M6 50v1M7 41v1M7 273v1M8 50v1M8 190v1M8 192v1" stroke="#b32"/>
<path d="M1 134v1M3 64v1M3 199v1M4 129v1M4 134v1M4 154v1M4 201v1M6 240v1M8 83v1M8 234v1M8 254v1M8 258v1M9 98v1M9 104v1M9 106v1M9 116v1M9 122v1M9 129v1M9 235v1" stroke="#311"/>
<path d="M2 270v1" stroke="#c42"/>
<path d="M3 66v1M4 18v1M4 133v1M5 122v1M5 246v1M8 132v1M8 249v1M9 103v1" stroke="#312"/>
<path d="M3 110v1M3 124v1M3 270v1M4 270v2" stroke="#d63"/>
<path d="M3 236v1M3 261v1M4 236v1M6 35v1" stroke="#d53"/>
<path d="M3 271v1M4 261v1" stroke="#c43"/>
<path d="M5 275v2" stroke="#e83"/>
</g>
<g transform="translate(758.66 802.3) scale(16.13 1.8032)" stroke-width="1.02" fill="none" shape-rendering="crispEdges">
<path d="M4.5 0V280" stroke="#822" stroke-width="10"/>
<path d="M0 0v1M0 2v1M0 4v1M0 11v3M0 15v1M0 17v1M0 20v2M0 26v2M0 29v2M0 32v3M0 36v1M0 39v1M0 63v1M0 66v1M0 68v1M0 71v1M0 73v4M0 115v2M0 125v1M0 132v1M0 145v1M0 151v1M0 155v1M0 158v1M0 162v2M0 166v1M0 169v1M0 172v2M0 195v1M0 229v1M0 235v1M0 237v1M0 247v1M0 255v3M1 0v1M1 2v3M1 9v1M1 11v1M1 15v1M1 17v1M1 19v2M1 22v1M1 24v1M1 26v1M1 29v1M1 31v4M1 36v4M1 43v1M1 45v1M1 60v1M1 66v1M1 68v1M1 73v1M1 76v1M1 99v1M1 115v2M1 132v1M1 136v1M1 145v1M1 149v1M1 151v1M1 157v1M1 160v1M1 165v2M1 169v2M1 172v1M1 187v1M1 192v2M1 229v1M1 233v1M1 238v1M1 247v1M1 256v1M1 258v1M2 0v1M2 4v1M2 6v1M2 9v4M2 17v1M2 19v1M2 21v1M2 23v2M2 26v3M2 32v2M2 36v1M2 42v1M2 62v1M2 66v3M2 71v1M2 73v4M2 116v1M2 125v1M2 133v1M2 136v1M2 155v4M2 163v1M2 166v1M2 168v1M2 172v2M2 229v1M2 237v2M2 247v1M2 249v1M2 258v1M3 8v1M3 15v1M3 20v1M3 25v1M3 27v1M3 29v1M3 33v2M3 39v1M3 62v1M3 66v2M3 71v1M3 75v2M3 79v1M3 133v1M3 136v1M3 148v1M3 151v1M3 156v3M3 160v1M3 164v1M3 168v1M3 170v3M3 183v1M3 188v1M4 2v1M4 4v1M4 8v1M4 12v1M4 15v1M4 20v1M4 27v1M4 31v1M4 35v2M4 62v2M4 71v1M4 73v4M4 116v1M4 125v1M4 145v1M4 148v1M4 151v1M4 155v3M4 160v1M4 163v1M4 166v1M4 169v3M4 173v1M4 192v1M4 218v1M5 22v1M5 40v1M5 49v1M5 51v3M5 57v1M5 81v1M5 92v1M5 95v1M5 103v1M5 105v1M5 108v1M5 113v1M5 130v1M5 151v1M5 154v1M5 174v1M5 205v1M5 218v1M5 222v1M5 230v3M5 236v1M5 252v1M5 255v1M5 259v1M5 265v1M6 80v1M6 83v1M6 87v2M6 90v1M6 93v1M6 102v2M6 107v1M6 111v1M6 114v4M6 119v1M6 122v2M6 135v1M6 137v1M6 197v1M6 206v1M6 212v1M6 214v1M6 216v1M6 218v1M6 220v1M6 222v2M6 225v2M6 228v1M6 230v1M6 233v1M6 238v1M6 243v1M6 245v1M6 249v1M6 251v1M6 255v1M6 265v1M7 1v1M7 22v1M7 38v1M7 47v4M7 53v1M7 55v2M7 63v3M7 80v1M7 83v1M7 85v1M7 88v1M7 90v2M7 94v1M7 99v1M7 101v1M7 103v1M7 107v1M7 109v2M7 122v1M7 124v1M7 135v1M7 137v1M7 178v1M7 184v2M7 197v1M7 205v2M7 208v1M7 210v1M7 212v2M7 215v1M7 222v1M7 224v4M7 231v1M7 233v1M7 238v1M7 240v1M7 244v1M7 246v1M7 249v1M7 251v2M7 255v1M7 259v1M8 51v1M8 53v1M8 56v2M8 61v1M8 80v1M8 85v1M8 90v1M8 102v1M8 106v1M8 111v1M8 114v2M8 117v1M8 123v1M8 175v1M8 177v1M8 182v1M8 185v1M8 196v2M8 200v1M8 205v1M8 208v1M8 210v1M8 212v1M8 214v1M8 218v1M8 222v2M8 228v1M8 249v1M8 251v1M8 265v1M9 41v1M9 51v2M9 54v1M9 56v1M9 61v1M9 81v1M9 86v1M9 98v1M9 104v1M9 114v2M9 118v2M9 121v1M9 123v1M9 205v1M9 214v1M9 218v1M9 222v1M9 245v1M9 252v1" stroke="#622"/>
<path d="M0 1v1M0 18v1M0 47v2M0 51v1M0 54v1M0 58v1M0 128v1M0 135v1M0 140v2M0 147v1M0 149v1M0 152v1M0 176v1M0 180v2M0 186v2M0 189v1M0 191v2M0 200v1M0 202v1M1 1v1M1 6v2M1 41v1M1 46v1M1 48v2M1 51v2M1 57v1M1 59v1M1 61v1M1 127v1M1 129v2M1 135v1M1 140v1M1 142v1M1 159v1M1 161v1M1 176v1M1 184v3M1 189v1M1 202v1M1 204v1M2 16v1M2 38v1M2 44v3M2 49v1M2 51v1M2 53v1M2 56v2M2 128v1M2 135v1M2 138v2M2 147v1M2 149v1M2 159v1M2 161v1M2 174v1M2 184v4M2 189v1M2 192v1M2 197v1M2 200v2M2 203v1M3 5v1M3 9v1M3 13v1M3 16v1M3 38v1M3 40v1M3 45v1M3 47v1M3 49v1M3 52v2M3 56v2M3 59v1M3 61v1M3 64v2M3 78v1M3 126v1M3 130v1M3 134v1M3 139v1M3 141v2M3 144v1M3 152v3M3 174v1M3 178v1M3 180v2M3 184v1M3 189v1M3 196v1M3 200v2M3 204v1M4 5v2M4 11v1M4 14v1M4 40v1M4 42v1M4 44v7M4 53v3M4 58v4M4 64v1M4 66v1M4 126v2M4 129v2M4 134v1M4 138v1M4 141v2M4 146v1M4 152v1M4 178v1M4 184v1M4 186v1M4 189v1M4 191v1M4 197v1M4 200v1M5 54v1M5 82v2M5 87v1M5 91v1M5 96v1M5 100v2M5 110v2M5 114v1M5 117v1M5 119v1M5 122v2M5 204v1M5 213v1M5 217v1M5 224v1M5 235v1M5 242v1M5 244v1M5 257v1M6 84v1M6 89v1M6 94v1M6 109v1M6 204v1M6 209v2M6 219v1M6 221v1M6 229v1M6 248v1M7 84v1M7 96v1M7 219v1M7 221v1M7 241v1M7 258v1M8 91v1M8 99v2M8 204v1M8 209v1M8 211v1M8 219v1M8 221v1M8 225v1M8 230v1M8 237v1M8 239v1M8 241v1M8 243v2M8 246v2M8 253v2M8 257v2M8 260v1M9 84v1M9 87v1M9 89v3M9 102v1M9 106v1M9 112v1M9 116v1M9 122v1M9 209v1M9 211v1M9 213v1M9 215v1M9 217v1M9 224v4M9 237v2M9 241v1M9 253v1M9 257v1M9 260v1" stroke="#411"/>
<path d="M0 3v1M0 8v1M0 25v1M0 31v1M0 35v1M0 62v1M0 67v1M0 70v1M0 81v1M0 99v1M0 101v1M0 113v1M0 117v1M0 120v1M0 148v1M0 156v2M0 160v1M0 167v2M0 210v1M0 230v1M0 238v1M0 241v2M0 245v2M0 248v3M0 260v1M1 23v1M1 25v1M1 27v1M1 35v1M1 42v1M1 63v1M1 67v1M1 71v1M1 74v2M1 77v1M1 79v1M1 120v1M1 125v1M1 148v1M1 155v2M1 158v1M1 163v2M1 167v2M1 171v1M1 173v1M1 218v1M1 235v1M1 237v1M1 241v1M1 246v1M1 249v1M1 252v1M1 257v1M2 2v1M2 8v1M2 15v1M2 20v1M2 22v1M2 25v1M2 31v1M2 34v2M2 72v1M2 79v1M2 99v1M2 101v1M2 115v1M2 148v1M2 164v1M2 167v1M2 171v1M2 233v4M2 241v3M2 248v1M2 252v1M2 255v3M2 260v1M3 4v1M3 35v1M3 63v1M3 70v1M3 77v1M3 125v1M3 167v1M3 258v1M4 25v1M4 67v1M4 69v2M4 72v1M4 77v1M4 79v1M4 164v1M4 167v2M4 210v1M4 212v1M4 233v1M4 235v1M4 247v1M4 256v1M4 258v1M5 38v2M5 41v1M5 45v4M5 50v1M5 55v1M5 58v1M5 64v2M5 98v1M5 104v1M5 143v2M5 146v2M5 150v1M5 156v2M5 161v2M5 169v2M5 200v1M5 261v1M5 264v1M5 270v1M5 272v1M6 54v1M6 81v1M6 85v2M6 92v1M6 95v1M6 104v3M6 113v1M6 118v1M6 120v2M6 129v2M6 134v1M6 138v2M6 178v1M6 180v1M6 184v2M6 191v1M6 200v2M6 205v1M6 208v1M6 234v1M6 236v1M6 239v1M6 252v1M6 259v1M6 261v1M6 270v1M7 4v1M7 6v1M7 12v1M7 16v1M7 39v1M7 42v1M7 44v1M7 58v1M7 60v1M7 62v1M7 76v1M7 81v1M7 86v2M7 92v1M7 95v1M7 102v1M7 105v2M7 111v4M7 117v5M7 123v1M7 126v1M7 128v3M7 134v1M7 138v2M7 141v1M7 154v1M7 175v3M7 180v1M7 182v2M7 188v1M7 191v1M7 194v1M7 196v1M7 201v2M7 207v1M7 214v1M7 216v1M7 218v1M7 223v1M7 228v1M7 230v1M7 245v1M7 261v1M7 265v1M7 270v1M8 22v1M8 40v1M8 46v1M8 48v1M8 50v1M8 52v1M8 59v1M8 81v1M8 86v1M8 103v3M8 107v1M8 110v1M8 112v2M8 118v4M8 129v3M8 135v1M8 137v3M8 154v1M8 178v1M8 181v1M8 183v2M8 186v1M8 188v2M8 191v1M8 194v1M8 198v2M8 201v1M8 220v1M8 232v1M8 261v2M9 22v1M9 40v1M9 42v2M9 45v1M9 50v1M9 53v1M9 55v1M9 59v1M9 64v1M9 108v1M9 113v1M9 130v1M9 138v1M9 178v1M9 197v1M9 200v1M9 265v1" stroke="#722"/>
<path d="M0 5v2M0 9v2M0 14v1M0 16v1M0 19v1M0 22v2M0 28v1M0 37v2M0 40v1M0 42v2M0 45v1M0 55v1M0 57v1M0 60v1M0 65v1M0 78v1M0 130v2M0 136v1M0 150v1M0 154v1M0 159v1M0 161v1M0 165v1M0 170v2M0 183v1M0 193v1M0 233v1M0 258v1M1 5v1M1 10v1M1 12v3M1 16v1M1 18v1M1 21v1M1 28v1M1 30v1M1 47v1M1 53v3M1 58v1M1 62v1M1 78v1M1 131v1M1 138v2M1 143v1M1 150v1M1 153v2M1 162v1M1 174v1M1 179v1M1 182v1M1 188v1M1 195v1M2 1v1M2 3v1M2 7v1M2 13v2M2 29v2M2 37v1M2 39v1M2 43v1M2 50v1M2 58v1M2 60v2M2 63v1M2 65v1M2 124v1M2 126v1M2 129v2M2 132v1M2 141v1M2 143v1M2 145v1M2 151v2M2 154v1M2 160v1M2 162v1M2 165v1M2 169v1M2 179v1M2 183v1M2 188v1M2 193v1M2 195v1M3 2v2M3 11v2M3 17v1M3 19v1M3 21v3M3 26v1M3 28v1M3 30v3M3 36v2M3 42v2M3 55v1M3 60v1M3 73v2M3 131v2M3 138v1M3 143v1M3 149v2M3 155v1M3 162v2M3 173v1M3 176v1M3 187v1M3 191v3M4 9v2M4 13v1M4 17v1M4 19v1M4 23v2M4 26v1M4 28v1M4 30v1M4 32v3M4 37v1M4 39v1M4 65v1M4 68v1M4 78v1M4 131v2M4 143v1M4 149v1M4 153v2M4 158v2M4 165v1M4 172v1M4 179v1M4 182v1M4 188v1M4 193v1M4 195v2M5 56v1M5 59v1M5 61v1M5 85v2M5 88v1M5 90v1M5 102v1M5 112v1M5 115v1M5 118v1M5 206v3M5 212v1M5 216v1M5 220v1M5 223v1M5 226v1M5 228v2M5 233v2M5 238v3M5 243v1M5 245v2M5 249v1M5 258v1M6 82v1M6 91v1M6 96v1M6 99v3M6 110v1M6 112v1M6 207v1M6 213v1M6 215v1M6 227v1M6 231v1M6 235v1M6 237v1M6 241v1M6 244v1M6 247v1M6 250v1M6 253v2M6 258v1M7 41v1M7 45v2M7 51v2M7 57v1M7 59v1M7 61v1M7 89v1M7 93v1M7 100v1M7 116v1M7 200v1M7 209v1M7 220v1M7 229v1M7 234v4M7 239v1M7 243v1M7 247v2M7 250v1M7 253v2M7 257v1M8 45v1M8 54v1M8 83v1M8 87v2M8 95v1M8 109v1M8 116v1M8 122v1M8 206v2M8 215v2M8 226v1M8 245v1M8 252v1M9 57v1M9 80v1M9 83v1M9 105v1M9 107v1M9 109v1M9 111v1M9 120v1M9 204v1M9 206v1M9 208v1M9 210v1M9 212v1M9 220v1M9 223v1M9 228v1M9 239v1M9 249v2M9 254v2" stroke="#522"/>
<path d="M0 7v1M0 52v1M0 126v2M0 129v1M0 138v1M0 142v1M0 146v1M0 194v1M1 40v1M1 50v1M1 64v1M1 124v1M1 126v1M1 134v1M1 144v1M1 146v1M1 152v1M1 180v1M2 18v1M2 55v1M2 59v1M2 64v1M2 131v1M2 134v1M2 153v1M2 191v1M2 196v1M3 24v1M3 58v1M3 129v1M3 145v2M3 159v1M3 165v2M3 169v1M3 185v1M3 195v1M4 3v1M4 21v2M4 29v1M4 38v1M4 43v1M4 124v1M4 150v1M4 161v1M4 174v1M4 181v1M4 187v1M4 194v1M5 80v1M5 99v1M5 106v2M5 209v2M5 237v1M5 241v1M5 251v1M5 254v1M5 260v1M6 211v1M6 260v1M7 97v1M7 204v1M7 211v1M7 260v1M8 82v1M8 92v1M8 224v1M8 255v1M8 259v1M9 88v1M9 110v1M9 216v1M9 243v1M9 251v1M9 259v1" stroke="#412"/>
<path d="M0 24v1M0 44v1M0 46v1M0 53v1M0 56v1M0 59v1M0 61v1M0 64v1M0 124v1M0 133v1M0 143v1M0 153v1M0 174v1M0 179v1M0 182v1M0 184v1M0 188v1M0 196v1M0 201v1M1 44v1M1 65v1M1 128v1M1 141v1M1 181v1M1 183v1M1 191v1M1 194v1M1 196v1M2 5v1M2 40v1M2 47v1M2 78v1M2 127v1M2 142v1M2 146v1M2 150v1M2 170v1M2 181v2M2 194v1M3 0v1M3 6v1M3 10v1M3 50v1M3 68v1M3 127v1M3 135v1M3 161v1M3 179v1M3 182v1M3 194v1M4 0v1M4 133v1M4 136v1M4 162v1M4 183v1M4 201v1M5 121v1M5 214v2M5 227v1M5 248v1M5 250v1M5 253v1M6 97v1M6 217v1M6 224v1M6 240v1M6 246v1M6 257v1M7 40v1M7 54v1M7 82v1M7 217v1M7 242v1M8 89v1M8 101v1M8 213v1M8 227v1M8 238v1M9 85v1M9 103v1M9 117v1M9 207v1M9 234v1M9 244v1M9 247v1" stroke="#512"/>
<path d="M0 41v1M0 177v2M0 190v1M0 198v1M0 204v2M1 175v1M1 177v1M1 198v1M1 205v1M2 198v1M2 204v2M3 41v1M3 44v1M3 140v1M3 147v1M3 190v1M3 198v2M3 203v1M3 205v1M4 41v1M4 51v2M4 57v1M4 185v1M4 190v1M4 198v1M4 204v1M5 84v1M5 109v1M5 211v1M5 219v1M5 256v1M8 84v1M8 93v2M8 229v1M8 231v1M8 235v2M8 242v1M8 256v1M9 92v2M9 95v3M9 100v2M9 219v1M9 221v1M9 229v1M9 232v2M9 235v2M9 246v1M9 256v1" stroke="#322"/>
<path d="M0 49v2M0 137v1M0 139v1M0 144v1M0 175v1M0 197v1M0 203v1M1 56v1M1 133v1M1 137v1M1 147v1M1 178v1M1 190v1M1 199v2M1 203v1M2 48v1M2 52v1M2 54v1M2 140v1M2 176v1M2 178v1M2 202v1M3 46v1M3 48v1M3 51v1M3 54v1M3 128v1M3 137v1M3 177v1M3 202v1M4 1v1M4 18v1M4 56v1M4 128v1M4 135v1M4 139v1M4 144v1M4 147v1M4 176v1M4 180v1M4 199v1M4 202v1M5 93v2M5 97v1M5 120v1M5 221v1M5 225v1M5 247v1M6 242v1M8 97v1M8 217v1M8 234v1M8 248v1M9 82v1M9 99v1M9 240v1M9 248v1M9 258v1" stroke="#311"/>
<path d="M0 69v1M0 72v1M0 77v1M0 79v1M0 83v2M0 89v2M0 93v1M0 96v1M0 100v1M0 107v1M0 110v3M0 114v1M0 119v1M0 122v2M0 164v1M0 212v1M0 215v1M0 218v1M0 221v1M0 223v2M0 231v1M0 236v1M0 239v1M0 243v2M0 251v2M1 8v1M1 70v1M1 72v1M1 84v1M1 89v1M1 96v1M1 101v1M1 107v1M1 109v2M1 117v1M1 119v1M1 122v1M1 210v1M1 212v1M1 215v1M1 219v3M1 224v1M1 228v1M1 230v2M1 236v1M1 239v1M1 242v3M1 248v1M1 250v2M1 253v1M1 255v1M1 260v1M2 69v2M2 77v1M2 81v1M2 96v1M2 100v1M2 107v1M2 109v3M2 113v1M2 118v1M2 120v1M2 122v1M2 210v1M2 212v1M2 220v1M2 230v1M2 232v1M2 239v1M2 244v3M2 250v2M2 254v1M3 69v1M3 72v1M3 99v1M3 115v2M3 218v1M3 229v1M3 233v1M3 237v1M3 243v1M3 249v1M3 256v1M4 109v1M4 115v1M4 120v1M4 215v1M4 219v1M4 223v2M4 229v1M4 231v1M4 236v3M4 241v1M4 244v1M4 246v1M4 248v2M4 251v1M4 255v1M4 257v1M4 260v1M5 1v1M5 4v1M5 16v1M5 26v1M5 31v1M5 36v1M5 42v3M5 60v1M5 62v2M5 129v1M5 134v2M5 137v3M5 141v1M5 149v1M5 152v2M5 159v2M5 163v1M5 165v1M5 168v1M5 172v2M5 197v3M5 262v1M5 266v2M5 269v1M5 271v1M6 1v1M6 15v2M6 22v1M6 39v1M6 45v1M6 51v2M6 98v1M6 124v1M6 126v3M6 131v2M6 136v1M6 140v3M6 144v1M6 146v1M6 154v1M6 156v1M6 175v3M6 181v3M6 189v1M6 194v1M6 196v1M6 198v2M6 202v1M6 232v1M6 262v1M6 271v1M7 3v1M7 5v1M7 10v2M7 15v1M7 18v2M7 24v1M7 31v1M7 43v1M7 73v1M7 75v1M7 78v1M7 104v1M7 108v1M7 115v1M7 127v1M7 131v1M7 140v1M7 142v1M7 146v1M7 165v1M7 179v1M7 181v1M7 186v2M7 189v1M7 193v1M7 195v1M7 198v2M7 203v1M7 232v1M7 262v1M7 264v1M7 272v1M8 1v1M8 5v1M8 10v1M8 16v1M8 31v1M8 38v2M8 41v2M8 47v1M8 49v1M8 55v1M8 58v1M8 60v1M8 62v4M8 98v1M8 108v1M8 124v1M8 126v3M8 132v1M8 134v1M8 140v2M8 144v4M8 149v1M8 157v2M8 161v2M8 169v2M8 174v1M8 176v1M8 179v2M8 193v1M8 195v1M8 202v1M8 266v1M8 270v1M8 272v1M9 1v1M9 38v2M9 44v1M9 46v4M9 58v1M9 62v1M9 65v1M9 134v2M9 137v1M9 139v1M9 146v1M9 154v1M9 182v1M9 184v2M9 196v1M9 198v2M9 201v1M9 261v2M9 270v1" stroke="#822"/>
<path d="M0 80v1M0 82v1M0 85v1M0 88v1M0 105v2M0 207v1M0 213v1M0 217v1M0 222v1M0 226v1M0 234v1M0 240v1M0 277v1M1 80v2M1 83v1M1 90v2M1 100v1M1 103v1M1 111v4M1 121v1M1 123v1M1 206v1M1 217v1M1 226v2M1 234v1M1 245v1M1 259v1M1 265v1M2 80v1M2 84v1M2 87v1M2 90v2M2 103v1M2 105v1M2 108v1M2 117v1M2 121v1M2 206v1M2 208v1M2 215v1M2 221v1M2 259v1M3 80v1M3 89v1M3 109v1M3 112v1M3 117v1M3 223v1M3 231v1M3 235v1M3 241v1M3 245v2M3 257v1M4 81v2M4 93v1M4 99v1M4 101v1M4 107v1M4 111v1M4 114v1M4 117v1M4 209v1M4 213v1M4 220v1M4 226v1M4 228v1M4 230v1M4 245v1M4 250v1M4 253v1M4 265v1M4 272v1M4 274v1M4 279v1M5 7v1M5 18v1M5 30v1M5 32v1M5 128v1M5 142v1M5 166v1M5 263v1M6 4v1M6 13v1M6 18v1M6 21v1M6 31v1M6 40v2M6 48v1M6 53v1M6 64v1M6 70v1M6 75v2M6 78v1M6 133v1M6 143v1M6 152v2M6 157v1M6 159v1M6 169v3M6 174v1M6 187v2M6 190v1M6 193v1M6 263v2M6 267v1M6 269v1M7 2v1M7 13v1M7 17v1M7 26v1M7 30v1M7 34v1M7 67v1M7 70v2M7 79v1M7 125v1M7 136v1M7 143v1M7 147v1M7 149v1M7 153v1M7 162v1M7 171v4M7 266v2M7 271v1M7 277v1M8 4v1M8 7v2M8 11v2M8 21v1M8 26v1M8 32v1M8 44v1M8 76v1M8 79v1M8 133v1M8 153v1M8 159v2M8 164v2M8 192v1M8 264v1M8 267v2M8 277v1M9 12v1M9 14v1M9 26v1M9 34v1M9 36v1M9 76v1M9 124v1M9 127v1M9 129v1M9 131v2M9 140v1M9 147v1M9 162v1M9 165v1M9 171v1M9 173v1M9 177v1M9 179v3M9 190v2M9 203v1M9 263v2M9 266v2M9 269v1" stroke="#932"/>
<path d="M0 86v2M0 92v1M0 95v1M0 97v2M0 103v1M0 208v2M0 211v1M0 214v1M0 225v1M0 227v1M0 265v1M0 279v1M1 85v3M1 92v3M1 97v2M1 102v1M1 105v2M1 108v1M1 207v1M1 209v1M1 211v1M1 216v1M1 222v1M1 232v1M1 240v1M1 271v2M1 279v1M2 82v1M2 85v2M2 88v1M2 97v1M2 102v1M2 207v1M2 211v1M2 213v1M2 217v1M2 222v1M2 225v1M2 227v2M2 240v1M2 265v1M2 272v1M2 279v1M3 81v3M3 87v1M3 91v1M3 94v1M3 97v1M3 100v2M3 103v1M3 107v1M3 110v2M3 113v2M3 123v1M3 208v1M3 210v1M3 212v1M3 217v1M3 219v1M3 221v1M3 224v1M3 227v2M3 230v1M3 234v1M3 236v1M3 238v2M3 244v1M3 250v6M3 265v1M3 277v1M3 279v1M4 80v1M4 83v3M4 89v4M4 94v1M4 96v1M4 102v1M4 105v1M4 112v1M4 119v1M4 121v1M4 123v1M4 206v2M4 211v1M4 214v1M4 216v2M4 222v1M4 227v1M4 239v2M4 254v1M4 259v1M4 271v1M4 275v1M5 3v1M5 5v2M5 8v2M5 12v4M5 19v1M5 28v2M5 34v2M5 37v1M5 67v1M5 74v1M5 125v3M5 132v2M5 136v1M5 155v1M5 167v1M5 178v1M5 184v2M5 191v1M5 203v1M6 2v2M6 5v1M6 7v3M6 11v1M6 14v1M6 17v1M6 19v1M6 24v1M6 26v1M6 30v1M6 32v1M6 35v1M6 37v2M6 42v1M6 46v2M6 55v1M6 58v1M6 65v1M6 67v2M6 71v1M6 73v1M6 125v1M6 145v1M6 148v1M6 150v2M6 158v1M6 161v1M6 168v1M6 172v2M6 179v1M6 192v1M6 195v1M6 274v2M6 277v1M7 20v1M7 27v3M7 32v2M7 35v1M7 37v1M7 66v1M7 72v1M7 74v1M7 77v1M7 145v1M7 148v1M7 150v1M7 152v1M7 156v6M7 163v1M7 168v3M7 192v1M7 263v1M7 268v1M7 274v1M7 278v1M8 2v1M8 9v1M8 13v1M8 15v1M8 17v1M8 20v1M8 24v2M8 29v2M8 33v3M8 37v1M8 68v4M8 73v2M8 78v1M8 148v1M8 150v1M8 163v1M8 166v2M8 171v1M8 263v1M8 269v1M8 274v1M9 2v7M9 10v2M9 13v1M9 15v3M9 19v3M9 24v1M9 30v2M9 35v1M9 71v1M9 73v1M9 75v1M9 78v2M9 133v1M9 136v1M9 141v3M9 145v1M9 149v3M9 153v1M9 156v2M9 161v1M9 163v2M9 168v3M9 174v1M9 176v1M9 186v4M9 193v1M9 268v1M9 271v1" stroke="#a32"/>
<path d="M0 91v1M0 94v1M0 102v1M0 108v2M0 118v1M0 121v1M0 206v1M0 219v2M0 228v1M0 232v1M0 253v2M0 259v1M1 69v1M1 82v1M1 88v1M1 118v1M1 208v1M1 213v1M1 223v1M1 254v1M2 83v1M2 89v1M2 93v2M2 112v1M2 114v1M2 119v1M2 123v1M2 218v2M2 223v2M2 226v1M2 231v1M2 253v1M2 277v1M3 120v1M3 122v1M3 220v1M3 242v1M3 247v2M3 260v1M4 110v1M4 113v1M4 118v1M4 122v1M4 208v1M4 221v1M4 242v2M4 252v1M4 277v1M5 10v2M5 21v1M5 24v1M5 124v1M5 131v1M5 140v1M5 145v1M5 148v1M5 158v1M5 164v1M5 171v1M5 201v2M5 268v1M6 6v1M6 10v1M6 12v1M6 49v1M6 56v2M6 59v1M6 61v1M6 74v1M6 79v1M6 108v1M6 147v1M6 149v1M6 162v1M6 186v1M6 203v1M6 266v1M6 268v1M6 272v1M7 7v3M7 14v1M7 21v1M7 36v1M7 68v1M7 98v1M7 132v2M7 144v1M7 151v1M7 190v1M7 269v1M8 3v1M8 6v1M8 14v1M8 18v2M8 36v1M8 43v1M8 75v1M8 125v1M8 136v1M8 142v2M8 151v2M8 156v1M8 168v1M8 172v2M8 187v1M8 190v1M8 203v1M8 271v1M9 32v1M9 60v1M9 63v1M9 126v1M9 128v1M9 144v1M9 175v1M9 183v1M9 194v1M9 202v1M9 272v1" stroke="#922"/>
<path d="M0 104v1M0 216v1M0 266v1M0 271v2M0 274v1M0 276v1M0 278v1M1 95v1M1 104v1M1 214v1M1 225v1M1 268v1M1 273v5M2 92v1M2 95v1M2 98v1M2 104v1M2 106v1M2 209v1M2 214v1M2 264v1M2 266v1M2 276v1M3 84v2M3 88v1M3 90v1M3 93v1M3 96v1M3 105v1M3 108v1M3 118v2M3 121v1M3 207v1M3 209v1M3 211v1M3 213v3M3 222v1M3 226v1M3 240v1M3 259v1M3 272v5M4 88v1M4 97v2M4 100v1M4 103v1M4 108v1M4 225v1M4 232v1M4 234v1M4 262v1M4 264v1M4 266v5M4 273v1M5 2v1M5 17v1M5 20v1M5 23v1M5 25v1M5 27v1M5 33v1M5 68v1M5 70v2M5 73v1M5 175v1M5 177v1M5 180v4M5 188v1M5 194v1M6 20v1M6 25v1M6 28v2M6 33v2M6 43v2M6 60v1M6 62v2M6 66v1M6 72v1M6 77v1M6 160v1M6 163v4M6 273v1M6 278v1M7 0v1M7 23v1M7 25v1M7 69v1M7 164v1M7 166v2M7 273v1M7 275v1M7 279v1M8 23v1M8 28v1M8 66v2M8 77v1M8 155v1M8 273v1M8 275v2M8 278v1M9 9v1M9 18v1M9 23v1M9 25v1M9 27v3M9 33v1M9 37v1M9 67v2M9 70v1M9 72v1M9 74v1M9 125v1M9 148v1M9 152v1M9 158v3M9 166v1M9 172v1M9 192v1M9 195v1" stroke="#b32"/>
<path d="M0 134v1M0 185v1M0 199v1M1 197v1M1 201v1M2 41v1M2 137v1M2 144v1M2 175v1M2 177v1M2 180v1M2 190v1M2 199v1M3 1v1M3 7v1M3 14v1M3 18v1M3 175v1M3 186v1M3 197v1M4 7v1M4 16v1M4 137v1M4 140v1M4 175v1M4 177v1M4 203v1M4 205v1M5 89v1M5 116v1M6 256v1M7 256v1M8 96v1M8 233v1M8 240v1M8 250v1M9 94v1M9 230v2M9 242v1" stroke="#312"/>
<path d="M0 261v1M0 264v1M0 267v1M0 269v1M1 261v2M2 263v1M3 261v1M3 263v1M3 268v1M4 263v1M5 69v1M5 78v1M5 186v1M5 275v1M6 36v1M6 50v1M9 273v1M9 279v1" stroke="#d53"/>
<path d="M0 262v1M2 269v1M3 124v1M3 266v2M3 269v2M5 192v1M5 276v1M9 276v1" stroke="#d63"/>
<path d="M0 263v1" stroke="#e83"/>
<path d="M0 268v1M0 270v1M0 273v1M0 275v1M1 263v2M1 266v1M1 270v1M2 267v1M2 270v2M2 273v3M2 278v1M3 86v1M3 92v1M3 95v1M3 98v1M3 102v1M3 104v1M3 106v1M3 206v1M3 216v1M3 225v1M3 232v1M3 278v1M4 87v1M4 95v1M4 104v1M4 106v1M4 276v1M5 72v1M5 75v1M5 79v1M5 179v1M5 187v1M5 190v1M5 193v1M5 196v1M5 273v2M5 277v1M6 0v1M6 27v1M6 69v1M6 155v1M6 276v1M7 155v1M8 72v1M8 279v1M9 77v1M9 274v1" stroke="#c42"/>
<path d="M1 267v1M1 278v1M2 216v1M4 86v1M4 261v1M4 278v1M5 66v1M5 189v1M6 23v1M6 167v1M7 276v1M8 0v1M8 27v1M9 0v1M9 66v1M9 69v1M9 167v1M9 277v1" stroke="#c32"/>
<path d="M1 269v1M2 261v1M3 262v1M6 279v1" stroke="#c53"/>
<path d="M2 262v1M2 268v1M3 264v1M3 271v1M5 0v1M5 76v1M5 176v1M5 195v1M9 155v1M9 275v1M9 278v1" stroke="#c43"/>
<path d="M5 77v1M5 278v2" stroke="#e73"/>
</g>
<rect x="584.1" y="1311.7" width="80.8" height="9.6" fill="#33399f"/>
<rect x="664.9" y="1311.7" width="80.8" height="9.6" fill="#c7455f"/>
<text transform="translate(594.5 1324.8) rotate(-90)" text-anchor="end" font-size="12" fill="#111" stroke="#111">2000639N</text>
<text transform="translate(610.93 1324.8) rotate(-90)" text-anchor="end" font-size="12" fill="#111" stroke="#111">2000721N</text>
<text transform="translate(627.36 1324.8) rotate(-90)" text-anchor="end" font-size="12" fill="#111" stroke="#111">2000986N</text>
<text transform="translate(643.79 1324.8) rotate(-90)" text-anchor="end" font-size="12" fill="#111" stroke="#111">980437N</text>
<text transform="translate(660.22 1324.8) rotate(-90)" text-anchor="end" font-size="12" fill="#111" stroke="#111">980097N</text>
<text transform="translate(676.65 1324.8) rotate(-90)" text-anchor="end" font-size="12" fill="#111" stroke="#111">2000639C</text>
<text transform="translate(693.08 1324.8) rotate(-90)" text-anchor="end" font-size="12" fill="#111" stroke="#111">2000721C</text>
<text transform="translate(709.51 1324.8) rotate(-90)" text-anchor="end" font-size="12" fill="#111" stroke="#111">2000986C</text>
<text transform="translate(725.94 1324.8) rotate(-90)" text-anchor="end" font-size="12" fill="#111" stroke="#111">980437C</text>
<text transform="translate(742.37 1324.8) rotate(-90)" text-anchor="end" font-size="12" fill="#111" stroke="#111">980097C</text>
<rect x="750.6" y="1311.7" width="80.65" height="9.6" fill="#33399f"/>
<rect x="831.25" y="1311.7" width="80.65" height="9.6" fill="#c7455f"/>
<text transform="translate(762.1 1324.8) rotate(-90)" text-anchor="end" font-size="12" fill="#111" stroke="#111">2000639N</text>
<text transform="translate(778.43 1324.8) rotate(-90)" text-anchor="end" font-size="12" fill="#111" stroke="#111">2000721N</text>
<text transform="translate(794.76 1324.8) rotate(-90)" text-anchor="end" font-size="12" fill="#111" stroke="#111">2000986N</text>
<text transform="translate(811.09 1324.8) rotate(-90)" text-anchor="end" font-size="12" fill="#111" stroke="#111">980437N</text>
<text transform="translate(827.42 1324.8) rotate(-90)" text-anchor="end" font-size="12" fill="#111" stroke="#111">980097N</text>
<text transform="translate(843.75 1324.8) rotate(-90)" text-anchor="end" font-size="12" fill="#111" stroke="#111">2000639C</text>
<text transform="translate(860.08 1324.8) rotate(-90)" text-anchor="end" font-size="12" fill="#111" stroke="#111">2000721C</text>
<text transform="translate(876.41 1324.8) rotate(-90)" text-anchor="end" font-size="12" fill="#111" stroke="#111">2000986C</text>
<text transform="translate(892.74 1324.8) rotate(-90)" text-anchor="end" font-size="12" fill="#111" stroke="#111">980437C</text>
<text transform="translate(909.07 1324.8) rotate(-90)" text-anchor="end" font-size="12" fill="#111" stroke="#111">980097C</text>
<path d="M569.17 804.1H561.32V804.9H569.38M568.91 805.79H561.96V806.52H568.32M561.96 806.15H560.42V807.22H568.73M561.32 804.5H558.87V806.69H560.42M567.18 803.41H557.85V805.6H558.87M570.65 802.51H556.09V804.5H557.85M569.23 807.97H560.82V808.61H569.62M570.15 809.3H562.79V809.99H570.33M568.53 809.02H562.34V809.65H562.79M562.34 809.33H560.67V811.04H568.07M560.82 808.29H559.07V810.19H560.67M567.58 811.95H560.19V812.82H569.54M559.07 809.24H556.77V812.38H560.19M569.52 813.7H560.96V814.5H569.85M569.36 816.17H563.03V816.84H567.27M568.7 815.3H561.52V816.5H563.03M561.52 815.9H560.04V817.42H567.8M560.96 814.1H558.31V816.66H560.04M556.77 810.81H554.09V815.38H558.31M556.09 803.51H551.52V813.1H554.09M569.97 818.96H559.76V819.7H569.05M568.15 818.13H558.4V819.33H559.76M568.3 821.95H560.49V822.54H568.86M567.33 823.31H560.19V824.07H569.54M560.49 822.25H559.57V823.69H560.19M570.81 821.38H558.5V822.97H559.57M570.1 820.45H557.34V822.17H558.5M558.4 818.73H555.91V821.31H557.34M569.11 824.89H561.08V825.78H567.08M561.08 825.34H558.92V826.73H570.08M568.26 827.41H560.29V827.98H569.1M568.62 828.79H559.8V829.61H570.53M560.29 827.7H558.86V829.2H559.8M558.92 826.03H557.53V828.45H558.86M570.11 832.05H563.19V832.71H568.95M568.71 831.58H562.44V832.38H563.19M567.22 831.01H560.85V831.98H562.44M569.14 830.28H559.03V831.49H560.85M568.53 833.94H562.5V834.71H568.88M562.5 834.33H561.68V835.49H570.81M568.65 833.32H559.88V834.91H561.68M570.74 837.12H562.91V837.9H567.4M562.91 837.51H561.71V838.81H568.02M568.37 836.37H559.66V838.16H561.71M559.88 834.11H558.69V837.26H559.66M559.03 830.89H555.98V835.69H558.69M557.53 827.24H553.41V833.29H555.98M555.91 820.02H551.9V830.26H553.41M567.19 839.69H562.57V840.27H567.78M562.57 839.98H561.71V840.48H568.2M568.98 840.68H562.06V841.29H567.95M562.06 840.99H561.36V842.1H568.72M561.71 840.23H559.65V841.54H561.36M569.45 842.92H561.99V843.73H568.56M561.99 843.33H560.47V844.43H568.34M559.65 840.89H558.89V843.88H560.47M568.94 845.85H563.79V846.46H567.02M563.79 846.16H562.67V847.09H568.02M562.67 846.62H562.26V847.6H567.35M569.77 849.18H562.79V849.77H568.9M570.69 848.36H562.25V849.48H562.79M562.26 847.11H560.8V848.92H562.25M567.21 845.3H559.67V848.01H560.8M558.89 842.38H556.5V846.65H559.67M569.62 850.07H562.02V850.64H568.88M562.02 850.36H561.53V851.59H567.01M569.87 852.36H561.88V853.05H568.82M561.53 850.97H560.57V852.7H561.88M569.38 853.7H561.29V854.39H569.47M568.12 856.09H563.07V856.71H568.99M567.51 855.32H562.12V856.4H563.07M561.29 854.05H560.2V855.86H562.12M560.57 851.84H559.2V854.95H560.2M569.71 858.06H564.26V858.63H567.89M567.01 859.45H564.26V860.01H569.89M567.97 860.64H563.94V861.21H567.25M564.26 859.73H563.53V860.92H563.94M564.26 858.35H563.14V860.33H563.53M563.14 859.34H562.08V861.67H568.5M570.6 857.47H560.01V860.51H562.08M559.2 853.4H557.69V858.99H560.01M556.5 844.52H554.8V856.19H557.69M551.9 825.14H549.78V850.36H554.8M551.52 808.3H545V837.75H549.78M570.4 862.33H554.6V862.9H570.13M567.98 863.65H554.2V864.4H569.84M567.64 864.79H552.34V865.41H567.62M554.2 864.02H549V865.1H552.34M567.92 866.36H555.05V867.22H567.99M567.81 867.88H555.28V868.51H568.04M555.05 866.79H551.95V868.2H555.28M549 864.56H546.82V867.49H551.95M554.6 862.61H542.94V866.03H546.82M570.58 869.94H553.09V870.72H570.57M567.12 869.12H550.75V870.33H553.09M569.01 871.17H552.37V871.89H569.63M550.75 869.73H547.71V871.53H552.37M568.17 872.58H550.03V873.21H567.49M570.63 873.87H552.1V874.55H567.74M550.03 872.9H547.28V874.21H552.1M547.71 870.63H543.99V873.55H547.28M542.94 864.32H539.9V872.09H543.99M545 823.02H536.8V868.21H539.9M568.63 875.26H561.7V875.91H568.43M570.66 876.54H560.63V877.31H568.91M570.55 878.02H561.85V878.6H567.21M560.63 876.92H559.66V878.31H561.85M568.62 880.48H563.68V881.22H570.41M568.46 879.56H562.75V880.85H563.68M562.75 880.2H561.27V881.82H569.16M561.27 881.01H560.62V882.56H569.92M559.66 877.62H557.95V881.78H560.62M561.7 875.58H555.81V879.7H557.95M567.17 885.38H562.55V885.94H569.87M567.99 884.76H561.86V885.66H562.55M569.43 884.31H560.18V885.21H561.86M568.82 883.58H558.28V884.76H560.18M555.81 877.64H553.28V884.17H558.28M569.1 886.37H560.77V887.17H567.62M568.92 888.21H560.53V888.89H569.73M560.77 886.77H558.62V888.55H560.53M569.07 889.63H558.83V890.58H569.98M558.62 887.66H555.85V890.1H558.83M567.72 891.27H557.06V892.05H567.25M557.06 891.66H555.48V893.08H567.97M555.85 888.88H551.94V892.37H555.48M568.43 894.91H561.03V895.6H570.33M570.38 894.14H559.05V895.26H561.03M567.15 896.46H559.72V897.15H569.82M570.06 897.66H560.53V898.26H569.56M569.57 899.06H560.58V899.79H568.61M560.53 897.96H558.26V899.42H560.58M559.72 896.8H557.3V898.69H558.26M559.05 894.7H554.85V897.75H557.3M551.94 890.63H550.45V896.22H554.85M569.84 901.21H562.04V902.01H567.66M567.5 900.38H560.03V901.61H562.04M570.57 902.54H562.34V903.11H568.49M568.75 904.35H563.03V904.95H570.27M567.16 904H562.18V904.65H563.03M568.54 903.65H561.08V904.32H562.18M567.49 905.83H562.69V906.42H568.66M568.72 905.45H561.85V906.12H562.69M561.85 905.79H560.55V907.26H567.35M561.08 903.99H559.59V906.52H560.55M562.34 902.83H558.76V905.25H559.59M560.03 900.99H556.39V904.04H558.76M570.66 908.22H561.05V908.93H567.52M567.55 910.64H562.3V911.27H568.93M567.25 909.64H560.95V910.96H562.3M560.95 910.3H559.08V911.7H570.54M561.05 908.57H558.08V911H559.08M556.39 902.52H554.39V909.79H558.08M550.45 893.42H548.77V906.15H554.39M553.28 880.91H545.6V899.79H548.77M570.69 913.11H558.57V913.73H568.14M558.57 913.42H556.8V914.49H568.99M567.97 912.44H554.53V913.95H556.8M568.4 915.27H559.52V916.16H567.18M559.52 915.72H556.32V917.1H568.88M554.53 913.2H552.97V916.41H556.32M567.61 918.81H559.04V919.43H567.05M568.38 918.01H556.38V919.12H559.04M552.97 914.8H551.36V918.57H556.38M570.44 920.23H554.34V921.17H569.29M567.05 921.76H558.7V922.32H569.12M570.01 923.04H557.31V923.61H569.75M567.68 924.24H558.43V924.81H570.84M557.31 923.32H554.75V924.53H558.43M558.7 922.04H553.5V923.92H554.75M554.34 920.7H550.68V922.98H553.5M551.36 916.69H547V921.84H550.68M545.6 890.35H540.3V919.26H547M536.8 845.62H534.5V904.8H540.3M570.55 925.54H558.83V926.13H570.78M570.64 925.16H557.55V925.84H558.83M567.25 928.46H560.99V929.07H569.27M569.7 928.09H558.49V928.77H560.99M569.18 927.68H555.47V928.43H558.49M568.68 926.95H553.58V928.05H555.47M557.55 925.5H551.84V927.5H553.58M567.34 929.64H555.84V930.22H569.89M567.12 931.62H558.7V932.17H568.59M569.93 931.01H557.78V931.9H558.7M557.78 931.45H555.03V932.77H568.68M555.84 929.93H552.73V932.11H555.03M551.84 926.5H547.95V931.02H552.73M570.61 933.27H559.26V933.96H567.89M559.26 933.61H557.68V934.63H567.64M568.63 935.02H556.68V935.69H569.49M567.65 937.64H559.55V938.32H568.69M559.55 937.98H558V938.76H569.98M567.9 936.68H555.77V938.37H558M556.68 935.36H552.63V937.52H555.77M557.68 934.12H551.15V936.44H552.63M570.75 939.33H557.91V939.95H569.81M569.82 940.71H559.01V941.5H568.67M557.91 939.64H555.93V941.1H559.01M568.78 942.12H560.63V942.7H567.55M568 943.43H559.61V944.1H569.7M559.61 943.77H558.35V944.81H570.44M570.44 945.55H560.58V946.29H568.26M567.62 947.09H561.59V947.68H570.01M560.58 945.92H558.98V947.39H561.59M558.35 944.29H556.35V946.65H558.98M560.63 942.41H554.21V945.47H556.35M555.93 940.37H549.79V943.94H554.21M551.15 935.28H546.21V942.16H549.79M547.95 928.76H543.1V938.72H546.21M534.5 875.21H527.8V933.74H543.1M570.74 948.4H558.9V949.25H570.83M568.8 950.72H559.51V951.38H568.13M567.74 950.04H558.1V951.05H559.51M558.9 948.83H557.24V950.54H558.1M569.71 952.13H558.34V952.86H569.65M557.24 949.68H554.16V952.49H558.34M567.81 953.93H558.92V954.48H567.28M570.49 953.41H557.74V954.21H558.92M568.33 955.32H559.43V955.99H567.59M557.74 953.81H556.68V955.65H559.43M556.68 954.73H553.31V956.53H570.48M554.16 951.09H551.21V955.63H553.31M568.8 957.88H560.32V958.43H569.17M569.7 957.21H558.15V958.16H560.32M558.15 957.68H555.83V958.76H569.56M570.11 959.24H557.96V959.79H567.36M568.55 961.45H559.54V962.07H568.94M568.09 960.8H557.37V961.76H559.54M568.3 960.29H556.18V961.28H557.37M557.96 959.51H553.58V960.78H556.18M555.83 958.22H551.84V960.15H553.58M568.45 963.92H560.54V964.57H567.57M567.73 963.14H559.84V964.24H560.54M568.54 962.55H558.29V963.69H559.84M558.29 963.12H555.27V965.24H569.59M551.84 959.18H550.12V964.18H555.27M551.21 953.36H547.62V961.68H550.12M570.54 965.96H561.25V966.51H568.72M569.82 967.18H563.86V967.81H567.72M569.76 969.09H564.32V969.68H567.04M568.13 968.46H563.74V969.38H564.32M563.86 967.5H562.42V968.92H563.74M569.31 970.4H562.99V971.24H570.69M562.42 968.21H560.49V970.82H562.99M560.49 969.52H559.51V972.23H570.21M561.25 966.24H556.34V970.87H559.51M568.13 973.22H560.59V974.01H567.23M560.59 973.61H559.04V974.63H570.75M569.97 976.05H559.77V976.91H567.9M569.31 975.24H557.58V976.48H559.77M559.04 974.12H555.98V975.86H557.58M556.34 968.56H552.61V974.99H555.98M570.03 978.09H558.76V978.71H569.78M569.64 977.63H557.86V978.4H558.76M568.12 979.49H559.36V980.27H569.22M559.36 979.88H557.09V981.21H568.38M557.09 980.54H555.61V982.17H570M569.34 983H557.85V983.66H567.36M557.85 983.33H556.1V984.36H567.79M555.61 981.36H553.26V983.85H556.1M557.86 978.01H552V982.6H553.26M552.61 971.77H546.53V980.31H552M570.82 986.91H558.06V987.62H567.85M569.47 986.23H557.18V987.26H558.06M570.32 985.22H555.33V986.75H557.18M567.41 989.54H559.91V990.38H568.25M559.91 989.96H558.82V991.19H567.99M567.99 988.61H556.93V990.57H558.82M555.33 985.98H552.79V989.59H556.93M570.6 992.54H560.04V993.14H570.34M570.43 991.94H558.34V992.84H560.04M552.79 987.79H550.95V992.39H558.34M568.41 993.98H554.92V994.98H568.28M570.1 995.9H557.56V996.59H568M569.91 997.4H557.43V998.19H570.74M570.45 998.9H558.54V999.68H567.22M557.43 997.8H556.32V999.29H558.54M557.56 996.24H552.26V998.54H556.32M554.92 994.48H549.89V997.39H552.26M550.95 990.09H546.78V995.94H549.89M546.53 976.04H543.41V993.01H546.78M547.62 957.52H539.3V984.53H543.41M570.19 1000.23H560.85V1000.78H570.42M570.33 1001.45H558.68V1002.28H568.9M569.17 1003.01H560.5V1003.77H570.79M558.68 1001.87H557.6V1003.39H560.5M570.67 1004.49H561.28V1005.06H568.9M561.28 1004.78H560.43V1005.83H568.98M560.43 1005.31H559.81V1006.48H569.04M557.6 1002.63H556.31V1005.89H559.81M560.85 1000.51H554.58V1004.26H556.31M568.71 1007.07H560.12V1007.76H568.35M560.12 1007.42H557.74V1008.43H567.36M568.78 1009.71H559.91V1010.44H568.53M567.47 1009.11H558.02V1010.07H559.91M557.74 1007.92H554.85V1009.59H558.02M554.58 1002.38H550.72V1008.76H554.85M569.44 1012.05H559.98V1012.67H570.12M568.25 1011.28H557.57V1012.36H559.98M557.57 1011.82H554.5V1013.35H570.4M569.42 1014.19H556.34V1014.81H570.1M554.5 1012.59H552.79V1014.5H556.34M569.85 1016.11H561.3V1016.7H568.11M568.77 1017.54H560.64V1018.19H569.11M561.3 1016.41H559.05V1017.86H560.64M569.1 1018.65H560.69V1019.23H570.73M559.05 1017.14H558.15V1018.94H560.69M568.11 1015.5H555.46V1018.04H558.15M552.79 1013.54H550.7V1016.77H555.46M567.37 1020.63H560.33V1021.38H570.3M568.6 1019.95H559.13V1021.01H560.33M559.13 1020.48H556.88V1022.23H570.55M569.67 1023.05H559.58V1023.61H568.11M570.03 1023.96H559.12V1024.52H570.27M559.58 1023.33H556.87V1024.24H559.12M556.87 1023.78H555.64V1025.33H568.92M556.88 1021.36H554.64V1024.56H555.64M567.89 1026.09H558.69V1026.71H570.16M554.64 1022.96H551.7V1026.4H558.69M550.7 1015.16H547.01V1024.68H551.7M550.72 1005.57H545V1019.92H547.01M539.3 971.02H530.7V1012.74H545M527.8 904.47H514.7V991.88H530.7M568.87 1028H562.98V1028.64H568.69M567.38 1027.28H561.86V1028.32H562.98M561.86 1027.8H559.75V1029.14H569.4M569.02 1029.83H561.9V1030.57H570.14M568.36 1031.11H562.73V1031.68H570.83M561.9 1030.2H561.01V1031.39H562.73M561.01 1030.8H559.32V1032.44H569.45M559.75 1028.47H558.65V1031.62H559.32M567.65 1034.85H564.1V1035.42H568.03M567.08 1036.14H564.4V1036.88H567.85M564.1 1035.14H563.4V1036.51H564.4M567.39 1034.2H562.12V1035.82H563.4M568.61 1037.88H563.09V1038.47H567.97M567.17 1037.28H562.67V1038.18H563.09M562.12 1035.01H560.44V1037.73H562.67M568.92 1033.33H559.01V1036.37H560.44M569.16 1039.09H562.63V1040.11H567.44M569.56 1041H562.78V1041.64H568.31M569.14 1041.98H563.29V1042.56H568.8M562.78 1041.32H561.87V1042.27H563.29M562.63 1039.6H560.72V1041.79H561.87M569.6 1043.55H560.83V1044.33H570.63M570.28 1044.96H561.66V1045.73H569.83M561.66 1045.35H560.6V1046.25H569.94M560.83 1043.94H560.04V1045.8H560.6M560.72 1040.7H558.61V1044.87H560.04M559.01 1034.85H557.63V1042.78H558.61M558.65 1030.05H553.79V1038.82H557.63M569.69 1046.57H563.56V1047.18H567.96M569.83 1047.85H562.95V1048.58H569.74M563.56 1046.87H562.43V1048.21H562.95M569.84 1049.57H563.56V1050.47H569.13M562.43 1047.54H561.75V1050.02H563.56M568.52 1052.92H564.42V1053.62H569.88M567.14 1052.2H563.64V1053.27H564.42M568.1 1051.33H562.27V1052.73H563.64M569.93 1054.46H563.18V1055.03H567.17M567.91 1055.65H562.98V1056.39H568M563.18 1054.74H562.29V1056.02H562.98M562.29 1055.38H561.48V1056.88H570.71M562.27 1052.03H560.74V1056.13H561.48M561.75 1048.78H559.54V1054.08H560.74M568.11 1058.5H564.67V1059.2H568.39M569.61 1057.69H563.83V1058.85H564.67M570.71 1060.14H564.31V1061.03H567.62M563.83 1058.27H563.15V1060.59H564.31M567.03 1061.9H564.25V1062.63H570.54M564.25 1062.27H563.37V1063.2H569.48M563.37 1062.73H563.05V1063.98H569.42M563.15 1059.43H561.72V1063.36H563.05M569.12 1064.7H564.46V1065.39H568.42M564.46 1065.04H563.96V1066.21H570.2M563.96 1065.63H563.57V1067.1H567.92M567.35 1068.03H564.12V1068.82H567.15M567.24 1069.64H564.69V1070.33H567.03M564.69 1069.99H564.09V1070.95H570.68M564.12 1068.42H563.35V1070.47H564.09M569.78 1071.81H564.72V1072.77H568.28M569.66 1074.27H565.32V1074.99H567.57M568.15 1073.56H564.83V1074.63H565.32M564.72 1072.29H564.43V1074.1H564.83M569.13 1075.75H565.27V1076.34H567.87M567.85 1075.46H565.05V1076.05H565.27M565.05 1075.75H564.52V1077.26H569.2M564.43 1073.19H563.7V1076.51H564.52M563.35 1069.45H562.53V1074.85H563.7M563.57 1066.37H560.69V1072.15H562.53M561.72 1061.39H560.04V1069.26H560.69M559.54 1051.43H557.55V1065.32H560.04M567.22 1077.97H563.4V1078.72H567.91M567.52 1079.43H563.4V1079.98H570.5M563.4 1078.35H562.13V1079.7H563.4M567.93 1081.41H564.97V1082.06H568.36M570.14 1080.75H564.4V1081.74H564.97M564.4 1081.24H563.42V1082.85H569.67M568.32 1084.63H565.14V1085.27H567.58M569.27 1084.15H564.54V1084.95H565.14M570.08 1083.56H563.67V1084.55H564.54M563.42 1082.05H562.14V1084.05H563.67M562.13 1079.02H560.24V1083.05H562.14M568.28 1086.17H563.37V1087.1H568.8M568.77 1087.66H563.69V1088.21H570.8M563.37 1086.63H562.95V1087.93H563.69M570.48 1090H564.14V1090.7H567.37M570.82 1089.11H563.32V1090.35H564.14M562.95 1087.28H561.6V1089.73H563.32M568.74 1091.25H564.94V1091.9H568.72M564.94 1091.57H564.71V1092.42H569.19M564.71 1091.99H563.78V1092.72H568.16M569.54 1093.27H564.2V1093.9H570.72M563.78 1092.36H562.88V1093.58H564.2M570.33 1094.97H564.85V1095.65H569.5M569.41 1094.33H564.14V1095.31H564.85M567.82 1096.95H565.13V1097.74H568.26M568.31 1096.28H564.44V1097.35H565.13M564.14 1094.82H563.56V1096.81H564.44M567.99 1099.25H564.64V1099.86H568.78M570.32 1098.52H564.3V1099.55H564.64M563.56 1095.82H563.25V1099.04H564.3M562.88 1092.97H561.76V1097.43H563.25M561.6 1088.51H559.96V1095.2H561.76M560.24 1081.04H558.31V1091.85H559.96M557.55 1058.38H554.22V1086.44H558.31M553.79 1034.43H548.9V1072.41H554.22M569.04 1100.24H564.04V1100.84H568.05M570.78 1102.88H565.29V1103.54H568.92M570.35 1102.26H565.08V1103.21H565.29M569.09 1101.86H564.42V1102.74H565.08M570.81 1101.43H563.57V1102.3H564.42M564.04 1100.54H562.46V1101.86H563.57M567.42 1104.09H562.9V1104.8H569.82M562.46 1101.2H560.95V1104.45H562.9M570.39 1107.5H563.58V1108.16H568.92M568.01 1106.6H562.7V1107.83H563.58M568.45 1105.7H562.22V1107.22H562.7M560.95 1102.82H559.6V1106.46H562.22M569.64 1109.84H562.22V1110.72H570.1M567.38 1111.43H562.89V1111.99H567.65M562.22 1110.28H560.87V1111.71H562.89M568.23 1108.83H559.65V1110.99H560.87M570.81 1112.49H562.75V1113.29H568.22M569.82 1114.08H563.61V1114.68H568.05M563.61 1114.38H562.64V1115.25H567.68M569.11 1115.93H562.43V1116.76H569.66M567.02 1117.55H563.29V1118.17H569.34M563.29 1117.86H562.27V1118.75H570.57M562.43 1116.35H561.84V1118.31H562.27M562.64 1114.81H560.2V1117.33H561.84M562.75 1112.89H559.38V1116.07H560.2M567.33 1119.31H562.61V1120.06H569.39M559.38 1114.48H558.68V1119.68H562.61M559.65 1109.91H557.21V1117.08H558.68M559.6 1104.64H556.32V1113.5H557.21M570.35 1121.02H562.09V1121.79H568.37M570.3 1122.84H563.46V1123.42H568.34M569.42 1122.31H562.68V1123.13H563.46M562.09 1121.4H560.95V1122.72H562.68M569.02 1124.01H561.86V1124.68H569.03M560.95 1122.06H559.63V1124.34H561.86M556.32 1109.07H552V1123.2H559.63M548.9 1053.42H543.7V1116.14H552M568.84 1125.25H561.45V1125.99H570.07M561.45 1125.62H560.44V1126.68H569.92M567.22 1127.4H561.67V1128.14H567.69M561.67 1127.77H560.46V1128.71H569.76M560.44 1126.15H558.08V1128.24H560.46M568.66 1129.43H561.15V1130.16H569.34M561.15 1129.79H560.52V1130.65H567.99M570.43 1131.66H563.3V1132.3H568.69M567.42 1131.1H562.51V1131.98H563.3M562.51 1131.54H561.27V1132.93H568.89M561.27 1132.24H560.07V1133.69H568.97M560.52 1130.22H557.8V1132.96H560.07M558.08 1127.19H554.9V1131.59H557.8M569.88 1134.41H562.34V1134.97H570.25M562.34 1134.69H560.45V1135.5H567.54M570.31 1135.95H561.93V1136.61H569.14M570.59 1137.32H561.5V1138H569.53M561.5 1137.66H560.81V1138.77H569.73M561.93 1136.28H559.38V1138.21H560.81M560.45 1135.1H557.35V1137.25H559.38M568.67 1139.53H562.86V1140.3H569.46M569.06 1141.99H563.61V1142.78H567.61M569.16 1141.23H563.13V1142.38H563.61M562.86 1139.91H561.55V1141.81H563.13M570.07 1144.7H562.74V1145.27H569.72M570.34 1144.18H562.28V1144.99H562.74M570.66 1143.63H561.04V1144.58H562.28M561.55 1140.86H559.3V1144.1H561.04M567.44 1146.19H560.78V1146.92H570.19M569.52 1145.64H559.71V1146.55H560.78M569.96 1148.56H562.44V1149.22H569.95M568.87 1147.72H561.88V1148.89H562.44M561.88 1148.3H560.66V1149.76H570.48M559.71 1146.1H558.28V1149.03H560.66M559.3 1142.48H556.17V1147.57H558.28M557.35 1136.17H552.19V1145.02H556.17M554.9 1129.39H550.2V1140.6H552.19M543.7 1084.78H540.3V1135H550.2M569.68 1150.2H560.03V1150.8H568.6M568.01 1151.46H559.37V1152.06H567.41M570.8 1152.91H561.6V1153.47H570.5M567.63 1152.57H560.4V1153.19H561.6M559.37 1151.76H558.23V1152.88H560.4M560.03 1150.5H557.08V1152.32H558.23M570.24 1154.76H559.34V1155.64H570.84M568.88 1154.14H558.24V1155.2H559.34M557.08 1151.41H555.7V1154.67H558.24M567.28 1157.29H560.01V1158.03H568.3M569.23 1156.57H557.7V1157.66H560.01M555.7 1153.04H552.46V1157.12H557.7M569.73 1158.86H560.5V1159.56H567.26M569.51 1160.46H561.48V1161.25H570.74M569.89 1160.02H560.43V1160.86H561.48M560.5 1159.21H557.63V1160.44H560.43M569.89 1162.19H561.39V1162.81H570.26M561.39 1162.5H560.51V1163.16H567.92M560.51 1162.83H559.18V1163.79H569.26M559.18 1163.31H558.13V1164.62H569.16M557.63 1159.83H556.26V1163.97H558.13M568.61 1165.47H560.12V1166.39H569.33M560.12 1165.93H559.13V1167.12H568.76M559.13 1166.53H558.34V1167.63H568.29M568.28 1168.37H561.6V1169H567.58M568.51 1169.33H562.44V1169.92H567.03M562.44 1169.63H561.37V1170.47H570.29M561.6 1168.69H559.36V1170.05H561.37M568.18 1171.06H563.17V1171.74H569.73M563.17 1171.4H562.48V1172.3H569.64M570.76 1172.97H561.73V1173.65H567.22M562.48 1171.85H560.74V1173.31H561.73M559.36 1169.37H558.34V1172.58H560.74M558.34 1167.08H555.4V1170.97H558.34M556.26 1161.9H554.01V1169.03H555.4M552.46 1155.08H549V1165.46H554.01M540.3 1109.89H536.8V1160.27H549M536.8 1135.08H529.7V1174.8H570.21M567.62 1176.37H562.53V1176.96H569.21M562.53 1176.67H561.69V1177.65H570.18M568.03 1179.16H562.63V1179.87H567.79M562.63 1179.52H562.17V1180.28H570.5M562.17 1179.9H561.7V1180.78H568.73M568.19 1178.42H560.49V1180.34H561.7M561.69 1177.16H559.56V1179.38H560.49M569.04 1182.56H560.39V1183.38H568.11M568.81 1181.6H558.97V1182.97H560.39M559.56 1178.27H556.52V1182.28H558.97M570.57 1184.14H563.66V1184.98H568.11M563.66 1184.56H562.7V1185.91H567.82M562.7 1185.24H561.54V1186.86H569.63M561.54 1186.05H559.59V1187.77H570.56M570.27 1189.36H562.09V1190.13H567.92M569.21 1188.66H560.54V1189.74H562.09M559.59 1186.91H556.72V1189.2H560.54M568.94 1192.45H562.38V1193.01H570.76M567.28 1191.8H561.77V1192.73H562.38M568.19 1191.09H560.29V1192.27H561.77M560.29 1191.68H559.17V1193.6H569.27M559.17 1192.64H558.23V1194.36H569.29M556.72 1188.05H553.6V1193.5H558.23M556.52 1180.28H551.02V1190.78H553.6M568.66 1196.77H561.32V1197.5H570.73M570.1 1195.99H560.77V1197.13H561.32M569.25 1195.13H559.09V1196.56H560.77M570.04 1198.15H561.75V1198.83H569.86M569.43 1200.38H561.29V1200.99H570.82M570.22 1199.64H560.21V1200.69H561.29M568.87 1201.79H562.07V1202.73H567.32M562.07 1202.26H560.84V1203.64H568.3M560.21 1200.16H558.97V1202.95H560.84M561.75 1198.49H557.77V1201.56H558.97M559.09 1195.85H556.67V1200.03H557.77M567.11 1205.28H562.86V1206.02H570.13M570.13 1204.5H562.33V1205.65H562.86M570.31 1206.56H562.11V1207.12H568.3M562.33 1205.07H560.86V1206.84H562.11M560.86 1205.96H559.44V1207.86H569.15M556.67 1197.94H555.32V1206.91H559.44M570.81 1208.6H562.06V1209.15H569.76M562.06 1208.88H561.25V1209.76H568.81M567.92 1210.47H560.98V1211.24H570.8M561.25 1209.32H560.04V1210.85H560.98M567.19 1212.19H561.4V1213.11H567.93M567.37 1213.72H562.62V1214.33H567.55M562.62 1214.03H561.22V1214.87H569.04M561.4 1212.65H560.35V1214.45H561.22M560.04 1210.08H558.12V1213.55H560.35M555.32 1202.42H554.2V1211.82H558.12M551.02 1185.53H548.9V1207.12H554.2M567.8 1215.32H561.79V1215.87H568.65M567.57 1217.55H561.48V1218.45H569.33M567.92 1216.56H560.83V1218H561.48M561.79 1215.6H558.48V1217.28H560.83M570.53 1220.2H560.33V1221.1H569.82M569.95 1219.29H558.07V1220.65H560.33M558.48 1216.44H556.6V1219.97H558.07M568.7 1221.87H560.84V1222.47H569.72M568.06 1223.3H561.46V1224.12H567.96M561.46 1223.71H559.48V1224.91H568.59M560.84 1222.17H557.04V1224.31H559.48M556.6 1218.2H554.38V1223.24H557.04M569.99 1226.15H561.75V1226.82H569.43M569.04 1225.56H560.77V1226.49H561.75M570.65 1227.37H561.48V1227.94H568.09M561.48 1227.66H560.56V1228.32H568.51M560.77 1226.03H559.15V1227.99H560.56M568.51 1228.98H560.62V1229.97H567.3M568.9 1230.84H561.23V1231.62H570.73M560.62 1229.48H560.01V1231.23H561.23M559.15 1227.01H557.98V1230.35H560.01M554.38 1220.72H553V1228.68H557.98M548.9 1196.32H541.2V1224.7H553M568.47 1232.12H560.51V1232.67H569.51M560.51 1232.39H559.18V1233.45H569.19M559.18 1232.92H557.66V1234.05H567.86M569.09 1234.69H560.09V1235.42H567.68M557.66 1233.48H556.41V1235.06H560.09M567.19 1236.48H561.34V1237.1H569.55M567.75 1236.03H559.44V1236.79H561.34M567.42 1238.95H562.61V1239.65H570.63M562.61 1239.3H561.66V1240.19H569.02M568.64 1237.98H559.52V1239.75H561.66M568.8 1241.02H560.97V1241.82H570.64M559.52 1238.86H557.9V1241.42H560.97M559.44 1236.41H556.7V1240.14H557.9M556.41 1234.27H553.82V1238.27H556.7M568.4 1242.49H561.08V1243.1H568.49M561.08 1242.79H560.14V1243.86H570.41M567.74 1245.64H563.87V1246.2H568.81M563.87 1245.92H563V1246.64H568.19M570.62 1244.88H561.92V1246.28H563M567.93 1247.37H562.97V1247.94H567.46M567.6 1246.86H562.41V1247.65H562.97M569.55 1248.62H562.69V1249.18H570.31M567.65 1248.25H561.57V1248.9H562.69M562.41 1247.26H561.04V1248.58H561.57M561.92 1245.58H560.17V1247.92H561.04M568.72 1250.21H561.18V1251.01H568.92M568.62 1249.69H559.87V1250.61H561.18M569.48 1251.87H562.36V1252.59H568.59M562.36 1252.23H560.53V1253.24H570.68M559.87 1250.15H559.08V1252.74H560.53M560.17 1246.75H557.9V1251.44H559.08M560.14 1243.33H555.19V1249.1H557.9M570.68 1254.08H560.27V1254.95H570.43M568.38 1255.62H561.38V1256.27H569.55M568.96 1256.79H560.99V1257.47H570.41M561.38 1255.95H560.09V1257.13H560.99M560.27 1254.51H558.38V1256.54H560.09M555.19 1246.21H553.04V1255.53H558.38M553.82 1236.27H551V1250.87H553.04M569.28 1258.47H558.92V1259.32H569.96M568.59 1259.93H560.28V1260.67H569.16M567.89 1261.46H561.87V1262.05H568.02M560.28 1260.3H559.43V1261.76H561.87M558.92 1258.89H557.31V1261.03H559.43M569.4 1262.65H561.92V1263.21H569.68M561.92 1262.93H561.31V1263.85H568.01M570.06 1264.55H561.18V1265.37H568.74M569.89 1266.12H562.26V1266.92H568.93M562.26 1266.52H560.51V1267.66H569.01M561.18 1264.96H558.92V1267.09H560.51M570.18 1268.17H562.36V1268.74H569.76M562.36 1268.46H561.95V1269.15H570.69M570.38 1269.56H562.45V1270.31H568.78M568.86 1271.31H563.04V1272.02H567.97M568.43 1272.73H562.66V1273.61H568.72M563.04 1271.66H561.88V1273.17H562.66M562.45 1269.94H560.11V1272.42H561.88M561.95 1268.8H559.12V1271.18H560.11M558.92 1266.02H556.81V1269.99H559.12M561.31 1263.39H555.34V1268.01H556.81M557.31 1259.96H553.39V1265.7H555.34M568.68 1274.32H559.42V1274.97H567.33M567.52 1275.62H559.3V1276.42H567.41M559.42 1274.65H557.21V1276.02H559.3M567.45 1278.43H560.1V1279.47H568M568.49 1277.41H559.14V1278.95H560.1M557.21 1275.33H556.02V1278.18H559.14M553.39 1262.83H552V1276.75H556.02M551 1243.57H543.1V1269.79H552M541.2 1210.51H537.4V1256.68H543.1M529.7 1154.94H528.4V1233.6H537.4M514.7 948.18H509.9V1194.27H528.4M568.61 1280.83H554V1281.52H570.16M570.76 1280.22H551.44V1281.17H554M570.81 1283.13H555.94V1283.73H569.8M568.58 1282.61H553.84V1283.43H555.94M567.51 1284.52H554.31V1285.12H569.08M553.84 1283.02H551.25V1284.82H554.31M570.67 1282.08H546.6V1283.92H551.25M551.44 1280.69H544.07V1283H546.6M569.81 1285.48H552.79V1286.1H568.39M552.79 1285.79H551.48V1286.84H567.25M570.84 1287.36H558.53V1287.97H570.45M558.53 1287.66H557.16V1288.5H567.26M557.16 1288.08H556.19V1289.02H568.72M567.09 1289.77H557.58V1290.49H567.5M567.86 1291.01H556.97V1291.68H569.87M557.58 1290.13H555.96V1291.35H556.97M556.19 1288.55H551.28V1290.74H555.96M551.48 1286.31H545.35V1289.65H551.28M544.07 1281.85H539.03V1287.98H545.35M569.33 1292.47H550.21V1293.3H568.46M550.21 1292.88H547.5V1294.21H570.2M547.5 1293.54H543.79V1294.78H570.47M539.03 1284.91H529.7V1294.16H543.79M567.9 1296.63H543.55V1297.3H567.83M567.55 1295.96H539.04V1296.96H543.55M570.28 1295.39H534.39V1296.46H539.04M568.88 1297.63H547.65V1298.18H567.01M547.65 1297.9H544.41V1298.79H570.35M570.35 1300.19H539.16V1301.01H568.37M569.46 1299.41H536.72V1300.6H539.16M544.41 1298.35H533.02V1300H536.72M568.87 1301.96H544.28V1302.94H570.64M568.36 1303.8H548.55V1304.43H569.66M569.13 1305.72H549.95V1306.51H569.55M568.84 1305.07H546V1306.12H549.95M548.55 1304.11H540.3V1305.59H546M544.28 1302.45H533.77V1304.85H540.3M533.02 1299.17H525.25V1303.65H533.77M534.39 1295.92H517.2V1301.41H525.25M529.7 1289.54H505.3V1298.67H517.2M509.9 1071.22H483.6V1294.1H505.3" fill="none" stroke="#111" stroke-width="0.65"/>
<path d="M580.7 802.3H570.6H567.97v.9H569.23v.9H567.84v.9H566.91v.9H566.18v.9H566.96v.9H566.46v.9H569.73v.9H566.15v.9H566.19v.9H563.51v.9H564.59v.9H563.14v.9H564.65v.9H566.62v.9H561.43v.9H561.19v.9H569.63v.9H568.1v.9H567.9v.9H566.94v.9H567.12v.9H567.15v.9H566.67v.9H567.21v.9H569.3v.9H569.07v.9H564.25v.9H564.3v.9H566.67v.9H563.48v.9H564.89v.9H567.96v.9H562.67v.9H563.79v.9H561.67v.9H562.7v.9H567.55v.9H562.5v.9H567.61v.9H568.65v.9H567.96v.9H567.36v.9H568.92v.9H566.6v.9H566.55v.9H569.52v.9H566.71v.9H567.39v.9H568.21v.9H566.11v.9H564.68v.9H565.96v.9H568.42v.9H565.87v.9H564.45v.9H563.56v.9H564.31v.9H569.04v.9H562.81v.9H564.27v.9H568.17v.9H567.52v.9H567.99v.9H563.17v.9H566.93v.9H561.98v.9H567.36v.9H563.24v.9H563.74v.9H570.44v.9H567.11v.9H566.46v.9H568.94v.9H566.12v.9H564.89v.9H564.65v.9H564.22v.9H566.36v.9H563.98v.9H564.72v.9H562.03v.9H562.74v.9H561.52v.9H560.96v.9H567.94v.9H569.54v.9H568.87v.9H566.58v.9H567.74v.9H566.6v.9H566.68v.9H567.79v.9H566.13v.9H564.71v.9H566.88v.9H566.57v.9H567.51v.9H567.43v.9H563.46v.9H563.72v.9H562.23v.9H563.35v.9H561.6v.9H566.11v.9H566.33v.9H565.86v.9H567.47v.9H568.95v.9H568.01v.9H569.57v.9H569.86v.9H567.03v.9H566.55v.9H566.67v.9H565.02v.9H564.87v.9H564.25v.9H565.39v.9H566.91v.9H567.89v.9H563.73v.9H567.38v.9H569.93v.9H563.19v.9H567.35v.9H563.08v.9H566.17v.9H563.94v.9H568.67v.9H568.49v.9H568.44v.9H568.86v.9H566.58v.9H565.74v.9H567.75v.9H569.15v.9H566.74v.9H563.92v.9H566.14v.9H563.3v.9H567.99v.9H562.09v.9H569.11v.9H567.53v.9H567.81v.9H567.01v.9H567.96v.9H566.2v.9H567.42v.9H566.25v.9H566.13v.9H563.76v.9H564v.9H564.64v.9H562.79v.9H563.61v.9H562.61v.9H563.52v.9H562.8v.9H567.56v.9H567.76v.9H567.01v.9H567.2v.9H569.85v.9H568.9v.9H565.35v.9H565.59v.9H564.51v.9H564.16v.9H567.13v.9H563.04v.9H564.33v.9H563.39v.9H564.25v.9H565.92v.9H563.87v.9H563.76v.9H564.89v.9H568.5v.9H568.79v.9H569.16v.9H566.83v.9H567.87v.9H567.64v.9H565.95v.9H565.91v.9H566.61v.9H567.09v.9H564.66v.9H567.19v.9H565.59v.9H565.88v.9H562.55v.9H566.48v.9H563.84v.9H563.98v.9H568.51v.9H566.42v.9H561.02v.9H569.14v.9H569.17v.9H567.09v.9H567.63v.9H567.13v.9H566.47v.9H568.26v.9H567.19v.9H565.77v.9H568.32v.9H567.81v.9H565.18v.9H565.09v.9H566.12v.9H568.23v.9H564.46v.9H566.73v.9H564.33v.9H566.85v.9H567.59v.9H564.01v.9H565.49v.9H565.46v.9H564.88v.9H564.59v.9H564.35v.9H563.08v.9H567.47v.9H562.53v.9H563.58v.9H561.29v.9H568.03v.9H569v.9H567.34v.9H567.08v.9H567.18v.9H567.13v.9H565.35v.9H567.15v.9H568.84v.9H566.86v.9H569.18v.9H563.76v.9H563.63v.9H567.16v.9H563.96v.9H566.64v.9H562.17v.9H564.49v.9H568.2v.9H562.45v.9H567.62v.9H567.1v.9H567.37v.9H568.32v.9H566.12v.9H569.5v.9H568.58v.9H566.99v.9H568.71v.9H563.58v.9H564.07v.9H562.98v.9H563.34v.9H566.13v.9H565.36v.9H562.48v.9H568.11v.9H568.68v.9H567.36v.9H568.13v.9H567.35v.9H566.6v.9H566.87v.9H567.34v.9H566.72v.9H568.21v.9H566.95v.9H565.34v.9H566.42v.9H569.79v.9H564.75v.9H567.96v.9H569.35v.9H565.13v.9H564.09v.9H568.03v.9H565.33v.9H565.07v.9H567.66v.9H563.76v.9H566.16v.9H563.04v.9H563.98v.9H563.67v.9H565.88v.9H561.82v.9H569.52v.9H569.59v.9H569.57v.9H570.2v.9H567.54v.9H569.37v.9H568.92v.9H567.1v.9H565.91v.9H567.88v.9H565.4v.9H565.54v.9H563.74v.9H563.85v.9H562.77v.9H565.69v.9H562.52v.9H565.53v.9H565.65v.9H564.29v.9H569.08v.9H561.76v.9H568.13v.9H569.72v.9H567.91v.9H568.29v.9H565.67v.9H567.57v.9H567v.9H566.99v.9H568.13v.9H564.6v.9H566.22v.9H566.21v.9H565.62v.9H565.02v.9H561.8v.9H565.78v.9H568.79v.9H567.88v.9H568.44v.9H569.1v.9H567.62v.9H565.27v.9H565.02v.9H566.37v.9H566.12v.9H567.57v.9H564.28v.9H563.66v.9H566.21v.9H563.41v.9H567.55v.9H564.99v.9H564.98v.9H568.12v.9H568.18v.9H568.2v.9H567.73v.9H567.76v.9H568.4v.9H566.43v.9H566.31v.9H567.46v.9H567.25v.9H565.29v.9H569.77v.9H565.36v.9H568.04v.9H567.78v.9H566.64v.9H565.12v.9H566.54v.9H565.27v.9H565.12v.9H563.04v.9H564.42v.9H566.25v.9H563.76v.9H564.01v.9H565.61v.9H562.68v.9H569.69v.9H560.89v.9H561.24v.9H568.08v.9H561.75v.9H567.46v.9H568.18v.9H567.1v.9H568.32v.9H566.59v.9H569.68v.9H565.36v.9H567.34v.9H567.79v.9H565.8v.9H565.16v.9H568.85v.9H567.09v.9H565.02v.9H563.6v.9H562.28v.9H566.78v.9H568.71v.9H567.23v.9H568.4v.9H568.03v.9H568.15v.9H569.38v.9H566.22v.9H566.93v.9H566.24v.9H568.54v.9H566.78v.9H567.55v.9H567.5v.9H566.72v.9H565.53v.9H566.11v.9H564.86v.9H563.54v.9H564.97v.9H563.83v.9H562.99v.9H562.68v.9H565.72v.9H562.82v.9H563.31v.9H569.35v.9H562.27v.9H561.67v.9H561.45v.9H564.86v.9H561.97v.9H561.18v.9H568.08v.9H568.46v.9H566.97v.9H567.63v.9H568.43v.9H567.5v.9H566.73v.9H567.31v.9H567.34v.9H565.84v.9H567.03v.9H565.97v.9H568.59v.9H566.5v.9H568.04v.9H565.12v.9H565.9v.9H565.36v.9H569.06v.9H561.48v.9H566.24v.9H569.61v.9H562.87v.9H568.55v.9H567.59v.9H569.77v.9H568.04v.9H566.95v.9H568.51v.9H568.94v.9H569.43v.9H566.32v.9H565.87v.9H566.88v.9H567.07v.9H564.4v.9H567.34v.9H564.5v.9H564.22v.9H565.63v.9H563.81v.9H566.06v.9H562.78v.9H563.25v.9H563.65v.9H562.28v.9H562.91v.9H561.63v.9H564.7v.9H564.35v.9H560.4v.9H568.84v.9H567.48v.9H568.35v.9H567.94v.9H567.26v.9H569.19v.9H565.95v.9H566.39v.9H569.36v.9H568.75v.9H567.16v.9H566.23v.9H564.35v.9H564.07v.9H564.04v.9H563.81v.9H564.69v.9H568.06v.9H565.33v.9H562.64v.9H569.06v.9H565.75v.9H569.29v.9H564.6v.9H568.42v.9H569.13v.9H567.74v.9H569.15v.9H566.53v.9H566.09v.9H567.2v.9H565.28v.9H565.7v.9H565.84v.9H565.23v.9H565.88v.9H567.83v.9H563.21v.9H566.71v.9H562.64v.9H565.11v.9H563.75v.9H563.07v.9H564.63v.9H560.34v.9H568.65v.9H568.64v.9H567.2v.9H566.88v.9H568.16v.9H569.05v.9H567.29v.9H567.37v.9H567.29v.9H566.56v.9H569.96v.9H566.34v.9H565.74v.9H566.05v.9H570.33v.9H565.64v.9H564.08v.9H564.78v.9H565.38v.9H566v.9H567.01v.9H565.23v.9H562.59v.9H567.34v.9H563.8v.9H564.19v.9H567.86v.9H566v.9H565.74v.9H567.68v.9H567.54v.9H561.29v.9H580.7Z" fill="#000"/>
</svg>
</body></html>
